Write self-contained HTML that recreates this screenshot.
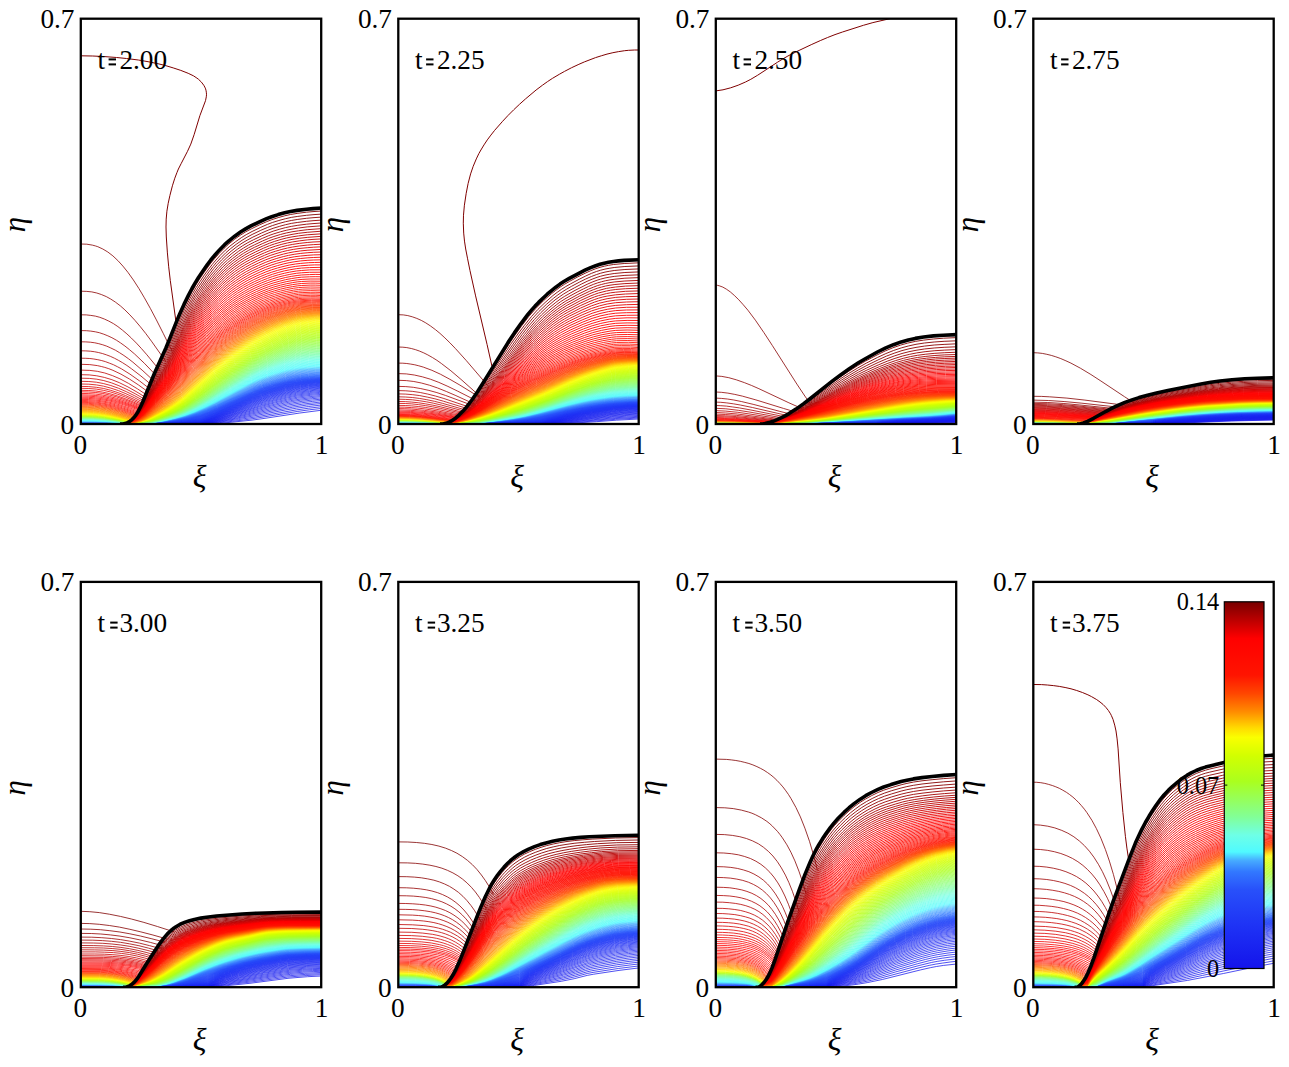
<!DOCTYPE html><html><head><meta charset="utf-8"><title>contours</title><style>
html,body{margin:0;padding:0;background:#fff}svg{display:block}text{font-family:"Liberation Serif",serif;fill:#000}.a{font-size:27.3px}.i{font-style:italic;font-size:32px}.e{font-style:italic;font-size:31px}path{fill:none}.f{fill:none;stroke:#000;stroke-width:2.3}.k{stroke:#000;stroke-width:3.6;stroke-linejoin:round}.l path{stroke-width:.8}
</style></head><body>
<svg width="1289" height="1067" viewBox="0 0 1289 1067">
<rect width="1289" height="1067" fill="#fff"/>
<clipPath id="c0"><rect x="80.8" y="18.7" width="240.4" height="405.3"/></clipPath>
<g clip-path="url(#c0)">
<g class="l">
<path d="M80.8 244l6 0.2 5.5 0.9 3 0.8 2.5 0.8 5 2.3 5 3 5.1 3.9 5 4.7 5 5.5 5 6.2 5.5 7.7 5.5 8.5 5.5 9.3 6 10.7 6 11.4 7 13.8 8.6 17.4" stroke="#860000" stroke-width="1"/>
<path d="M80.8 291.2l6 0.2 5 0.5 5 1.1 4.5 1.5 5 2.1 4.5 2.5 4.6 3 5 3.8 4.5 4 5 5 5 5.4 5.5 6.5 5.5 6.9 6 8.1 14 19.8" stroke="#8c0000" stroke-width="1"/>
<path d="M80.8 314.8l5.5 0.1 4.5 0.5 4.5 0.7 4.5 1.2 4.5 1.7 4.5 2.1 4.6 2.5 4.5 3 4.5 3.5 4.5 3.8 4.5 4.2 5 5 5 5.4 5.5 6.3 13.5 16.4" stroke="#930000" stroke-width="1"/>
<path d="M80.8 330.6l5.5 0.1 4.5 0.4 4.5 0.7 4 0.9 4.5 1.5 4 1.6 4.1 1.9 4.5 2.5 4 2.6 4.5 3.2 4.5 3.6 5 4.2 10 9.5 13 13.5" stroke="#9a0000" stroke-width="1"/>
<path d="M80.8 341.8l5 0.1 4.5 0.3 4.5 0.6 4 0.9 4 1.1 4 1.4 4 1.8 4.6 2.2 4 2.4 4.5 2.9 4.5 3.2 4.5 3.5 10 8.6 12 11.1" stroke="#a10000" stroke-width="1"/>
<path d="M80.8 350.8l5 0.1 4.5 0.3 4 0.5 4 0.8 4 1 4 1.3 4 1.5 4.1 1.9 4 2.1 4 2.3 4.5 2.9 4.5 3.2 9.5 7.3 12.5 10.5" stroke="#a70000" stroke-width="1"/>
<path d="M80.8 358.2l5 0.1 4 0.2 4 0.5 4 0.7 4 0.9 3.5 1 4 1.5 4.1 1.6 4 2 4 2.1 8.5 5.3 9.5 6.7 12 9.3" stroke="#ae0000" stroke-width="1"/>
<path d="M80.8 364.3l9 0.3 7.5 1 4 0.9 3.5 0.9 4 1.3 4.1 1.6 8 3.8 8.5 4.9 9 5.9 11.5 8.3" stroke="#b40000" stroke-width="1"/>
<path d="M80.8 370.1l9 0.3 7.5 0.9 7.5 1.7 7.6 2.6 7.5 3.2 8.5 4.5 9 5.5 11.5 7.6" stroke="#bc0000" stroke-width="1"/>
<path d="M80.8 374.7l8.5 0.2 7.5 0.9 7.5 1.6 7.6 2.3 7.5 3 8.5 4.2 9 5.1 11 6.8" stroke="#c30000" stroke-width="1"/>
<path d="M80.8 378.2l8.5 0.2 7.5 0.8 7 1.4 7.6 2.2 7.5 2.9 8 3.7 9 4.7 11 6.4" stroke="#c90000" stroke-width="1"/>
<path d="M80.8 381.3l8 0.2 7.5 0.7 7 1.3 7.5 2 7.6 2.7 8 3.5 8.5 4.2 11 6" stroke="#d00000" stroke-width="1"/>
<path d="M80.8 384l8 0.2 7.5 0.7 7 1.2 7.5 2 7.6 2.5 7.5 3.1 8.5 4 11 5.7" stroke="#d60000" stroke-width=".95"/>
<path d="M80.8 386.4l8 0.2 7.5 0.7 7 1.1 7 1.8 7.6 2.4 7.5 2.9 8.5 3.8 11 5.4" stroke="#dd0000" stroke-width=".95"/>
<path d="M80.8 388.3l8 0.2 7.5 0.6 7 1.2 7 1.6 7.6 2.4 7.5 2.8 8.5 3.7 10.5 4.9" stroke="#e40000" stroke-width=".9"/>
<path d="M80.8 390.3l8 0.2 7 0.5 7 1.1 7 1.6 7.6 2.2 7.5 2.7 8.5 3.4 10.5 4.7" stroke="#eb0000" stroke-width=".9"/>
<path d="M80.8 391.8l8 0.2 7 0.5 7 1 7 1.6 7.1 1.9 7.5 2.6 8.5 3.3 10.5 4.5" stroke="#f00000" stroke-width=".85"/>
<path d="M80.8 393.4l8 0.2 7 0.5 6.5 0.9 7 1.4 7.1 1.9 7.5 2.4 8.5 3.2 10.5 4.3" stroke="#f70000" stroke-width=".85"/>
<path d="M80.8 394.8l8 0.2 7 0.5 6.5 0.8 7 1.4 7.1 1.8 7.5 2.4 8 2.9 10.5 4.1" stroke="#fd0000"/>
<path d="M80.8 396l8 0.2 7 0.5 6.5 0.8 7 1.4 7.1 1.7 7.5 2.3 8 2.8 10.5 4" stroke="#ff0100"/>
<path d="M80.8 397.2l7.5 0.1 7 0.5 6.5 0.8 7 1.3 7.1 1.6 7.5 2.2 8 2.7 10.5 3.8" stroke="#ff0200"/>
<path d="M80.8 398.3l7.5 0.1 7 0.5 6.5 0.8 7 1.2 7.1 1.7 7.5 2.1 8 2.7 10 3.5" stroke="#ff0400"/>
<path d="M80.8 399.4l7.5 0.1 7 0.5 6.5 0.8 7 1.3 7.1 1.6 7 2.1 8 2.6 10 3.6" stroke="#ff0700"/>
<path d="M80.8 400.4l7.5 0.2 7 0.4 6.5 0.8 6.5 1.2 7.1 1.7 7 2 8 2.7 10 3.6" stroke="#ff0a00"/>
<path d="M80.8 401.4l7.5 0.2 7 0.4 6.5 0.9 6.5 1.2 7.1 1.6 7 2.1 7.5 2.5 10 3.6" stroke="#ff0d00"/>
<path d="M80.8 402.4l7.5 0.1 6.5 0.4 6.5 0.8 6.5 1.2 7.1 1.7 7 2 7.5 2.5 10 3.6" stroke="#ff1100"/>
<path d="M80.8 403.3l7.5 0.1 6.5 0.4 6.5 0.9 6.5 1.1 6.6 1.6 7 2 7.5 2.5 10 3.6" stroke="#ff1400"/>
<path d="M80.8 404.2l7.5 0.1 6.5 0.4 6 0.8 6.5 1.1 6.6 1.6 7 1.9 7.5 2.5 10 3.6" stroke="#ff2400"/>
<path d="M80.8 405l7.5 0.1 6.5 0.5 6 0.7 6.5 1.2 6.6 1.5 7 2 7.5 2.4 9.5 3.4" stroke="#ff3600"/>
<path d="M80.8 405.8l7 0.1 6.5 0.4 6 0.7 6.5 1.2 6.6 1.5 7 1.9 7.5 2.4 9.5 3.4" stroke="#ff4700"/>
<path d="M80.8 406.6l7 0.1 6.5 0.4 6 0.7 6.5 1.1 6.6 1.5 6.5 1.8 7.5 2.4 9.5 3.3" stroke="#ff5b00"/>
<path d="M80.8 407.3l7 0.1 6.5 0.4 6 0.7 6 1.1 6.6 1.4 6.5 1.8 7.5 2.3 9.5 3.3" stroke="#ff6b00"/>
<path d="M80.8 408l7 0.1 6 0.4 6 0.6 6.5 1.1 6.6 1.5 6.5 1.8 7.5 2.3 9 3" stroke="#ff7700"/>
<path d="M80.8 408.7l7 0.1 6 0.3 6 0.7 6 1 6.6 1.4 6.5 1.8 7.5 2.2 9 3" stroke="#ff8200"/>
<path d="M80.8 409.3l7 0.1 6 0.4 6 0.6 6 1 6.1 1.3 6.5 1.7 7.5 2.3 9 2.9" stroke="#ff8c00"/>
<path d="M80.8 409.9l7 0.1 6 0.4 6 0.7 6 0.9 6.1 1.3 6.5 1.7 7.5 2.2 9 2.9" stroke="#ff9700"/>
<path d="M80.8 410.5l6.5 0.1 6 0.3 6 0.7 6 0.9 6.1 1.3 6.5 1.6 7.5 2.1 9 2.9" stroke="#ffa200"/>
<path d="M80.8 411.1l6.5 0.1 6 0.3 6 0.6 6 1 6.1 1.2 6.5 1.6 16 4.8" stroke="#ffad00"/>
<path d="M80.8 411.6l6.5 0.1 6 0.3 6 0.7 6 0.9 6.1 1.2 6.5 1.6 15.5 4.5" stroke="#ffb800"/>
<path d="M80.8 412.1l6.5 0.1 6 0.4 5.5 0.5 6 0.9 6 1.2 6.6 1.5 16 4.6" stroke="#ffc500"/>
<path d="M80.8 412.6l6.5 0.1 6 0.3 5.5 0.6 6 0.9 6 1.1 6.6 1.5 15.5 4.4" stroke="#ffd200"/>
<path d="M80.8 413.1l6.5 0.1 6 0.3 5.5 0.5 6 0.9 6 1.1 6.1 1.4 15.5 4.2" stroke="#ffdf00"/>
<path d="M80.8 413.6l6.5 0.1 6 0.3 5.5 0.5 6 0.8 6 1.1 6.1 1.4 15.5 4.1" stroke="#fdeb00"/>
<path d="M80.8 414l6.5 0.1 5.5 0.3 5.5 0.5 6 0.8 6 1 6.1 1.3 15.5 4.1" stroke="#fbf800"/>
<path d="M80.8 414.5l6.5 0.1 5.5 0.2 5.5 0.5 6 0.8 6 1 6.1 1.3 15 3.8" stroke="#f4ff00"/>
<path d="M80.8 414.9l6.5 0.1 5.5 0.3 5.5 0.4 6 0.8 6 1 6.6 1.4 8.5 2 6 1.6" stroke="#e8ff00"/>
<path d="M80.8 415.4l6.5 0.1 5.5 0.2 5.5 0.5 6 0.7 6 1 6.6 1.3 8 1.9 6 1.6" stroke="#d8ff00"/>
<path d="M80.8 415.8l12 0.3 5.5 0.5 6 0.7 6 1 7.1 1.4 7 1.6 6 1.6" stroke="#caff06"/>
<path d="M80.8 416.3l12 0.3 5.5 0.4 6 0.7 6.5 1.1 7.1 1.3 6.5 1.5 6 1.6" stroke="#bdff10"/>
<path d="M80.8 416.7l12 0.3 5.5 0.5 6 0.6 6.5 1 7.6 1.4 5.5 1.3 6 1.5" stroke="#afff1a"/>
<path d="M80.8 417.2l12 0.3 5.5 0.4 6 0.6 7.1 1.1 8 1.5 10 2.4" stroke="#a3ff32"/>
<path d="M80.8 417.6l12 0.3 11.5 1 6.5 1 7.6 1.3 5 1 5.5 1.4" stroke="#99ff50"/>
<path d="M80.8 418.1l12.5 0.3 11.5 1 13.6 2.1 5 1 5.5 1.4" stroke="#90ff6c"/>
<path d="M80.8 418.5l12.5 0.3 12 1 12.6 1.9 5 1 5.5 1.4" stroke="#88ff85"/>
<path d="M80.8 419l13 0.3 12 1 11.6 1.6 5 1 5.5 1.4" stroke="#80ff9f"/>
<path d="M80.8 419.4l13 0.3 12.5 1 11.1 1.5 5 1 5 1.2" stroke="#78ffbc"/>
<path d="M80.8 419.9l13 0.2 12.5 1 10.1 1.2 4.5 0.9 5.5 1.3" stroke="#71ffda"/>
<path d="M80.8 420.3l13 0.3 12.5 0.8 9.6 1.1 9 1.9" stroke="#67feeb"/>
<path d="M80.8 420.8l13.5 0.2 13 0.8 8.1 0.9 8.5 1.8" stroke="#5cfcf5"/>
<path d="M80.8 421.2l13.5 0.2 13 0.8 7.6 0.8 7.5 1.4" stroke="#51fafe"/>
<path d="M80.8 421.7l14 0.2 14 0.7 6.1 0.7 6.5 1.2" stroke="#4bd5ff"/>
<path d="M80.8 422.1l14 0.2 13.5 0.6 5.6 0.5 6 1.1" stroke="#45a7ff"/>
<path d="M80.8 422.6l14 0.1 13 0.4 5.1 0.5 5.5 0.9" stroke="#337bff"/>
<path d="M80.8 423l13.5 0.1 12.5 0.3 5.1 0.4 5 0.7" stroke="#274efa"/>
<path d="M80.8 423.5l25.5 0.2 4 0.2 4.6 0.6" stroke="#1f35f5"/>
</g>
<g stroke-width=".9">
<path d="M124 423.8l2-0.5 2-0.8 2-1.2 2-1.5 2-2 1.5-1.9 1.5-2.1 2-3.4 2-3.9 2.5-5.4 12-28.2 11.1-24 10.2-24.9 3.6-8.5 4.3-9.5 4.4-8.8 2.9-5.5 3.6-6.3 3.6-5.8 4.4-6.6 7.2-9.9 3.7-4.4 4.3-4.9 5.1-5.3 5-4.6 5.8-4.7 5.8-4.1 5.1-3.2 5.8-3.1 8-3.9 7.2-3.2 5.1-2 6.5-2.1 6.5-1.8 5.8-1.3 6.6-1.1 9.4-1.2 6.5-0.6 8.7-0.6" stroke="#7f0000"/>
<path d="M124 423.8l2-0.5 2-0.8 2-1.1 2-1.4 2-2 1.5-1.7 1.5-2.1 2-3.2 2-3.8 2.5-5.2 12-27.2 10.4-21.6 3.6-8.3 10.9-26.2 4.3-9.5 5.1-10.3 2.9-5.4 3.6-6.2 3.7-5.7 4.3-6.5 4.4-6 3.6-4.7 3.6-4.3 4.3-4.8 5.1-5.1 4.4-3.9 5.8-4.5 5.8-4.1 5-3.1 5.8-3.1 8.7-4.2 6.6-2.9 5-1.9 6.5-2 6.6-1.8 5.8-1.3 6.5-1 8.7-1.1 6.5-0.6 8.7-0.6" stroke="#860000"/>
<path d="M124 423.8l2.5-0.6 2-0.8 2-1.2 2-1.5 1.5-1.4 2-2.3 1.5-2.1 2-3.2 2-3.8 2.5-5.1 11.5-25.1 10.4-20.9 3.6-8.1 11.6-27.5 5.1-10.9 5.1-10 2.9-5.2 3.6-6 8-12 3.6-4.9 3.6-4.6 3.6-4.3 4.4-4.7 5-5 4.4-3.8 5.8-4.5 5.8-4 5.1-3.1 5-2.7 8.7-4.2 6.6-2.8 5-1.9 6.5-2.1 6.6-1.8 5.8-1.2 6.5-1.1 8.7-1.1 6.5-0.6 8.7-0.6" stroke="#8c0000"/>
<path d="M124 423.8l2.5-0.6 2-0.8 2-1 2-1.5 1.5-1.3 2-2.3 1.5-2 2-3.1 2-3.5 2.5-5 11-23.2 8.7-16.8 2.9-5.9 3.6-8 8-18.9 3.6-8.2 5.1-10.8 5.1-9.9 2.9-5.1 3.6-5.9 8-11.9 3.6-4.8 3.6-4.6 3.6-4.2 4.4-4.7 4.3-4.2 5.1-4.4 5.8-4.5 5.1-3.5 5.1-3 5.8-3.1 8.7-4.1 6.5-2.8 5-1.9 6.6-2 5.8-1.6 5.8-1.3 6.5-1 8.7-1.1 6.5-0.6 8.7-0.6" stroke="#930000"/>
<path d="M124.5 423.8l2.5-0.7 2-0.8 2-1.1 2-1.5 1.5-1.4 2-2.3 1.5-2 2-3.1 4-7.3 11-22.4 8-14.9 3.6-7.1 4.4-9.5 7.2-17 4.4-9.7 5.8-12.1 4.3-8.3 2.9-5 3.6-5.8 4.4-6.6 3.6-5.1 3.6-4.9 3.7-4.4 3.6-4.2 4.3-4.6 4.4-4.2 5-4.3 5.8-4.4 5.1-3.4 5.1-3 5.8-3 8-3.8 6.5-2.8 5-1.9 6.6-2 5.8-1.6 5.8-1.2 6.5-1.1 8.7-1.1 6.5-0.6 8.7-0.6" stroke="#9a0000"/>
<path d="M124.5 423.8l2.5-0.7 2-0.8 2-1 2-1.4 1.5-1.4 2-2.1 3.5-5 4-7.1 11-21.6 8-14.4 3.6-6.9 4.4-9.3 7.9-18.4 4.4-9.6 5.8-11.9 4.3-8.1 6.6-10.7 4.3-6.5 3.6-5 3.7-4.8 3.6-4.4 3.6-4 4.3-4.6 4.4-4.1 5.1-4.2 5.8-4.4 5-3.3 5.1-3 5.8-3 8-3.7 6.5-2.8 5.1-1.8 6.5-2 5.8-1.5 5.8-1.2 6.5-1.1 8.7-1.1 14.5-1.1" stroke="#a10000"/>
<path d="M124.5 423.8l2.5-0.6 2.5-1 2-1.1 2-1.5 1.5-1.3 2-2.3 3.5-4.9 4-7 10.5-20.1 8-14 3.6-6.8 4.4-9 8.7-19.7 4.3-9.4 5.1-10.3 4.3-8.1 6.6-10.6 4.3-6.5 3.6-5.1 3.7-4.7 3.6-4.4 3.6-4.1 4.3-4.5 4.4-4.1 5.1-4.2 5.8-4.4 5-3.3 5.1-3 5.8-2.9 8-3.8 6.5-2.8 5.1-1.8 6.5-2 5.8-1.5 5.8-1.2 6.5-1 8.7-1.1 14.5-1.1" stroke="#a70000"/>
<path d="M124.5 423.8l2.5-0.6 2.5-1 2-1 2-1.4 1.5-1.4 2-2.1 3.5-4.8 4-6.9 10.5-19.5 8.7-15 3.6-6.7 4.4-9 8-17.9 4.3-9.3 5.8-11.6 4.4-7.8 3.6-6 3.6-5.5 4.4-6.3 3.6-4.9 3.6-4.6 3.6-4.2 7.3-7.7 4.3-4 4.4-3.6 5.8-4.3 5-3.3 5.1-3 5.8-3 8-3.7 6.5-2.8 5.1-1.8 6.5-2 5.8-1.5 5.8-1.2 6.5-1.1 8.7-1 14.5-1.1" stroke="#ae0000"/>
<path d="M124.5 423.8l2.5-0.6 2.5-0.9 2-1.1 2-1.3 1.5-1.3 2-2.1 3.5-4.7 3.5-5.8 10.5-19.1 9.2-15.6 3.6-6.6 4.4-8.8 8-17.5 5-10.7 5.1-10 4.4-7.7 7.2-11.5 4.4-6.2 3.6-4.9 3.6-4.5 3.6-4.2 7.3-7.6 4.3-4 5.1-4.2 5.8-4.2 5.1-3.3 5-2.9 6.6-3.3 7.9-3.6 5.8-2.4 5.1-1.8 6.5-2 5.8-1.5 5.1-1 6.5-1 8.7-1.1 14.5-1" stroke="#b50000"/>
<path d="M124.5 423.8l2.5-0.6 2.5-0.9 2-1 2-1.3 1.5-1.3 2-2 2-2.5 2-2.9 4-6.6 10-17.8 8.7-14.4 3.6-6.5 4.4-8.6 8.7-18.8 5.1-10.4 5-9.7 4.4-7.6 7.2-11.2 4.4-6.1 3.6-4.8 3.6-4.4 3.6-4.1 7.3-7.5 4.3-3.9 5.1-4 5.1-3.7 5.1-3.3 5-2.8 6.6-3.3 7.9-3.7 5.8-2.4 5.1-1.8 6.5-1.9 5.8-1.5 5.1-1.1 7.2-1.1 8-0.9 14.5-1.1" stroke="#bc0000"/>
<path d="M124.5 423.8l2.5-0.5 2.5-0.9 2-1 2-1.3 1.5-1.2 2-2 2-2.5 2-2.8 4-6.4 10-17.5 8.7-14.1 3.6-6.3 4.4-8.5 8.7-18.4 5.1-10.3 5-9.6 4.4-7.5 7.2-11 4.4-6.1 3.6-4.7 3.6-4.5 3.6-4.1 7.3-7.3 4.3-3.9 5.1-4.1 5.1-3.6 5.1-3.3 5-2.8 6.6-3.3 7.9-3.7 5.8-2.4 5.8-2 6.5-1.9 5.8-1.4 5.1-1 6.5-1 8-1 5.8-0.5 8.7-0.5" stroke="#c20000"/>
<path d="M124.5 423.8l2.5-0.5 2.5-0.9 2-0.9 2-1.3 1.5-1.2 2-2 2-2.3 2-2.8 4-6.3 10-17.1 8.7-13.9 3.6-6.2 4.4-8.3 8.7-18 5.1-10.1 5-9.5 4.4-7.4 7.2-10.9 4.4-6.1 3.6-4.7 3.6-4.3 3.6-4.1 4.4-4.5 3.6-3.5 4.4-3.8 5-3.9 5.1-3.6 5.1-3.2 5.8-3.2 6.5-3.2 7.3-3.3 5.7-2.3 5.1-1.7 6.5-2 5.8-1.4 5.1-1 6.5-1 8-0.9 5.8-0.5 8.7-0.4" stroke="#c90000"/>
<path d="M124.5 423.8l2.5-0.5 2.5-0.8 2-1 2-1.2 1.5-1.2 2-1.9 2-2.3 2-2.7 4-6.2 10-16.7 8.7-13.6 3.6-6.1 4.4-8.2 8.7-17.7 5.8-11.3 5.1-9.3 4.3-7.1 8-11.7 7.2-9.5 7.3-8.2 7.2-7.2 4.4-3.7 5-4 5.1-3.5 5.1-3.2 5.8-3.2 6.5-3.2 7.3-3.3 5.7-2.3 5.1-1.7 6.5-1.9 5.8-1.4 5.1-1 6.5-1 8-0.9 6.5-0.5 8-0.4" stroke="#d00000"/>
<path d="M124.5 423.8l2.5-0.5 2.5-0.8 2-0.9 2-1.2 1.5-1.1 2-1.9 2-2.3 2-2.6 4-6.1 10-16.4 8.7-13.4 3.6-5.9 4.4-8 8.7-17.4 5.8-11.1 5.1-9.1 4.3-7.1 8-11.6 7.2-9.3 7.3-8.2 4.3-4.4 3.6-3.4 4.4-3.6 5.1-3.9 5-3.4 5.1-3.1 5.8-3.2 6.5-3.2 6.6-2.9 5.7-2.3 5.8-1.9 6.6-1.9 5-1.2 5.8-1.1 6.6-1 7.2-0.7 6.5-0.5 8-0.4" stroke="#d70000"/>
<path d="M124.5 423.8l2.5-0.5 2.5-0.8 2-0.9 2-1.1 1.5-1.1 2-1.9 2-2.2 2-2.5 3.5-5.2 10-16.1 9.2-13.9 3.6-5.9 4.4-7.8 9.4-18.4 5.8-10.9 4.4-7.7 4.3-6.9 8-11.4 7.2-9.3 7.3-8.1 4.3-4.3 3.6-3.4 4.4-3.6 5.1-3.8 5-3.5 5.1-3.1 5.8-3.1 7.3-3.5 6.5-2.9 5.8-2.2 5.8-1.9 6.5-1.8 5.1-1.2 5.8-1.1 6.5-0.9 7.2-0.7 13.8-0.8" stroke="#dd0000"/>
<path d="M124.5 423.8l2.5-0.5 2.5-0.7 2.5-1.2 2-1.2 2-1.6 1.5-1.4 2-2.3 2-2.6 4-5.9 9.5-15.1 8.7-12.8 3.6-5.8 4.4-7.6 9.4-18.1 5.8-10.7 4.4-7.5 4.3-6.9 8-11.2 7.2-9.2 7.3-8 4.3-4.3 3.6-3.3 4.4-3.6 5.1-3.8 5.8-3.9 5-3 5.8-3.1 6.6-3.1 6.5-2.9 5.8-2.2 5.8-1.9 6.5-1.8 5.1-1.2 5.8-1.1 6.5-0.9 7.2-0.7 5.8-0.4 8-0.3" stroke="#e40000"/>
<path d="M125 423.8l2.5-0.6 2.5-0.8 2-0.9 2-1.2 2-1.5 1.5-1.5 2-2.2 2-2.5 4-5.8 9.5-14.8 8.7-12.6 3.6-5.7 4.4-7.5 9.4-17.7 5.8-10.5 4.4-7.4 4.3-6.8 8-11.1 7.2-9 7.3-8 4.3-4.2 3.6-3.3 4.4-3.6 5.1-3.7 5.8-3.9 5-3 5.8-3.1 6.6-3.1 6.5-2.8 5.8-2.3 5.8-1.8 6.5-1.8 5.1-1.2 5.8-1.1 6.5-0.8 7.2-0.7 5.8-0.4 8-0.2" stroke="#eb0000"/>
<path d="M125 423.8l2.5-0.6 2-0.6 2.5-1 2-1.2 2-1.5 1.5-1.4 2-2.2 2-2.5 4-5.7 9.5-14.5 8.7-12.4 3.6-5.5 4.4-7.4 9.4-17.4 6.5-11.5 4.4-7.2 4.3-6.6 8-10.8 7.3-8.8 7.2-7.8 4.3-4.1 3.7-3.2 4.3-3.5 5.1-3.7 5.8-3.7 5.1-3 5-2.7 7.3-3.4 5.8-2.5 5.8-2.2 5.8-1.9 6.5-1.7 5.8-1.4 5.8-1 5.8-0.7 7.2-0.7 5.8-0.3 8-0.3" stroke="#f20000"/>
<path d="M125 423.8l2.5-0.5 2-0.6 2.5-1.1 2-1.1 2-1.5 1.5-1.4 2-2.1 2-2.4 4-5.6 9.5-14.3 8.7-12.2 3.6-5.4 4.4-7.3 9.4-17 6.5-11.3 4.4-7.1 4.3-6.4 8-10.7 7.3-8.7 7.2-7.7 4.3-4.1 3.7-3.1 4.3-3.5 5.1-3.6 5.8-3.8 5.1-2.9 5.8-3 7.2-3.4 5.8-2.5 5.8-2.1 5.8-1.8 6.5-1.8 5.1-1.1 5.8-1 5.8-0.8 7.2-0.6 5.8-0.3 8-0.2" stroke="#f80000"/>
<path d="M125 423.8l2.5-0.5 2-0.6 2.5-1 2-1.1 3.5-2.8 2-2.1 2-2.4 4-5.5 9.5-14 8.7-12 3.6-5.4 4.4-7.1 9.4-16.6 6.5-11.2 4.4-6.9 4.3-6.3 8-10.5 7.3-8.6 7.2-7.6 4.3-4.1 3.7-3.1 4.3-3.4 5.1-3.6 5.8-3.7 5.1-3 5.8-3 7.2-3.3 5.8-2.5 5.8-2.1 5.8-1.8 6.5-1.7 5.1-1.2 6.5-1.1 5.1-0.6 8-0.7 5.8-0.2 7.2-0.2" stroke="#ff0000"/>
<path d="M125 423.8l2.5-0.5 2-0.6 2.5-1 2-1 3.5-2.8 2-2.1 2-2.3 4-5.4 9.5-13.8 8.7-11.8 3.6-5.2 4.4-7 9.4-16.3 6.5-10.9 4.4-6.8 4.3-6.3 8-10.3 8-9.3 7.2-7.3 4.4-4 3.6-3.1 4.3-3.3 5.1-3.5 5.8-3.6 5.1-2.9 5.8-3 7.2-3.3 5.8-2.4 5.1-1.8 5.8-1.8 6.5-1.7 5.1-1.2 6.5-1.1 5.1-0.6 8-0.6 5.8-0.3 7.2 0" stroke="#ff0100"/>
<path d="M125 423.8l2.5-0.5 2-0.5 2.5-1 2-1.1 3.5-2.7 2-2 2-2.3 4-5.3 9.5-13.5 8.7-11.7 3.6-5.1 4.4-6.9 8.7-14.7 7.2-11.9 4.4-6.7 4.3-6.1 8-10.2 8-9.1 7.2-7.3 4.4-4 3.6-3 5.1-3.8 5-3.4 5.8-3.6 5.1-2.8 5.8-2.9 7.3-3.3 5.8-2.3 5-1.8 5.8-1.8 6.5-1.7 5.1-1 6.5-1.1 5.1-0.6 8-0.5 12.3-0.3" stroke="#ff0200"/>
<path d="M125 423.8l4.5-1 2.5-1 2-1 3.5-2.7 2-1.9 2-2.3 4-5.2 10-14 8.2-10.8 3.6-5 4.4-6.7 15.9-26.1 4.4-6.6 4.3-6 8-10 8-9.1 7.2-7.1 4.4-3.9 3.6-3 5.1-3.8 5-3.4 5.8-3.5 5.1-2.9 5.8-2.9 7.3-3.2 5.8-2.3 5-1.8 5.8-1.8 6.5-1.6 5.1-1.1 6.5-1.1 5.1-0.5 8-0.6 12.3-0.1" stroke="#ff0300"/>
<path d="M125 423.8l4.5-1 2.5-0.9 2-1 3.5-2.6 2-2 2-2.2 4-5.1 10-13.8 8.2-10.6 3.6-5 4.4-6.6 15.9-25.5 4.4-6.4 4.3-5.9 8.7-10.7 8-8.8 3.6-3.7 4.4-4 7.2-6 5.1-3.7 5.1-3.3 5.8-3.5 5-2.8 5.8-2.9 6.6-2.9 5.8-2.3 5-1.7 5.8-1.8 6.5-1.6 5.1-1.1 6.5-1.1 5.1-0.5 8-0.5 12.3-0.1" stroke="#ff0400"/>
<path d="M125 423.8l4.5-1 2.5-0.9 2-1 3.5-2.5 2-1.9 2-2.2 3.5-4.4 10-13.5 8.7-11.1 3.6-4.9 4.4-6.5 15.9-25 4.4-6.3 4.3-5.8 8.7-10.5 8-8.7 3.6-3.6 4.4-4 7.2-6 4.4-3.1 5.8-3.8 5.8-3.5 5-2.7 5.8-2.9 7.3-3.2 5.8-2.2 5-1.8 6.6-1.8 5.8-1.5 5.8-1.1 5.8-0.9 4.3-0.5 8-0.4 5.8-0.2 6.5 0.1" stroke="#ff0500"/>
<path d="M125 423.8l4.5-0.9 2.5-0.9 2-1 3.5-2.5 4-4 3.5-4.3 10-13.4 8.7-10.9 3.6-4.8 4.4-6.4 15.9-24.4 4.4-6.2 4.3-5.7 8.7-10.3 8-8.6 8-7.5 7.2-5.9 4.4-3.1 5.8-3.8 5.8-3.4 5.8-3.2 5.8-2.8 6.5-2.8 5.8-2.3 5-1.7 6.6-1.8 5.8-1.5 5.8-1.1 5.8-0.9 4.3-0.5 8-0.4 5.8-0.1 6.5 0.1" stroke="#ff0600"/>
<path d="M125 423.8l4.5-0.9 2.5-0.9 2-0.9 3.5-2.5 4-3.9 3.5-4.3 10-13.1 8.7-10.7 3.6-4.8 4.4-6.2 16.7-25 4.3-6 4.4-5.5 8.7-10.1 7.9-8.4 8-7.3 7.2-5.7 5.1-3.5 5.1-3.3 5.8-3.4 5.8-3 5.8-2.8 6.5-2.8 5.8-2.2 5.1-1.7 6.5-1.8 5.8-1.4 5.8-1.1 5.8-0.8 4.3-0.4 8-0.4 11.6 0" stroke="#ff0700"/>
<path d="M125 423.8l4.5-0.9 2.5-0.8 2-1 3.5-2.4 4-3.9 3.5-4.1 10-13 8.7-10.5 3.6-4.7 4.4-6.1 16.7-24.5 4.3-5.9 4.4-5.4 8.7-9.9 7.9-8.3 8-7.2 7.2-5.7 4.4-3 5.8-3.6 5.8-3.4 5.8-3.1 5.8-2.7 6.5-2.8 5.8-2.2 5.1-1.7 6.5-1.8 5.8-1.4 6.5-1.2 5.1-0.8 3.6-0.3 8.7-0.4 11.6 0.1" stroke="#ff0800"/>
<path d="M125 423.8l4.5-0.9 2.5-0.8 2-0.9 3.5-2.4 4-3.8 3.5-4.1 10-12.7 8.7-10.4 3.6-4.6 3.7-5 17.4-25 3.6-4.8 4.3-5.4 8.7-9.8 8.7-9 8-7.1 7.2-5.6 4.4-3 5.8-3.7 5.8-3.3 5.8-3.1 5.8-2.7 6.5-2.8 5.8-2.2 5.1-1.7 6.5-1.8 5.8-1.4 6.5-1.2 5.1-0.7 3.6-0.4 8.7-0.4 5.1 0 6.5 0.2" stroke="#ff0900"/>
<path d="M125.5 423.8l4.5-1 4-1.5 3.5-2.4 4-3.7 3.5-4 10-12.6 11.6-13.8 4.4-5.8 17.4-24.5 4.3-5.6 4.4-5.2 8.7-9.7 7.9-8 8-7.1 4.3-3.4 3.7-2.7 5-3.3 5.8-3.6 5.8-3.3 5.1-2.6 6.5-3 5.8-2.5 5.1-1.9 5.8-1.8 5.8-1.6 5.8-1.4 6.5-1.2 5.1-0.8 3.6-0.3 8.7-0.4 5.1 0 6.5 0.2" stroke="#ff0a00"/>
</g>
<g stroke-width=".85">
<path d="M125.5 423.8l4.5-1 4-1.5 3.5-2.3 4-3.6 3.5-4 10-12.3 11.6-13.7 4.4-5.7 17.4-23.9 3.6-4.7 5.1-6 9.4-10.2 8-7.9 7.9-6.9 7.3-5.4 4.3-2.9 5.8-3.6 6.5-3.7 5.1-2.6 6.5-3.1 5.8-2.4 5.1-1.9 5.8-1.9 5.8-1.5 5.8-1.4 7.2-1.4 5.1-0.7 4.4-0.3 7.9-0.3 10.9 0.2" stroke="#ff0b00"/>
<path d="M125.5 423.8l4.5-0.9 4-1.5 3.5-2.3 4-3.6 3.5-3.8 10.5-12.8 11.1-12.8 4.4-5.7 17.4-23.4 3.6-4.6 5.1-5.9 9.4-10 8-7.8 7.9-6.9 7.3-5.4 5-3.3 5.8-3.5 6.6-3.7 5-2.6 5.8-2.6 5.8-2.5 5.1-1.9 5.8-1.8 5.8-1.6 5.8-1.4 7.2-1.3 5.1-0.7 4.4-0.4 7.9-0.2 10.9 0.2" stroke="#ff0c00"/>
<path d="M125.5 423.8l4.5-0.9 4-1.4 3.5-2.3 4-3.5 3.5-3.8 10.5-12.5 11.1-12.7 4.4-5.5 18.1-23.9 3.6-4.4 4.4-5 9.4-9.9 8-7.7 7.9-6.8 8-5.8 5.1-3.3 5.8-3.5 5.8-3.2 5-2.6 6.6-3 5.8-2.4 5-1.9 5.8-1.8 5.8-1.6 5.8-1.3 6.5-1.2 5.1-0.7 4.4-0.3 7.9-0.3 10.9 0.3" stroke="#ff0d00"/>
<path d="M125.5 423.8l4.5-0.9 4-1.4 3.5-2.2 4-3.4 3.5-3.8 10.5-12.3 11.1-12.5 22.5-28.8 3.6-4.4 4.4-4.8 9.4-9.8 8-7.7 7.9-6.7 8-5.8 5.1-3.2 5.8-3.5 5.8-3.2 5-2.6 5.8-2.7 5.8-2.4 5.8-2.2 5.8-1.8 5.8-1.6 5.8-1.3 6.5-1.2 5.1-0.8 3.6-0.2 8.7-0.3 5.1 0 5.8 0.2" stroke="#ff0e00"/>
<path d="M125.5 423.8l4.5-0.9 4-1.3 3.5-2.2 4-3.3 4-4.3 10-11.6 11.1-12.2 22.5-28.3 3.6-4.3 5.1-5.6 9.4-9.6 8-7.5 7.9-6.6 8-5.7 5.1-3.2 6.5-3.8 5.1-2.8 5.1-2.6 5.8-2.6 5.8-2.4 5-1.9 5.8-1.8 5.8-1.6 5.8-1.3 7.3-1.4 4.3-0.6 3.6-0.3 8.7-0.3 5.1 0.1 5.8 0.2" stroke="#ff0f00"/>
<path d="M125.5 423.8l4.5-0.8 4-1.4 2-1.1 2-1.3 4-3.5 3.5-3.6 10-11.4 11.1-12.1 22.5-27.7 3.6-4.3 5.1-5.5 10.1-10.2 7.3-6.7 7.9-6.5 8-5.7 5.1-3.2 6.5-3.8 5.8-3.2 4.4-2.2 5.8-2.7 5.8-2.4 5-1.8 5.8-1.9 5.8-1.6 5.8-1.3 7.3-1.4 4.3-0.6 3.6-0.3 8.7-0.3 5.1 0 5.8 0.3" stroke="#ff1000"/>
<path d="M125.5 423.8l4.5-0.8 4-1.3 2-1.1 2-1.3 4-3.4 3.5-3.6 10-11.2 11.1-11.8 23.2-28.2 8-8.7 10.1-10.1 7.3-6.7 8.7-7 7.9-5.6 12.4-7.4 9.4-4.9 5.8-2.6 5.8-2.4 5-1.8 5.8-1.9 10.9-2.7 7.3-1.4 4.3-0.6 3.6-0.3 8.7-0.3 5.1 0 5.8 0.3" stroke="#ff1100"/>
<path d="M125.5 423.8l4.5-0.8 4-1.2 2-1.1 2-1.3 4-3.3 3.5-3.5 10-11 11.1-11.7 23.2-27.6 8.7-9.4 10.2-9.9 7.2-6.6 8-6.4 7.9-5.6 12.4-7.3 9.4-5 5.8-2.7 5.8-2.3 5-1.9 5.8-1.8 10.9-2.8 7.3-1.4 4.3-0.6 3.6-0.3 8.7-0.3 5.1 0 5.8 0.2" stroke="#ff1200"/>
<path d="M125.5 423.8l4.5-0.7 4-1.3 2-1 2-1.3 4-3.2 4-3.9 9.5-10.3 11.1-11.5 23.2-27.2 4.4-4.8 5-5.2 10.2-9.8 6.5-5.9 8.7-6.9 8-5.5 13-7.7 5.1-2.8 4.3-2.1 5.8-2.6 5.1-2 5.1-1.9 5.8-1.8 5.8-1.6 5-1.1 7.3-1.4 4.3-0.6 12.4-0.6 10.1 0.3" stroke="#ff1300"/>
<path d="M126 423.8l4.5-0.8 4-1.3 2-1.1 2-1.3 4-3.2 3.5-3.5 9.5-10 11.1-11.4 23.9-27.5 9.5-9.8 10.1-9.8 6.5-5.8 8.7-6.8 8-5.4 13-7.7 8.7-4.5 5.8-2.6 5.1-2.1 5.1-1.8 5.8-1.8 5.8-1.6 5-1.2 7.3-1.4 4.3-0.6 12.4-0.6 10.1 0.2" stroke="#ff1400"/>
<path d="M126 423.8l4.5-0.8 4-1.2 2-1.1 2-1.2 4-3.2 3.5-3.4 9.5-9.9 11.1-11.1 23.9-27.1 5.1-5.4 5.8-5.8 10.2-9.6 6.5-5.6 7.9-6.2 8-5.3 13.1-7.7 8.7-4.4 5.8-2.7 5-2 5.1-1.8 5.8-1.8 10.1-2.7 7.3-1.4 4.3-0.6 12.4-0.7 10.1 0.3" stroke="#ff1900"/>
</g>
<g stroke-width=".8">
<path d="M126 423.8l4.5-0.8 4-1.2 4-2.2 4-3.1 4-3.8 9-9.2 11.1-10.9 5.1-5.5 19.6-22 5-5.3 6.6-6.4 9.4-8.8 6.5-5.6 8-6.1 7.9-5.3 13.1-7.6 9.4-4.8 5.1-2.3 5.1-2 5-1.8 5.8-1.8 9.4-2.5 7.3-1.4 4.3-0.7 12.4-0.6 5 0 5.1 0.2" stroke="#ff1e00"/>
<path d="M126 423.8l4.5-0.7 4-1.2 4-2.1 2-1.4 2.5-2.1 3.5-3.2 9-9.1 11.1-10.7 14.5-15.8 10.2-11.3 5.8-6 7.2-7 8.7-8.1 7.2-6.1 7.3-5.4 8-5.3 12.3-7.2 9.4-4.8 5.1-2.3 5.1-2.1 5-1.8 5.8-1.8 9.4-2.5 7.3-1.5 4.3-0.7 12.4-0.7 5 0 5.1 0.2" stroke="#ff2300"/>
<path d="M126 423.8l4.5-0.7 4-1.1 4-2.1 2-1.4 2.5-2 3.5-3.1 9-8.9 11.1-10.5 14.5-15.5 10.9-12 7.2-7.3 8.7-8.3 7.3-6.6 7.2-5.8 6.5-4.8 7.3-4.7 12.3-7.2 9.4-4.8 5.1-2.3 5.1-2 5-1.8 5.8-1.9 9.5-2.4 6.5-1.4 4.3-0.7 12.4-0.7 5 0 5.1 0.1" stroke="#ff2800"/>
<path d="M126.5 423.8l5-0.8 3.5-1.1 4-2.2 4.5-3.3 3.5-3.2 8.5-8.1 11.8-11.1 13.8-14.5 11.6-12.7 7.3-7.2 9.4-8.9 6.5-5.9 8-6.3 6.5-4.7 7.2-4.6 12.4-7.2 9.4-4.7 5.1-2.2 5-2 5.1-1.8 5.8-1.8 8.7-2.2 6.5-1.3 4.4-0.7 12.3-0.7 9.4 0.1" stroke="#ff2d00"/>
<path d="M126.5 423.8l5-0.8 3.5-1 2-1 2.5-1.4 4.5-3.4 23.3-21.5 13.8-14.3 11.6-12.6 8-7.8 10.1-9.6 6.5-5.7 7.3-5.7 6.5-4.6 8-5 11.6-6.8 10.1-5 5.1-2.1 5.1-2 10.1-3.3 8-2 6.5-1.4 4.4-0.7 12.3-0.7 9.4 0.1" stroke="#ff3200"/>
<path d="M126.5 423.8l5-0.7 3.5-1 2-0.9 2.5-1.4 4.5-3.3 23.3-21.1 13.8-14.1 8.7-9.4 4.4-4.5 8.7-8.4 10.1-9.5 7.2-6 7.3-5.5 6.5-4.4 8.7-5.4 9.4-5.4 5.8-2.9 5.1-2.3 5.1-2.1 5-1.9 10.2-3.1 10.9-2.6 6.5-1.1 11.6-0.7 9.4 0.1" stroke="#ff3700"/>
<path d="M126.5 423.8l5.5-0.8 2-0.5 1.5-0.5 2-0.9 2.5-1.5 4.5-3.2 19.2-17 4.4-4 13-13.1 9.4-10.1 3.7-3.7 8.7-8.5 10.8-10 7.3-6.1 7.2-5.4 6.5-4.4 10.2-6.2 8.7-4.9 5.8-2.8 5.1-2.3 9.4-3.7 10.8-3.3 10.2-2.4 5.8-0.9 11.6-0.8 9.4 0.1" stroke="#ff3c00"/>
<path d="M127 423.8l5.5-0.8 1.5-0.4 2-0.7 4.5-2.4 4.5-3.3 18.7-16.1 4.4-4 13-12.9 9.4-10 4.4-4.4 8.7-8.4 10.9-10 7.2-6 7.2-5.4 6.6-4.3 10.1-6.3 8.7-4.8 10.2-4.9 9.4-3.6 10.8-3.4 10.2-2.4 5.8-1 11.6-0.8 9.4 0" stroke="#ff4100"/>
<path d="M127 423.8l6-0.9 3-0.9 4.5-2.3 5-3.6 18.2-15.4 5.1-4.5 12.3-12.1 9.4-10 5.1-5 12.3-11.8 7.3-6.6 7.2-5.9 6.5-4.8 7.3-4.8 10.9-6.7 8.7-4.8 9.4-4.4 9.4-3.7 10.9-3.4 9.4-2.2 5.8-1 11.6-0.8 9.4 0" stroke="#ff4600"/>
<path d="M127 423.8l6.5-0.9 3-1 4.5-2.3 5-3.5 17.7-14.7 5.8-5.2 11.6-11.2 9.4-9.9 5.8-5.8 13.1-12.3 6.5-5.9 7.2-5.9 6.6-4.8 7.2-4.7 10.9-6.7 4.3-2.5 5.1-2.7 9.4-4.3 9.4-3.6 10.2-3.1 9.4-2.3 5.1-0.8 11.6-0.9 9.4 0" stroke="#ff4d00"/>
</g>
<g stroke-width=".75">
<path d="M127.5 423.8l6.5-0.9 3-1.1 4.5-2.3 5.5-3.9 16.7-13.6 6.5-5.7 10.9-10.4 10.2-10.6 5.8-5.7 12.3-11.6 6.5-5.9 7.2-5.9 6.6-4.8 7.2-4.8 11.6-7.2 9.4-5.1 8.7-4 9.4-3.7 10.2-3.1 9.4-2.3 5.1-0.9 11.6-0.9 4.3-0.1 5.1 0.1" stroke="#ff5400"/>
<path d="M127.5 423.8l6.5-0.8 3-1.1 2.5-1.1 2.5-1.4 5.5-3.8 16.9-13.6 6.6-5.7 10.1-9.5 10.2-10.5 6.5-6.4 12.3-11.6 6.5-5.9 7.3-5.8 6.5-4.8 7.2-4.8 11.6-7.2 9.5-5.1 8.7-4 9.4-3.6 10.1-3.1 8.7-2.1 5.1-0.9 11.6-1 4.3-0.1 5.1 0.1" stroke="#ff5b00"/>
<path d="M128 423.8l6-0.7 4-1.4 2.5-1.2 2.5-1.5 5.5-3.9 15.9-12.4 7.3-6.3 10.1-9.4 9.5-9.8 7.2-7.1 12.3-11.6 6.5-5.7 7.3-5.9 6.5-4.7 8-5.2 10.9-6.8 9.4-5 8.7-4 8.7-3.4 10.1-3.1 8.7-2.2 5.1-0.9 11.6-1 4.3-0.1 5.1 0" stroke="#ff6200"/>
<path d="M128 423.8l6-0.7 4.5-1.5 2.5-1.2 2.5-1.4 6-4.3 15.7-12 7.9-6.8 8.7-8.1 9.5-9.7 8.7-8.4 12.3-11.6 6.5-5.6 6.5-5.2 6.5-4.7 10.9-7.1 8-4.9 8.7-4.7 8.7-4 8.7-3.4 10.1-3.2 8.7-2.2 5.1-0.9 11.6-1 4.3-0.2 5.1 0.1" stroke="#ff6900"/>
<path d="M128.5 423.8l4.5-0.5 2-0.3 3.5-1.3 3.5-1.6 3-1.8 3-2.1 14.5-10.8 7.7-6.3 10.2-9 10.9-11.1 6.5-6.3 13.8-13 6.5-5.7 7.2-5.8 6.5-4.8 12.4-8 7.2-4.4 8.7-4.7 8.7-4 8.7-3.3 10.1-3.3 8.7-2.1 5.1-0.9 11.6-1 8.7-0.1" stroke="#ff7000"/>
<path d="M129 423.8l5-0.5 1.5-0.4 3.5-1.2 3.5-1.7 6-3.8 15.2-11.2 7.3-5.8 9.4-8.3 10.9-11 7.2-7 13.8-13 6.5-5.7 6.5-5.2 6.5-4.7 12.4-8.1 7.2-4.5 8.7-4.7 8.7-4 8.7-3.4 10.1-3.2 8.7-2.2 5.1-0.9 11.6-1.1 8.7-0.1" stroke="#ff7700"/>
<path d="M129.5 423.8l4.5-0.4 1.5-0.4 3.5-1.2 3.5-1.6 3-1.7 3-2 15.9-11.4 7.3-5.8 8.7-7.6 3.6-3.5 7.3-7.4 7.2-7 13.8-13 6.5-5.7 6.5-5.2 6.5-4.8 13.1-8.6 7.2-4.4 8.7-4.7 8.7-4 8.7-3.4 9.4-3 8.7-2.3 5.1-0.9 11.6-1 8.7-0.2" stroke="#ff7e00"/>
<path d="M130 423.8l4-0.4 2-0.4 4-1.4 3-1.4 6-3.7 16.2-11.4 7.2-5.8 8.7-7.5 10.9-10.9 8-7.7 13-12.2 6.5-5.7 6.5-5.2 6.6-4.7 12.3-8.1 7.2-4.5 8.7-4.7 8.7-4 8.7-3.4 9.4-3.1 8.7-2.3 5.1-0.9 11.6-1.1 8.7-0.2" stroke="#ff8500"/>
<path d="M130.5 423.8l3.5-0.3 2.5-0.6 4-1.4 3-1.4 6-3.6 16.4-11.4 7.2-5.7 8-6.8 10.9-10.9 8.7-8.3 12.3-11.6 7.2-6.2 6.6-5.2 5.8-4.2 13-8.6 7.3-4.5 8.7-4.7 8.6-4 8.7-3.4 9.5-3 7.9-2.1 5.1-1 11.6-1.1 8.7-0.2" stroke="#ff8c00"/>
<path d="M131 423.8l3-0.2 3-0.7 3.5-1.2 3.5-1.6 6-3.6 16.6-11.4 6.5-5 8-6.8 10.9-10.8 9.4-9 11.6-10.8 7.2-6.3 6.6-5.2 5.8-4.2 13-8.7 7.3-4.5 8.7-4.7 8.6-4 8.7-3.4 9.5-3.1 7.9-2.1 5.1-1 11.6-1.2 8.7-0.2" stroke="#ff9500"/>
<path d="M132 423.8l2-0.2 4-0.9 3.5-1.2 3-1.5 6.5-3.8 11.5-7.6 4.8-3.4 6.6-5.1 7.2-6.1 10.9-10.7 18.1-17.1 5.1-4.7 5.8-4.9 6.5-5.2 5.8-4.1 13-8.7 7.3-4.5 8.7-4.7 7.9-3.7 8.7-3.4 9.5-3.1 7.9-2.2 5.1-0.9 11.6-1.2 8.7-0.3" stroke="#ff9e00"/>
<path d="M132.5 423.8l2-0.2 4-1 3-1 3.5-1.6 3.5-2 4-2.5 10.5-6.8 5.1-3.5 6.5-5 6.5-5.5 10.9-10.6 18.8-17.8 5.1-4.6 5.1-4.3 6.5-5.2 6.5-4.7 13.1-8.7 7.2-4.4 8.7-4.7 8-3.6 9.4-3.7 8.7-2.8 7.2-2 5.1-1 11.6-1.2 4.4-0.2 4.3-0.1" stroke="#ffa700"/>
<path d="M133.5 423.8l3-0.5 3.5-1 3-1.1 3-1.5 4.5-2.6 11-6.9 8-5.5 6.5-5.1 5.8-4.8 10.2-10 18.8-17.8 5.1-4.6 5.8-4.9 6.5-5.1 5.8-4.1 13.1-8.7 7.2-4.5 8.7-4.7 8-3.7 9.4-3.7 8.7-2.8 7.2-2 5.1-1 11.6-1.3 4.4-0.2 4.3-0.1" stroke="#ffb000"/>
<path d="M134 423.8l3-0.6 3.5-0.9 3-1.2 3-1.4 4.5-2.6 11-6.8 8.2-5.6 5.8-4.5 5.8-4.8 10.2-9.9 19.6-18.4 4.3-3.9 5.8-4.9 6.5-5.1 6.5-4.7 13.1-8.7 7.2-4.4 8-4.3 8.7-4.1 8.7-3.4 8.7-2.8 7.2-2.1 5.1-1 11.6-1.3 4.4-0.2 4.3 0" stroke="#ffb800"/>
<path d="M134.5 423.8l3-0.6 3.5-1 3-1.2 3-1.4 4.5-2.5 11-6.7 8.5-5.8 5.8-4.4 5-4.2 10.2-9.8 19.6-18.3 5-4.6 5.8-4.8 6.5-5.1 6.6-4.7 13-8.7 7.3-4.3 8.7-4.7 9.4-4.2 10.1-3.8 8.7-2.7 6.5-1.6 5.1-0.8 9.4-1 8-0.2" stroke="#ffc100"/>
<path d="M134.5 423.8l3-0.5 3.5-1 3-1.1 3.5-1.7 5-2.7 10-6 8.5-5.7 5.8-4.3 5-4.1 10.2-9.8 20.3-19 4.3-3.8 6.5-5.5 6.6-5 6.5-4.6 12.3-8.3 8-4.8 8-4.2 9.4-4.3 10.1-3.8 9.4-2.9 5.8-1.5 6.6-0.9 8.7-0.9 7.2-0.2" stroke="#ffca00"/>
<path d="M135 423.8l3.5-0.7 3-0.8 3-1.2 3.5-1.6 5-2.8 9.5-5.5 4.8-3.1 4.4-3 6.5-4.9 4.4-3.6 9.4-9 20.3-18.9 4.3-3.9 6.5-5.5 6.6-5 6.5-4.6 13-8.7 7.3-4.4 8-4.2 9.4-4.3 10.1-3.9 9.4-2.9 5.8-1.5 6.6-0.9 8.7-0.9 7.2-0.2" stroke="#ffd300"/>
<path d="M135 423.8l3.5-0.6 3-0.8 3-1.1 3.5-1.6 5-2.7 10-5.8 4.3-2.7 5.1-3.5 5.8-4.3 4.4-3.6 9.4-8.9 21-19.5 10.1-8.6 6.6-5.1 7.2-5.1 12.3-8.2 8-4.8 8-4.2 9.4-4.3 10.1-3.8 9.5-2.9 5.8-1.4 7.2-1 8-0.8 6.5-0.2" stroke="#ffdc00"/>
<path d="M135.5 423.8l3.5-0.7 3-0.8 3.5-1.3 3.5-1.7 14.7-8.2 4.4-2.7 5-3.4 5.8-4.3 3.7-3 30.4-28.3 5.1-4.4 5.8-4.8 7.9-6 12.4-8.5 7.2-4.7 6.5-3.8 8-4.2 9.4-4.2 9.4-3.5 9.5-2.9 5.8-1.5 7.2-1 8-0.8 6.5-0.2" stroke="#fee300"/>
<path d="M135.5 423.8l3.5-0.6 3-0.8 3.5-1.3 3.5-1.6 14.7-8.1 4.4-2.6 5-3.4 5.8-4.3 3.7-2.9 30.4-28.1 5.1-4.4 5.8-4.8 7.9-6 12.4-8.4 7.2-4.8 6.5-3.8 8-4.2 9.4-4.2 9.4-3.6 9.5-2.9 5.8-1.4 7.2-1.1 8-0.8 6.5-0.2" stroke="#fdea00"/>
<path d="M135.5 423.8l4-0.7 3-0.8 3.5-1.3 3.5-1.6 14.2-7.7 5.1-3.1 5.1-3.4 5-3.6 3.7-3 31.1-28.5 10.9-9.1 8-5.9 13-8.9 6.5-4.2 6.6-3.8 7.9-4.2 9.4-4.1 9.5-3.5 9.4-2.9 5.8-1.4 7.2-1 7.3-0.7 6.5-0.3" stroke="#fcf100"/>
<path d="M136 423.8l3.5-0.7 3-0.8 3.5-1.2 3.5-1.6 14.2-7.5 5.1-3.1 5.1-3.3 5.8-4.2 3.6-2.9 30.4-27.7 10.9-9.1 8-5.9 13-8.9 6.5-4.2 6.6-3.8 7.9-4.1 9.4-4.2 9.5-3.5 9.4-2.9 5.8-1.4 7.2-1 7.3-0.8 6.5-0.2" stroke="#fbf800"/>
<path d="M136 423.8l4-0.8 3-0.8 3.5-1.2 3.5-1.6 14.4-7.6 5.1-3 5.1-3.4 5.8-4.1 2.9-2.4 30.4-27.4 10.9-9.1 8-5.9 13.7-9.4 5.8-3.7 7.3-4.2 8-4.1 8.6-3.8 9.5-3.5 9.4-3 5.8-1.3 7.2-1.1 7.3-0.7 6.5-0.2" stroke="#faff00"/>
<path d="M136 423.8l4-0.7 3-0.8 3.5-1.3 4-1.7 13.9-7.2 5.1-3 5.1-3.3 5.8-4.1 2.9-2.4 31.2-27.8 10.8-8.9 8-5.9 13.8-9.3 5.8-3.7 7.2-4.2 8-4 8.7-3.8 9.4-3.5 9.4-2.9 5.1-1.2 8-1.1 7.2-0.7 5.8-0.2" stroke="#f6ff00"/>
<path d="M136 423.8l4-0.7 3-0.8 3.5-1.2 4-1.7 13.9-7.1 5.8-3.4 5.1-3.3 5.1-3.6 2.9-2.3 31.2-27.6 10.8-8.8 8-5.9 14.5-9.8 5.1-3.2 7.2-4.2 8-4 8.7-3.8 9.4-3.5 9.4-2.9 5.1-1.2 8-1.1 7.2-0.7 5.8-0.2" stroke="#f2ff00"/>
<path d="M136 423.8l4-0.7 3-0.7 4-1.4 4-1.7 13.4-6.7 5.8-3.4 5.1-3.2 5.1-3.6 3.6-2.9 30.5-26.7 11.5-9.4 8-5.8 14.5-9.8 5.8-3.6 6.5-3.7 8-3.9 8.7-3.8 8.7-3.2 9.4-2.9 5.1-1.2 8-1.1 7.2-0.7 5.8-0.2" stroke="#eeff00"/>
<path d="M136 423.8l4-0.7 3-0.7 4-1.3 4-1.7 13.4-6.6 5.8-3.3 5.1-3.2 5.1-3.5 3.6-2.8 30.5-26.6 11.5-9.3 8-5.8 14.5-9.8 5.8-3.6 6.5-3.7 8-3.9 8.7-3.8 8.7-3.2 9.4-2.9 5.1-1.2 8-1.1 7.2-0.8 5.8-0.2" stroke="#eaff00"/>
<path d="M136 423.8l4-0.6 3.5-0.9 4-1.3 4.5-1.9 13.2-6.5 5.8-3.3 5-3.2 4.4-2.9 3.6-2.8 31.2-27 11.6-9.2 7.2-5.2 14.5-9.8 5.8-3.6 7.3-4 7.9-4 8-3.4 8.7-3.2 9.4-2.9 5.1-1.2 8-1.1 7.2-0.8 5.8-0.2" stroke="#e6ff00"/>
<path d="M136 423.8l4-0.6 3.5-0.8 4-1.3 4.5-1.8 13.2-6.4 5.8-3.3 5-3.1 4.4-3 3.6-2.7 31.2-26.7 11.6-9.2 7.2-5.2 15.2-10.3 5.8-3.5 6.6-3.7 7.9-3.9 8-3.4 8.7-3.2 9.4-2.9 5.1-1.2 8-1.1 7.2-0.8 5.8-0.2" stroke="#e2ff00"/>
<path d="M136 423.8l4-0.6 3.5-0.8 4-1.2 4.5-1.8 13.2-6.3 5.8-3.2 5.8-3.6 4.3-2.9 3.6-2.8 30.5-25.9 11.6-9.2 7.2-5.2 15.2-10.2 5.8-3.5 6.6-3.7 7.9-3.9 8-3.4 8.7-3.2 9.4-2.9 5.1-1.2 8-1.2 7.2-0.7 5.8-0.2" stroke="#deff00"/>
<path d="M136.5 423.8l4-0.6 3.5-0.9 3.5-1.1 4.5-1.7 13.2-6.2 5.8-3.1 5.8-3.5 4.3-2.9 3.6-2.8 17.4-14.5 13.8-11.8 11.6-9.1 7.2-5.1 14.5-9.7 6.6-4 6.5-3.6 7.9-3.8 8-3.4 8-2.9 9.4-2.9 5.1-1.2 8-1.2 7.2-0.7 5.8-0.2" stroke="#daff00"/>
<path d="M136.5 423.8l4-0.6 3.5-0.8 3.5-1.1 4.5-1.7 9-4 4.9-2.4 5.8-3.2 5.8-3.5 3.6-2.4 3.6-2.7 16.7-13.8 14.5-12.3 11.6-9 7.2-5.1 14.5-9.7 6.6-4 6.5-3.6 7.9-3.8 8.7-3.7 8-2.9 8.7-2.6 5.1-1.2 8-1.2 7.2-0.7 5.8-0.3" stroke="#d6ff00"/>
<path d="M136.5 423.8l4-0.6 3.5-0.8 3.5-1 4.5-1.6 9-4 4.9-2.4 5.8-3.1 5.8-3.5 3.6-2.3 3.6-2.7 16.7-13.7 14.5-12.1 12.3-9.6 6.5-4.6 15.3-10.1 6.5-3.9 6.5-3.6 8-3.8 8.7-3.6 7.2-2.6 9.4-2.8 4.4-1 8.7-1.3 6.5-0.6 5.8-0.3" stroke="#d2ff00"/>
<path d="M136.5 423.8l4-0.6 3.5-0.7 3.5-1 4.5-1.6 9-3.9 4.9-2.3 5.8-3.1 5.8-3.4 4.3-2.9 3.7-2.7 15.9-12.9 14.5-12.1 12.3-9.6 6.5-4.5 15.3-10.2 6.5-3.9 6.5-3.5 8-3.8 8.7-3.6 7.2-2.6 9.4-2.8 4.4-1 8.7-1.3 6.5-0.6 5.8-0.3" stroke="#cfff02"/>
<path d="M136.5 423.8l4-0.5 3.5-0.8 3.5-0.9 4.5-1.6 9-3.8 4.9-2.3 6.5-3.4 5.8-3.5 3.6-2.3 3.7-2.7 15.2-12.2 15.2-12.6 12.3-9.5 6.5-4.6 15.3-10.1 6.5-3.9 6.5-3.5 8-3.8 8.7-3.6 7.9-2.8 8.7-2.6 4.4-1 8.7-1.3 6.5-0.6 5.8-0.3" stroke="#ccff04"/>
<path d="M136.5 423.8l4-0.5 3.5-0.7 4-1.1 4-1.4 9-3.7 4.9-2.3 6.5-3.4 5.8-3.4 3.6-2.3 4.4-3.2 14.5-11.5 15.9-13.1 12.3-9.4 6.6-4.5 15.2-10.1 6.5-3.9 6.5-3.4 8-3.8 8.7-3.5 7.2-2.6 8.7-2.5 4.4-1 8.7-1.3 6.5-0.6 5.8-0.3" stroke="#c9ff06"/>
<path d="M137 423.8l4-0.6 3.5-0.7 4.5-1.2 4-1.4 8.5-3.5 5.1-2.4 6.5-3.4 5.8-3.4 3.7-2.3 3.6-2.7 14.5-11.4 15.9-13 12.3-9.4 6.6-4.5 15.2-10 6.5-3.9 6.5-3.5 8-3.7 8.7-3.5 7.2-2.6 8.7-2.5 4.4-1 8.7-1.3 6.5-0.6 5.8-0.3" stroke="#c7ff09"/>
<path d="M137 423.8l4-0.5 3.5-0.7 4.5-1.2 4-1.4 8-3.2 5.6-2.6 6.5-3.3 5.8-3.4 3.7-2.3 4.3-3.2 13.8-10.7 15.9-12.9 12.3-9.3 6.6-4.5 15.2-10.1 6.5-3.8 6.5-3.5 8-3.7 9.4-3.8 6.5-2.3 8.7-2.5 5.1-1.2 8.7-1.2 6.5-0.6 5.1-0.2" stroke="#c4ff0b"/>
<path d="M137 423.8l4-0.5 3.5-0.7 4.5-1.2 4-1.3 8-3.2 5.6-2.5 6.5-3.3 5.8-3.3 3.7-2.3 4.3-3.1 13.8-10.6 16.6-13.4 11.6-8.7 21.8-14.5 6.5-3.9 6.5-3.5 8-3.6 9.4-3.8 6.5-2.3 8.7-2.6 5.1-1.1 8.7-1.2 6.5-0.6 5.1-0.2" stroke="#c1ff0d"/>
<path d="M137 423.8l4-0.5 4-0.7 4.5-1.2 4-1.3 8-3.2 5.8-2.6 6.6-3.3 5.8-3.3 5-3.3 9.5-7.1 10.8-8.5 11.6-9.3 13.1-9.7 21-14 7.2-4.2 6.6-3.5 7.9-3.6 8.7-3.4 6.5-2.3 8.7-2.6 5.1-1 8.7-1.2 6.5-0.7 5.1-0.2" stroke="#beff0f"/>
<path d="M137 423.8l4-0.5 4-0.7 5-1.3 3.5-1.1 8-3.1 5.8-2.6 6.6-3.2 5.8-3.3 5-3.3 10.2-7.5 10.1-7.9 11.6-9.2 13.1-9.7 21-14 7.2-4.2 6.6-3.4 7.9-3.6 9.4-3.7 6.6-2.3 7.9-2.3 5.1-1 8.7-1.2 6.5-0.7 5.1-0.2" stroke="#bbff11"/>
<path d="M137.5 423.8l4.5-0.6 4-0.8 5.5-1.4 3-1 7.5-2.9 6.1-2.7 6.5-3.3 5.8-3.2 5.1-3.4 10.1-7.4 21.7-17 12.4-9.1 21-13.9 7.2-4.3 6.6-3.3 7.9-3.6 9.4-3.7 6.6-2.3 7.9-2.3 5.1-1 8.7-1.2 6.5-0.7 5.1-0.1" stroke="#b8ff13"/>
<path d="M137.5 423.8l4.5-0.6 4-0.7 6-1.5 2.5-0.9 7.5-2.9 6.1-2.6 6.5-3.2 5.8-3.2 5.1-3.3 10.1-7.4 23.2-17.9 11.6-8.5 21-13.8 6.5-3.8 6.6-3.4 7.9-3.6 9.4-3.7 6.6-2.2 7.9-2.3 5.1-1 8.7-1.2 6.5-0.6 5.1-0.2" stroke="#b5ff15"/>
<path d="M137.5 423.8l4.5-0.5 4-0.7 6-1.5 2.5-0.9 7.5-2.8 6.1-2.6 6.5-3.1 5.8-3.2 5.1-3.3 10.1-7.3 24.6-18.8 10.9-7.9 20.3-13.3 7.3-4.2 6.5-3.3 7.9-3.5 9.5-3.6 5.8-2 7.9-2.3 5.1-1 8.7-1.2 6.5-0.6 5.1-0.2" stroke="#b3ff18"/>
<path d="M137.5 423.8l4.5-0.5 4-0.7 6-1.4 2.5-0.9 7-2.5 5.8-2.4 6.6-3.1 6.5-3.5 5.1-3.2 10.1-7.3 9.4-7 15.2-11.7 10.9-7.8 20.3-13.3 7.3-4.1 6.5-3.4 7.9-3.5 9.5-3.6 5.8-1.9 7.9-2.3 5.1-1 8.7-1.2 6.5-0.6 5.1-0.2" stroke="#b0ff1a"/>
<path d="M138 423.8l4-0.5 4.5-0.7 5.5-1.3 3-1 7-2.5 6.1-2.6 6.5-3 5.8-3.1 5.1-3.2 10.1-7.1 9.4-7 16-12.2 10.1-7.2 20.3-13.3 7.3-4.1 6.5-3.3 7.9-3.5 9.5-3.6 5.8-1.9 7.9-2.3 5.1-1 8.7-1.2 6.5-0.6 5.1-0.2" stroke="#adff1c"/>
<path d="M138 423.8l4.5-0.5 4.5-0.8 5-1.1 3-1 7-2.5 6.1-2.5 6.5-3 5.8-3 5.1-3.2 10.8-7.6 25.4-18.9 10.1-7.2 19.6-12.7 7.3-4.2 6.5-3.3 7.9-3.4 9.5-3.6 5.8-2 7.9-2.2 5.1-1 8.7-1.2 6.5-0.6 5.1-0.2" stroke="#aaff1e"/>
<path d="M138 423.8l4.5-0.5 4.5-0.7 5-1.1 3-1 7-2.4 6.1-2.5 6.5-3 5.8-3 5.1-3.1 10.8-7.4 8.7-6.4 17.4-13 10.2-7.1 19.5-12.7 7.3-4 6.5-3.3 8-3.4 9.4-3.5 5.1-1.7 7.9-2.2 5.1-1 8.7-1.2 6.5-0.6 5.1-0.1" stroke="#a8ff24"/>
<path d="M138 423.8l4.5-0.4 4.5-0.8 5-1 3-0.9 7-2.5 6.1-2.4 6.5-2.9 5.8-3 5.1-3 10.8-7.4 8.7-6.3 18.1-13.5 9.5-6.5 19.5-12.6 7.3-4.1 6.5-3.2 8-3.4 9.4-3.5 5.1-1.7 7.9-2.2 5.1-1 8.7-1.1 6.5-0.6 5.1-0.2" stroke="#a6ff2b"/>
<path d="M138.5 423.8l4.5-0.5 5-0.8 4-0.8 4-1.2 6.5-2.3 6.3-2.5 6.5-2.9 5.8-3 5.1-3.1 10.9-7.3 8.7-6.3 17.3-12.8 10.2-7 18.8-12.1 7.3-4.1 6.5-3.2 8-3.4 9.4-3.5 5.1-1.6 7.9-2.2 5.1-1 8.7-1.1 6.5-0.6 5.1-0.2" stroke="#a4ff31"/>
<path d="M138.5 423.8l5-0.5 5-0.8 3.5-0.7 4-1.2 6.5-2.2 6.3-2.5 6.5-2.9 5.8-2.9 5.1-3.1 10.9-7.2 8.7-6.2 18.1-13.3 10.1-6.9 18.1-11.6 7.3-4 6.5-3.2 8-3.4 9.4-3.5 5.1-1.6 7.9-2.2 5.1-1 8.7-1.1 6.5-0.6 5.1-0.2" stroke="#a2ff37"/>
<path d="M138.5 423.8l5-0.5 5-0.7 3.5-0.7 4-1.2 6.5-2.2 6.3-2.4 6.5-2.9 5.8-2.9 5.8-3.4 10.2-6.7 8.7-6.1 18.8-13.7 9.4-6.4 18.1-11.6 7.3-4 6.5-3.2 8-3.3 9.4-3.5 5.1-1.6 7.9-2.2 5.1-1 8.7-1.1 6.5-0.6 5.1-0.1" stroke="#a0ff3d"/>
<path d="M139 423.8l5-0.5 5.5-0.8 2.5-0.5 4.5-1.3 6.5-2.2 5.8-2.2 6.5-2.9 5.8-2.8 5.1-2.9 10.1-6.6 9.5-6.6 21.7-15.6 19.6-12.8 5-3.1 5.1-2.9 5.1-2.6 4.3-2 7.3-3 9.4-3.4 5.1-1.7 7.9-2.1 5.1-1 8.7-1.1 6.5-0.5 5.1-0.2" stroke="#9dff44"/>
<path d="M139 423.8l5.5-0.5 5.5-0.9 2-0.3 4.5-1.3 6.5-2.1 5.8-2.2 6.5-2.8 5.8-2.8 5.1-2.9 10.1-6.6 9.5-6.4 21.7-15.6 19.6-12.7 5-3.1 5.1-2.8 5.1-2.6 4.3-2.1 7.3-2.9 10.1-3.7 5.1-1.6 7.2-1.9 5.1-1 8.7-1 6.5-0.6 5.1-0.2" stroke="#9bff4a"/>
<path d="M139 423.8l5.5-0.5 6.5-0.9 6-1.7 6-1.9 6.5-2.4 6.5-2.8 5.8-2.8 5.8-3.4 9.5-6.1 8.7-5.9 21.7-15.4 20.3-13.1 4.3-2.7 5.1-2.8 5.1-2.6 4.3-2 7.3-3 10.1-3.6 5.1-1.6 7.2-1.9 5.1-1 8.7-1 6.5-0.6 5.1-0.1" stroke="#99ff50"/>
<path d="M139.5 423.8l6-0.6 6.5-0.9 5.5-1.6 6.2-2 5.8-2.2 6.5-2.7 5.8-2.8 5.8-3.3 9.5-6 9.4-6.4 21.7-15.2 19.6-12.6 4.3-2.7 5.1-2.8 5.1-2.6 4.3-2 7.3-2.9 10.1-3.7 5.1-1.5 7.2-1.9 5.1-0.9 8.7-1.1 6.5-0.6 5.1-0.1" stroke="#97ff56"/>
<path d="M139.5 423.8l6-0.5 6.5-0.9 5.5-1.6 6.2-1.9 5.8-2.2 6.5-2.7 5.8-2.7 5.8-3.3 9.5-5.9 9.4-6.3 21.7-15.2 20.3-13 4.4-2.6 5-2.8 8.7-4.2 7.3-2.9 10.1-3.6 5.1-1.5 7.2-1.9 5.1-0.9 8.7-1.1 6.5-0.5 5.1-0.2" stroke="#95ff5d"/>
<path d="M140 423.8l5.5-0.5 6.5-0.9 6-1.6 5.7-1.8 5.8-2.1 6.5-2.7 5.8-2.7 5.8-3.2 10.2-6.3 8.7-5.8 21.7-15.1 20.3-12.9 4.4-2.6 5-2.8 8.7-4.1 7.3-2.9 10.1-3.6 5.1-1.6 7.2-1.8 5.1-0.9 8.7-1.1 6.5-0.5 5.1-0.1" stroke="#93ff63"/>
<path d="M140 423.8l5.5-0.5 6.5-0.8 6-1.6 5.7-1.7 5.8-2.1 6.5-2.7 5.8-2.6 6.6-3.7 9.4-5.7 9.4-6.3 21-14.4 20.3-12.9 4.4-2.6 5-2.8 8.7-4.1 7.3-2.9 10.1-3.6 5.1-1.5 7.2-1.8 5.1-0.9 8.7-1 6.5-0.6 5.1-0.1" stroke="#91ff69"/>
<path d="M140.5 423.8l5.5-0.5 6-0.7 7-1.9 6.2-1.9 5.8-2.1 6.5-2.7 5.1-2.4 6.5-3.6 9.4-5.7 8.7-5.7 21-14.4 21-13.3 8.7-4.9 8.7-4.1 7.3-2.8 10.1-3.6 5.1-1.5 7.2-1.8 5.1-0.9 8.7-1 6.5-0.5 5.1-0.2" stroke="#8fff6f"/>
<path d="M140.5 423.8l5.5-0.4 6-0.7 7-1.8 6.2-1.9 5.8-2.1 6.5-2.7 5.1-2.3 6.5-3.6 9.4-5.6 8.7-5.7 21.7-14.7 20.3-12.8 3.7-2.1 5.8-3.1 8.7-4 7.2-2.8 10.1-3.5 4.4-1.3 7.2-1.8 5.1-0.9 8.7-1 6.5-0.5 5.1-0.1" stroke="#8dff76"/>
<path d="M141 423.8l11-1 7-1.8 6.2-1.9 5.8-2.1 6.5-2.6 5.1-2.3 7.9-4.3 8.7-5.2 8.7-5.6 21-14.2 20.3-12.7 3.7-2.1 5.8-3.1 4.3-2.1 4.4-1.9 7.2-2.8 10.1-3.5 4.4-1.2 7.2-1.8 5.1-0.9 8.7-1 6.5-0.5 5.1-0.1" stroke="#8bff7c"/>
<path d="M141.5 423.8l10.5-1 8-2 5.9-1.8 5.8-2.1 6.5-2.6 5.1-2.3 9.4-5.1 6.5-4 8.7-5.5 21-14.1 21.1-13.1 9.4-5.1 8-3.6 7.2-2.7 10.1-3.5 4.4-1.3 7.2-1.7 5.1-0.9 8.7-0.9 6.5-0.5 5.1-0.2" stroke="#89ff82"/>
<path d="M141.5 423.8l10.5-0.9 8-2 5.9-1.8 5.8-2 6.5-2.6 5.1-2.2 9.4-5.1 8-4.8 8-5.1 20.2-13.4 21.1-13.1 9.4-5.1 8-3.6 6.5-2.4 10.1-3.5 5.1-1.5 6.5-1.5 5.1-0.9 8.7-1 6.5-0.6 5.8-0.1" stroke="#87ff88"/>
<path d="M142 423.8l10-0.8 8.5-2.1 5.4-1.6 5.8-2 6.5-2.6 5.1-2.2 9.4-5 8-4.7 8-5.1 21-13.8 20.3-12.5 9.4-5.1 8-3.5 7.2-2.7 10.1-3.4 4.4-1.3 6.5-1.5 5.1-0.9 8.7-1 6.5-0.5 5.8-0.2" stroke="#84ff8f"/>
<path d="M142.5 423.8l9.5-0.8 9-2.1 5.6-1.7 5.8-2 7.3-2.9 4.3-1.9 9.4-5 8.7-5.2 7.3-4.5 20.3-13.2 20.3-12.5 9.4-5 8-3.6 7.2-2.7 10.1-3.4 4.4-1.2 6.5-1.5 5.1-0.9 8.7-1 6.5-0.5 5.8-0.2" stroke="#82ff95"/>
<path d="M142.5 423.8l9.5-0.7 9-2.1 5.6-1.7 5.8-2 7.3-2.8 4.3-1.9 9.4-4.9 9.5-5.5 7.2-4.5 19.6-12.7 20.3-12.4 9.4-5 8-3.6 7.2-2.6 10.1-3.4 4.4-1.2 6.5-1.5 5.1-0.9 8.7-1 6.5-0.5 5.8-0.1" stroke="#80ff9c"/>
<path d="M143 423.8l9-0.6 9-2.1 5.6-1.7 5.8-1.9 7.3-2.8 4.3-1.9 10.2-5.2 10.1-5.9 25.4-16.2 21-12.8 8.7-4.5 8-3.5 7.2-2.7 10.1-3.3 4.4-1.2 6.5-1.5 5.1-0.9 8.7-0.9 6.5-0.5 5.8-0.2" stroke="#7effa4"/>
<path d="M143.5 423.8l8.5-0.6 9.5-2.2 5.8-1.7 5.8-1.9 7.3-2.8 4.3-1.9 10.2-5.2 10.1-5.9 24.7-15.6 21-12.7 8.7-4.5 8-3.5 6.5-2.4 10.8-3.5 4.4-1.2 6.5-1.5 5.1-0.9 8.7-0.9 6.5-0.5 5.8-0.1" stroke="#7cffac"/>
<path d="M144 423.8l8-0.5 10-2.3 6.1-1.8 5.8-1.9 6.5-2.5 4.3-1.8 9.5-4.8 10.8-6.2 24.7-15.5 21-12.6 8.7-4.5 8-3.5 6.5-2.3 10.8-3.6 4.4-1.2 6.5-1.4 5.1-0.9 8.7-0.9 6.5-0.5 5.8-0.1" stroke="#7affb4"/>
<path d="M144.5 423.8l7.5-0.4 10.5-2.4 5.6-1.6 6.5-2.2 6.5-2.4 4.4-1.9 9.4-4.8 10.9-6.2 23.9-14.8 21-12.6 8.7-4.5 8-3.4 6.5-2.4 10.8-3.5 4.4-1.2 6.5-1.4 5.1-0.9 8.7-0.9 6.5-0.4 5.8-0.2" stroke="#78ffbc"/>
<path d="M145 423.8l7-0.4 5.5-1.1 5.5-1.3 5.8-1.7 6.5-2.2 5.8-2.1 5.1-2.2 8.7-4.4 10.9-6.1 11.5-7 13.1-8.2 20.3-12 8.7-4.5 8-3.4 6.5-2.3 10.8-3.5 4.4-1.2 6.5-1.4 5.1-0.8 8.7-0.9 6.5-0.5 5.8-0.1" stroke="#76ffc4"/>
<path d="M145.5 423.8l6.5-0.3 5.5-1.1 5.5-1.3 5.8-1.7 6.5-2.1 5.8-2.1 5.1-2.2 9.4-4.6 10.9-6.1 10.8-6.6 13.1-8.1 20.3-12 8.7-4.4 8-3.4 6.5-2.3 10.8-3.4 4.4-1.2 6.5-1.4 5.1-0.8 8.7-0.9 6.5-0.5 5.8-0.1" stroke="#74ffcc"/>
<path d="M146.5 423.8l5.5-0.3 6.5-1.3 5.9-1.4 5.8-1.7 6.6-2.2 5-1.8 5.1-2.2 8.7-4.2 10.9-6 10.8-6.5 13.1-8 20.3-12 8.7-4.4 8-3.3 6.5-2.3 10.8-3.5 4.4-1.1 5.8-1.3 5.8-0.9 8-0.8 7.2-0.5 5.8-0.2" stroke="#72ffd4"/>
<path d="M147 423.8l5-0.2 7-1.4 6.2-1.5 6.5-1.9 6.5-2.2 4.4-1.6 5-2.2 8.7-4.2 10.9-6 10.1-6 13.1-7.9 20.3-11.9 8.7-4.4 8-3.3 6.5-2.3 10.8-3.4 4.4-1.1 5.8-1.3 5.8-0.9 8-0.8 7.2-0.5 5.8-0.1" stroke="#70ffdc"/>
<path d="M148 423.8l4-0.2 1.5-0.2 6.5-1.3 5.9-1.5 6.5-1.9 7.3-2.5 4.3-1.6 4.4-1.9 7.9-3.8 11.6-6.3 9.4-5.5 13.8-8.3 20.3-11.8 8.7-4.3 7.3-3 6.5-2.2 10.8-3.4 4.4-1.1 5.8-1.2 5.8-1 8-0.8 7.2-0.5 5.8-0.1" stroke="#6effe4"/>
<path d="M149 423.8l3-0.1 4-0.8 6-1.2 6.1-1.6 12.3-3.9 4.3-1.7 5.1-2.2 7.3-3.5 11.6-6.2 8.6-5.1 13.8-8.2 20.3-11.7 8.7-4.3 7.3-2.9 6.5-2.3 10.8-3.3 4.4-1.1 5.8-1.2 5.8-1 8-0.7 7.2-0.5 5.8-0.2" stroke="#6bffe8"/>
<path d="M150 423.8l2-0.1 6-1.1 5-1.1 5.8-1.5 12.3-3.9 9.4-3.9 7.3-3.5 11.6-6.2 8.7-5 13-7.7 20.3-11.6 8.7-4.3 7.3-2.9 6.5-2.2 10.8-3.3 4.4-1.2 5.8-1.1 5.8-0.9 8-0.8 7.2-0.5 5.8-0.1" stroke="#68feeb"/>
<path d="M151 423.8l3-0.4 6.5-1.2 10.5-2.7 10.8-3.5 4.4-1.7 5.8-2.5 7.2-3.5 10.9-5.8 20.3-11.8 20.3-11.6 8.7-4.2 7.2-3 6.5-2.2 11.6-3.6 4.4-1.1 5.8-1.1 5.8-0.9 8-0.8 7.2-0.5 5.8-0.1" stroke="#65fdee"/>
<path d="M152 423.8l10-1.9 10.4-2.7 10.2-3.3 10.1-4.2 8-3.8 10.1-5.4 20.3-11.7 20.3-11.5 8-3.8 7.2-3 6.5-2.2 10.9-3.3 4.4-1.1 5.8-1.2 5.8-0.9 7.9-0.8 7.3-0.5 6.5-0.2" stroke="#62fdf0"/>
<path d="M152 423.8l10-1.8 10.4-2.7 10.2-3.2 10.1-4.1 8-3.8 10.9-5.7 19.5-11.2 20.3-11.4 8-3.8 7.2-2.9 6.5-2.2 11.6-3.5 4.4-1.1 5.1-1 5.8-0.9 7.9-0.8 7.3-0.5 6.5-0.1" stroke="#5efcf3"/>
<path d="M152.5 423.8l10-1.8 10.6-2.8 10.2-3.2 10.1-4.1 8.7-4.1 10.2-5.3 39.1-22 8.7-4.1 7.3-2.8 5.7-1.9 11.6-3.5 4.4-1.1 5.8-1.1 5.8-0.9 8-0.7 7.2-0.5 5.8-0.1" stroke="#5bfcf6"/>
<path d="M152.5 423.8l10-1.8 10.6-2.7 10.2-3.1 10.1-4 8.7-4.1 10.2-5.2 39.1-21.8 8.7-4.1 7.3-2.8 5.7-1.9 11.6-3.4 4.4-1.1 5.8-1.1 5.8-0.9 8-0.7 7.2-0.5 5.8-0.1" stroke="#58fbf8"/>
<path d="M152.5 423.8l10-1.7 10.6-2.6 10.2-3.1 10.1-4 9.5-4.3 10.1-5.2 38.4-21.2 8.7-4.1 7.3-2.8 5.7-1.8 11.6-3.4 4.4-1.1 5.1-1 5.8-0.9 7.9-0.7 7.3-0.5 6.5-0.2" stroke="#55fbfb"/>
<path d="M153 423.8l9.5-1.6 10.6-2.6 10.2-3 10.1-3.9 9.5-4.3 10.1-5.1 38.4-21 8.7-4 7.3-2.8 5.7-1.9 11.6-3.3 4.4-1.1 5.1-1 5.8-0.8 7.9-0.8 7.3-0.5 6.5-0.1" stroke="#51fafe"/>
<path d="M153 423.8l10-1.7 10.9-2.6 10.1-3 10.2-3.9 10.8-4.9 8.7-4.4 37.7-20.4 8.7-4 7.3-2.8 5.7-1.8 11.6-3.3 4.4-1.1 5.1-1 5.8-0.8 7.9-0.8 7.3-0.5 6.5-0.1" stroke="#4ff0ff"/>
<path d="M153.5 423.8l9.5-1.6 10.9-2.6 10.1-2.9 10.2-3.8 10.8-4.9 9.5-4.7 37.6-20.2 8-3.6 7.3-2.7 17.3-5.2 4.4-1 5.1-1 5.8-0.8 7.9-0.7 7.3-0.5 6.5-0.2" stroke="#4ddfff"/>
<path d="M153.5 423.8l9.5-1.6 10.9-2.5 10.1-2.9 10.2-3.7 10.8-4.8 9.5-4.6 37.6-20 8-3.5 7.3-2.8 17.3-5.1 4.4-1 5.1-0.9 5.8-0.9 7.9-0.7 7.3-0.5 6.5-0.2" stroke="#4bcfff"/>
<path d="M153.5 423.8l9.5-1.5 10.9-2.5 10.1-2.8 10.2-3.6 10.8-4.7 10.2-4.9 36.9-19.5 8.7-3.8 7.3-2.6 17.4-5.1 3.6-0.8 5.8-1.1 5.8-0.8 8-0.7 7.2-0.4 5.8-0.2" stroke="#48beff"/>
<path d="M153.5 423.8l10.2-1.6 10.9-2.4 10.1-2.9 10.2-3.6 10.9-4.6 10.1-4.9 36.2-18.9 8.7-3.8 7.3-2.6 16.6-4.8 4.4-1 5.1-0.9 5.8-0.9 7.9-0.7 7.3-0.5 6.5-0.1" stroke="#46adff"/>
<path d="M154 423.8l10.4-1.7 10.9-2.4 9.4-2.6 10.2-3.5 10.9-4.6 10.1-4.8 36.2-18.7 8.7-3.7 7.3-2.6 17.4-5 8.7-1.7 5.8-0.8 7.9-0.8 7.3-0.5 6.5-0.1" stroke="#43a3ff"/>
<path d="M154 423.8l10.4-1.6 10.9-2.4 9.4-2.5 10.2-3.5 10.9-4.5 10.1-4.7 36.2-18.4 8.7-3.8 7.3-2.6 17.4-4.9 8.7-1.7 5.8-0.8 7.9-0.8 7.3-0.4 6.5-0.2" stroke="#409bff"/>
<path d="M154 423.8l10.4-1.6 10.9-2.3 10.2-2.7 10.1-3.4 10.9-4.5 10.1-4.6 35.5-17.9 8.7-3.7 7.3-2.6 17.4-4.9 8.7-1.7 5.8-0.8 7.9-0.7 7.3-0.5 6.5-0.2" stroke="#3d93ff"/>
<path d="M154 423.8l10.4-1.5 10.9-2.3 10.2-2.6 10.1-3.4 10.9-4.4 10.1-4.5 36.3-18.1 8.7-3.6 7.2-2.5 16.7-4.6 3.6-0.8 5.8-1 5.8-0.8 8-0.7 7.2-0.5 5.8-0.1" stroke="#398aff"/>
<path d="M154 423.8l10.4-1.5 10.9-2.2 10.2-2.5 10.1-3.3 10.9-4.3 10.1-4.5 36.3-17.9 8.7-3.6 7.2-2.4 16.7-4.6 3.6-0.8 5.8-1 5.8-0.8 8-0.7 7.2-0.5 5.8-0.2" stroke="#3682ff"/>
<path d="M154.5 423.8l10.7-1.5 11.6-2.4 9.4-2.4 10.1-3.2 10.2-4 10.1-4.4 36.3-17.7 8.7-3.6 7.2-2.4 16.7-4.6 3.6-0.8 5.8-1 5.8-0.8 8-0.7 7.2-0.5 5.8-0.1" stroke="#337aff"/>
<path d="M154.5 423.8l10.7-1.5 12.3-2.4 9.4-2.4 10.2-3.2 10.1-4 10.1-4.4 35.6-17.2 8.7-3.5 7.9-2.7 16-4.3 3.6-0.8 5.8-1 5.8-0.8 8-0.7 7.2-0.5 5.8-0.2" stroke="#3175ff"/>
<path d="M154.5 423.8l10.7-1.4 12.3-2.4 9.4-2.3 10.2-3.2 9.4-3.6 10.1-4.3 36.3-17.4 8.7-3.5 7.9-2.6 16-4.4 3.6-0.8 5.8-1 5.8-0.7 8-0.8 7.2-0.4 5.8-0.2" stroke="#3071fe"/>
<path d="M154.5 423.8l11.4-1.5 12.3-2.3 9.4-2.3 10.2-3.1 9.4-3.6 10.1-4.4 35.6-16.9 9.4-3.8 7.9-2.5 16-4.3 8.7-1.6 5.8-0.8 8-0.7 7.2-0.5 5.8-0.2" stroke="#2f6dfe"/>
<path d="M154.5 423.8l11.4-1.4 13.8-2.6 10.1-2.5 9.4-3 8.7-3.3 9.4-4 35.6-16.8 9.4-3.8 7.9-2.5 16-4.3 8.7-1.6 5.8-0.8 8-0.7 7.2-0.5 5.8-0.2" stroke="#2e69fd"/>
<path d="M155 423.8l11.6-1.5 13.8-2.5 10.1-2.5 9.5-2.9 8.7-3.4 8.6-3.7 35.6-16.7 9.4-3.7 7.9-2.6 16-4.2 8.7-1.7 5.8-0.7 8-0.8 7.2-0.5 5.8-0.2" stroke="#2d65fd"/>
<path d="M155 423.8l11.6-1.4 13.8-2.5 10.1-2.4 9.5-2.8 8.7-3.4 8.6-3.6 35.6-16.6 9.4-3.8 8.7-2.7 15.2-4.1 9.4-1.7 5.1-0.7 8.7-0.8 6.5-0.4 5.8-0.2" stroke="#2c61fc"/>
<path d="M155 423.8l11.6-1.4 13.8-2.4 10.1-2.3 9.5-2.7 8.7-3.3 8.6-3.7 35.6-16.5 9.4-3.7 8.7-2.8 15.2-4 9.4-1.8 5.1-0.7 8.7-0.8 6.5-0.4 5.8-0.2" stroke="#2b5dfc"/>
<path d="M155 423.8l11.6-1.3 13.8-2.3 10.1-2.3 9.5-2.6 8.7-3.3 8.6-3.7 35.6-16.4 10.1-4 8.7-2.7 14.5-3.8 9.4-1.8 5.1-0.7 8.7-0.8 6.5-0.4 5.8-0.2" stroke="#2a59fb"/>
<path d="M155.5 423.8l11.1-1.3 13.8-2.2 10.1-2.2 9.5-2.5 8.7-3.3 8.6-3.7 36.3-16.6 10.1-3.9 8.7-2.7 13.8-3.6 9.4-1.8 5.1-0.7 8.7-0.8 6.5-0.4 5.8-0.3" stroke="#2955fb"/>
<path d="M155.5 423.8l11.1-1.2 13.8-2.1 10.1-2.2 9.5-2.4 9.4-3.6 7.9-3.3 36.3-16.6 10.1-4 8.7-2.6 13.8-3.6 9.4-1.8 5.1-0.7 8.7-0.8 12.3-0.7" stroke="#2851fa"/>
<path d="M155.5 423.8l11.1-1.1 13.8-2.1 10.1-2 9.5-2.4 8.7-3.3 7.9-3.3 37-16.9 10.1-3.9 9.4-2.8 13.8-3.6 9.4-1.8 5.1-0.6 8.7-0.8 11.6-0.7" stroke="#284ffa"/>
<path d="M155.5 423.8l11.1-1.1 13.8-2 10.1-1.9 9.5-2.4 8.7-3.2 7.9-3.3 33.4-15.2 4.3-1.9 10.2-3.9 9.4-2.8 13-3.4 9.4-1.7 5.1-0.7 8.7-0.8 11.6-0.6" stroke="#274dfa"/>
<path d="M156 423.8l11.3-1.1 13.1-1.8 10.1-1.9 9.5-2.3 8.7-3.2 7.9-3.3 33.4-15.2 4.3-1.8 10.2-3.9 10.1-3 12.3-3.2 9.4-1.8 5.1-0.6 8.7-0.8 11.6-0.7" stroke="#274cf9"/>
<path d="M156 423.8l11.3-1.1 13.1-1.7 10.1-1.8 9.5-2.2 7.9-2.9 8-3.3 34.1-15.4 7.9-3.3 5.1-1.9 5.1-1.7 14.5-4 7.2-1.7 9.4-1.5 12.4-1.2 10.1-0.6" stroke="#264af9"/>
<path d="M156 423.8l11.3-1 13.1-1.7 10.1-1.7 9.5-2.1 7.2-2.7 8-3.2 34.8-15.7 7.9-3.3 5.1-1.9 5.1-1.6 14.5-4 7.2-1.7 9.4-1.6 12.4-1.2 10.1-0.6" stroke="#2649f9"/>
<path d="M156.5 423.8l11.6-1 13-1.7 10.2-1.6 8.7-1.9 7.9-2.9 8-3.3 36.2-16.3 8.7-3.4 6.6-2.2 17.3-4.8 4.4-1 5.1-1 5.8-0.8 7.9-0.9 7.3-0.6 6.5-0.3" stroke="#2547f9"/>
<path d="M156.5 423.8l11.6-1 13-1.5 10.2-1.6 8.7-1.8 6.5-2.4 8.7-3.5 36.9-16.5 8.7-3.5 7.3-2.4 17.4-4.8 8.7-1.7 5.8-0.9 7.9-0.8 7.3-0.7 6.5-0.3" stroke="#2546f8"/>
<path d="M157 423.8l11.1-0.9 13-1.5 10.2-1.5 8.7-1.7 6.5-2.4 8.7-3.5 36.9-16.5 8.7-3.4 7.3-2.4 17.4-4.8 8.7-1.8 5.8-0.9 7.9-0.8 7.3-0.6 6.5-0.4" stroke="#2444f8"/>
<path d="M157 423.8l11.1-0.8 13-1.5 10.2-1.4 8.7-1.6 6.5-2.4 8.7-3.5 36.9-16.4 8.7-3.4 7.3-2.5 17.4-4.8 8.7-1.7 5.8-0.9 7.9-0.9 7.3-0.6 6.5-0.3" stroke="#2443f8"/>
<path d="M157.5 423.8l10.6-0.8 13-1.3 10.2-1.4 8.7-1.6 5.8-2.1 8.7-3.4 37.6-16.6 8.7-3.5 7.3-2.4 17.4-4.8 8.7-1.8 5.8-0.9 7.9-0.8 7.3-0.7 6.5-0.3" stroke="#2341f8"/>
<path d="M157.5 423.8l10.6-0.7 13-1.3 10.2-1.3 8.7-1.5 5.8-2.1 8.7-3.4 37.6-16.6 8.7-3.4 7.3-2.4 16.6-4.6 4.4-1 5.1-1 5.8-0.9 7.9-0.9 7.3-0.6 6.5-0.4" stroke="#2340f7"/>
<path d="M158 423.8l10.8-0.7 12.3-1.2 10.2-1.2 8.7-1.4 5-1.8 8.7-3.5 38.4-16.7 8.7-3.4 7.3-2.4 16.6-4.6 9.5-2 5.8-0.9 7.9-0.9 7.3-0.7 6.5-0.3" stroke="#223ef7"/>
<path d="M158.5 423.8l11-0.7 12.3-1.1 10.2-1.2 8-1.2 5-1.9 8.7-3.4 38.4-16.6 8.7-3.4 7.3-2.4 16.6-4.6 9.5-2 5.8-0.9 7.9-0.9 7.3-0.7 6.5-0.4" stroke="#223df7"/>
<path d="M158.5 423.8l11-0.7 12.3-1 10.2-1.2 8-1.1 5-1.8 8.7-3.4 38.4-16.5 9.5-3.6 7.2-2.4 16.7-4.6 9.4-1.9 5.8-0.9 8-0.9 7.2-0.7 5.8-0.3" stroke="#213bf7"/>
<path d="M159 423.8l10.5-0.6 12.3-1 10.2-1.1 8-1 4.3-1.5 9.4-3.7 38.4-16.4 9.5-3.6 7.2-2.4 16.7-4.5 9.4-2 5.8-0.9 8-0.9 7.2-0.6 5.8-0.4" stroke="#213af6"/>
<path d="M159.5 423.8l10-0.6 12.3-0.9 10.2-1 8-1 4.3-1.5 8.7-3.3 39.1-16.6 9.5-3.5 7.2-2.4 16.7-4.6 9.4-1.9 5.8-0.9 8-0.9 13-1.1" stroke="#2038f6"/>
<path d="M160 423.8l10.2-0.6 11.6-0.8 10.2-0.9 8-0.9 4.3-1.5 8.7-3.3 39.1-16.4 9.5-3.6 7.2-2.4 16.7-4.5 9.4-1.9 5.8-0.9 8-1 13-1" stroke="#2037f6"/>
<path d="M160.5 423.8l22.1-1.3 17.4-1.7 4.3-1.5 8.7-3.3 39.1-16.2 9.5-3.5 7.2-2.4 16.7-4.5 9.4-1.9 5.8-0.9 8-1 13-1" stroke="#1f35f6"/>
<path d="M161 423.8l21.6-1.2 17.4-1.6 3.6-1.2 9.4-3.5 39.1-16 10.2-3.7 7.2-2.3 16-4.3 9.4-2 5.8-0.9 8-1 13-1" stroke="#1f34f5"/>
<path d="M161.5 423.8l21.1-1.1 17.4-1.4 3.6-1.2 9.4-3.5 39.1-15.8 10.2-3.7 7.2-2.3 16-4.3 9.4-1.9 5.8-0.9 8-1 13-1.1" stroke="#1e32f5"/>
<path d="M162 423.8l20.6-1 17.4-1.3 3.6-1.2 9.4-3.4 39.1-15.6 10.2-3.6 7.2-2.3 16-4.3 10.1-2 5.1-0.8 8-1 13-1.1" stroke="#1e31f5"/>
<path d="M163 423.8l20.3-0.9 16.7-1.2 3.6-1.1 9.4-3.4 39.1-15.3 10.2-3.6 7.9-2.5 16-4.2 9.4-1.9 5.1-0.8 8-1 13-1.1" stroke="#1d2ff4"/>
<path d="M163.7 423.8l19.6-0.8 16.7-1.1 3.6-1.1 9.4-3.3 39.1-15.1 10.2-3.5 7.9-2.5 16-4.1 9.4-1.9 5.1-0.8 8-1 13-1.2" stroke="#1d2ef4"/>
<path d="M164.4 423.8l19.6-0.8 16-0.9 3.6-1.1 9.4-3.2 39.1-14.8 10.2-3.5 7.9-2.4 16-4.1 9.4-1.9 5.1-0.8 8-1 13-1.2" stroke="#1c2df3"/>
<path d="M165.2 423.8l18.8-0.7 16-0.8 3.6-1.1 9.4-3.2 39.1-14.3 10.9-3.7 8-2.4 15.2-3.9 10.1-2 13.1-1.7 12.3-1.2" stroke="#1c2bf3"/>
<path d="M166.6 423.8l18.1-0.6 15.3-0.7 12.3-3.9 40.6-14.5 10.1-3.4 8-2.3 15.2-3.9 10.1-2 13.1-1.7 12.3-1.2" stroke="#1b2af2"/>
<path d="M168.1 423.8l17.4-0.5 14.5-0.7 13-4 39.9-13.8 10.8-3.5 8-2.3 15.2-3.8 9.4-1.8 13.1-1.8 12.3-1.2" stroke="#1b29f2"/>
<path d="M169.5 423.8l30.5-1 12.3-3.6 44.9-15.1 8-2.5 7.2-1.9 14.5-3.6 9.4-1.8 13.1-1.8 12.3-1.2" stroke="#1b28f2"/>
<path d="M171 423.8l29-0.8 13-3.8 13-4.3 33.4-10.7 6.5-1.9 7.2-1.9 13.8-3.3 10.2-2 13-1.7 11.6-1.2" stroke="#1a26f1"/>
<path d="M173.1 423.8l26.9-0.7 13-3.6 47.1-14.6 13.8-3.8 13.7-3.2 9.5-1.8 13-1.7 11.6-1.2" stroke="#1a25f1"/>
<path d="M176 423.8l20.3-0.5 3.7-0.1 0.7-0.1 12.3-3.2 48.6-14.5 13-3.4 13-3 10.2-1.9 12.3-1.7 11.6-1.1" stroke="#1924f0"/>
<path d="M178.9 423.8l21.1-0.4 0.7-0.2 12.3-3 47.8-13.7 14.5-3.7 12.3-2.7 10.2-1.9 12.3-1.6 11.6-1.2" stroke="#1922f0"/>
<path d="M183.3 423.8l16.7-0.3 0.7-0.1 13-3.1 51.5-13.9 17.4-4.1 7.9-1.6 9.5-1.6 11.6-1.5 10.1-1.1" stroke="#1821ef"/>
<path d="M187.6 423.8l12.4-0.2 2.1-0.4 12.4-2.7 52.1-13.4 17.4-3.9 8.7-1.7 8-1.3 11.6-1.5 9.4-0.9" stroke="#1820ef"/>
<path d="M194.2 423.8l5.8-0.1 11.6-2.2 26.8-6.3 29-7.1 21-4.5 13.7-2.3 10.2-1.3 9.4-0.9" stroke="#171eee"/>
<path d="M200 423.8l15.2-2.8 24.6-5.3 29.7-6.8 18.1-3.8 13.8-2.3 10.9-1.4 9.4-1" stroke="#171dee"/>
<path d="M200.7 423.8l12.3-2 20.3-3.9 37.7-8 18.1-3.6 13.8-2.2 18.8-2.2" stroke="#171cee"/>
<path d="M200.7 423.8l13-1.8 21.8-3.7 18.8-3.7 19.6-3.9 18.8-3.5 13.8-2.1 15.2-1.7" stroke="#161bed"/>
<path d="M202.1 423.8l13.1-1.6 23.2-3.6 16.6-2.9 30.5-5.7 10.8-1.8 12.4-1.7 13-1.5" stroke="#1619ed"/>
<path d="M202.9 423.8l13-1.3 22.5-2.9 17.4-2.7 40.5-7 12.4-1.7 13-1.5" stroke="#1518ec"/>
<path d="M204.3 423.8l15.2-1.2 13.1-1.3 10.8-1.3 14.5-2.1 39.9-6.5 11.6-1.6 12.3-1.4" stroke="#1517ec"/>
<path d="M208.7 423.8l9.4-0.5 13-1 21-2.2 10.9-1.5 36.2-5.5 22.5-2.9" stroke="#1415eb"/>
</g>
<path d="M80.8 55.8l11.9 0.2 12 0.6 11.9 0.9 9.9 1 11.8 1.5 9.8 1.7 9.8 2 7.7 1.9 7.6 2.3 7.6 2.5 7.4 2.9 5.4 2.6 3.3 2.2 1.6 1.2 2.9 2.8 2.4 3.2 1 1.8 0.8 1.8 0.5 1.9 0.3 2 0.1 2-0.2 2-0.8 3.9-5.6 14.9-5.8 19.1-3.3 9.4-3.3 7.2-6.4 12.4-2.7 5.3-1.5 3.7-2.1 5.5-2.4 7.6-2.5 9.7-1.7 7.8-1.3 7.9-0.7 7.9-0.2 7.9 0.3 10 1.1 15.9 1.3 13.9 1.6 13.8 5.7 41.4" stroke="#7f0000" stroke-width="1"/>
<path class="k" d="M120 424l3 0 2-0.4 2.5-1 2.5-1.4 2-1.6 2-2.1 2-2.6 2-3.2 2-3.8 2.5-5.4 12-29.2 11.4-25.3 3.6-8.8 7.3-18.3 2.9-6.9 4.3-9.6 4.4-9 3.6-6.9 2.9-5.1 3.6-5.9 4.4-6.5 4.3-6.2 3.6-4.8 4.4-5.3 4.3-4.8 5.1-5.2 4.3-3.9 5.8-4.6 5.8-4.2 5.1-3.1 5.8-3.2 8-3.9 7.2-3.2 5.1-1.9 6.5-2.1 6.5-1.8 5.8-1.3 6.6-1.1 9.4-1.2 6.5-0.6 8.7-0.6"/>
</g>
<rect class="f" x="80.8" y="18.7" width="240.4" height="405.3"/>
<text class="a" x="74.5" y="27.9" text-anchor="end">0.7</text>
<text class="a" x="74.2" y="433.6" text-anchor="end">0</text>
<text class="a" x="80.4" y="454.0" text-anchor="middle">0</text>
<text class="a" x="321.5" y="454.0" text-anchor="middle">1</text>
<text class="i" x="199.6" y="486.6" text-anchor="middle">ξ</text>
<text class="e" transform="translate(25.3 224.5) rotate(-90)" text-anchor="middle">η</text>
<text class="a" x="97.4" y="69.0">t</text>
<rect x="108.6" y="58.4" width="7.4" height="2"/><rect x="108.6" y="63.4" width="7.4" height="2"/>
<text class="a" x="119.4" y="69.0">2.00</text>
<clipPath id="c1"><rect x="398.3" y="18.7" width="240.4" height="405.3"/></clipPath>
<g clip-path="url(#c1)">
<g class="l">
<path d="M398.3 314.7l5 0.2 4.5 0.7 4.5 1.2 4.5 1.6 4.5 2 4.5 2.5 4.6 3 5 3.7 4.5 3.7 5 4.6 5 4.9 5.5 5.7 11 12.2 21.5 25.1" stroke="#860000" stroke-width="1"/>
<path d="M398.3 347l4.5 0.2 4 0.4 4.5 0.9 4 1.1 4 1.4 4.5 1.9 4 2 4.6 2.6 4.5 2.8 4.5 3.2 9.5 7.3 10 8.5 19 16.9" stroke="#8c0000" stroke-width="1"/>
<path d="M398.3 363.1l4.5 0.1 4 0.3 4 0.6 4 0.7 4 1 4.5 1.3 8.6 3.2 8.5 3.9 9.5 5.1 10 5.8 19 11.7" stroke="#940000" stroke-width="1"/>
<path d="M398.3 373.6l8 0.3 8 1.1 8 1.8 8.1 2.4 8.5 3.2 9 4 9.5 4.6 18.5 9.4" stroke="#9a0000" stroke-width="1"/>
<path d="M398.3 380.3l8 0.3 7.5 0.9 7.5 1.5 8.1 2.2 8 2.7 9 3.6 9.5 4.1 17.5 8" stroke="#a00000" stroke-width="1"/>
<path d="M398.3 386.4l7.5 0.2 7.5 0.7 7.5 1.3 8.1 1.8 8 2.2 8.5 2.8 26.5 9.8" stroke="#a70000" stroke-width="1"/>
<path d="M398.3 390.6l7.5 0.2 7 0.6 7.5 1.1 7.5 1.6 7.6 1.9 8.5 2.5 26 8.8" stroke="#ae0000" stroke-width="1"/>
<path d="M398.3 393.9l7.5 0.2 7 0.6 7 0.9 7.5 1.5 7.6 1.7 8.5 2.4 25 7.7" stroke="#b50000" stroke-width="1"/>
<path d="M398.3 396.8l7 0.2 7 0.5 7 0.9 7.5 1.3 7.6 1.6 8 2 25 7.2" stroke="#bc0000" stroke-width="1"/>
<path d="M398.3 399.2l7 0.2 7 0.4 7 0.9 7 1.1 7.1 1.4 8 1.9 24.5 6.5" stroke="#c20000" stroke-width=".95"/>
<path d="M398.3 401.5l7 0.1 6.5 0.5 7 0.7 7 1.1 7.1 1.3 8 1.7 24 5.9" stroke="#c90000" stroke-width=".9"/>
<path d="M398.3 403.4l7 0.1 6.5 0.4 6.5 0.7 7 1 7.1 1.2 8 1.6 23.5 5.3" stroke="#cf0000" stroke-width=".9"/>
<path d="M398.3 405.4l7 0.1 6.5 0.4 6.5 0.6 7 0.9 14.6 2.5 23 4.8" stroke="#d70000" stroke-width=".9"/>
<path d="M398.3 407.1l6.5 0.1 6.5 0.4 6.5 0.5 7 0.8 14.1 2.3 23 4.4" stroke="#dd0000" stroke-width=".85"/>
<path d="M398.3 408.6l6.5 0.1 6.5 0.3 13 1.3 14.1 2 22.5 4" stroke="#e40000" stroke-width=".85"/>
<path d="M398.3 409.9l12.5 0.4 13 1.1 14.1 1.9 22 3.7" stroke="#eb0000"/>
<path d="M398.3 411.1l12.5 0.3 13 1.1 13.6 1.7 22 3.4" stroke="#f10000"/>
<path d="M398.3 412.1l12.5 0.3 12.5 0.9 13.6 1.6 22 3.2" stroke="#f70000"/>
<path d="M398.3 412.9l12 0.3 12.5 0.9 13.6 1.5 21.5 2.9" stroke="#ff0000"/>
<path d="M398.3 413.7l12 0.3 12.5 0.9 13.1 1.5 21 2.8" stroke="#ff0200"/>
<path d="M398.3 414.4l12 0.3 12 0.8 13.1 1.5 20.5 2.8" stroke="#ff0600"/>
<path d="M398.3 415l11.5 0.2 12 0.9 13.1 1.4 20.5 2.8" stroke="#ff0a00"/>
<path d="M398.3 415.5l11.5 0.2 12 0.9 12.6 1.4 20.5 2.7" stroke="#ff0e00"/>
<path d="M398.3 415.9l11.5 0.3 11.5 0.8 12.6 1.4 20 2.6" stroke="#ff1200"/>
<path d="M398.3 416.4l11.5 0.2 11.5 0.8 12.6 1.4 19.5 2.5" stroke="#ff1c00"/>
<path d="M398.3 416.8l11 0.3 11.5 0.7 12.6 1.3 19.5 2.5" stroke="#ff3500"/>
<path d="M398.3 417.3l11 0.2 11.5 0.8 12.1 1.2 19.5 2.4" stroke="#ff5200"/>
<path d="M398.3 417.7l11 0.3 11 0.7 12.1 1.2 19.5 2.3" stroke="#ff6f00"/>
<path d="M398.3 418.2l11 0.2 11 0.7 12.1 1.1 19 2.3" stroke="#ff8800"/>
<path d="M398.3 418.6l10.5 0.2 11 0.7 12.1 1.1 18.5 2.1" stroke="#ffa500"/>
<path d="M398.3 419.1l10.5 0.2 11 0.6 12.1 1.1 18 1.9" stroke="#ffc500"/>
<path d="M398.3 419.5l10.5 0.2 11 0.6 12.6 1.1 17 1.7" stroke="#fdea00"/>
<path d="M398.3 420l11 0.2 11 0.6 14.1 1.1 14.5 1.5" stroke="#eeff00"/>
<path d="M398.3 420.4l11 0.2 11.5 0.6 16.1 1.2 11.5 1.2" stroke="#cdff04"/>
<path d="M398.3 420.9l11.5 0.2 11.5 0.5 13.6 1 13 1.3" stroke="#b0ff19"/>
<path d="M398.3 421.3l12 0.2 12.5 0.6 11.6 0.7 13 1.3" stroke="#99ff52"/>
<path d="M398.3 421.8l13 0.2 14 0.5 9.1 0.6 12 1.2" stroke="#84ff8f"/>
<path d="M398.3 422.2l14 0.2 15.5 0.6 7.6 0.5 10 1" stroke="#71ffda"/>
<path d="M398.3 422.7l13.5 0.1 14.5 0.4 8.1 0.5 8 0.8" stroke="#55fbfb"/>
<path d="M398.3 423.1l27 0.4 6.6 0.3 7.5 0.7" stroke="#419eff"/>
<path d="M398.3 423.6l26.5 0.2 11.6 0.7" stroke="#2546f8"/>
</g>
<g stroke-width=".9">
<path d="M444 423.8l3-0.8 3-1.2 3-1.7 2.5-1.7 3-2.4 3-2.9 3-3.1 3.5-4.1 5.5-7.1 5.5-8 29.7-46.3 6.4-9.6 6.4-8.9 7.1-9.3 7.2-8.2 7.8-7.9 7.9-6.9 4.3-3.4 4.2-3.1 4.3-2.8 5-2.9 8.6-4.7 7.1-3.5 5.7-2.6 5-2 4.3-1.4 4.3-1.1 4.2-0.9 5-0.8 10.7-1 15-0.7" stroke="#7f0000"/>
<path d="M444 423.8l3-0.8 3-1.1 3-1.6 2.5-1.6 3-2.4 3-2.7 3.5-3.6 3.5-3.9 5-6.3 6-8.3 31.3-47.3 7.1-10.2 6.5-8.6 7.1-8.9 6.4-7.1 7.2-6.9 7.8-6.9 4.3-3.3 4.3-3 4.2-2.7 5-2.8 8.6-4.6 6.4-3.2 5.7-2.6 5-1.9 4.3-1.3 4.3-1.1 4.2-0.8 5-0.8 10.7-1 14.3-0.6" stroke="#860000"/>
<path d="M444 423.8l3-0.7 3-1.1 3-1.5 3-1.9 3-2.3 3-2.7 3.5-3.5 3.5-3.8 5.5-6.8 6-8.1 11.1-15.9 21.4-31.3 7.1-10 5.7-7.5 6.4-7.9 6.4-7 7.9-7.5 7.1-6.1 4.3-3.3 4.3-3 4.2-2.6 5-2.9 7.9-4.2 6.4-3.2 5.7-2.5 5-1.9 4.3-1.4 4.3-1.1 4.2-0.8 5-0.8 10.7-1 14.3-0.6" stroke="#8c0000"/>
<path d="M444 423.8l3-0.7 3-1 3-1.4 3-1.9 3-2.2 3.5-3 3.5-3.4 3.5-3.7 6-7.2 6.5-8.5 13.1-18.3 20.7-29.4 6.4-8.7 5.7-7.4 6.5-7.5 6.4-6.8 7.1-6.7 7.1-6 4.3-3.1 4.3-2.9 5-3 5.7-3.1 7.1-3.8 5.7-2.8 5-2.1 5-1.9 3.6-1.1 4.3-1.1 4.2-0.8 5-0.8 10.7-1 14.3-0.6" stroke="#930000"/>
<path d="M444.5 423.8l3-0.8 3-1 3-1.4 3-1.8 3-2.2 3.5-3 3.5-3.3 4-4.2 6.5-7.6 7.4-9.5 13.6-18.3 21.4-29.6 5-6.6 5-6.3 5.7-6.6 6.4-6.7 7.1-6.6 7.2-5.9 4.2-3.1 4.3-2.8 10.7-6.1 12.1-6.1 5-2.2 5-1.9 3.6-1.1 4.3-1.1 4.2-0.8 5-0.8 10.7-1 14.3-0.6" stroke="#9a0000"/>
<path d="M444.5 423.8l3.5-0.9 3-1 3.5-1.7 2.5-1.5 3-2.2 3.5-2.9 3.5-3.2 4-4.1 7-8 9.3-11.6 13.5-17.8 20.7-28 9.3-11.7 5.7-6.4 6.4-6.5 7.1-6.4 6.5-5.2 4.2-3.1 4.3-2.7 5-2.9 7.1-3.9 6.5-3.3 5-2.4 5-2.1 4.2-1.5 3.6-1 4.3-1.1 4.3-0.8 4.9-0.7 10-1 14.3-0.6" stroke="#a10000"/>
<path d="M444.5 423.8l3.5-0.8 3-1.1 3.5-1.5 2.5-1.5 3.5-2.5 3.5-2.8 3.5-3.2 4-4 4-4.3 4.5-5.2 11.6-14.3 10.7-13.7 20.6-27.4 8.6-10.6 5.7-6.3 6.4-6.3 7.2-6.4 6.4-5.1 4.3-3 4.2-2.7 12.2-6.7 10.7-5.3 5-2 4.2-1.6 3.6-1 4.3-1.1 4.3-0.8 4.9-0.7 10-0.9 14.3-0.6" stroke="#a70000"/>
<path d="M444.5 423.8l3.5-0.8 3-1 3.5-1.5 2.5-1.4 3.5-2.4 3.5-2.8 3.5-3.1 4-3.9 4-4.2 5-5.6 13.2-15.9 10-12.5 20-26 8.5-10.3 6.4-6.9 6.5-6.2 6.4-5.6 6.4-4.9 4.3-2.9 4.2-2.7 12.9-7 10-4.8 4.3-1.8 4.2-1.5 3.6-1 4.3-1.1 4.3-0.8 4.9-0.7 10-0.9 14.3-0.6" stroke="#ae0000"/>
<path d="M444.5 423.8l3.5-0.8 3-0.9 3.5-1.5 2.5-1.4 3.5-2.3 3.5-2.7 3.5-3 4-3.8 4-4.1 5-5.5 13.9-16.4 9.3-11.4 20-25.4 8.5-10.1 6.4-6.8 6.5-6.1 6.4-5.5 6.4-4.9 4.3-2.9 5-3.1 12.8-6.9 10-4.7 4.3-1.7 4.2-1.4 7.9-2.1 4.3-0.7 5-0.7 9.9-0.9 13.6-0.5" stroke="#b50000"/>
<path d="M444.5 423.8l3.5-0.7 3-1 3.5-1.4 2.5-1.4 3.5-2.2 3.5-2.6 4-3.4 4-3.8 4-4 5-5.4 14.1-16.3 9.3-11.1 20-24.9 8.5-9.9 6.4-6.5 6.5-6 6.4-5.4 6.4-4.7 4.3-2.9 5-2.9 12.8-6.8 9.3-4.3 4.3-1.7 4.2-1.5 7.9-2 4.3-0.8 5-0.7 9.9-0.8 13.6-0.5" stroke="#bc0000"/>
<path d="M444.5 423.8l3.5-0.7 3-0.9 3.5-1.4 2.5-1.3 3.5-2.2 3.5-2.6 4-3.3 4-3.6 4-4 5-5.3 14.1-15.8 9.3-10.9 20-24.3 8.5-9.7 5.7-5.8 7.2-6.5 6.4-5.3 6.4-4.8 4.3-2.8 4.3-2.5 12.8-6.8 10-4.6 4.3-1.7 4.2-1.4 7.9-2 4.3-0.8 5-0.6 9.9-0.9 13.6-0.4" stroke="#c20000"/>
<path d="M444.5 423.8l3.5-0.7 3-0.8 3.5-1.4 2.5-1.3 3.5-2.1 3.5-2.5 4-3.3 4-3.5 4.5-4.4 5-5.1 14.3-15.8 9.3-10.7 19.3-22.9 8.5-9.5 6.4-6.3 7.2-6.4 6.4-5.2 6.4-4.6 4.3-2.7 4.3-2.5 12.8-6.6 9.3-4.2 4.3-1.7 4.2-1.4 4.3-1.2 4.3-0.9 8.6-1.3 9.9-0.8 13.6-0.5" stroke="#c90000"/>
<path d="M444.5 423.8l3.5-0.7 3-0.8 3.5-1.3 2.5-1.3 3.5-2.1 3.5-2.4 4-3.1 4-3.5 4.5-4.3 5-5 14.3-15.4 9.3-10.4 19.3-22.4 8.5-9.3 6.4-6.2 7.2-6.3 6.4-5.1 6.4-4.5 4.3-2.7 4.3-2.4 12.8-6.6 9.3-4.1 4.3-1.7 4.2-1.4 4.3-1.1 4.3-1 8.6-1.3 9.9-0.7 13.6-0.4" stroke="#d00000"/>
<path d="M444.5 423.8l3.5-0.6 3-0.8 3.5-1.3 2.5-1.2 3.5-2.1 3.5-2.4 4-3 4-3.4 4.5-4.2 5-4.9 14.3-15.1 8.6-9.3 20.7-23.5 8.5-9 6.5-6 7.1-6.1 6.4-4.9 6.4-4.4 4.3-2.6 5-2.8 12.8-6.3 9.3-4 7.9-2.7 7.8-1.8 8.6-1.3 10.7-0.8 12.8-0.3" stroke="#d70000"/>
<path d="M445 423.8l3.5-0.7 3-0.8 3.5-1.3 2.5-1.3 3.5-2 3.5-2.4 3.5-2.7 4-3.3 4.5-4 5-4.9 13.6-13.9 9.3-9.9 20.7-22.9 8.5-8.8 6.5-5.8 7.1-6 6.4-4.8 6.4-4.3 4.3-2.6 5-2.7 12.8-6.3 9.3-3.9 7.9-2.6 7.8-1.9 8.6-1.3 10.7-0.7 12.8-0.3" stroke="#dd0000"/>
<path d="M445 423.8l3.5-0.7 3-0.8 3.5-1.2 2.5-1.3 3.5-2 3.5-2.3 3.5-2.6 4-3.2 4.5-4 5-4.7 13.6-13.6 9.3-9.7 20.7-22.3 8.5-8.6 6.5-5.7 7.1-5.8 6.4-4.8 6.4-4.2 4.3-2.5 5-2.7 12.8-6.2 9.3-3.9 7.9-2.5 8.5-2 7.9-1.1 10.7-0.7 12.8-0.3" stroke="#e40000"/>
<path d="M445 423.8l3.5-0.7 3-0.7 3.5-1.3 2.5-1.2 3.5-1.9 3.5-2.3 3.5-2.5 4-3.2 9-8 13.4-13.1 9.3-9.3 21.4-22.5 8.5-8.4 6.5-5.6 7.8-6.2 6.4-4.6 6.4-4.1 4.3-2.5 5-2.6 12.9-6 9.2-3.8 7.9-2.4 7.8-1.7 7.9-1.2 10.7-0.7 12.8-0.1" stroke="#eb0000"/>
<path d="M445 423.8l3.5-0.6 3-0.8 3.5-1.2 2-0.9 3.5-1.9 3.5-2.1 3.5-2.5 4-3.1 9-7.7 12.5-11.9 10-9.8 22.1-22.6 8.5-8.2 6.5-5.5 7.8-6 6.4-4.5 6.4-4 9.3-5 12.9-5.9 9.2-3.7 7.9-2.4 8.5-1.9 7.2-1 10.7-0.6 12.8-0.1" stroke="#f20000"/>
<path d="M445 423.8l3.5-0.6 3-0.8 3.5-1.1 2-0.9 3.5-1.8 3.5-2.2 3.5-2.3 4-3.1 9-7.6 11.8-10.9 10.7-10.2 21.4-21.4 9.2-8.6 6.5-5.3 7.8-5.9 6.4-4.4 6.4-4 9.3-4.9 12.9-5.8 9.2-3.6 7.9-2.4 8.5-1.8 7.2-1 10.7-0.5 12.8-0.1" stroke="#f80000"/>
<path d="M445 423.8l3.5-0.6 3-0.7 3.5-1.1 2-0.9 3.5-1.8 3.5-2.1 3.5-2.3 4-3 9-7.4 11.1-10 10.7-10 21.4-20.8 9.2-8.5 7.2-5.7 7.8-5.8 7.1-4.7 6.5-3.8 8.5-4.4 12.9-5.8 9.2-3.5 7.9-2.3 8.5-1.8 7.2-1 10.7-0.5 12.8-0.1" stroke="#ff0000"/>
<path d="M445 423.8l3.5-0.6 3-0.7 3.5-1 2-0.9 3-1.5 3.5-2 3.5-2.3 4-2.8 8.5-6.8 9.9-8.7 12.1-11.1 22.2-20.9 9.2-8.2 7.2-5.6 7.8-5.6 7.1-4.6 6.5-3.7 9.2-4.7 12.9-5.6 8.5-3.1 8.6-2.5 8.5-1.7 6.5-0.8 11.4-0.6 12.1 0.1" stroke="#ff0100"/>
<path d="M445 423.8l3.5-0.5 3-0.7 3.5-1.1 2-0.8 3-1.5 3.5-1.9 3.5-2.2 4-2.8 7.5-5.9 9.5-8.1 13.5-12 21.4-19.7 10-8.6 6.4-4.9 8.6-6 7.1-4.5 7.2-4 9.2-4.6 12.2-5.1 8.5-3.1 8.6-2.4 8.5-1.7 6.5-0.8 11.4-0.5 12.1 0.1" stroke="#ff0200"/>
<path d="M445 423.8l6-1.1 3.5-0.9 2-0.8 3-1.4 3.5-1.9 3.5-2.1 4-2.7 7-5.3 9.1-7.5 14.2-12.4 21.4-19.2 10.7-8.9 6.4-4.8 8.6-5.8 7.1-4.4 7.2-3.9 9.2-4.4 12.2-5.1 8.5-3 8.6-2.4 8.5-1.6 6.5-0.9 11.4-0.4 12.1 0.1" stroke="#ff0300"/>
<path d="M445 423.8l6-1 3.5-1 2-0.7 3-1.4 3.5-1.8 3.5-2.1 4-2.7 7-5.1 8.4-6.8 14.9-12.7 20-17.5 11.4-9.3 6.4-4.7 8.6-5.6 7.8-4.8 7.2-3.8 9.2-4.4 12.9-5.2 8.5-2.9 8.6-2.2 8.6-1.7 5.7-0.7 11.4-0.4 12.1 0.2" stroke="#ff0400"/>
<path d="M445.5 423.8l6-1.1 3.5-1 1.5-0.6 3-1.3 3.5-1.8 7-4.3 6.5-4.7 7.9-6.2 15.7-13 19.3-16.4 7.1-5.8 5.7-4.4 7.1-5 8.6-5.4 7.9-4.6 7.1-3.7 9.3-4.3 12.1-4.7 8.5-2.9 8.6-2.2 8.6-1.6 5.7-0.7 11.4-0.4 12.1 0.3" stroke="#ff0500"/>
<path d="M445.5 423.8l6-1.1 3.5-0.9 1.5-0.6 3-1.3 3.5-1.8 7-4.2 6-4.2 7.7-5.9 15.7-12.7 18.5-15.4 7.9-6.2 5.7-4.3 7.1-4.9 8.6-5.3 7.8-4.5 7.9-4 9.3-4.2 12.1-4.7 8.5-2.8 8.6-2.1 8.6-1.6 5.7-0.7 11.4-0.4 12.1 0.3" stroke="#ff0600"/>
<path d="M445.5 423.8l5.5-0.9 5-1.4 3-1.3 3.5-1.7 7-4 6-4.1 7.5-5.6 13.6-10.7 19.9-16.2 7.9-6.1 6.4-4.7 7.1-4.8 9.3-5.6 8.6-4.8 7.8-3.8 10-4.3 11.4-4.3 8.6-2.7 8.5-2.1 8.6-1.5 5.7-0.6 11.4-0.3 11.4 0.3" stroke="#ff0700"/>
<path d="M445.5 423.8l5.5-0.9 5-1.3 6.5-2.9 7-4 6-4 7.5-5.5 32.1-25.2 8.6-6.4 7.1-5.1 7.1-4.7 9.3-5.4 8.6-4.6 7.8-3.9 10-4.2 11.4-4.2 8.6-2.6 8.5-2.1 8.6-1.5 5.7-0.6 11.4-0.2 11.4 0.3" stroke="#ff0800"/>
<path d="M445.5 423.8l5.5-0.9 5-1.3 6.5-2.8 6.5-3.6 6-3.9 7-5 32.4-24.8 8.5-6.3 7.2-5 7.8-4.9 9.3-5.3 8.6-4.5 8.5-4.1 10-4 11.4-4.1 8.6-2.6 8.5-1.9 8.6-1.5 5-0.5 11.4-0.2 11.4 0.4" stroke="#ff0900"/>
<path d="M445.5 423.8l5.5-0.8 5-1.3 6.5-2.8 6.5-3.5 6-3.9 7-4.8 31-23.3 8.5-6.1 7.9-5.3 7.1-4.5 9.3-5.1 10-5.2 8.5-4 10-4 11.4-4 8.6-2.5 8.5-2 8.6-1.4 5-0.5 11.4-0.2 11.4 0.4" stroke="#ff0a00"/>
</g>
<g stroke-width=".85">
<path d="M445.5 423.8l5-0.7 5-1.2 6.5-2.6 6.5-3.5 6-3.7 7-4.7 31.5-23.2 8.5-5.9 7.9-5.1 7.8-4.7 9.3-5 9.3-4.7 9.2-4.2 10.7-4.2 10.7-3.6 8.6-2.4 8.5-1.9 7.9-1.3 5-0.5 11.4-0.2 11.4 0.5" stroke="#ff0b00"/>
<path d="M445.5 423.8l5-0.7 5-1.1 6-2.4 6.5-3.3 6-3.6 7-4.6 31.2-22.5 7.9-5.4 8.5-5.4 7.9-4.6 9.3-4.9 10-4.9 9.9-4.5 10-3.8 10.7-3.6 9.3-2.5 8.6-1.8 7.1-1.2 5-0.5 12.1-0.2 10.7 0.5" stroke="#ff0c00"/>
<path d="M446 423.8l5-0.8 4.5-1 6-2.3 6.5-3.3 6-3.5 7-4.5 30.5-21.6 7.9-5.2 8.5-5.3 7.9-4.5 7.8-4.1 12.2-5.8 9.9-4.4 11.4-4.3 11.5-3.6 9.2-2.4 10-2 5.7-0.8 5.7-0.3 10 0 10 0.4" stroke="#ff0d00"/>
<path d="M446 423.8l5-0.7 4.5-1 6-2.3 6.5-3.2 6-3.5 7-4.4 30.5-21.1 7.2-4.6 8.5-5.3 7.9-4.4 7.8-3.9 12.9-6.1 10.6-4.6 11.5-4.2 11.4-3.6 9.2-2.3 10.7-2 5.7-0.8 6.5-0.2 9.2 0.1 8.6 0.4" stroke="#ff0e00"/>
<path d="M446 423.8l5-0.7 4.5-1 6-2.2 6.5-3.1 5.5-3.1 7-4.4 31-21 7.2-4.5 7.8-4.7 7.9-4.3 7.8-3.9 13.6-6.3 11.4-4.8 11.4-4.1 10.7-3.3 10-2.5 10.7-2 4.9-0.6 7.2-0.2 8.5 0 8.6 0.5" stroke="#ff0f00"/>
<path d="M446 423.8l5-0.7 4.5-0.9 6-2.2 6.5-3.1 5.5-3 7-4.3 30.3-20.1 7.1-4.5 7.9-4.5 7.8-4.3 7.2-3.5 15-6.8 11.4-4.8 11.4-4.1 10.7-3.2 10-2.5 10.7-2 4.9-0.6 7.2-0.3 8.5 0.1 8.6 0.4" stroke="#ff1000"/>
<path d="M446 423.8l5-0.6 4.5-0.9 6-2.2 6-2.7 6-3.3 7-4.2 30.3-19.8 7.1-4.3 7.9-4.4 7.8-4.2 7.2-3.4 15.7-7.1 11.4-4.7 11.4-4 10.7-3.2 9.3-2.2 11.4-2.2 5-0.6 7.8-0.2 7.9 0.1 7.8 0.4" stroke="#ff1100"/>
<path d="M446 423.8l4.5-0.5 4.5-0.8 6-2.1 6.5-2.9 6-3.2 7-4.1 30.3-19.4 6.4-3.8 7.9-4.4 7.8-4.1 7.2-3.4 16.4-7.3 12.1-4.9 10.7-3.7 10.7-3.3 9.3-2.2 11.4-2.2 5-0.6 7.8-0.2 7.9 0.1 7.8 0.4" stroke="#ff1200"/>
<path d="M446.5 423.8l5-0.7 4-0.7 6-2.1 6.5-2.9 6-3.1 7-4.1 29.8-18.7 6.4-3.8 7.9-4.3 7.8-4 7.2-3.3 16.4-7.3 12.8-5.2 10.7-3.7 10.7-3.1 9.3-2.3 11.4-2.1 4.3-0.5 8.5-0.3 7.2 0.1 7.8 0.4" stroke="#ff1300"/>
<path d="M446.5 423.8l5-0.6 4-0.8 6-2 6.5-2.8 6-3.1 7-4 29.8-18.4 6.4-3.7 7.9-4.2 7.8-4 7.2-3.2 17.1-7.5 12.8-5.2 10.7-3.7 10-2.9 9.3-2.3 11.4-2.2 4.3-0.5 8.5-0.3 7.2 0.1 7.8 0.3" stroke="#ff1400"/>
<path d="M446.5 423.8l5-0.6 4-0.7 6-2 6.5-2.8 6-3 7-3.9 29.8-18.1 6.4-3.6 7.9-4.1 7.8-4 7.2-3.2 17.1-7.5 13.5-5.4 10.7-3.7 10-2.9 8.6-2.1 11.4-2.3 4.3-0.5 8.5-0.3 7.9 0 7.1 0.4" stroke="#ff1900"/>
</g>
<g stroke-width=".8">
<path d="M446.5 423.8l5.5-0.6 4-0.8 6-2 6.5-2.7 5.5-2.8 7.5-4 29.3-17.6 6.4-3.5 8.6-4.5 10.7-5.1 17.8-7.8 10.7-4.5 7.2-2.7 9.9-3.4 10-3 8.6-2 11.4-2.3 4.3-0.4 8.5-0.3 7.2 0 7.1 0.3" stroke="#ff1e00"/>
<path d="M447 423.8l5.5-0.7 3.5-0.6 6-2 6.5-2.7 5.5-2.6 7.5-4 29.3-17.3 6.4-3.5 8.6-4.3 10.7-5.2 18.5-8 10.7-4.5 7.2-2.7 10-3.4 9.2-2.7 8.6-2.1 11.4-2.3 4.3-0.5 8.5-0.3 7.2 0 7.1 0.2" stroke="#ff2300"/>
<path d="M447 423.8l6-0.7 3.5-0.7 6-1.9 6.5-2.7 5.5-2.7 7.5-3.9 28.8-16.7 6.4-3.4 9.3-4.7 10-4.7 19.3-8.4 10.6-4.4 7.9-3 9.3-3.1 9.2-2.7 8.6-2.1 10.7-2.2 4.3-0.5 8.5-0.3 7.2-0.1 7.1 0.3" stroke="#ff2800"/>
<path d="M447 423.8l5.5-0.6 3.5-0.6 6.5-2 6.5-2.6 5.5-2.6 7.5-3.9 29.5-16.8 15.7-7.9 9.3-4.4 20.7-8.9 10-4.2 8.5-3.2 9.3-3 8.6-2.5 7.8-1.9 11.4-2.4 3.6-0.4 10-0.4 6.4 0 6.4 0.2" stroke="#ff2d00"/>
<path d="M447 423.8l6.5-0.7 3-0.6 6.5-2 6.5-2.6 5.5-2.6 7.5-3.8 29-16.2 15.7-7.9 9.3-4.3 21.4-9.2 10-4.1 8.5-3.2 9.3-3.1 8.6-2.5 7.8-1.9 10.7-2.2 3.6-0.4 10-0.5 6.4 0 6.4 0.2" stroke="#ff3200"/>
<path d="M447.5 423.8l7-0.8 2.5-0.5 6.5-2 6.5-2.6 5.5-2.6 7.5-3.7 28.5-15.7 16.4-8.1 8.6-4 26.4-11.3 6.4-2.6 8.6-3.2 9.2-3 7.9-2.2 7.1-1.8 10.7-2.3 3.6-0.4 10-0.5 6.4 0 6.4 0.2" stroke="#ff3700"/>
<path d="M447.5 423.8l7.5-0.8 2-0.4 6.5-2 7-2.8 6-2.7 7.2-3.6 27.8-15.1 16.4-8 8.6-3.9 27.8-11.9 6.4-2.6 7.9-2.9 8.5-2.8 7.9-2.3 7.1-1.7 10.7-2.3 3.6-0.5 10-0.5 6.4-0.1 6.4 0.2" stroke="#ff3c00"/>
<path d="M448 423.8l7-0.7 2.5-0.6 6.5-2 7-2.7 12.7-6 27.8-14.8 17.1-8.3 7.9-3.5 28.5-12.3 6.4-2.5 7.9-2.9 8.5-2.8 7.9-2.3 6.4-1.6 10.7-2.3 3.6-0.5 10-0.5 6.4-0.1 6.4 0.1" stroke="#ff4100"/>
<path d="M448 423.8l7-0.6 3-0.8 6.5-1.9 7-2.7 12.9-6 27.8-14.6 17.2-8.2 36.3-15.8 7.2-2.8 7.8-2.8 8.6-2.8 7.1-2 6.4-1.6 10.7-2.4 4.3-0.4 9.3-0.5 5.7-0.1 6.4 0.1" stroke="#ff4600"/>
<path d="M448.5 423.8l6.5-0.6 3.5-0.8 6.5-2 7-2.7 12.4-5.6 27.8-14.4 17.2-8.1 37-16 7.2-2.9 7.8-2.8 7.9-2.6 7.8-2.2 12.1-2.9 4.3-0.9 4.3-0.5 9.3-0.5 5.7-0.1 6.4 0.1" stroke="#ff4d00"/>
</g>
<g stroke-width=".75">
<path d="M448.5 423.8l6.5-0.5 3.5-0.8 6.5-1.9 7.5-2.9 12.6-5.7 27.1-13.8 17.9-8.3 37.1-16.1 7.8-3 7.1-2.6 7.9-2.6 7.1-2 12.1-3 4.3-0.9 4.3-0.4 9.3-0.6 6.4-0.1 5.7 0.1" stroke="#ff5400"/>
<path d="M449 423.8l6-0.5 4.5-1 6.5-2 7.5-2.8 12.4-5.5 26.3-13.3 18.6-8.5 37.1-16.1 7.8-3.1 7.9-2.8 7.1-2.3 7.1-2 11.4-2.8 4.3-0.9 4.3-0.5 9.3-0.6 6.4-0.2 5.7 0.1" stroke="#ff5b00"/>
<path d="M449.5 423.8l5.5-0.4 5-1.1 6.5-2 8-3 12.1-5.3 25.6-12.8 18.6-8.5 37.1-16 8.5-3.4 7.9-2.8 7.1-2.3 6.4-1.9 11.4-2.8 4.3-0.9 4.3-0.5 9.3-0.6 6.4-0.2 5.7 0.1" stroke="#ff6200"/>
<path d="M450 423.8l5-0.4 6-1.3 6.5-2 8-3.1 11.8-5.1 25.7-12.5 18.5-8.4 15.7-6.7 21.4-9.4 8.5-3.4 7.9-2.8 7.1-2.3 7.2-2 10.7-2.7 4.2-0.9 5.7-0.5 7.9-0.5 5.7-0.2 5.7 0.1" stroke="#ff6900"/>
<path d="M450.5 423.8l4.5-0.3 7-1.6 7-2.2 8-3.1 11-4.7 25-12.1 18.5-8.3 15.7-6.7 21.4-9.4 8.5-3.4 8.6-3 6.4-2.1 7.2-2.1 10.7-2.7 4.2-0.9 5.7-0.6 7.9-0.5 5.7-0.1 5.7 0" stroke="#ff7000"/>
<path d="M451 423.8l4-0.3 8-1.8 7-2.2 9-3.5 10.4-4.4 23.6-11.3 19.2-8.6 15-6.3 22.1-9.8 8.6-3.4 8.5-3 12.9-3.9 10.7-2.8 4.2-0.9 5.7-0.6 7.9-0.5 5.7-0.2 5.7 0" stroke="#ff7700"/>
<path d="M451.5 423.8l3.5-0.2 4.5-0.9 4.5-1.2 7.5-2.4 9.5-3.6 11.3-4.9 24.2-11.4 16.4-7.3 14.3-6 19.2-8.6 10.7-4.3 10-3.6 12.9-3.9 10.7-2.8 3.5-0.7 5.7-0.6 7.9-0.6 5.7-0.2 5.7 0" stroke="#ff7e00"/>
<path d="M452 423.8l4-0.3 4.5-1 4-1 7.5-2.4 10-3.8 11.7-5.1 22.1-10.3 17.1-7.5 14.3-6 20-8.9 10.7-4.3 9.9-3.6 12.2-3.7 10.7-2.8 3.5-0.8 5.7-0.6 7.9-0.6 5.7-0.2 5.7 0" stroke="#ff8500"/>
<path d="M453 423.8l2-0.1 3-0.6 7.5-1.8 7.5-2.4 10-3.8 12.1-5.2 20-9.2 17.8-7.8 14.3-6 20.7-9.3 10.7-4.3 10-3.5 12.1-3.7 10-2.7 3.5-0.7 5.7-0.7 7.9-0.6 5.7-0.2 5.7 0" stroke="#ff8c00"/>
<path d="M454 423.8l1-0.1 4.5-0.8 7-1.8 7.5-2.4 9.7-3.6 12.9-5.5 19.2-8.8 32.1-13.7 20.7-9.3 10-4 10-3.6 12.1-3.7 10-2.7 3.5-0.8 5.7-0.6 7.9-0.6 5.7-0.3 5.7 0" stroke="#ff9500"/>
<path d="M455 423.8l6.5-1.3 6.5-1.7 7.5-2.5 9.6-3.5 15-6.4 15-6.9 32.1-13.6 22.1-10 10-4 10-3.6 11.4-3.5 10-2.6 3.5-0.8 5.7-0.7 7.9-0.6 5.7-0.3 5.7 0" stroke="#ff9e00"/>
<path d="M455 423.8l6.5-1.2 6.5-1.7 8-2.6 9.9-3.6 14.9-6.3 14.3-6.4 31.4-13.4 22.8-10.2 10-4.1 10.7-3.8 11.4-3.5 9.3-2.5 3.5-0.8 5.7-0.7 7.9-0.6 5.7-0.3 5.7 0" stroke="#ffa700"/>
<path d="M455.5 423.8l6.5-1.2 6.5-1.7 8.5-2.7 9.6-3.5 14.2-6 14.3-6.3 31.4-13.3 23.5-10.6 10-4 10.7-3.8 11.4-3.5 9.3-2.5 3.5-0.7 6.5-0.8 7.1-0.5 5.7-0.3 5 0" stroke="#ffb000"/>
<path d="M455.5 423.8l7-1.3 6.5-1.6 9.5-3.1 8.8-3.2 12.8-5.3 13.6-5.9 32.8-13.9 24.2-10.9 10-4 10-3.5 11.4-3.5 9.3-2.5 3.5-0.8 6.5-0.7 7.1-0.6 5.7-0.3 5 0" stroke="#ffb800"/>
<path d="M456 423.8l7-1.3 6.5-1.7 11.5-3.7 7-2.5 12.8-5.2 12.2-5.4 32.8-13.7 25.6-11.5 10-4 10-3.6 10.7-3.2 9.3-2.6 3.5-0.7 6.5-0.8 7.1-0.6 5.7-0.2 5-0.1" stroke="#ffc100"/>
<path d="M456 423.8l7-1.3 6.5-1.6 11.5-3.6 7.7-2.8 12.1-4.8 12.2-5.3 32.8-13.7 26.4-11.8 9.9-4 10-3.5 10.7-3.2 8.6-2.4 3.5-0.8 6.5-0.7 7.1-0.6 5.7-0.3 5 0" stroke="#ffca00"/>
<path d="M456 423.8l7-1.2 7-1.7 11.5-3.6 7.9-2.8 11.4-4.6 11.4-4.9 32.9-13.6 27.8-12.4 9.2-3.6 10-3.6 10.7-3.2 8.6-2.4 3.5-0.8 6.5-0.7 7.1-0.7 5.7-0.3 5 0" stroke="#ffd300"/>
<path d="M456.5 423.8l7-1.2 7-1.8 11-3.3 8.6-3.1 11.4-4.5 10.7-4.5 32.9-13.5 22.1-10 6.4-2.7 9.3-3.7 9.9-3.5 7.2-2.2 9.2-2.6 5.7-1.4 13.6-1.4 5.7-0.3 5-0.1" stroke="#ffdc00"/>
<path d="M456.5 423.8l7-1.2 7.5-1.8 11-3.3 8.8-3.1 10.7-4.2 43.6-17.9 22.1-10 6.4-2.7 9.3-3.7 9.9-3.5 7.2-2.2 9.2-2.6 5.7-1.4 13.6-1.4 5.7-0.3 5-0.1" stroke="#fee300"/>
<path d="M456.5 423.8l7.5-1.2 7.5-1.9 11-3.2 9.1-3.2 9.9-3.8 43.6-17.8 22.1-10 7.1-3 10-3.9 9.3-3.2 7.1-2.2 9.3-2.6 4.9-1.2 13.6-1.4 5.7-0.4 5 0" stroke="#fdea00"/>
<path d="M457 423.8l7-1.2 8-1.9 10.5-3.1 9.8-3.4 10-3.8 42-17 23.6-10.5 7.1-3 10-3.9 9.3-3.2 15.7-4.6 4.9-1.2 13.6-1.4 5.7-0.4 5 0" stroke="#fcf100"/>
<path d="M457 423.8l7.5-1.3 8-1.9 10.5-3 10-3.4 9.3-3.5 42-16.9 23.6-10.5 7.8-3.3 10-3.8 9.3-3.1 15-4.4 4.9-1.2 13.6-1.5 5.7-0.3 5-0.1" stroke="#fbf800"/>
<path d="M457 423.8l7.5-1.2 8.5-2 10.7-3.1 10-3.4 8.6-3.2 42-16.8 23.6-10.4 7.8-3.2 10.7-4.1 9.3-3.1 14.3-4.2 4.9-1.2 13.6-1.5 5.7-0.3 5-0.1" stroke="#faff00"/>
<path d="M457 423.8l8-1.3 8.5-2 10.2-2.8 10.7-3.7 8.6-3.2 41.3-16.3 23.6-10.3 8.5-3.6 10-3.7 9.3-3.2 14.3-4.1 4.9-1.2 13.6-1.5 5.7-0.4 5-0.1" stroke="#f6ff00"/>
<path d="M457 423.8l8-1.3 9-2 10.4-2.9 10.7-3.6 7.2-2.6 20.6-8 21.4-8.5 23.6-10.3 8.5-3.5 10.7-4 9.3-3.1 13.6-4 4.9-1.2 13.6-1.5 5.7-0.4 5-0.1" stroke="#f2ff00"/>
<path d="M457 423.8l8.5-1.3 9.5-2.2 9.4-2.6 11.4-3.8 27.1-10.2 21.4-8.4 24.3-10.6 8.5-3.5 10.7-4 9.3-3 13.6-3.9 5-1.1 12.8-1.5 5.7-0.3 5-0.1" stroke="#eeff00"/>
<path d="M457 423.8l8.5-1.3 10-2.2 9.6-2.7 11.5-3.8 27.1-10.1 20.6-8 24.3-10.6 8.5-3.5 10.7-3.9 9.3-3 13.6-4 5-1.1 12.8-1.4 5.7-0.4 5-0.1" stroke="#eaff00"/>
<path d="M457 423.8l9-1.3 11-2.5 8.9-2.4 12.1-4.1 25.7-9.5 20.6-8 24.3-10.5 9.3-3.7 10.7-3.9 9.2-3 12.9-3.7 5-1.1 12.8-1.5 5.7-0.3 5-0.2" stroke="#e6ff00"/>
<path d="M457.5 423.8l5-0.7 5-0.9 12.5-2.8 8.7-2.6 11.4-3.8 24.3-8.9 19.9-7.7 7.2-3 17.1-7.5 9.3-3.7 10.7-3.9 9.2-3 12.9-3.6 5-1.2 13.5-1.5 10-0.4" stroke="#e2ff00"/>
<path d="M457.5 423.8l5-0.7 5-0.8 12.5-2.8 8.7-2.5 11.4-3.8 24.3-8.8 19.9-7.7 7.2-2.9 17.1-7.4 9.3-3.8 10.7-3.8 9.9-3.2 12.2-3.5 5-1.1 13.5-1.5 10-0.5" stroke="#deff00"/>
<path d="M457.5 423.8l5-0.6 5-0.9 12.5-2.7 8.7-2.5 11.4-3.7 24.3-8.7 19.2-7.3 7.2-2.9 17.8-7.7 10-4 10-3.6 9.9-3.2 12.2-3.4 5-1.1 13.5-1.6 10-0.4" stroke="#daff00"/>
<path d="M457.5 423.8l5-0.6 5-0.8 12.5-2.7 8.7-2.4 12.1-3.9 23.6-8.4 19.2-7.3 7.2-2.9 17.8-7.6 10-4 10.7-3.8 10-3.1 12.1-3.5 4.3-0.9 13.5-1.5 10-0.5" stroke="#d6ff00"/>
<path d="M457.5 423.8l5-0.6 5-0.8 12.5-2.6 8.7-2.4 12.1-3.8 23.6-8.3 19.2-7.2 7.2-2.9 17.8-7.6 10-4 10.7-3.8 10-3.1 12.1-3.4 4.3-0.9 13.5-1.5 10-0.5" stroke="#d2ff00"/>
<path d="M457.5 423.8l5-0.6 5-0.7 12.5-2.6 8.7-2.3 12.1-3.8 23.6-8.2 19.2-7.2 7.2-2.8 17.8-7.6 10.7-4.2 10.7-3.8 10-3.1 11.4-3.1 4.3-0.9 13.5-1.6 10-0.5" stroke="#cfff02"/>
<path d="M458 423.8l9.5-1.3 12.5-2.4 8.7-2.4 12.1-3.7 22.9-7.9 19.2-7.1 7.9-3.1 17.8-7.6 10.7-4.1 10.7-3.8 10-3 11.4-3.2 4.3-0.9 13.5-1.5 10-0.5" stroke="#ccff04"/>
<path d="M458 423.8l9.5-1.2 12.5-2.4 9.4-2.5 12.1-3.7 22.9-7.8 18.5-6.9 7.9-3 17.8-7.6 10.7-4.1 10.7-3.7 10-3.1 11.4-3.1 4.3-0.9 13.5-1.5 10-0.5" stroke="#c9ff06"/>
<path d="M458 423.8l9.5-1.2 12.5-2.3 9.4-2.5 12.1-3.6 22.9-7.7 18.5-6.8 7.9-3.1 17.8-7.5 11.4-4.4 10-3.4 10-3 11.4-3.1 4.3-0.9 13.5-1.6 10-0.5" stroke="#c7ff09"/>
<path d="M458 423.8l9.5-1.1 12.5-2.3 9.4-2.4 12.1-3.6 22.9-7.6 18.5-6.8 7.9-3.1 17.8-7.4 11.4-4.4 10-3.4 10.7-3.2 10.7-2.9 4.3-0.9 13.5-1.5 10-0.5" stroke="#c4ff0b"/>
<path d="M458 423.8l9.5-1.1 12.5-2.2 9.4-2.4 12.1-3.5 22.2-7.3 18.5-6.7 8.6-3.3 18.5-7.7 10.7-4.1 10-3.4 10.7-3.1 10.7-2.9 4.3-0.9 13.5-1.5 10-0.5" stroke="#c1ff0d"/>
<path d="M458.5 423.8l9.5-1.1 12-2.1 9.4-2.3 12.9-3.8 22.1-7.2 17.8-6.4 8.6-3.3 17.8-7.3 11.4-4.4 10-3.3 10.7-3.2 10.7-2.9 4.3-0.8 13.5-1.6 10-0.5" stroke="#beff0f"/>
<path d="M458.5 423.8l9.5-1.1 12-2 9.4-2.3 12.9-3.7 21.4-6.9 17.8-6.3 8.5-3.3 19.3-7.9 10.7-4 10-3.3 10.7-3.2 10.7-2.8 4.3-0.9 13.5-1.5 10-0.5" stroke="#bbff11"/>
<path d="M458.5 423.8l9.5-1 12-2 9.4-2.2 12.9-3.7 21.4-6.8 17.8-6.3 8.5-3.2 18.6-7.6 11.4-4.3 10-3.3 10.7-3.1 10.7-2.8 4.3-0.9 13.5-1.5 10-0.5" stroke="#b8ff13"/>
<path d="M458.5 423.8l9.5-1 12-1.9 10.1-2.4 12.9-3.6 21.4-6.8 17.1-6 8.5-3.2 19.3-7.8 11.4-4.2 10-3.3 10.7-3.1 10-2.6 4.3-0.8 13.5-1.5 10-0.5" stroke="#b5ff15"/>
<path d="M459 423.8l9-1 12-1.8 10.1-2.4 12.9-3.5 20.7-6.5 17.1-6 9.2-3.4 19.3-7.7 11.4-4.2 10-3.3 10.7-3 10-2.6 4.3-0.9 13.5-1.4 10-0.6" stroke="#b3ff18"/>
<path d="M459 423.8l9-0.9 12-1.8 10.1-2.3 13.6-3.7 20-6.2 15.6-5.5 10-3.6 20-8 11.4-4.1 10-3.3 10.7-3 10-2.5 4.3-0.9 13.5-1.5 10-0.5" stroke="#b0ff1a"/>
<path d="M459 423.8l9-0.9 12-1.6 10.1-2.4 13.6-3.6 20-6.2 14.9-5.1 10.7-3.9 20-7.9 11.4-4.1 10-3.3 10.7-3 10-2.5 4.3-0.8 13.5-1.5 10-0.5" stroke="#adff1c"/>
<path d="M459 423.8l9-0.8 12-1.6 10.1-2.3 13.6-3.7 18.5-5.5 12.2-4.1 13.5-4.9 20.7-8.1 12.1-4.4 10-3.2 10.7-2.9 10-2.5 4.3-0.8 13.5-1.5 10-0.5" stroke="#aaff1e"/>
<path d="M459.5 423.8l9-0.8 11.5-1.5 10.8-2.5 13.6-3.6 17.8-5.3 11.4-3.8 14.3-5.1 20.7-8 12.1-4.4 10-3.1 10.7-3 10-2.5 4.3-0.8 13.5-1.4 10-0.5" stroke="#a8ff24"/>
<path d="M459.5 423.8l9-0.8 11.5-1.4 10.8-2.4 13.6-3.6 17.8-5.3 11.4-3.7 14.3-5.1 20.7-8 12.1-4.3 10-3.1 10.7-3 10-2.4 4.3-0.8 13.5-1.4 10-0.5" stroke="#a6ff2b"/>
<path d="M459.5 423.8l9-0.8 11.5-1.3 11.6-2.6 13.5-3.5 17.1-5 11.4-3.8 14.3-5 20-7.7 12.8-4.5 10-3.1 10.7-2.9 10-2.4 4.3-0.8 13.5-1.5 10-0.4" stroke="#a4ff31"/>
<path d="M460 423.8l8.5-0.7 11.5-1.4 11.6-2.5 13.5-3.4 17.1-5 10.7-3.4 14.3-5 20.7-7.9 12.8-4.5 10-3.1 10.7-2.9 9.3-2.2 5-0.9 13.5-1.5 10-0.5" stroke="#a2ff37"/>
<path d="M460 423.8l8.5-0.7 11.5-1.3 11.6-2.4 14.2-3.6 16.4-4.7 10.7-3.5 14.3-4.9 20.7-7.9 12.8-4.4 10-3.1 10.7-2.9 9.3-2.2 5-0.9 13.5-1.4 10-0.5" stroke="#a0ff3d"/>
<path d="M460.5 423.8l8.5-0.7 11-1.2 12.3-2.6 14.2-3.6 15.7-4.4 10.7-3.4 14.3-4.9 20.7-7.8 12.8-4.5 10-3 10.7-2.8 9.3-2.2 5-0.9 13.5-1.4 10-0.5" stroke="#9dff44"/>
<path d="M460.5 423.8l8.5-0.6 11-1.2 12.3-2.5 14.2-3.6 15.7-4.4 10.7-3.4 14.3-4.8 20.7-7.8 12.8-4.4 10-3 10.7-2.8 9.3-2.1 5-0.9 13.5-1.4 10-0.5" stroke="#9bff4a"/>
<path d="M461 423.8l8-0.6 11-1.1 13-2.7 15-3.7 14.9-4.2 10-3.1 15-5.1 20-7.5 12.1-4.1 10-3 10.7-2.8 10-2.3 5-0.9 13.5-1.3 10-0.5" stroke="#99ff50"/>
<path d="M461 423.8l8-0.6 11-1 13-2.6 15-3.7 14.9-4.1 10-3.2 15-5 20-7.4 12.1-4.1 10-3 10.7-2.8 10-2.2 5-0.9 13.5-1.3 10-0.5" stroke="#97ff56"/>
<path d="M461.5 423.8l8-0.6 10.5-0.9 7.3-1.4 8.5-1.8 16.4-4.2 12.2-3.3 10-3.2 13.5-4.6 20-7.3 11.4-3.8 10.7-3.2 10.7-2.7 10-2.3 5-0.8 13.5-1.4 10-0.4" stroke="#95ff5d"/>
<path d="M461.5 423.8l8-0.5 10.5-0.9 7.3-1.4 8.5-1.8 16.4-4.1 12.2-3.3 10-3.1 14.2-4.8 20-7.3 10.7-3.6 10.7-3.1 10.7-2.7 10-2.2 5-0.9 13.5-1.3 10-0.4" stroke="#93ff63"/>
<path d="M462 423.8l18-1.3 8-1.5 8.6-1.8 16.4-4.1 11.4-3.1 10-3.1 14.2-4.8 20-7.2 10.7-3.5 10.7-3.1 10.7-2.7 10-2.2 5-0.8 13.5-1.3 10-0.4" stroke="#91ff69"/>
<path d="M462 423.8l18-1.3 8-1.4 8.6-1.8 16.4-4 11.4-3 9.2-2.9 15-5 20-7.2 10.7-3.4 10.7-3.2 10.7-2.6 10-2.1 5-0.8 13.5-1.3 10-0.5" stroke="#8fff6f"/>
<path d="M462.5 423.8l17.5-1.2 8-1.4 8.6-1.8 17.1-4.1 10.7-2.8 10-3.1 14.2-4.7 19.3-6.9 11.4-3.7 10.7-3.1 10.7-2.5 10-2.1 5-0.9 13.5-1.2 10-0.5" stroke="#8dff76"/>
<path d="M463 423.8l17.5-1.2 8.2-1.5 9.3-1.9 16.4-3.9 10.7-2.8 9.3-2.9 14.2-4.6 19.3-6.9 10.7-3.4 10.7-3.1 10.7-2.6 10-2.1 5.7-0.9 13.5-1.2 10-0.5" stroke="#8bff7c"/>
<path d="M463 423.8l17.5-1.1 8.2-1.5 9.3-1.8 16.4-3.9 10-2.6 9.2-2.8 15-4.9 19.3-6.7 10.7-3.4 10.7-3.1 10.7-2.5 10-2.1 5.7-0.9 13.5-1.3 10-0.4" stroke="#89ff82"/>
<path d="M463.5 423.8l17-1 8.2-1.5 9.3-1.8 17.1-4 10-2.6 9.3-2.8 14.2-4.6 19.3-6.7 10.7-3.4 10.7-3 10.7-2.5 10-2.1 5.7-0.9 13.5-1.2 10-0.4" stroke="#87ff88"/>
<path d="M464 423.8l12-0.6 5-0.4 8.4-1.5 9.3-1.8 16.4-3.8 10-2.6 8.5-2.5 15-4.9 19.3-6.6 10.7-3.3 10.7-3 10-2.4 10.7-2.1 5.7-0.9 13.5-1.2 10-0.4" stroke="#84ff8f"/>
<path d="M464.5 423.8l16.5-1 8.4-1.4 10-1.9 16.4-3.8 9.3-2.4 8.5-2.5 15-4.8 19.3-6.6 10-3.1 10.7-3 10.7-2.4 10.7-2.2 5.7-0.8 13.5-1.2 10-0.4" stroke="#82ff95"/>
<path d="M465 423.8l15-0.7 1.5-0.3 8.6-1.4 10-2 15.7-3.5 9.3-2.4 8.5-2.5 15-4.7 18.6-6.3 10.7-3.3 10.7-3 10.7-2.4 10.7-2.1 5.7-0.9 13.5-1.1 10-0.4" stroke="#80ff9c"/>
<path d="M465.5 423.8l14.5-0.7 2-0.3 8.1-1.3 10-1.9 16.4-3.7 8.6-2.2 8.5-2.5 15-4.7 18.6-6.2 10.7-3.3 10.7-2.9 9.9-2.3 10.7-2 6.5-1 13.5-1.2 10-0.4" stroke="#7effa4"/>
<path d="M466 423.8l14-0.6 2-0.3 8.1-1.3 10-1.9 16.4-3.6 8.6-2.2 8.5-2.5 15-4.6 18.6-6.2 10.7-3.2 10.7-2.9 9.9-2.3 10.7-2 6.5-0.9 13.5-1.2 10-0.4" stroke="#7cffac"/>
<path d="M467 423.8l13-0.5 3-0.5 17.8-3.1 16.4-3.6 8.6-2.2 7.8-2.2 15-4.7 18.6-6.1 9.9-3 10.7-2.9 10-2.2 10.7-2 6.4-1 13.6-1.2 10.7-0.4" stroke="#7affb4"/>
<path d="M467.5 423.8l12.5-0.5 3-0.4 17.8-3.1 16.4-3.6 8.6-2.1 7.8-2.2 15-4.6 18.6-6.1 9.9-2.9 10.7-2.9 10-2.2 10.7-2 6.4-1 13.6-1.1 10.7-0.4" stroke="#78ffbc"/>
<path d="M468 423.8l12-0.4 3.7-0.6 17.8-3 16.4-3.6 7.9-1.9 7.8-2.2 15-4.6 17.8-5.8 10-2.9 10.7-2.9 10-2.2 10.7-2 7.1-1 13.6-1.1 10.7-0.4" stroke="#76ffc4"/>
<path d="M469 423.8l11-0.4 5.1-0.7 17.2-3 16.4-3.4 7.8-2 7.9-2.2 14.9-4.5 17.1-5.6 10-2.9 10.7-2.8 10-2.2 10.7-1.9 7.1-1 13.6-1.2 10.7-0.4" stroke="#74ffcc"/>
<path d="M470 423.8l10-0.3 6.6-1 16.4-2.8 16.4-3.4 7.1-1.8 7.9-2.2 14.9-4.5 17.1-5.4 9.3-2.7 11.4-3 9.3-2 11.4-2.1 7.1-1 13.6-1.1 10.7-0.4" stroke="#72ffd4"/>
<path d="M471 423.8l9-0.3 7.3-1 16.4-2.8 15.7-3.3 7.1-1.7 7.9-2.2 14.9-4.4 17.1-5.4 8.6-2.5 11.4-3 9.3-2 11.4-2 7.8-1.1 13.6-1.1 10.7-0.4" stroke="#70ffdc"/>
<path d="M472.5 423.8l7.5-0.2 9.4-1.4 15.7-2.6 15.7-3.3 6.4-1.6 7.9-2.2 14.2-4.2 16.4-5.1 7.9-2.3 11.4-3 9.3-2 10.7-2 9.2-1.3 14.3-1.2 10.7-0.4" stroke="#6effe4"/>
<path d="M473.5 423.8l6.5-0.2 11.6-1.6 14.9-2.6 15-3.1 6.4-1.6 7.9-2.2 35.6-10.6 12.2-3.3 10-2.2 10.7-1.9 9.9-1.5 14.3-1.1 10.7-0.4" stroke="#6bffe8"/>
<path d="M475.5 423.8l4.5-0.1 14.4-2.1 13.6-2.3 14.2-3 6.4-1.6 7.9-2.2 33.5-9.9 12.9-3.4 9.9-2.3 11.5-2 9.9-1.4 14.3-1.1 10.7-0.4" stroke="#68feeb"/>
<path d="M477 423.8l3-0.1 1.5-0.2 16.5-2.4 12.1-2.1 12.8-2.7 6.5-1.6 7.8-2.2 32.1-9.4 13.6-3.6 9.9-2.2 11.5-2 9.9-1.4 14.3-1.1 10.7-0.4" stroke="#65fdee"/>
<path d="M479.5 423.8l9.9-1.3 12.9-2 11.4-2.1 10.7-2.3 7.8-2 15-4.2 22.1-6.5 12.8-3.3 10-2.3 12.2-2.1 9.9-1.4 14.3-1 10.7-0.4" stroke="#62fdf0"/>
<path d="M480 423.8l10.8-1.4 12.2-1.9 11.4-2.1 10-2.1 7.8-2 15-4.1 22.1-6.5 12.8-3.3 10-2.2 12.2-2.1 9.9-1.3 14.3-1.1 10.7-0.3" stroke="#5efcf3"/>
<path d="M480.5 423.8l11.1-1.5 11.4-1.7 11.4-2.1 10-2 13.5-3.5 31.4-9 13.6-3.4 9.2-2 12.2-2.1 9.9-1.3 14.3-1 10.7-0.4" stroke="#5bfcf6"/>
<path d="M480.5 423.8l11.1-1.4 12.1-1.8 10.7-1.9 10-2.1 13.5-3.4 31.4-8.9 13.6-3.4 9.2-1.9 12.2-2.1 9.9-1.3 14.3-1 10.7-0.3" stroke="#58fbf8"/>
<path d="M481 423.8l11.3-1.4 11.4-1.7 10.7-1.9 10-2 12.8-3.2 32.1-9 13.6-3.3 9.2-1.9 12.2-2.1 9.9-1.2 14.3-1 10.7-0.4" stroke="#55fbfb"/>
<path d="M481 423.8l11.3-1.4 11.4-1.6 10.7-1.9 10-1.9 12.8-3.2 32.1-8.9 13.6-3.3 9.2-1.9 12.2-1.9 9.2-1.2 14.3-1.1 11.4-0.3" stroke="#51fafe"/>
<path d="M481.5 423.8l10.8-1.3 11.4-1.7 10.7-1.7 10-2 12.8-3.1 32.1-8.8 13.6-3.2 9.2-1.9 12.2-1.9 9.2-1.2 14.3-1 11.4-0.4" stroke="#4ff0ff"/>
<path d="M481.5 423.8l11.5-1.4 11.4-1.6 10-1.6 10-1.9 12.8-3.1 32.1-8.6 13.6-3.3 9.2-1.8 12.2-1.9 9.2-1.2 14.3-1 11.4-0.4" stroke="#4ddfff"/>
<path d="M482 423.8l11-1.3 11.4-1.6 10-1.6 10-1.9 12.8-3 32.1-8.5 13.6-3.2 9.2-1.8 12.2-1.9 9.2-1.2 14.3-1 11.4-0.3" stroke="#4bcfff"/>
<path d="M482 423.8l11-1.3 11.4-1.5 10-1.6 10-1.8 12.8-3 32.1-8.4 13.6-3.1 9.2-1.9 12.2-1.8 9.2-1.1 14.3-1 11.4-0.4" stroke="#48beff"/>
<path d="M482 423.8l11-1.2 12.1-1.6 10-1.6 10-1.8 12.8-3 31.4-8.1 13.6-3.1 9.2-1.8 12.2-1.8 9.2-1.1 14.3-1 11.4-0.4" stroke="#46adff"/>
<path d="M482.5 423.8l11.2-1.3 11.4-1.4 10-1.6 10-1.8 12.8-2.9 31.4-8 13.6-3 9.2-1.8 12.2-1.8 9.2-1.1 14.3-1 11.4-0.4" stroke="#43a3ff"/>
<path d="M482.5 423.8l11.2-1.2 11.4-1.5 10-1.5 10-1.7 13.5-3.1 30.7-7.7 13.6-3 9.2-1.7 12.2-1.8 9.2-1.1 14.3-1 11.4-0.3" stroke="#409bff"/>
<path d="M482.5 423.8l11.2-1.2 11.4-1.4 10-1.4 10-1.8 13.5-3 30.7-7.6 13.6-2.9 9.2-1.8 12.2-1.7 9.2-1.1 14.3-0.9 11.4-0.4" stroke="#3d93ff"/>
<path d="M482.5 423.8l11.2-1.1 11.4-1.4 10-1.4 10-1.7 13.5-3 30.7-7.5 13.6-2.9 9.2-1.7 12.2-1.8 9.2-1 14.3-0.9 11.4-0.4" stroke="#398aff"/>
<path d="M483 423.8l10.7-1.1 11.4-1.3 10-1.4 10-1.7 15-3.2 29.2-7.1 13.6-2.9 9.2-1.6 12.2-1.8 9.2-1 14.3-1 11.4-0.3" stroke="#3682ff"/>
<path d="M483 423.8l11.4-1.1 11.4-1.3 10.7-1.5 9.3-1.6 14.3-3 29.2-7 13.6-2.8 9.2-1.7 12.2-1.7 9.2-1 14.3-1 11.4-0.4" stroke="#337aff"/>
<path d="M483 423.8l11.4-1.1 11.4-1.3 10.7-1.4 9.3-1.5 14.3-3 29.2-6.9 14.3-3 9.2-1.6 12.2-1.7 8.5-0.9 14.3-0.9 11.4-0.4" stroke="#3175ff"/>
<path d="M483 423.8l11.4-1 11.4-1.3 10.7-1.4 9.3-1.5 14.3-2.9 29.2-6.8 14.3-3 9.2-1.6 12.2-1.7 8.5-0.9 14.3-0.9 11.4-0.4" stroke="#3071fe"/>
<path d="M483 423.8l11.4-1 12.1-1.3 10.7-1.4 9.3-1.4 13.6-2.7 29.2-6.9 14.3-2.9 9.2-1.6 12.2-1.7 8.5-0.9 14.3-0.9 11.4-0.4" stroke="#2f6dfe"/>
<path d="M483 423.8l11.4-1 12.1-1.2 10.7-1.4 9.3-1.4 13.6-2.6 29.2-6.8 14.3-2.9 9.2-1.6 12.2-1.7 8.5-0.9 14.3-0.9 11.4-0.4" stroke="#2e69fd"/>
<path d="M483.7 423.8l11.4-1 12.2-1.2 10.6-1.3 9.3-1.4 12.9-2.5 24.9-5.8 10-2.1 11.4-2.3 8.6-1.3 10.7-1.5 8.5-0.9 14.3-0.9 10.7-0.4" stroke="#2d65fd"/>
<path d="M483.7 423.8l11.4-0.9 12.2-1.2 11.4-1.4 9.2-1.4 12.2-2.3 25.6-5.9 11.4-2.4 10.7-2.1 9.3-1.4 10-1.3 7.8-0.8 13.6-0.8 10.7-0.4" stroke="#2c61fc"/>
<path d="M483.7 423.8l11.4-0.9 12.2-1.2 11.4-1.3 9.2-1.3 12.2-2.2 25.6-6 12.2-2.5 10.7-2 9.9-1.5 8.6-1.1 7.8-0.8 13.6-0.9 10.7-0.4" stroke="#2b5dfc"/>
<path d="M483.7 423.8l12.1-0.9 12.2-1.1 11.4-1.4 9.2-1.3 11.5-2 25.6-6 12.9-2.6 10-1.9 10.7-1.6 8.5-1.1 7.9-0.7 13.5-0.9 10-0.3" stroke="#2a59fb"/>
<path d="M483.7 423.8l12.1-0.9 12.9-1.1 12.1-1.4 9.3-1.3 10-1.8 24.9-5.8 13.6-2.8 10.7-2 10.7-1.5 8.5-1.1 7.2-0.7 13.5-0.9 10-0.3" stroke="#2955fb"/>
<path d="M484.4 423.8l12.9-0.9 12.8-1.2 12.1-1.4 8.6-1.2 9.3-1.6 24.9-5.8 13.6-2.8 10.7-1.9 11.4-1.7 7.8-1 7.2-0.7 13.5-0.9 10-0.3" stroke="#2851fa"/>
<path d="M484.4 423.8l13.6-1 12.8-1.1 12.9-1.4 8.5-1.2 7.9-1.3 24.9-5.8 14.3-3 10.7-1.9 12.1-1.8 7.1-0.9 7.2-0.6 12.8-0.9 10-0.3" stroke="#284ffa"/>
<path d="M484.4 423.8l13.6-0.9 13.5-1.2 12.9-1.3 9.2-1.4 6.5-1 24.9-5.8 14.3-3 10.7-1.9 12.8-1.9 7.2-0.8 7.1-0.7 12.1-0.8 10-0.3" stroke="#274dfa"/>
<path d="M484.4 423.8l15-1 13.6-1.1 12.1-1.3 10-1.4 5-0.8 24.9-5.8 14.3-2.9 10.7-2 13.5-2 7.9-0.9 7.1-0.6 11.4-0.7 9.3-0.3" stroke="#274cf9"/>
<path d="M485.1 423.8l24.3-1.7 11.4-1.1 8.6-1 10.7-1.5 27.8-6.5 14.2-2.9 9.3-1.6 13.6-1.9 8.5-1 14.3-1 11.4-0.5" stroke="#264af9"/>
<path d="M485.1 423.8l25-1.7 12.1-1.1 8.6-1 9.3-1.3 27.8-6.5 15-3 9.2-1.6 12.9-1.8 8.5-1 14.3-1 11.4-0.5" stroke="#2649f9"/>
<path d="M485.9 423.8l13.5-0.8 12.1-0.9 12.2-1.1 9.2-1.1 7.2-1 27.1-6.3 14.9-3.1 9.3-1.6 13.6-1.9 8.5-1 14.3-1 11.4-0.5" stroke="#2547f9"/>
<path d="M485.9 423.8l14.2-0.8 12.9-0.9 12.1-1.1 10-1.2 5-0.7 28.5-6.6 13.5-2.8 9.3-1.6 13.6-1.9 8.5-1 14.3-1.1 11.4-0.4" stroke="#2546f8"/>
<path d="M485.9 423.8l15.6-0.8 14.3-1 11.4-1.1 12.1-1.4 7.9-1.8 20-4.7 14.9-3 9.3-1.7 13.6-2 8.5-0.9 14.3-1.1 11.4-0.5" stroke="#2444f8"/>
<path d="M486.6 423.8l15.7-0.8 14.2-1 10.7-0.9 12.1-1.4 7.2-1.6 20.7-4.9 14.9-3 9.3-1.7 13.6-2 8.5-0.9 14.3-1.1 11.4-0.5" stroke="#2443f8"/>
<path d="M486.6 423.8l15.7-0.8 14.2-0.9 11.4-1 12.2-1.3 27.1-6.4 14.9-3 9.3-1.6 13.6-2 8.5-1 14.3-1.1 11.4-0.5" stroke="#2341f8"/>
<path d="M487.3 423.8l15.7-0.8 14.2-0.8 10.7-0.9 12.2-1.3 27.1-6.4 14.9-3 9.3-1.6 13.6-2 8.5-1 14.3-1.1 11.4-0.5" stroke="#2340f7"/>
<path d="M487.3 423.8l15.7-0.7 14.2-0.8 10.7-0.9 12.2-1.2 26.3-6.2 15-3 10-1.8 13.6-2 8.5-1 14.3-1.1 11.4-0.5" stroke="#223ef7"/>
<path d="M488 423.8l15.7-0.7 13.5-0.7 10.7-0.8 12.2-1.2 26.3-6.2 15-3 10-1.8 13.6-2 8.5-1 14.3-1.1 11.4-0.5" stroke="#223df7"/>
<path d="M488.7 423.8l29.2-1.4 10.7-0.7 11.5-1.1 26.3-6.2 15-3 10-1.8 13.6-2 8.5-1 14.3-1.1 11.4-0.5" stroke="#213bf7"/>
<path d="M488.7 423.8l29.2-1.3 10.7-0.7 11.5-1 26.3-6.2 15-3 10-1.7 13.6-2.1 8.5-1 14.3-1.1 11.4-0.5" stroke="#213af6"/>
<path d="M489.4 423.8l28.5-1.2 10.7-0.6 11.5-1 26.3-6.2 15-2.9 10-1.8 13.6-2 8.5-1 14.3-1.1 11.4-0.6" stroke="#2038f6"/>
<path d="M490.1 423.8l28.6-1.1 21.4-1.5 26.3-6.2 15-2.9 10-1.7 13.6-2.1 8.5-1 13.6-1.1 12.1-0.6" stroke="#2037f6"/>
<path d="M490.8 423.8l27.9-1 21.4-1.4 26.3-6.1 15-2.9 10-1.8 13.6-2 8.5-1 13.6-1.1 12.1-0.6" stroke="#1f35f6"/>
<path d="M491.6 423.8l27.8-1 20.7-1.2 26.3-6.1 15-2.9 10-1.7 13.6-2 8.5-1.1 13.6-1 12.1-0.6" stroke="#1f34f5"/>
<path d="M492.3 423.8l27.1-0.9 20.7-1.1 26.3-6.1 15-2.8 10-1.7 13.6-2 8.5-1.1 13.6-1.1 12.1-0.6" stroke="#1e32f5"/>
<path d="M493.7 423.8l26.4-0.8 20-1 26.3-6 15-2.8 10-1.7 13.6-2 8.5-1.1 13.6-1.1 12.1-0.6" stroke="#1e31f5"/>
<path d="M494.4 423.8l26.4-0.8 19.3-0.9 26.3-5.9 15-2.7 10-1.7 13.6-2 8.5-1.1 13.6-1 12.1-0.7" stroke="#1d2ff4"/>
<path d="M495.8 423.8l25.7-0.7 18.6-0.8 25.6-5.7 15-2.7 10.7-1.8 13.6-2 8.5-1 13.6-1.1 12.1-0.6" stroke="#1d2ef4"/>
<path d="M497.3 423.8l24.9-0.6 17.9-0.7 25.6-5.6 15-2.7 10.7-1.7 13.6-2 8.5-1.1 13.6-1 12.1-0.7" stroke="#1c2df3"/>
<path d="M498.7 423.8l24.2-0.6 17.2-0.6 26.3-5.6 15.7-2.7 10-1.6 13.6-2 8.5-1 13.6-1 11.4-0.6" stroke="#1c2bf3"/>
<path d="M500.1 423.8l23.6-0.5 16.4-0.5 27.8-5.7 17.8-3.1 15-2.2 7.8-1 7.2-0.8 12.8-1 10.7-0.5" stroke="#1b2af2"/>
<path d="M502.3 423.8l21.4-0.4 16.4-0.5 27.8-5.6 17.8-2.9 15.7-2.3 7.8-1 7.2-0.7 12.1-0.9 10.7-0.6" stroke="#1b29f2"/>
<path d="M505.1 423.8l35-0.8 27.8-5.3 17.8-2.9 16.4-2.3 14.3-1.7 12.1-0.9 10.7-0.5" stroke="#1b28f2"/>
<path d="M508 423.8l32.1-0.6 27.8-5.2 18.5-2.9 17.1-2.4 7.9-0.9 6.4-0.6 11.4-0.9 10-0.5" stroke="#1a26f1"/>
<path d="M510.8 423.8l29.3-0.5 27.8-5 18.5-2.8 17.9-2.4 7.1-0.8 7.1-0.7 10.7-0.8 10-0.5" stroke="#1a25f1"/>
<path d="M515.1 423.8l25-0.4 27.8-4.8 18.5-2.6 18.6-2.5 14.2-1.4 20-1.2" stroke="#1924f0"/>
<path d="M519.4 423.8l20.7-0.3 27.8-4.5 18.5-2.6 19.3-2.4 14.2-1.4 19.3-1.2" stroke="#1922f0"/>
<path d="M525.1 423.8l15-0.2 27.1-4.2 39.2-5 14.3-1.3 18.5-1.1" stroke="#1821ef"/>
<path d="M531.5 423.8l8.6-0.1 27.8-4 42.1-5.1 14.2-1.1 15-0.9" stroke="#1820ef"/>
<path d="M539.3 423.8l6.5-0.7 22.1-3 41.3-4.8 14.3-1.1 15.7-0.9" stroke="#171eee"/>
<path d="M540.1 423.8l27.1-3.2 42.8-4.7 14.2-1.1 15-0.8" stroke="#171dee"/>
<path d="M540.8 423.8l25.6-2.8 45-4.5 13.5-1 14.3-0.8" stroke="#171cee"/>
<path d="M541.5 423.8l71.3-6.7 13.6-0.9 12.8-0.7" stroke="#161bed"/>
<path d="M542.9 423.8l50.7-4.1 20.6-1.9 25-1.5" stroke="#1619ed"/>
<path d="M544.3 423.8l39.3-2.7 32.1-2.6 23.5-1.3" stroke="#1518ec"/>
<path d="M547.2 423.8l32.8-1.8 15-1 20.7-1.7 23.5-1.3" stroke="#1517ec"/>
<path d="M552.2 423.8l32.8-1.4 11.4-0.7 20-1.5 22.8-1.2" stroke="#1415eb"/>
</g>
<path d="M638.7 50l-4 0-6 0.3-4 0.4-6 0.9-5.8 1.1-5.9 1.4-5.7 1.7-5.7 1.8-11.2 4.3-5.5 2.4-7.3 3.4-7.1 3.7-5.2 2.9-6.9 4.1-5 3.3-4.9 3.5-6.4 4.8-10.7 9-5.9 5.3-5.8 5.5-5.7 5.7-5.4 5.8-8 9.1-3.7 4.7-3.6 4.8-3.3 5-3.1 5.1-2 3.5-2.6 5.4-3.1 7.4-2.6 7.6-2.5 9.6-1.9 9.8-1.8 11.9-0.9 10-0.2 8 0.4 9.9 0.8 8 1.2 7.9 1.9 9.8 2.4 11.8 5.6 25.3 11.5 48.7 4.8 21.4" stroke="#7f0000" stroke-width="1"/>
<path class="k" d="M440 424l3 0 3-0.7 3.5-1.4 3-1.6 3-2.1 3.5-3.1 3.5-3.5 3.5-4 5.5-7.1 6-8.7 6.2-9.8 24.3-39.4 6.4-9.7 6.4-9.1 7.1-9.4 3.6-4.2 3.6-4.1 3.5-3.7 4.3-4.2 4.3-4 4.3-3.6 4.3-3.4 4.2-3.1 4.3-2.8 5-2.9 8.6-4.6 7.1-3.6 5.7-2.6 5-1.9 4.3-1.4 4.3-1.1 4.2-0.9 5-0.8 5-0.6 5.7-0.5 15-0.6"/>
</g>
<rect class="f" x="398.3" y="18.7" width="240.4" height="405.3"/>
<text class="a" x="392.0" y="27.9" text-anchor="end">0.7</text>
<text class="a" x="391.7" y="433.6" text-anchor="end">0</text>
<text class="a" x="397.9" y="454.0" text-anchor="middle">0</text>
<text class="a" x="639.0" y="454.0" text-anchor="middle">1</text>
<text class="i" x="517.1" y="486.6" text-anchor="middle">ξ</text>
<text class="e" transform="translate(342.8 224.5) rotate(-90)" text-anchor="middle">η</text>
<text class="a" x="414.9" y="69.0">t</text>
<rect x="426.1" y="58.4" width="7.4" height="2"/><rect x="426.1" y="63.4" width="7.4" height="2"/>
<text class="a" x="436.9" y="69.0">2.25</text>
<clipPath id="c2"><rect x="715.8" y="18.7" width="240.4" height="405.3"/></clipPath>
<g clip-path="url(#c2)">
<g class="l">
<path d="M715.8 285.1l1.5 0.2 2 0.5 3.5 1.3 3.5 2 4 2.8 4 3.5 4.5 4.4 4.5 5 4.6 5.4 7.5 10 8.5 12.4 8.5 13 24.5 38.5 8 12 7.1 10.1" stroke="#860000" stroke-width="1"/>
<path d="M715.8 375.9l6 0.5 7 1.3 7.5 2.1 8 2.8 7.1 2.8 7.5 3.3 30 14.1 13.5 6" stroke="#8c0000" stroke-width="1"/>
<path d="M715.8 392l5.5 0.3 6.5 0.8 7 1.3 7.5 1.7 13.6 3.8 27.5 8.5 12.5 3.7" stroke="#930000" stroke-width="1"/>
<path d="M715.8 398.1l5.5 0.3 6 0.6 6.5 1 7.5 1.5 12.6 3 26 6.9 12 3" stroke="#9a0000" stroke-width="1"/>
<path d="M715.8 402.1l5 0.2 6 0.6 6.5 0.9 7 1.2 12.1 2.5 25.5 5.9 11.5 2.5" stroke="#a10000" stroke-width="1"/>
<path d="M715.8 405.5l5 0.2 5.5 0.4 6 0.8 7 1 11.6 2.1 35.5 7.1" stroke="#a70000" stroke-width="1"/>
<path d="M715.8 408.3l10 0.5 12.5 1.5 11.6 1.8 34.5 6.1" stroke="#ae0000" stroke-width="1"/>
<path d="M715.8 410.6l10 0.5 12 1.2 11.1 1.6 33.5 5.2" stroke="#b50000" stroke-width=".9"/>
<path d="M715.8 412.5l10 0.5 11.5 1 43.1 5.8" stroke="#bc0000" stroke-width=".9"/>
<path d="M715.8 414.1l9.5 0.4 11.5 0.9 42.1 5" stroke="#c10000" stroke-width=".85"/>
<path d="M715.8 415.5l9.5 0.3 11 0.8 41.1 4.2" stroke="#c80000"/>
<path d="M715.8 416.6l9 0.2 11 0.7 40.6 3.8" stroke="#d00000"/>
<path d="M715.8 417.5l9 0.3 10.5 0.6 39.6 3.2" stroke="#de0000"/>
<path d="M715.8 418.3l9 0.2 10.5 0.6 39.1 2.8" stroke="#f50000"/>
<path d="M715.8 419l8.5 0.2 10.5 0.4 38.6 2.6" stroke="#ff0300"/>
<path d="M715.8 419.6l9 0.1 10.5 0.5 37.1 2.2" stroke="#ff0700"/>
<path d="M715.8 420.1l9.5 0.1 11 0.5 35.6 2" stroke="#ff0c00"/>
<path d="M715.8 420.5l19 0.5 36.1 1.9" stroke="#ff1100"/>
<path d="M715.8 421l18.5 0.4 35.6 1.7" stroke="#ff2400"/>
<path d="M715.8 421.4l18 0.4 35.1 1.6" stroke="#ff6a00"/>
<path d="M715.8 421.9l18.5 0.4 33.6 1.3" stroke="#ff9800"/>
<path d="M715.8 422.3l21.5 0.4 29.6 1.2" stroke="#ffd600"/>
<path d="M715.8 422.8l30.6 0.5 20 0.9" stroke="#c4ff0a"/>
<path d="M715.8 423.2l27 0.3 23.1 0.9" stroke="#7affb4"/>
<path d="M715.8 423.7l27 0.1 17.6 0.7" stroke="#42a1ff"/>
</g>
<g stroke-width=".9">
<path d="M764 423.8l6.5-1.6 7-2.5 6.5-3 7-3.9 6.5-4.1 6.9-4.9 28.8-21.7 7.7-5.5 7.7-5.2 9.1-5.8 7.8-4.5 10.5-5.6 9.1-4.5 7.7-3.2 7.8-2.7 7-2 7.7-1.7 8.4-1.3 9.8-1.1 9.9-0.8 13.3-0.6" stroke="#7f0000"/>
<path d="M764 423.8l6-1.4 7-2.3 7-3.1 7-3.7 6.5-4 6.9-4.6 28.8-20.8 7.7-5.4 7.7-5 9.1-5.5 8.5-4.8 11.2-5.7 8.4-3.9 7.7-3.1 7.8-2.6 7-1.9 7.7-1.7 8.4-1.3 9.8-1 9.9-0.7 12.6-0.5" stroke="#860000"/>
<path d="M764.5 423.8l6.5-1.6 6.5-2.1 6.5-2.8 7-3.6 6.5-3.8 6.9-4.4 29.5-20.4 7.7-5.1 7.7-4.7 9.1-5.4 8.5-4.5 11.2-5.5 8.4-3.8 7.7-2.9 7.8-2.6 7-1.8 7-1.4 8.4-1.3 9.8-1.1 9.9-0.6 12.6-0.6" stroke="#8c0000"/>
<path d="M764.5 423.8l6.5-1.5 6.5-2 6.5-2.7 7-3.4 6.5-3.7 6.9-4.2 29.5-19.5 7.7-4.9 7.7-4.6 9.1-5.1 7.8-4 11.9-5.7 8.4-3.6 7.7-2.9 7.8-2.5 7-1.8 7-1.4 8.4-1.3 9.8-1 9.9-0.7 12.6-0.5" stroke="#930000"/>
<path d="M764.5 423.8l6.5-1.4 6.5-2 6.5-2.5 7-3.3 6.5-3.5 6.9-4.1 29.5-18.7 7.7-4.6 7.7-4.4 9.1-5 8.5-4.2 11.9-5.4 8.4-3.5 7.7-2.8 7.8-2.4 7-1.7 7-1.4 8.4-1.2 9.8-1 9.9-0.6 11.9-0.5" stroke="#9a0000"/>
<path d="M764.5 423.8l6-1.2 6.5-1.8 7-2.7 7-3.1 6.5-3.4 6.9-3.9 30.2-18.4 7.7-4.4 7.7-4.2 9.1-4.8 8.5-4 11.9-5.3 8.4-3.3 7.7-2.7 7.8-2.3 7-1.7 7-1.3 8.4-1.1 9.1-0.9 9.9-0.6 11.9-0.5" stroke="#a10000"/>
<path d="M764.5 423.8l6-1.2 6.5-1.7 7-2.5 7-3.1 6-3 7.4-4 30.9-18.1 7.7-4.3 7.7-4.1 9.1-4.5 8.5-3.9 11.9-5.1 8.4-3.2 7.7-2.6 7.1-2.1 7-1.6 7-1.3 8.4-1.1 9.1-0.9 9.9-0.6 11.9-0.4" stroke="#a70000"/>
<path d="M764.5 423.8l6-1.1 6.5-1.7 7-2.5 7-2.9 6-2.9 7.4-3.9 30.9-17.6 15.4-8.1 9.1-4.4 8.5-3.8 11.9-5 8.4-3.1 7.7-2.6 7.8-2.1 7-1.6 7-1.2 8.4-1.1 9.1-0.8 9.2-0.6 11.9-0.4" stroke="#ae0000"/>
<path d="M764.5 423.8l6-1.1 6.5-1.6 7-2.4 7-2.9 6-2.8 7.4-3.8 30.9-17.1 15.4-7.9 9.1-4.3 8.5-3.7 11.9-4.9 8.4-3.1 7.7-2.4 7.8-2.2 7-1.5 7-1.2 8.4-1 9.1-0.9 9.2-0.5 11.9-0.4" stroke="#b50000"/>
<path d="M764.5 423.8l6-1 6.5-1.6 7-2.4 7-2.8 6-2.8 7.4-3.7 30.9-16.6 15.4-7.7 9.1-4.2 8.5-3.6 11.9-4.7 8.4-3 7.7-2.5 7.8-2 7-1.5 7-1.2 8.4-1 9.1-0.8 9.2-0.5 11.9-0.4" stroke="#bc0000"/>
<path d="M765 423.8l6-1.1 6-1.5 7-2.2 7-2.8 6-2.7 7.4-3.6 30.9-16.2 15.4-7.5 9.1-4.1 8.5-3.5 11.9-4.6 8.4-3 7.7-2.3 7.8-2.1 7-1.4 7-1.2 8.4-1 9.1-0.7 9.2-0.5 11.9-0.4" stroke="#c20000"/>
<path d="M765 423.8l6-1.1 6-1.4 7-2.2 7-2.7 6-2.6 7.4-3.5 30.9-15.8 15.4-7.3 9.1-4 8.5-3.4 11.9-4.5 8.4-2.9 7.7-2.3 7.8-2 7-1.4 7-1.2 8.4-0.9 9.1-0.8 9.2-0.5 11.9-0.3" stroke="#c90000"/>
<path d="M765 423.8l6-1 6-1.4 7-2.2 7-2.6 6-2.6 7.4-3.4 31.6-15.7 14.7-6.8 9.8-4.2 8.5-3.3 11.9-4.4 8.4-2.7 7.7-2.3 7.1-1.7 7-1.4 7-1.1 7.7-0.9 9.8-0.8 9.2-0.4 11.9-0.4" stroke="#d00000"/>
<path d="M765 423.8l5.5-0.9 6-1.3 7-2.1 7-2.5 6.5-2.7 7.4-3.4 31.6-15.3 15.4-6.9 9.1-3.8 8.5-3.2 11.9-4.3 8.4-2.7 8.4-2.3 7.1-1.7 7-1.3 7-1.1 7.7-0.8 9.8-0.7 9.2-0.5 11.2-0.2" stroke="#d70000"/>
<path d="M765 423.8l5.5-0.9 6-1.2 7-2.1 7-2.4 6.5-2.7 7.4-3.2 31.6-15 15.4-6.7 9.1-3.7 8.5-3.2 11.9-4.1 8.4-2.6 8.4-2.3 7.1-1.7 7-1.3 7-1 7.7-0.8 9.8-0.7 9.2-0.4 11.2-0.3" stroke="#dd0000"/>
<path d="M765 423.8l5.5-0.8 6-1.3 7-2 7-2.4 6.5-2.6 7.4-3.1 31.6-14.6 15.4-6.6 9.1-3.6 8.5-3 11.9-4.1 8.4-2.5 8.4-2.3 7.1-1.6 7-1.2 7-1 7.7-0.8 9.8-0.7 9.2-0.4 11.2-0.2" stroke="#e40000"/>
<path d="M765 423.8l6-0.9 5.5-1.1 7-2 7-2.3 13.2-5.3 33-14.9 14.7-6.1 9.1-3.5 8.5-3 11.9-3.9 8.4-2.5 7.7-2 7.1-1.6 7-1.2 7.7-1.1 7.7-0.8 9.8-0.6 9.2-0.4 11.2-0.2" stroke="#eb0000"/>
<path d="M765 423.8l6-0.9 5.5-1.1 7-1.9 7-2.3 13.2-5.2 33-14.4 14.7-6 9.1-3.4 8.5-2.9 11.9-3.9 8.4-2.4 7.7-1.9 7.1-1.6 7-1.2 7.7-1 7.7-0.8 9.8-0.6 9.2-0.3 11.2-0.2" stroke="#f20000"/>
<path d="M765 423.8l6-0.8 5.5-1.1 7-1.9 7-2.2 13.2-5.1 32.3-13.8 14.7-5.9 9.1-3.3 8.5-2.9 11.9-3.7 8.4-2.4 8.4-2.1 7.1-1.5 7-1.2 7.7-1 7.7-0.7 9.8-0.6 9.2-0.3 11.2-0.2" stroke="#f80000"/>
<path d="M765.5 423.8l5.5-0.8 5.5-1 7-1.9 7-2.2 13.2-5 33-13.7 14-5.4 9.1-3.3 8.5-2.8 11.9-3.7 8.4-2.3 8.4-2 7.1-1.5 7-1.1 7.7-1 7.7-0.7 9.8-0.6 9.2-0.3 11.2-0.1" stroke="#ff0000"/>
<path d="M765.5 423.8l5.5-0.8 5.5-1 6.5-1.6 7-2.2 13.7-5 33-13.4 14-5.3 9.1-3.2 8.5-2.7 11.9-3.6 8.4-2.3 8.4-2 7.1-1.4 7-1.1 7.7-0.9 7.7-0.7 9.8-0.6 9.2-0.2 11.2-0.2" stroke="#ff0100"/>
<path d="M765.5 423.8l5-0.7 5.5-0.9 7-1.8 7-2.1 13.7-4.9 33-13.1 14-5.2 9.1-3.1 8.5-2.6 11.9-3.5 8.4-2.2 8.4-1.9 7.1-1.4 7-1.1 7.7-0.9 7.7-0.7 9.8-0.5 9.2-0.3 11.2-0.1" stroke="#ff0200"/>
<path d="M765.5 423.8l5-0.7 5.5-0.9 7-1.7 7-2 13.7-4.8 33-12.9 14-5 9.1-3.1 8.5-2.5 11.9-3.4 8.4-2.2 8.4-1.9 7.1-1.3 7-1 7.7-0.9 7.7-0.7 9.8-0.5 9.2-0.2 11.2-0.1" stroke="#ff0300"/>
<path d="M765.5 423.8l5-0.6 5.5-0.9 7-1.7 7-2 13.7-4.7 33-12.5 14-5 9.1-3 8.5-2.5 11.2-3.1 8.4-2.1 8.4-1.9 7.8-1.4 7-1 7.7-0.9 7.7-0.6 9.8-0.5 20.4-0.3" stroke="#ff0400"/>
<path d="M765.5 423.8l10-1.4 7-1.6 7-1.9 13.5-4.6 33.7-12.4 14-4.9 9.1-2.9 8.5-2.4 11.2-3.1 8.4-2 8.4-1.8 7.8-1.4 7-1 7.7-0.9 7.7-0.5 9.8-0.5 20.4-0.3" stroke="#ff0500"/>
<path d="M765.5 423.8l10-1.3 7-1.6 7-1.9 13.5-4.5 33.7-12.2 14-4.7 9.1-2.8 8.5-2.4 11.2-3 8.4-2 8.4-1.7 7.8-1.4 7-1 7.7-0.8 7.7-0.5 9.8-0.5 20.4-0.2" stroke="#ff0600"/>
<path d="M765.5 423.8l10-1.3 7-1.5 7-1.9 13.5-4.4 34.4-12.1 13.3-4.4 9.1-2.8 8.5-2.3 11.2-2.9 8.4-2 8.4-1.7 7.8-1.3 7-1 7.7-0.7 7.7-0.6 9.8-0.4 20.4-0.2" stroke="#ff0700"/>
<path d="M766 423.8l9.5-1.3 7-1.5 7-1.8 13.5-4.3 33.7-11.6 13.3-4.4 9.1-2.7 8.5-2.3 11.2-2.8 8.4-1.9 8.4-1.7 7.8-1.3 7.7-1.1 7.7-0.7 7.7-0.6 9.8-0.3 20.4-0.2" stroke="#ff0800"/>
<path d="M766 423.8l9.5-1.2 7-1.5 7-1.8 13.5-4.2 34.4-11.6 12.6-4 17.6-4.9 11.2-2.8 8.4-1.9 8.4-1.6 7.8-1.3 7.7-1 7.7-0.8 7.7-0.5 9.8-0.3 20.4-0.2" stroke="#ff0900"/>
<path d="M766 423.8l9.5-1.2 7-1.4 7-1.8 13.5-4.1 34.4-11.4 12.6-3.9 17.6-4.8 11.2-2.7 8.4-1.8 8.4-1.7 7.8-1.2 7.7-1 7.7-0.7 7.7-0.5 10.5-0.4 19.7-0.1" stroke="#ff0a00"/>
</g>
<g stroke-width=".85">
<path d="M766 423.8l9.5-1.2 7-1.4 7-1.7 13.5-4 34.4-11.2 12.6-3.8 17.6-4.7 11.2-2.7 8.4-1.7 8.4-1.6 7.8-1.2 7.7-1 7.7-0.7 7.7-0.5 10.5-0.3 19.7-0.1" stroke="#ff0b00"/>
<path d="M766 423.8l9.5-1.1 7-1.4 7-1.7 13.5-3.9 34.4-11 12.6-3.7 16.9-4.5 11.2-2.6 8.4-1.7 9.1-1.7 7.8-1.2 7.7-0.9 7.7-0.7 7.7-0.5 10.5-0.3 19.7-0.1" stroke="#ff0c00"/>
<path d="M766 423.8l9.5-1.1 6.5-1.2 7-1.7 13.5-3.8 34.9-10.9 12.6-3.6 16.9-4.4 11.2-2.5 8.4-1.8 9.1-1.6 7.8-1.2 7.7-0.9 7.7-0.7 7.7-0.4 10.5-0.4 19.7-0.1" stroke="#ff0d00"/>
<path d="M766 423.8l9.5-1 6.5-1.3 7-1.6 13.5-3.7 35.6-10.9 12.6-3.5 16.9-4.3 18.9-4 9.1-1.6 7.8-1.2 7.7-0.9 7.7-0.7 7.7-0.4 10.5-0.4 19.7 0" stroke="#ff0e00"/>
<path d="M766.5 423.8l9-1 7-1.3 7-1.6 13.5-3.7 35.1-10.5 12.6-3.5 16.9-4.2 18.9-3.9 9.1-1.6 7.8-1.1 7.7-0.9 7.7-0.7 7.7-0.4 10.5-0.4 19.7 0" stroke="#ff0f00"/>
<path d="M766.5 423.8l9-1 7-1.3 7-1.5 13.5-3.6 35.8-10.5 12.6-3.4 16.9-4.1 18.9-3.8 16.2-2.6 7.7-0.9 8.4-0.7 7-0.4 11.3-0.3 18.9-0.1" stroke="#ff1000"/>
<path d="M766.5 423.8l9-0.9 7-1.3 7-1.5 13.5-3.6 35.8-10.2 12.6-3.4 16.9-4 18.9-3.8 16.2-2.5 7.7-0.8 8.4-0.8 7-0.4 11.3-0.3 18.9-0.1" stroke="#ff1100"/>
<path d="M766.5 423.8l9-0.9 7-1.2 7-1.5 13.5-3.5 36.5-10.2 12.6-3.3 17.6-4.1 18.2-3.5 16.2-2.5 15.4-1.5 7-0.4 11.3-0.3 18.9-0.1" stroke="#ff1200"/>
<path d="M766.5 423.8l9-0.9 7-1.2 7-1.4 14.2-3.6 36.5-10 12.6-3.2 17.6-4 18.2-3.5 15.5-2.3 16.1-1.6 18.3-0.7 18.2-0.1" stroke="#ff1300"/>
<path d="M767 423.8l8.5-0.8 7-1.2 7.5-1.6 14.4-3.5 35.8-9.6 12.6-3.2 17.6-3.9 18.2-3.5 15.5-2.3 16.1-1.5 18.3-0.8 18.2-0.1" stroke="#ff1400"/>
<path d="M767 423.8l8.5-0.8 7-1.1 7.5-1.6 15.1-3.6 35.8-9.4 13.3-3.3 18.3-3.9 17.5-3.3 14.8-2.2 16.1-1.5 17.6-0.7 18.2-0.2" stroke="#ff1900"/>
</g>
<g stroke-width=".8">
<path d="M767 423.8l8.5-0.8 7.5-1.2 7-1.4 16.5-3.9 35.1-9 13.3-3.2 19-4 16.8-3.1 14.8-2.1 15.4-1.5 17.6-0.8 18.2-0.2" stroke="#ff1e00"/>
<path d="M767 423.8l8.5-0.7 7.5-1.2 7-1.4 17.2-3.9 35.1-8.9 14-3.3 19-3.9 16.8-3 13.4-1.9 16.1-1.6 17.6-0.7 17.5-0.3" stroke="#ff2300"/>
<path d="M767.5 423.8l8-0.7 7.5-1.1 7.5-1.5 18.1-4.1 34.4-8.5 14-3.2 19.7-4 16.1-2.9 13.4-1.8 16.1-1.6 17.6-0.7 16.8-0.3" stroke="#ff2800"/>
<path d="M767.5 423.8l8.5-0.7 7.5-1.1 7.5-1.5 19-4.2 33.7-8.2 14.7-3.3 19.7-3.9 16.1-2.8 12.7-1.8 15.4-1.4 17.6-0.8 16.8-0.3" stroke="#ff2d00"/>
<path d="M768 423.8l8.5-0.7 7.5-1.2 7.5-1.3 20.6-4.6 31.6-7.5 15.4-3.4 19.7-3.9 16.1-2.8 12.7-1.7 15.4-1.4 17.6-0.9 16.1-0.2" stroke="#ff3200"/>
<path d="M768 423.8l8.5-0.7 7.5-1.1 7.5-1.3 22-4.8 30.9-7.2 15.4-3.3 19.7-3.9 16.1-2.7 12.7-1.7 14.7-1.4 17.6-0.9 16.1-0.3" stroke="#ff3700"/>
<path d="M768.5 423.8l9-0.8 7.5-1.1 7.5-1.3 23.1-4.9 29.5-6.7 16.2-3.5 18.9-3.7 16.8-2.8 12.7-1.7 14-1.3 16.9-0.8 16.1-0.3" stroke="#ff3c00"/>
<path d="M768.5 423.8l7-0.5 2-0.2 7.5-1.1 8-1.4 24.7-5.1 27.4-6.2 16.9-3.6 18.9-3.6 16.8-2.8 13.4-1.7 13.3-1.2 16.9-0.9 15.4-0.3" stroke="#ff4100"/>
<path d="M769 423.8l6.5-0.4 2.5-0.3 7.5-1.1 8-1.4 26.3-5.3 25.3-5.6 17.6-3.7 18.9-3.6 16.8-2.8 12.7-1.6 13.3-1.3 16.9-0.8 15.4-0.4" stroke="#ff4600"/>
<path d="M769.5 423.8l6-0.4 3.5-0.4 7.5-1.1 8-1.3 26.7-5.3 24.6-5.4 18.3-3.8 18.2-3.4 16.9-2.8 12.6-1.6 12.6-1.2 16.9-0.9 15.4-0.4" stroke="#ff4d00"/>
</g>
<g stroke-width=".75">
<path d="M769.5 423.8l6-0.3 4-0.5 7.5-1.1 8.5-1.4 27.2-5.2 23.1-5 19.7-4.1 17.5-3.2 17.6-2.9 12.6-1.6 11.9-1.1 16.9-0.9 14.7-0.4" stroke="#ff5400"/>
<path d="M770 423.8l5.5-0.3 5-0.6 7.5-1 8.5-1.5 27.6-5.2 21.7-4.6 20.4-4.1 17.5-3.3 17.6-2.8 12.6-1.6 11.2-1 16.9-1 14.7-0.4" stroke="#ff5b00"/>
<path d="M770.5 423.8l5-0.3 6-0.6 7.5-1.1 9-1.5 26.8-4.9 25.9-5.5 18.3-3.6 16.1-2.9 16.9-2.7 12.6-1.6 11.2-1.1 16.2-0.9 14.7-0.4" stroke="#ff6200"/>
<path d="M771 423.8l4.5-0.2 7.5-0.9 8-1.1 9.5-1.6 25.7-4.6 28-5.8 17.6-3.4 14-2.6 16.2-2.6 12.6-1.6 11.2-1 16.2-1 14.7-0.5" stroke="#ff6900"/>
<path d="M772 423.8l3.5-0.2 11.5-1.3 23.7-3.9 16.9-3 27.3-5.6 17.6-3.4 13.3-2.4 16.9-2.7 12.6-1.6 10.5-1 16.2-1 14.7-0.5" stroke="#ff7000"/>
<path d="M772.5 423.8l4-0.2 11.5-1.4 25.5-4.1 14.8-2.6 28.7-5.8 17.6-3.3 16.8-3 12-1.9 12.6-1.6 9.8-0.9 16.2-1.1 14.7-0.5" stroke="#ff7700"/>
<path d="M773.5 423.8l5.5-0.5 10.5-1.2 27.5-4.4 12-2.1 28.7-5.7 17.6-3.3 17.5-3.1 11.3-1.8 12.6-1.5 9.8-1 16.2-1 14-0.5" stroke="#ff7e00"/>
<path d="M774.5 423.8l7.5-0.7 9-1.1 28.1-4.4 10.6-1.9 47-9 17.5-3.1 9.9-1.5 12.6-1.6 9.8-1 16.2-1.1 14-0.5" stroke="#ff8500"/>
<path d="M775.5 423.8l9-0.9 8-1.1 28.7-4.4 9.2-1.6 47-8.9 17.5-3.1 9.9-1.5 11.9-1.5 9.8-1 16.2-1.1 14-0.5" stroke="#ff8c00"/>
<path d="M776 423.8l9-0.9 8-1 29.7-4.5 8.4-1.4 47.7-9.1 17.5-3 9.2-1.4 11.9-1.5 9.1-0.9 16.2-1.1 14-0.6" stroke="#ff9500"/>
<path d="M776 423.8l9-0.9 8.5-1 29.9-4.4 8.4-1.4 47.7-9 16.8-2.9 9.2-1.4 11.9-1.5 9.1-1 16.2-1.1 14-0.6" stroke="#ff9e00"/>
<path d="M776.5 423.8l9-0.9 8.5-1 30.1-4.3 56.8-10.4 16.1-2.8 9.2-1.4 11.9-1.5 9.1-0.9 16.2-1.2 13.3-0.6" stroke="#ffa700"/>
<path d="M777 423.8l9-0.9 8.5-1 31-4.3 55.4-10.1 16.8-2.9 8.5-1.3 11.9-1.6 9.1-0.9 16.2-1.1 13.3-0.6" stroke="#ffb000"/>
<path d="M777 423.8l9-0.8 8.5-1 19-2.5 12-1.7 56.8-10.3 16.1-2.8 9.2-1.3 11.9-1.6 9.1-0.8 14.8-1.1 13.3-0.6" stroke="#ffb800"/>
<path d="M777.5 423.8l9-0.8 9-1 18.7-2.4 12-1.7 57.5-10.4 16.2-2.7 9.8-1.5 11.2-1.3 9.8-1 14.1-1 11.9-0.5" stroke="#ffc100"/>
<path d="M778 423.8l17.5-1.8 18.7-2.3 12-1.7 58.9-10.4 15.5-2.7 9.8-1.4 11.2-1.4 9.8-0.9 13.4-0.9 11.9-0.6" stroke="#ffca00"/>
<path d="M778 423.8l9-0.8 9-0.9 18.9-2.4 12-1.6 67.3-11.8 9.2-1.5 8.4-1.2 10.5-1.3 10.5-0.9 12.7-0.9 11.2-0.5" stroke="#ffd300"/>
<path d="M778.5 423.8l18-1.7 18.4-2.2 12-1.7 68.7-11.9 16.9-2.5 10.5-1.3 10.5-0.9 12-0.9 11.2-0.5" stroke="#ffdc00"/>
<path d="M778.5 423.8l9-0.7 9.5-1 17.9-2.1 12-1.6 69.4-12 16.9-2.5 9.8-1.1 11.2-1 12-0.9 10.5-0.5" stroke="#fee300"/>
<path d="M779 423.8l18.5-1.7 17.4-2 12-1.6 10.5-1.7 59.6-10.2 16.9-2.5 9.8-1.2 11.2-0.9 11.3-0.9 10.5-0.5" stroke="#fdea00"/>
<path d="M779 423.8l9.5-0.8 10-1 17.1-1.9 12-1.6 70.1-11.8 16.9-2.4 9.8-1.2 11.2-1 11.3-0.8 9.8-0.4" stroke="#fcf100"/>
<path d="M779 423.8l9.5-0.7 10-1 17.1-1.9 12-1.6 21-3.4 49.1-8.3 16.9-2.4 9.8-1.1 11.2-1 11.3-0.8 9.8-0.5" stroke="#fbf800"/>
<path d="M779.5 423.8l9.5-0.8 10.5-1 16.1-1.7 12-1.5 21.7-3.5 49.1-8.2 16.9-2.4 9.1-1.1 11.9-1 10.6-0.8 9.8-0.5" stroke="#faff00"/>
<path d="M779.5 423.8l9.5-0.7 11-1.1 15.6-1.7 12-1.4 21.7-3.5 49.1-8.1 16.9-2.4 9.1-1 11.9-1.1 10.6-0.7 9.8-0.5" stroke="#f6ff00"/>
<path d="M779.5 423.8l10-0.8 11.5-1 15.3-1.7 11.3-1.3 21.7-3.4 49.9-8.2 16.8-2.3 9.1-1 11.2-1 10.6-0.8 9.8-0.5" stroke="#f2ff00"/>
<path d="M779.5 423.8l10-0.7 12-1.1 14.8-1.6 11.3-1.3 22.4-3.5 49.2-7.9 16.8-2.4 9.1-1 11.9-1 19.7-1.3" stroke="#eeff00"/>
<path d="M780 423.8l11-0.8 14.8-1.4 21.8-2.4 22.4-3.4 49.9-8 16.1-2.2 9.1-1 11.9-1.1 19.7-1.2" stroke="#eaff00"/>
<path d="M780 423.8l11-0.8 14.8-1.3 21.8-2.4 22.4-3.4 49.9-7.9 16.8-2.2 8.4-1 12.7-1.1 18.9-1.2" stroke="#e6ff00"/>
<path d="M780 423.8l11-0.8 14.8-1.3 22.5-2.4 22.4-3.4 49.2-7.7 16.8-2.2 8.4-0.9 12.7-1.1 18.9-1.3" stroke="#e2ff00"/>
<path d="M780 423.8l11-0.7 14.8-1.3 22.5-2.4 22.4-3.3 49.2-7.6 16.8-2.3 8.4-0.9 12.7-1.1 18.9-1.3" stroke="#deff00"/>
<path d="M780.5 423.8l11-0.8 14.3-1.1 22.5-2.4 22.4-3.3 49.9-7.6 16.8-2.2 21.1-2 18.2-1.2" stroke="#daff00"/>
<path d="M780.5 423.8l11-0.7 14.3-1.2 19-1.9 23.1-3.2 50.5-7.7 12-1.6 11.2-1.3 9.8-1 14.1-1.1 11.2-0.7" stroke="#d6ff00"/>
<path d="M780.5 423.8l11-0.7 14.3-1.1 19-1.9 23.1-3.2 50.5-7.6 12-1.6 11.2-1.3 9.8-0.9 14.1-1.2 11.2-0.7" stroke="#d2ff00"/>
<path d="M781 423.8l10.5-0.7 14.3-1.1 19.7-1.9 23.1-3.2 49.8-7.4 11.3-1.5 10.5-1.2 9.8-0.9 14.8-1.3 11.9-0.8" stroke="#cfff02"/>
<path d="M781 423.8l10.5-0.6 14.3-1.1 19.7-2 23.1-3 49.8-7.3 11.3-1.5 20.3-2.2 14.8-1.2 11.9-0.9" stroke="#ccff04"/>
<path d="M781 423.8l24.8-1.6 19.7-2 23.1-3 49.8-7.2 11.3-1.5 20.3-2.2 14.8-1.2 11.9-0.8" stroke="#c9ff06"/>
<path d="M781.5 423.8l24.3-1.6 20.4-2 23.1-3 49.1-7 11.3-1.5 19.6-2.1 15.5-1.3 11.9-0.8" stroke="#c7ff09"/>
<path d="M781.5 423.8l24.3-1.5 20.4-2 23.1-3 49.1-6.9 10.6-1.4 17.5-1.9 17.6-1.5 12.6-0.9" stroke="#c4ff0b"/>
<path d="M782 423.8l23.8-1.5 20.4-1.9 23.1-2.9 49.1-6.9 10.6-1.4 17.5-1.8 17.6-1.6 12.6-0.9" stroke="#c1ff0d"/>
<path d="M782 423.8l23.8-1.4 20.4-1.9 23.1-2.9 59.7-8.1 17.5-1.9 17.6-1.5 12.6-1" stroke="#beff0f"/>
<path d="M782 423.8l23.8-1.4 20.4-1.9 23.8-2.9 58.3-7.8 18.2-2 30.2-2.5" stroke="#bbff11"/>
<path d="M782.5 423.8l23.3-1.3 21.1-2 23.1-2.8 58.3-7.7 17.5-1.9 30.9-2.5" stroke="#b8ff13"/>
<path d="M782.5 423.8l23.3-1.3 21.1-1.9 23.1-2.8 57.6-7.5 18.2-2 30.9-2.5" stroke="#b5ff15"/>
<path d="M783 423.8l22.8-1.2 21.1-1.9 23.1-2.7 57.6-7.5 18.2-1.9 30.9-2.6" stroke="#b3ff18"/>
<path d="M783 423.8l22.8-1.2 21.1-1.8 23.1-2.7 57.6-7.4 17.5-1.8 31.6-2.7" stroke="#b0ff1a"/>
<path d="M783.5 423.8l22.3-1.1 21.1-1.9 23.1-2.6 56.9-7.2 18.2-1.9 31.6-2.7" stroke="#adff1c"/>
<path d="M784 423.8l21.8-1.1 21.8-1.9 23.1-2.6 56.2-7 17.5-1.8 32.3-2.8" stroke="#aaff1e"/>
<path d="M784 423.8l21.8-1 21.8-1.9 23.1-2.6 56.2-6.9 16.8-1.7 33-2.9" stroke="#a8ff24"/>
<path d="M784.5 423.8l21.3-1 21.8-1.8 23.1-2.6 55.5-6.8 16.8-1.7 33.7-2.9" stroke="#a6ff2b"/>
<path d="M785 423.8l20.8-0.9 22.5-1.9 22.4-2.5 55.5-6.7 16.1-1.6 34.4-3" stroke="#a4ff31"/>
<path d="M785 423.8l20.8-0.9 22.5-1.8 22.4-2.5 55.5-6.6 15.4-1.5 35.1-3.1" stroke="#a2ff37"/>
<path d="M785.5 423.8l20.3-0.8 22.5-1.9 22.4-2.4 55.5-6.5 50.5-4.6" stroke="#a0ff3d"/>
<path d="M786 423.8l19.8-0.8 22.5-1.8 22.4-2.4 55.5-6.4 50.5-4.6" stroke="#9dff44"/>
<path d="M786.5 423.8l19.3-0.7 23.2-1.9 21.7-2.3 54.8-6.3 51.2-4.6" stroke="#9bff4a"/>
<path d="M787 423.8l18.8-0.7 23.2-1.9 21.7-2.2 54.8-6.2 51.2-4.6" stroke="#99ff50"/>
<path d="M787.5 423.8l18.3-0.6 23.9-2 21-2.1 54.8-6.1 51.2-4.6" stroke="#97ff56"/>
<path d="M788 423.8l17.8-0.6 23.9-1.9 21-2.1 54.8-6 51.2-4.6" stroke="#95ff5d"/>
<path d="M788.5 423.8l17.3-0.6 24.6-1.9 20.3-2 54.1-5.9 51.9-4.6" stroke="#93ff63"/>
<path d="M789 423.8l16.8-0.5 24.6-1.9 20.3-2 54.1-5.8 51.9-4.6" stroke="#91ff69"/>
<path d="M789.5 423.8l16.3-0.5 25.3-1.9 19.6-1.9 53.4-5.6 52.6-4.7" stroke="#8fff6f"/>
<path d="M790 423.8l15.8-0.4 25.3-2 19.6-1.8 53.4-5.6 28.7-2.4 23.9-2.3" stroke="#8dff76"/>
<path d="M791 423.8l14.8-0.4 26-2 18.9-1.7 53.4-5.5 28.7-2.4 23.9-2.3" stroke="#8bff7c"/>
<path d="M791.5 423.8l14.3-0.4 26.7-2 18.2-1.6 52.7-5.4 29.4-2.4 23.9-2.3" stroke="#89ff82"/>
<path d="M792.5 423.8l13.3-0.3 27.4-2.1 17.5-1.6 52.7-5.2 29.4-2.4 23.9-2.3" stroke="#87ff88"/>
<path d="M793.5 423.8l12.3-0.3 28.1-2.1 16.8-1.5 52-5.1 30.1-2.4 23.9-2.3" stroke="#84ff8f"/>
<path d="M794 423.8l11.8-0.3 28.8-2.1 16.1-1.4 52-5 29.4-2.4 24.6-2.3" stroke="#82ff95"/>
<path d="M795.5 423.8l10.3-0.2 30.2-2.2 66-6.2 30.1-2.4 24.6-2.3" stroke="#80ff9c"/>
<path d="M796.5 423.8l9.3-0.2 31.6-2.3 63.9-5.9 30.8-2.4 24.6-2.4" stroke="#7effa4"/>
<path d="M797.5 423.8l8.3-0.2 32.3-2.3 64.6-5.9 31.5-2.4 22.5-2.2" stroke="#7cffac"/>
<path d="M799 423.8l6.8-0.1 34.4-2.5 62.5-5.6 31.5-2.4 22.5-2.2" stroke="#7affb4"/>
<path d="M800.5 423.8l5.3-0.1 35.8-2.5 61.1-5.5 30.8-2.3 23.2-2.2" stroke="#78ffbc"/>
<path d="M802.5 423.8l3.3-0.1 11.2-0.7 26.7-2 59-5.1 30.8-2.3 23.2-2.2" stroke="#76ffc4"/>
<path d="M804.4 423.8l20.4-1.3 21-1.6 56.2-4.8 30.8-2.3 23.9-2.3" stroke="#74ffcc"/>
<path d="M805.8 423.8l41.4-2.9 54.8-4.7 30.1-2.1 24.6-2.4" stroke="#72ffd4"/>
<path d="M805.8 423.8l41.4-2.8 54.8-4.6 30.1-2.1 24.6-2.4" stroke="#70ffdc"/>
<path d="M806.5 423.8l35.8-2.4 59.7-4.9 27.3-1.8 27.4-2.6" stroke="#6effe4"/>
<path d="M806.5 423.8l35.8-2.3 59.7-4.8 26.6-1.8 12.7-1.1 15.4-1.6" stroke="#6bffe8"/>
<path d="M807.2 423.8l35.8-2.3 59-4.7 26.6-1.8 13.4-1.1 14.7-1.5" stroke="#68feeb"/>
<path d="M807.2 423.8l35.8-2.3 59-4.6 26.6-1.7 13.4-1.1 14.7-1.5" stroke="#65fdee"/>
<path d="M807.9 423.8l35.1-2.2 59-4.5 25.9-1.7 13.4-1.1 15.4-1.5" stroke="#62fdf0"/>
<path d="M807.9 423.8l35.1-2.2 59-4.4 25.9-1.6 13.4-1.1 15.4-1.6" stroke="#5efcf3"/>
<path d="M808.6 423.8l35.1-2.2 58.3-4.3 25.9-1.6 13.4-1.1 15.4-1.5" stroke="#5bfcf6"/>
<path d="M808.6 423.8l35.1-2.1 58.3-4.2 25.9-1.6 13.4-1.1 15.4-1.5" stroke="#58fbf8"/>
<path d="M808.6 423.8l35.1-2.1 58.3-4.1 25.2-1.5 14.1-1.1 15.4-1.6" stroke="#55fbfb"/>
<path d="M809.3 423.8l35.1-2 58.3-4.1 24.5-1.4 14.1-1.2 15.4-1.5" stroke="#51fafe"/>
<path d="M809.3 423.8l35.1-2 58.3-4 24.5-1.4 14.1-1.1 15.4-1.5" stroke="#4ff0ff"/>
<path d="M810 423.8l34.4-1.9 58.3-4 24.5-1.4 14.1-1.1 15.4-1.5" stroke="#4ddfff"/>
<path d="M810 423.8l35.1-1.9 57.6-3.8 24.5-1.4 14.1-1.1 15.4-1.5" stroke="#4bcfff"/>
<path d="M810 423.8l35.1-1.9 57.6-3.7 24.5-1.4 14.1-1 15.4-1.5" stroke="#48beff"/>
<path d="M810.7 423.8l34.4-1.8 57.6-3.7 23.8-1.3 14.8-1.1 15.4-1.5" stroke="#46adff"/>
<path d="M810.7 423.8l35.1-1.8 57.6-3.6 23.1-1.2 14.8-1.1 15.4-1.5" stroke="#43a3ff"/>
<path d="M810.7 423.8l35.1-1.8 57.6-3.5 23.1-1.2 14.8-1.1 15.4-1.5" stroke="#409bff"/>
<path d="M811.4 423.8l35.1-1.8 56.9-3.4 23.1-1.2 14.8-1 15.4-1.5" stroke="#3d93ff"/>
<path d="M811.4 423.8l35.1-1.7 57.6-3.4 22.4-1.1 14.8-1.1 15.4-1.4" stroke="#398aff"/>
<path d="M811.4 423.8l35.1-1.7 57.6-3.3 22.4-1.1 14.8-1.1 15.4-1.4" stroke="#3682ff"/>
<path d="M811.4 423.8l35.8-1.6 56.9-3.3 22.4-1.1 14.8-1 15.4-1.5" stroke="#337aff"/>
<path d="M812.1 423.8l35.8-1.6 56.2-3.2 22.4-1.1 14.8-1 15.4-1.4" stroke="#3175ff"/>
<path d="M812.1 423.8l36.5-1.6 56.2-3.2 21-1 15.5-1 15.4-1.4" stroke="#3071fe"/>
<path d="M812.1 423.8l37.2-1.6 55.5-3.1 21-1 15.5-1 15.4-1.4" stroke="#2f6dfe"/>
<path d="M812.8 423.8l37.2-1.6 26-1.3 28.8-1.7 21-1 15.5-1 15.4-1.4" stroke="#2e69fd"/>
<path d="M812.8 423.8l38.6-1.6 24.6-1.2 28.8-1.7 21-1 15.5-1 15.4-1.4" stroke="#2d65fd"/>
<path d="M812.8 423.8l32.3-1.2 30.9-1.5 26-1.6 29.4-1.4 12.7-0.9 12.6-1.2" stroke="#2c61fc"/>
<path d="M813.5 423.8l31.6-1.2 30.9-1.4 25.3-1.6 30.8-1.5 24.6-2" stroke="#2b5dfc"/>
<path d="M813.5 423.8l31.6-1.1 30.9-1.4 24.6-1.6 31.5-1.5 24.6-2" stroke="#2a59fb"/>
<path d="M814.2 423.8l30.9-1.1 30.9-1.3 23.9-1.6 32.9-1.6 23.9-1.9" stroke="#2955fb"/>
<path d="M814.2 423.8l30.9-1 30.9-1.3 23.9-1.6 32.9-1.6 23.9-1.9" stroke="#2851fa"/>
<path d="M814.9 423.8l30.9-1 30.2-1.2 7-0.6 16.2-1 34.3-1.7 23.2-1.8" stroke="#284ffa"/>
<path d="M814.9 423.8l30.9-1 30.2-1.1 7-0.7 15.4-0.9 35.8-1.8 22.5-1.8" stroke="#274dfa"/>
<path d="M815.6 423.8l30.2-0.9 30.2-1.2 7-0.6 14.7-0.9 37.2-1.9 21.8-1.7" stroke="#274cf9"/>
<path d="M816.3 423.8l29.5-0.9 30.2-1.1 7-0.6 14-0.9 38.6-2 21.1-1.6" stroke="#264af9"/>
<path d="M816.3 423.8l29.5-0.8 30.2-1.1 5.6-0.6 9.8-0.6 14.1-0.9 26.6-1.2 24.6-1.8" stroke="#2649f9"/>
<path d="M817 423.8l28.8-0.8 30.2-1 5.6-0.6 10.5-0.7 40.7-2.1 23.9-1.8" stroke="#2547f9"/>
<path d="M817.7 423.8l58.3-1.7 5.6-0.6 11.2-0.8 40-2.1 23.9-1.7" stroke="#2546f8"/>
<path d="M818.4 423.8l57.6-1.6 5.6-0.7 11.2-0.8 40-2 23.9-1.7" stroke="#2444f8"/>
<path d="M819.1 423.8l56.9-1.5 6.3-0.8 11.2-0.8 39.3-2 23.9-1.7" stroke="#2443f8"/>
<path d="M819.1 423.8l56.9-1.4 6.3-0.8 11.2-0.8 39.3-2 23.9-1.7" stroke="#2341f8"/>
<path d="M820.5 423.8l55.5-1.3 6.3-0.8 11.2-0.9 12.7-0.7 27.3-1.3 23.2-1.6" stroke="#2340f7"/>
<path d="M821.2 423.8l54.8-1.3 6.3-0.8 11.9-0.9 39.3-1.9 23.2-1.7" stroke="#223ef7"/>
<path d="M821.9 423.8l54.1-1.2 6.3-0.8 11.9-0.9 39.3-2 23.2-1.6" stroke="#223df7"/>
<path d="M822.7 423.8l53.3-1.1 6.3-0.9 11.9-0.9 12-0.7 27.3-1.2 23.2-1.6" stroke="#213bf7"/>
<path d="M824.1 423.8l51.9-1 6.3-0.9 12.6-1 38.6-1.9 23.2-1.5" stroke="#213af6"/>
<path d="M824.8 423.8l51.2-0.9 6.3-0.9 12.6-1 39.3-2 22.5-1.4" stroke="#2038f6"/>
<path d="M826.2 423.8l49.8-0.9 6.3-0.9 12.6-1 12-0.7 27.3-1.2 22.5-1.5" stroke="#2037f6"/>
<path d="M827.6 423.8l48.4-0.8 6.3-0.9 13.3-1.1 38.6-1.8 22.5-1.5" stroke="#1f35f6"/>
<path d="M829.7 423.8l46.3-0.7 6.3-1 13.3-1 38.6-1.9 22.5-1.4" stroke="#1f34f5"/>
<path d="M831.1 423.8l44.9-0.6 6.3-1 13.3-1 39.3-1.9 21.8-1.4" stroke="#1e32f5"/>
<path d="M833.2 423.8l42.8-0.6 6.3-0.9 13.3-1.1 39.3-1.8 21.8-1.4" stroke="#1e31f5"/>
<path d="M835.3 423.8l40.7-0.5 2.8-0.5 4.2-0.5 13.3-1.1 38.6-1.8 21.8-1.2" stroke="#1d2ff4"/>
<path d="M838.1 423.8l37.9-0.4 2.8-0.6 4.2-0.5 13.3-1 38.6-1.8 21.8-1.2" stroke="#1d2ef4"/>
<path d="M840.9 423.8l35.1-0.4 2.8-0.5 4.2-0.5 13.3-1 39.3-1.8 21.1-1.2" stroke="#1c2df3"/>
<path d="M844.4 423.8l31.6-0.3 2.8-0.5 4.2-0.5 14-1.1 38.6-1.7 21.1-1.2" stroke="#1c2bf3"/>
<path d="M847.9 423.8l28.1-0.3 2.8-0.5 4.2-0.5 14-1 38.6-1.7 21.1-1.1" stroke="#1b2af2"/>
<path d="M852.1 423.8l23.9-0.2 2.8-0.5 4.2-0.5 14-1 39.3-1.7 20.4-1.1" stroke="#1b29f2"/>
<path d="M857 423.8l19-0.2 2.8-0.5 4.2-0.4 14.7-1.1 59-2.6" stroke="#1b28f2"/>
<path d="M863.4 423.8l12.6-0.1 2.8-0.5 4.2-0.5 14.7-1 59-2.5" stroke="#1a26f1"/>
<path d="M870.4 423.8l5.6-0.1 3.5-0.5 4.2-0.5 16.9-1 56.1-2.3" stroke="#1a25f1"/>
<path d="M876 423.8l7-0.9 15.4-1 58.3-2.4" stroke="#1924f0"/>
<path d="M876 423.8l7-0.8 16.2-1 57.5-2.3" stroke="#1922f0"/>
<path d="M876 423.8l7-0.8 16.2-0.9 57.5-2.1" stroke="#1821ef"/>
<path d="M876.7 423.8l7.7-0.8 16.2-0.8 56.1-2" stroke="#1820ef"/>
<path d="M876.7 423.8l7.7-0.7 16.9-0.8 55.4-1.9" stroke="#171eee"/>
<path d="M877.4 423.8l7.7-0.6 17.6-0.9 54-1.6" stroke="#171dee"/>
<path d="M877.4 423.8l7.7-0.5 18.3-0.8 53.3-1.6" stroke="#171cee"/>
<path d="M878.1 423.8l26.7-1.2 51.9-1.4" stroke="#161bed"/>
<path d="M878.8 423.8l27.4-1.1 50.5-1.2" stroke="#1619ed"/>
<path d="M880.2 423.8l30.2-1 46.3-1" stroke="#1518ec"/>
<path d="M883 423.8l33.7-1 40-0.7" stroke="#1517ec"/>
<path d="M887.9 423.8l33.7-0.8 35.1-0.5" stroke="#1415eb"/>
</g>
<path d="M715.1 91l7.9-1.2 7.7-2 7.5-2.6 7.3-3.2 5.3-2.7 6.9-4.1 20-13.1 5-3.1 5.2-3 8.9-4.5 14.4-6.8 9.1-4.1 7.3-3.1 7.4-2.9 7.5-2.6 20.9-6.7 9.5-2.7 19.4-4.5 7.7-2.1" stroke="#7f0000" stroke-width="1"/>
<path class="k" d="M760 424l3 0 2-0.4 4-1 4-1.3 4-1.6 4-1.8 4-2 4-2.3 7-4.5 7.7-5.5 7-5.4 22.5-17.8 7.7-5.7 8.4-5.9 9.1-6 7.8-4.6 11.2-6.2 8.4-4.1 7.7-3.2 7.8-2.8 7-2 7-1.5 8.4-1.4 9.8-1.1 9.9-0.7 13.3-0.6"/>
</g>
<rect class="f" x="715.8" y="18.7" width="240.4" height="405.3"/>
<text class="a" x="709.5" y="27.9" text-anchor="end">0.7</text>
<text class="a" x="709.2" y="433.6" text-anchor="end">0</text>
<text class="a" x="715.4" y="454.0" text-anchor="middle">0</text>
<text class="a" x="956.5" y="454.0" text-anchor="middle">1</text>
<text class="i" x="834.6" y="486.6" text-anchor="middle">ξ</text>
<text class="e" transform="translate(660.3 224.5) rotate(-90)" text-anchor="middle">η</text>
<text class="a" x="732.4" y="69.0">t</text>
<rect x="743.6" y="58.4" width="7.4" height="2"/><rect x="743.6" y="63.4" width="7.4" height="2"/>
<text class="a" x="754.4" y="69.0">2.50</text>
<clipPath id="c3"><rect x="1033.3" y="18.7" width="240.4" height="405.3"/></clipPath>
<g clip-path="url(#c3)">
<g class="l">
<path d="M1033.3 352.7l4.5 0.2 4.5 0.5 4.5 0.9 4.5 1.1 4.5 1.4 5 1.8 5.1 2.2 5 2.3 9.5 5.1 10.5 6.3 10 6.5 23.6 15.7 10 6.5" stroke="#7f0000" stroke-width="1"/>
<path d="M1033.3 396.3l8 0.1 8 0.4 17.6 1.3 18 2 38.5 5" stroke="#860000" stroke-width="1"/>
<path d="M1033.3 400.1l15 0.4 16.6 1.1 17 1.6 36.5 4" stroke="#8c0000" stroke-width="1"/>
<path d="M1033.3 402.2l14.5 0.3 16.1 1 16 1.5 35 3.6" stroke="#950000" stroke-width=".9"/>
<path d="M1033.3 403.4l14.5 0.3 15.6 1 16 1.4 34 3.4" stroke="#9b0000"/>
<path d="M1033.3 404.4l14 0.3 15.5 0.9 15.6 1.3 33.5 3.3" stroke="#a10000"/>
<path d="M1033.3 405.3l14 0.3 15 0.9 15.6 1.2 32.5 3.1" stroke="#a70000"/>
<path d="M1033.3 406.1l13.5 0.3 15 0.8 15.1 1.2 32.5 3" stroke="#ad0000"/>
<path d="M1033.3 406.8l13.5 0.3 14.5 0.8 15.1 1.2 32 2.8" stroke="#b30000"/>
<path d="M1033.3 407.6l13 0.2 14.5 0.8 15.1 1.1 31.5 2.7" stroke="#ba0000"/>
<path d="M1033.3 408.2l13 0.3 14.5 0.7 14.6 1.1 31 2.6" stroke="#c10000"/>
<path d="M1033.3 408.9l13 0.3 14 0.6 14.6 1.1 31 2.5" stroke="#c80000"/>
<path d="M1033.3 409.5l12.5 0.3 14 0.6 14.6 1 30.5 2.4" stroke="#d00000"/>
<path d="M1033.3 410.2l12.5 0.2 14 0.6 44.1 3.2" stroke="#d70000"/>
<path d="M1033.3 410.7l12.5 0.2 13.5 0.6 44.1 3.2" stroke="#de0000"/>
<path d="M1033.3 411.3l12.5 0.2 13.5 0.6 43.1 2.9" stroke="#e40000"/>
<path d="M1033.3 411.8l12 0.2 13.5 0.6 43.1 2.8" stroke="#ea0000"/>
<path d="M1033.3 412.3l12 0.2 13.5 0.6 42.6 2.7" stroke="#f00000"/>
<path d="M1033.3 412.8l12 0.2 13 0.5 42.1 2.6" stroke="#f70000"/>
<path d="M1033.3 413.3l12 0.2 13 0.5 41.6 2.5" stroke="#fd0000"/>
<path d="M1033.3 413.7l11.5 0.2 13 0.5 41.6 2.4" stroke="#ff0100"/>
<path d="M1033.3 414.2l11.5 0.1 13 0.5 41.1 2.3" stroke="#ff0200"/>
<path d="M1033.3 414.6l11.5 0.2 12.5 0.4 40.6 2.2" stroke="#ff0300"/>
<path d="M1033.3 415.1l11.5 0.1 12.5 0.4 40.1 2.1" stroke="#ff0400"/>
<path d="M1033.3 415.5l11 0.2 12.5 0.4 40.1 1.9" stroke="#ff0600"/>
<path d="M1033.3 416l11 0.1 12.5 0.4 39.6 1.9" stroke="#ff0700"/>
<path d="M1033.3 416.4l11 0.2 12.5 0.3 39.1 1.8" stroke="#ff0900"/>
<path d="M1033.3 416.9l23 0.4 38.6 1.7" stroke="#ff0b00"/>
<path d="M1033.3 417.3l23 0.5 38.1 1.6" stroke="#ff0d00"/>
<path d="M1033.3 417.8l10.5 0.1 12 0.4 37.1 1.6" stroke="#ff0f00"/>
<path d="M1033.3 418.2l10.5 0.2 11.5 0.3 36.6 1.8" stroke="#ff1100"/>
<path d="M1033.3 418.7l10 0.1 11.5 0.4 36.1 1.8" stroke="#ff1400"/>
<path d="M1033.3 419.1l10 0.2 11 0.3 35.6 1.8" stroke="#ff3500"/>
<path d="M1033.3 419.6l10 0.1 10.5 0.4 35.1 1.8" stroke="#ff6200"/>
<path d="M1033.3 420l9.5 0.2 11 0.3 34.1 1.8" stroke="#ff8200"/>
<path d="M1033.3 420.5l20 0.4 33.6 1.7" stroke="#ffa100"/>
<path d="M1033.3 420.9l19.5 0.5 33.1 1.5" stroke="#ffc700"/>
<path d="M1033.3 421.4l19.5 0.4 32.1 1.4" stroke="#fbf600"/>
<path d="M1033.3 421.8l19.5 0.4 31.6 1.3" stroke="#cfff02"/>
<path d="M1033.3 422.3l20.5 0.3 29.6 1.1" stroke="#a0ff3b"/>
<path d="M1033.3 422.7l25 0.4 24.6 0.9" stroke="#7effa7"/>
<path d="M1033.3 423.2l29 0.3 20.1 0.8" stroke="#55fbfb"/>
<path d="M1033.3 423.6l26.5 0.2 20.1 0.7" stroke="#2b5cfc"/>
</g>
<g stroke-width=".9">
<path d="M1080.5 423.9l4.5-1.5 4.5-1.9 5-2.5 16.5-8.8 6-2.9 5.8-2.4 7.1-2.6 7.7-2.5 8.5-2.3 9.8-2.5 12-2.5 32.4-6.3 9.8-1.7 9.9-1.4 12-1.2 12.6-0.9 12.7-0.6 16.9-0.3" stroke="#7f0000"/>
<path d="M1080.5 423.9l4.5-1.4 4.5-1.9 5-2.4 16.5-8.5 6-2.8 5.8-2.4 7.8-2.7 7.7-2.4 8.5-2.3 9.8-2.4 12-2.4 31-5.8 9.8-1.7 9.9-1.4 11.9-1.2 12.7-0.9 13.4-0.6 16.9-0.3" stroke="#860000"/>
<path d="M1081 423.8l4.5-1.4 4.5-1.9 21-10.4 6-2.6 5.8-2.3 7.8-2.7 7.7-2.3 9.2-2.5 9.8-2.3 12-2.4 30.3-5.5 9.8-1.6 9.9-1.3 11.9-1.2 12.7-0.9 13.4-0.5 16.9-0.3" stroke="#8c0000"/>
<path d="M1081 423.8l4.5-1.3 4.5-1.8 21-10.1 6-2.6 6.5-2.4 7.8-2.6 8.4-2.5 8.5-2.1 9.8-2.3 12-2.3 29.6-5.3 9.8-1.5 9.9-1.3 12.7-1.2 11.9-0.8 13.4-0.5 16.9-0.2" stroke="#930000"/>
<path d="M1081 423.8l4.5-1.3 4.5-1.7 21-9.7 6-2.5 6.5-2.5 7.8-2.5 8.4-2.4 9.2-2.3 9.8-2.1 12.7-2.4 28.2-4.9 9.8-1.5 9.9-1.2 12.7-1.2 11.9-0.8 14.1-0.5 16.2-0.2" stroke="#9a0000"/>
<path d="M1081 423.8l4.5-1.2 4-1.5 22-9.8 6.5-2.7 6.2-2.2 7.8-2.4 8.4-2.3 9.2-2.3 9.8-2 12.7-2.4 26.8-4.5 9.8-1.5 9.9-1.2 13.4-1.2 11.9-0.8 14.1-0.4 16.2-0.2" stroke="#a10000"/>
<path d="M1081 423.8l4.5-1.2 4.5-1.6 21.5-9.4 6.5-2.5 6.2-2.2 7.8-2.4 8.4-2.3 9.2-2.2 9.8-2 12.7-2.3 26.8-4.5 9.8-1.4 9.9-1.2 13.4-1.1 11.9-0.8 14.1-0.4 16.2-0.2" stroke="#a70000"/>
<path d="M1081 423.8l4.5-1.1 4.5-1.6 21.5-9.2 6.5-2.5 6.2-2.1 8.5-2.6 8.4-2.2 9.2-2.1 9.8-2.1 13.4-2.3 25.4-4.2 9.8-1.4 9.9-1.1 13.4-1.2 11.9-0.7 14.1-0.4 16.2-0.2" stroke="#ae0000"/>
<path d="M1081 423.8l4.5-1.1 4-1.4 22.5-9.4 6.5-2.4 6.4-2.1 8.5-2.5 8.4-2.2 9.2-2.1 9.8-2 13.4-2.3 24.7-4 9.8-1.3 9.9-1.1 13.4-1.2 11.9-0.7 14.1-0.4 16.2-0.1" stroke="#b50000"/>
<path d="M1081 423.8l4.5-1 4-1.4 22.5-9.2 6.5-2.4 6.4-2.1 8.5-2.5 8.4-2.2 9.2-2 9.8-1.9 13.4-2.4 24-3.8 9.8-1.3 9.9-1.1 14.1-1.2 11.2-0.7 14.8-0.4 16.2-0.1" stroke="#bc0000"/>
<path d="M1081 423.8l4.5-1 4-1.3 22.5-9.1 6.5-2.4 7.1-2.2 8.5-2.4 8.4-2.2 9.2-2 9.8-1.9 13.4-2.3 23.3-3.6 9.8-1.3 9.9-1.1 14.1-1.1 11.2-0.7 14.8-0.4 16.2-0.1" stroke="#c20000"/>
<path d="M1081 423.8l4.5-1 4-1.3 22.5-8.9 6.5-2.3 7.1-2.3 8.5-2.3 8.4-2.1 9.9-2.2 9.8-1.8 14.1-2.4 21.9-3.3 9.8-1.3 9.9-1.1 14.1-1.1 11.2-0.6 14.8-0.4 16.2-0.2" stroke="#c90000"/>
<path d="M1081 423.8l4.5-0.9 4-1.3 22.5-8.8 6.5-2.3 7.1-2.2 8.5-2.3 8.4-2.1 9.9-2.1 9.8-1.9 14.1-2.3 21.9-3.3 9.8-1.3 9.9-1 14.1-1.1 11.2-0.6 14.8-0.4 16.2-0.1" stroke="#d00000"/>
<path d="M1081 423.8l4.5-0.9 4-1.3 23-8.8 7-2.3 6.8-2.1 8.5-2.3 8.4-2 9.9-2.1 9.9-1.8 14-2.3 21.2-3.2 9.8-1.2 9.9-1 14.8-1.1 10.5-0.6 14.8-0.4 16.2-0.1" stroke="#d70000"/>
<path d="M1081 423.8l4.5-0.9 4-1.2 23-8.7 7-2.3 6.8-2.1 8.5-2.2 8.4-2 9.9-2.1 9.9-1.8 14-2.2 20.5-3 9.8-1.3 9.9-1 14.8-1.1 11.2-0.6 14.8-0.4 16.2 0" stroke="#dd0000"/>
<path d="M1081.5 423.8l4-0.9 4.5-1.3 22.5-8.4 7-2.3 6.8-2 8.5-2.3 8.4-2 9.9-2 10.6-1.9 14-2.2 19.8-2.8 9.8-1.3 9.9-0.9 15.5-1.2 10.5-0.5 14.8-0.4 16.2 0" stroke="#e40000"/>
<path d="M1081.5 423.8l4-0.8 4-1.2 23.5-8.6 7-2.2 7-2.1 8.5-2.2 8.4-1.9 9.9-2 10.6-1.9 14-2.2 19.1-2.7 9.8-1.2 9.9-0.9 15.5-1.1 10.5-0.6 15.5-0.3 15.5 0" stroke="#eb0000"/>
<path d="M1081.5 423.8l4-0.8 4.5-1.4 23-8.2 7-2.2 7-2 8.5-2.2 8.4-2 9.9-1.9 10.6-1.8 14-2.2 19.1-2.7 9.8-1.2 9.9-0.9 15.5-1.1 10.5-0.5 15.5-0.4 15.5 0" stroke="#f20000"/>
<path d="M1081.5 423.8l4-0.8 4-1.2 23.5-8.2 7-2.2 7.7-2.2 8.5-2.2 8.4-1.8 9.9-2 10.6-1.8 14-2.1 18.4-2.5 9.8-1.2 9.9-0.9 15.5-1.1 10.5-0.5 15.5-0.3 15.5 0" stroke="#f80000"/>
<path d="M1081.5 423.8l4-0.8 4-1.1 24-8.3 7.2-2.3 7.7-2.1 8.5-2.1 8.4-1.8 9.9-1.9 10.6-1.8 14.8-2.2 17.6-2.4 9.1-1 9.9-0.9 16.2-1.1 9.8-0.5 15.5-0.3 15.5 0" stroke="#ff0000"/>
<path d="M1081.5 423.8l4-0.7 4-1.2 24-8.2 7.2-2.2 7.7-2.1 8.5-2.1 8.4-1.8 10.6-2 10.6-1.7 14.1-2.1 17.6-2.4 9.1-1 9.9-0.8 16.2-1.1 9.8-0.5 15.5-0.3 15.5 0" stroke="#ff0100"/>
<path d="M1081.5 423.8l4-0.7 4-1.1 24-8.1 7.2-2.2 8.5-2.3 8.4-2 8.5-1.8 9.8-1.8 11.3-1.9 14.1-2 16.9-2.2 9.1-1.1 9.9-0.8 16.2-1 9.8-0.5 15.5-0.3 15.5 0.1" stroke="#ff0200"/>
<path d="M1081.5 423.8l4-0.7 4-1.1 24-8 7.2-2.1 8.5-2.3 8.4-2 8.5-1.8 9.8-1.8 11.3-1.8 30.3-4.2 9.1-1 9.9-0.8 16.9-1.1 9.8-0.4 15.5-0.3 15.5 0.1" stroke="#ff0300"/>
<path d="M1081.5 423.8l4-0.7 4-1.1 24.5-8 7.4-2.1 8.5-2.2 8.4-2 8.5-1.8 9.8-1.8 11.3-1.8 29.6-4 9.1-0.9 9.9-0.9 16.9-1 9.8-0.5 15.5-0.2 15.5 0" stroke="#ff0400"/>
<path d="M1081.5 423.8l4-0.7 4-1 24.5-8 7.4-2.1 9.2-2.3 8.4-2 8.5-1.7 9.8-1.7 11.3-1.8 29.6-4 8.4-0.8 9.9-0.8 16.9-1.1 9.8-0.4 15.5-0.3 15.5 0.1" stroke="#ff0500"/>
<path d="M1081.5 423.8l4-0.6 4-1.1 24.5-7.8 7.4-2.1 9.2-2.3 9.1-2.1 8.5-1.7 9.8-1.7 11.3-1.8 28.9-3.8 9.1-0.9 9.9-0.8 16.9-1 9.1-0.4 15.5-0.2 15.5 0.1" stroke="#ff0600"/>
<path d="M1081.5 423.8l4-0.6 4-1.1 25-7.8 7.6-2.1 9.2-2.3 9.1-2.1 8.5-1.6 9.8-1.7 11.3-1.7 28.2-3.7 9.1-0.9 9.9-0.8 16.9-1 9.1-0.4 15.5-0.2 15.5 0.1" stroke="#ff0700"/>
<path d="M1081.5 423.8l4-0.6 4-1 25-7.8 7.6-2.1 9.2-2.3 9.1-2 8.5-1.6 9.8-1.7 11.3-1.7 28.2-3.6 8.4-0.9 9.9-0.7 17.6-1.1 9.1-0.3 15.5-0.3 15.5 0.1" stroke="#ff0800"/>
<path d="M1081.5 423.8l4-0.6 4-1 25-7.7 7.6-2 9.9-2.4 9.1-2.1 8.5-1.6 21.1-3.3 27.5-3.5 8.4-0.8 9.9-0.7 26.7-1.4 16.2-0.2 14.8 0" stroke="#ff0900"/>
<path d="M1082 423.8l3.5-0.6 4-1 25.5-7.7 7.8-2.1 9.9-2.3 8.4-1.9 9.2-1.7 21.1-3.3 26.8-3.3 8.4-0.9 9.9-0.7 26.7-1.4 16.2-0.2 14.8 0.1" stroke="#ff0a00"/>
</g>
<g stroke-width=".85">
<path d="M1082 423.8l3.5-0.6 4-0.9 25.5-7.7 7.8-2 9.9-2.4 8.4-1.8 9.2-1.7 21.8-3.4 26.8-3.3 8.4-0.8 9.9-0.7 26-1.3 16.2-0.2 14.8 0.1" stroke="#ff0b00"/>
<path d="M1082 423.8l3.5-0.5 4-1 25.5-7.5 7.8-2.1 10.6-2.5 8.4-1.7 9.2-1.7 21.8-3.3 26.1-3.2 8.4-0.8 9.9-0.7 26-1.3 16.2-0.2 14.8 0.1" stroke="#ff0c00"/>
<path d="M1082 423.8l3.5-0.5 4-1 26-7.5 8-2.1 10.6-2.5 8.4-1.7 9.2-1.7 21.8-3.2 25.4-3.1 8.4-0.8 9.9-0.6 26-1.3 16.2-0.2 14.8 0.1" stroke="#ff0d00"/>
<path d="M1082 423.8l3.5-0.5 4-1 26-7.4 8-2.1 10.6-2.4 8.4-1.7 9.2-1.7 21.8-3.2 25.4-3.1 8.4-0.7 9.9-0.7 26-1.3 16.2-0.2 14.8 0.1" stroke="#ff0e00"/>
<path d="M1082 423.8l3.5-0.5 4-0.9 26-7.4 8-2 11.3-2.6 8.4-1.7 9.2-1.6 21.8-3.2 25.4-3 17.6-1.4 26-1.2 16.2-0.2 14.8 0.1" stroke="#ff0f00"/>
<path d="M1082 423.8l3.5-0.5 4-0.9 26.5-7.4 8.2-2 11.3-2.6 7.7-1.5 9.9-1.7 21.8-3.2 24.7-2.9 17.6-1.3 26-1.3 16.2-0.2 14.8 0.1" stroke="#ff1000"/>
<path d="M1082 423.8l3.5-0.4 4-1 27-7.4 19.7-4.5 7.7-1.6 9.9-1.7 21.8-3.1 24-2.8 17.6-1.3 26-1.3 16.2-0.1 14.8 0.1" stroke="#ff1100"/>
<path d="M1082 423.8l3.5-0.4 4-0.9 27-7.4 19.7-4.5 7.7-1.5 9.9-1.7 22.5-3.2 24-2.7 17.6-1.3 25.3-1.2 16.2-0.2 14.8 0.1" stroke="#ff1200"/>
<path d="M1082.5 423.8l3-0.4 4.5-1 26.5-7.1 19.7-4.5 7.7-1.5 9.9-1.7 22.5-3.2 23.3-2.7 17.6-1.2 26-1.3 16.2-0.2 14.8 0.1" stroke="#ff1300"/>
<path d="M1082.5 423.8l3-0.4 4.5-1 26.5-7 20.4-4.6 7.7-1.4 9.9-1.7 22.5-3.2 23.3-2.6 17.6-1.3 25.3-1.2 16.2-0.2 14.8 0.1" stroke="#ff1400"/>
<path d="M1082.5 423.8l3-0.4 4.5-0.9 27-7.1 20.6-4.5 17.6-3.1 22.5-3.2 22.6-2.5 17.6-1.2 25.3-1.3 16.2-0.2 14.8 0.1" stroke="#ff1900"/>
</g>
<g stroke-width=".8">
<path d="M1082.5 423.8l3-0.3 4.5-1 27-6.9 21.3-4.7 17.6-3 22.5-3.2 15.5-1.8 9.9-0.9 9.8-0.7 20.5-1.1 8.4-0.3 9.2-0.2 22.5 0" stroke="#ff1e00"/>
<path d="M1082.5 423.8l3-0.3 5-1.1 26.5-6.7 21.3-4.6 17.6-3 22.5-3.2 14.8-1.7 10.6-1 30.3-1.8 8.4-0.3 9.2-0.2 22.5 0" stroke="#ff2300"/>
<path d="M1083 423.8l2.5-0.3 5-1 27-6.8 21.5-4.6 17.6-3 22.5-3.1 14.8-1.7 10.6-1 30.3-1.7 7.7-0.4 9.9-0.1 21.8-0.1" stroke="#ff2800"/>
<path d="M1083 423.8l2.5-0.3 5-1 27-6.6 22.2-4.7 17.6-3 22.5-3.1 14.8-1.7 9.9-0.9 31-1.8 7.7-0.3 9.9-0.2 21.1 0" stroke="#ff2d00"/>
<path d="M1083 423.8l2.5-0.3 5.5-1.1 27-6.5 21.7-4.6 17.6-2.9 22.5-3.1 14.8-1.7 9.9-0.9 31-1.8 7.7-0.3 9.9-0.2 21.1 0" stroke="#ff3200"/>
<path d="M1083 423.8l2.5-0.2 5.5-1.1 27-6.5 22.4-4.6 17.6-2.9 22.6-3.1 14-1.6 9.9-0.9 31.7-1.8 18.3-0.5 19.7-0.1" stroke="#ff3700"/>
<path d="M1083.5 423.8l2-0.2 6-1.2 26.5-6.2 22.4-4.7 17.6-2.9 22.6-3 14-1.6 9.9-0.9 31.7-1.9 18.3-0.5 19.7 0" stroke="#ff3c00"/>
<path d="M1083.5 423.8l2-0.2 6-1.1 27-6.3 22.6-4.6 17.6-2.9 22.6-3 14-1.6 9.2-0.9 32.4-1.8 18.3-0.5 19-0.1" stroke="#ff4100"/>
<path d="M1084 423.8l1.5-0.2 6.5-1.2 26.5-6.1 22.6-4.6 17.6-2.8 22.6-3.1 14-1.5 9.2-0.9 32.4-1.9 18.3-0.5 19 0" stroke="#ff4600"/>
<path d="M1084 423.8l1.5-0.1 6.5-1.3 26.5-5.9 23.3-4.7 18.3-3 21.9-2.9 13.3-1.5 9.2-0.8 32.4-1.9 18.3-0.5 19-0.1" stroke="#ff4d00"/>
</g>
<g stroke-width=".75">
<path d="M1084.5 423.8l1-0.1 7-1.3 26-5.8 23.3-4.7 18.3-2.9 21.9-2.9 13.3-1.5 9.2-0.9 33.1-1.9 18.3-0.5 18.3-0.1" stroke="#ff5400"/>
<path d="M1084.5 423.8l1-0.1 7.5-1.4 26-5.7 23.5-4.6 18.3-3 21.9-2.8 12.6-1.5 9.2-0.8 33.1-1.9 18.3-0.5 18.3-0.1" stroke="#ff5b00"/>
<path d="M1085 423.8l8.5-1.5 25.5-5.5 23.5-4.7 18.3-2.9 21.9-2.9 12.6-1.4 9.2-0.8 33.1-2 18.3-0.5 18.3-0.1" stroke="#ff6200"/>
<path d="M1085.5 423.8l8.5-1.6 25-5.3 23.5-4.6 18.3-2.9 21.9-2.9 12.6-1.4 9.2-0.9 33.1-1.9 18.3-0.6 18.3-0.1" stroke="#ff6900"/>
<path d="M1085.5 423.8l9-1.6 24.5-5.2 23.5-4.6 18.3-2.9 22.6-3 11.9-1.3 9.2-0.8 33.8-2 18.3-0.5 17.6-0.2" stroke="#ff7000"/>
<path d="M1085.5 423.8l9.5-1.7 24-4.9 24.2-4.8 18.3-2.8 21.9-2.9 11.9-1.3 9.2-0.9 33.8-2 18.3-0.5 17.6-0.1" stroke="#ff7700"/>
<path d="M1085.5 423.8l9.5-1.6 24-4.9 24.2-4.7 18.3-2.9 21.9-2.9 11.9-1.3 9.2-0.8 33.8-2 18.3-0.6 17.6-0.1" stroke="#ff7e00"/>
<path d="M1086 423.8l9.5-1.7 38.6-7.7 9.8-1.8 18.3-2.8 21.9-2.9 20.4-2.1 33.8-2 18.3-0.6 17.6-0.1" stroke="#ff8500"/>
<path d="M1086 423.8l10-1.7 47.9-9.3 18.3-2.9 21.9-2.9 20.4-2 34.5-2.1 18.3-0.6 16.9-0.1" stroke="#ff8c00"/>
<path d="M1086 423.8l10.5-1.7 48.1-9.3 19.1-2.9 21.1-2.8 19.7-2 34.5-2.1 18.3-0.5 16.9-0.2" stroke="#ff9500"/>
<path d="M1086.5 423.8l10.5-1.8 48.3-9.2 20.5-3.1 20.4-2.6 19-1.9 33.8-2 19-0.6 16.2-0.2" stroke="#ff9e00"/>
<path d="M1086.5 423.8l11-1.8 48.6-9.2 21.8-3.3 19.7-2.4 17.6-1.8 34.5-2.1 18.3-0.5 16.2-0.2" stroke="#ffa700"/>
<path d="M1086.5 423.8l12-2 48.3-9 22.5-3.3 19-2.4 16.9-1.6 34.5-2.1 18.3-0.6 16.2-0.1" stroke="#ffb000"/>
<path d="M1086.5 423.8l12.5-2 40-7.5 8.5-1.4 23.2-3.5 18.3-2.2 16.9-1.6 34.5-2.1 18.3-0.6 15.5-0.1" stroke="#ffb800"/>
<path d="M1087 423.8l13-2.1 39.7-7.4 8.5-1.4 23.2-3.4 17.6-2.2 16.9-1.6 34.5-2.1 18.3-0.6 15.5-0.1" stroke="#ffc100"/>
<path d="M1087 423.8l14.5-2.3 38.2-7.1 9.2-1.5 23.2-3.4 17.6-2.1 16.2-1.6 34.5-2.1 18.3-0.5 15.5-0.2" stroke="#ffca00"/>
<path d="M1087 423.8l7-1 10-1.7 36.4-6.7 9.2-1.5 23.2-3.4 17.6-2.1 15.5-1.4 34.5-2.1 18.3-0.6 15.5-0.2" stroke="#ffd300"/>
<path d="M1087 423.8l7.5-1.1 10.5-1.7 35.4-6.4 9.2-1.6 23.2-3.3 17.6-2.1 15.5-1.5 34.5-2.1 19-0.6 14.8-0.2" stroke="#ffdc00"/>
<path d="M1087 423.8l7.5-1 11-1.8 34.9-6.3 9.9-1.6 23.2-3.4 17.6-2.1 14.8-1.4 34.5-2.1 19-0.6 14.8-0.2" stroke="#fee300"/>
<path d="M1087.5 423.8l7.5-1.1 11.5-1.8 34.6-6.2 9.9-1.6 23.2-3.3 16.9-2.1 14.8-1.3 34.5-2.2 19-0.6 14.8-0.1" stroke="#fdea00"/>
<path d="M1087.5 423.8l8-1.1 11.5-1.8 34.1-6.1 9.9-1.6 23.2-3.3 16.9-2 14.8-1.4 34.5-2.1 19-0.6 14.8-0.2" stroke="#fcf100"/>
<path d="M1087.5 423.8l8-1.1 12.5-1.9 33.1-5.9 10.6-1.7 23.2-3.3 16.9-2 14.8-1.3 34.5-2.1 18.3-0.6 14.8-0.2" stroke="#fbf800"/>
<path d="M1087.5 423.8l8-1 12.5-2 33.1-5.8 11.3-1.8 22.5-3.1 16.9-2 14.8-1.4 34.5-2.1 18.3-0.6 14.8-0.2" stroke="#faff00"/>
<path d="M1087.5 423.8l8.5-1.1 12.5-1.9 33.3-5.8 11.3-1.8 22.5-3.1 16.9-2 14.1-1.2 34.5-2.1 18.3-0.6 14.8-0.2" stroke="#f6ff00"/>
<path d="M1087.5 423.8l8.5-1.1 12.5-1.8 33.3-5.8 12-1.9 22.5-3.1 16.2-1.8 14.1-1.3 34.5-2.1 19-0.6 14.1-0.2" stroke="#f2ff00"/>
<path d="M1087.5 423.8l8.5-1 13-1.9 32.8-5.7 12.7-1.9 21.8-3.1 16.2-1.8 14.1-1.3 34.5-2.1 19-0.6 14.1-0.2" stroke="#eeff00"/>
<path d="M1088 423.8l8.5-1.1 13-1.8 32.3-5.6 12.7-1.9 22.5-3.1 16.2-1.9 13.4-1.1 34.5-2.1 19-0.7 14.1-0.1" stroke="#eaff00"/>
<path d="M1088 423.8l8.5-1 13-1.9 32.3-5.5 13.4-2 21.8-3 16.2-1.8 13.4-1.2 34.5-2.1 19-0.6 14.1-0.2" stroke="#e6ff00"/>
<path d="M1088 423.8l9-1.1 13-1.8 32.5-5.5 13.4-2 21.1-2.9 16.2-1.8 13.4-1.2 34.5-2.1 19-0.6 14.1-0.2" stroke="#e2ff00"/>
<path d="M1088 423.8l9-1 13-1.8 32.5-5.5 14.1-2.1 21.1-2.8 16.2-1.9 13.4-1.1 33.8-2.1 19-0.6 14.1-0.2" stroke="#deff00"/>
<path d="M1088 423.8l9-1 13-1.8 32.5-5.4 14.8-2.2 20.4-2.7 16.2-1.8 13.4-1.2 33.8-2 19-0.7 14.1-0.1" stroke="#daff00"/>
<path d="M1088 423.8l9.5-1 13-1.8 32-5.3 15.5-2.3 20.4-2.7 15.5-1.7 13.4-1.1 33.8-2.1 19-0.6 14.1-0.2" stroke="#d6ff00"/>
<path d="M1088 423.8l9.5-1 13-1.7 32.7-5.4 16.2-2.3 19.7-2.7 15.5-1.7 12.7-1 33.8-2.1 19-0.6 14.1-0.2" stroke="#d2ff00"/>
<path d="M1088.5 423.8l10-1.1 12.5-1.6 32.2-5.3 16.2-2.3 19.7-2.6 15.5-1.7 12.7-1.1 33.8-2.1 19-0.6 14.1-0.2" stroke="#cfff02"/>
<path d="M1088.5 423.8l10-1.1 12.5-1.5 32.2-5.3 16.9-2.4 19-2.5 15.5-1.7 12.7-1.1 33.8-2 19-0.7 14.1-0.2" stroke="#ccff04"/>
<path d="M1088.5 423.8l20-2.2 44.6-7 24.6-3.3 16.9-1.9 12.7-1.1 33.8-2 19-0.6 14.1-0.2" stroke="#c9ff06"/>
<path d="M1088.5 423.8l20-2.1 45.3-7.1 23.9-3.2 17.6-1.9 12.7-1.1 33.1-2 19-0.6 14.1-0.2" stroke="#c7ff09"/>
<path d="M1088.5 423.8l8.5-0.8 12-1.3 44.8-7 23.9-3.2 17.6-1.9 12.7-1.1 33.1-2 19-0.6 14.1-0.2" stroke="#c4ff0b"/>
<path d="M1089 423.8l9-0.9 11.5-1.2 44.3-6.9 24.6-3.3 16.9-1.8 12.7-1 33.1-2 19-0.7 14.1-0.2" stroke="#c1ff0d"/>
<path d="M1089 423.8l20.5-2.1 44.3-6.8 24.6-3.3 17.6-1.9 12-0.9 33.1-2 19-0.6 14.1-0.3" stroke="#beff0f"/>
<path d="M1089 423.8l10-0.9 11-1.2 43.8-6.7 24.6-3.2 17.6-1.9 12.7-1.1 32.4-1.9 19-0.6 14.1-0.2" stroke="#bbff11"/>
<path d="M1089 423.8l10-0.9 11-1.1 43.8-6.7 24.6-3.2 17.6-1.9 12.7-1 32.4-2 19-0.6 14.1-0.2" stroke="#b8ff13"/>
<path d="M1089.5 423.8l11-1 10-1 43.3-6.6 24.6-3.2 17.6-1.9 12.7-1 32.4-2 19-0.6 14.1-0.2" stroke="#b5ff15"/>
<path d="M1089.5 423.8l11.5-1 9.5-0.9 43.3-6.6 25.3-3.3 17.6-1.9 12-0.9 32.4-1.9 19-0.7 14.1-0.2" stroke="#b3ff18"/>
<path d="M1089.5 423.8l11.5-0.9 9.5-1 43.3-6.5 25.3-3.3 17.6-1.9 12.7-0.9 31.7-1.9 19-0.6 14.1-0.3" stroke="#b0ff1a"/>
<path d="M1089.5 423.8l14.5-1.1 7-0.8 42.8-6.4 25.3-3.3 17.6-1.8 12.7-1 31.7-1.9 19-0.6 14.1-0.2" stroke="#adff1c"/>
<path d="M1090 423.8l14.5-1.1 6.5-0.7 42.8-6.4 25.3-3.3 17.6-1.8 12.7-1 31.7-1.9 19-0.6 14.1-0.2" stroke="#aaff1e"/>
<path d="M1090 423.8l15-1.1 6-0.6 42.8-6.4 25.3-3.3 18.4-1.9 12.6-0.9 31-1.9 19-0.6 14.1-0.2" stroke="#a8ff24"/>
<path d="M1090 423.8l15-1.1 6-0.6 42.8-6.3 25.3-3.3 18.4-1.9 12.6-0.9 31-1.9 19-0.6 14.1-0.2" stroke="#a6ff2b"/>
<path d="M1090.5 423.8l16.5-1.2 4.5-0.5 42.3-6.2 26-3.3 17.7-1.9 12.6-0.9 31-1.8 19-0.6 14.1-0.3" stroke="#a4ff31"/>
<path d="M1090.5 423.8l17-1.2 4-0.4 42.3-6.2 26-3.3 17.7-1.8 12.6-1 31-1.8 19-0.6 14.1-0.3" stroke="#a2ff37"/>
<path d="M1091 423.8l16.5-1.1 4-0.5 42.3-6.1 26-3.3 18.4-1.9 12.6-0.9 30.3-1.8 19-0.6 14.1-0.2" stroke="#a0ff3d"/>
<path d="M1091 423.8l16.5-1.1 4.5-0.5 41.8-6 26-3.3 18.4-1.9 13.3-1 29.6-1.7 19-0.6 14.1-0.2" stroke="#9dff44"/>
<path d="M1091.5 423.8l16-1 4.5-0.5 41.1-6 26.7-3.3 18.4-1.9 13.3-1 29.6-1.7 19-0.6 14.1-0.2" stroke="#9bff4a"/>
<path d="M1091.5 423.8l16-1 4.5-0.4 41.1-6 26.7-3.3 18.4-1.9 13.3-1 28.9-1.6 19-0.6 14.8-0.3" stroke="#99ff50"/>
<path d="M1092 423.8l15.5-0.9 5-0.5 39.9-5.8 27.4-3.4 18.4-1.9 13.3-1 28.9-1.6 19-0.6 14.8-0.3" stroke="#97ff56"/>
<path d="M1092 423.8l15.5-0.8 5-0.6 40.6-5.8 27.5-3.4 18.3-1.8 13.3-1 28.2-1.6 19-0.6 14.8-0.3" stroke="#95ff5d"/>
<path d="M1092.5 423.8l15-0.8 5-0.5 40.6-5.8 27.5-3.4 18.3-1.8 13.3-1 28.2-1.6 19-0.6 14.8-0.2" stroke="#93ff63"/>
<path d="M1092.5 423.8l15-0.7 5-0.6 39.9-5.6 28.2-3.5 18.3-1.8 14-1 27.5-1.6 19-0.6 14.8-0.2" stroke="#91ff69"/>
<path d="M1093 423.8l14.5-0.7 5.5-0.6 39.4-5.5 28.2-3.5 18.3-1.8 14-1 27.5-1.6 19-0.6 14.8-0.2" stroke="#8fff6f"/>
<path d="M1093.5 423.8l14-0.7 5.5-0.5 39.4-5.5 28.2-3.5 18.3-1.8 14.7-1 26.8-1.5 19-0.6 14.8-0.3" stroke="#8dff76"/>
<path d="M1094 423.8l13.5-0.6 5.5-0.5 39.4-5.5 28.2-3.5 19-1.8 14.8-1.1 26-1.4 19-0.6 14.8-0.3" stroke="#8bff7c"/>
<path d="M1094 423.8l13.5-0.6 5.5-0.5 39.4-5.4 28.2-3.5 19-1.8 14.8-1.1 26-1.4 19-0.6 14.8-0.2" stroke="#89ff82"/>
<path d="M1094.5 423.8l13-0.5 6-0.6 38.9-5.4 28.2-3.4 19-1.8 14.8-1.1 26-1.4 19-0.6 14.8-0.2" stroke="#87ff88"/>
<path d="M1095 423.8l12.5-0.5 6-0.5 38.9-5.4 28.2-3.4 19-1.8 15.5-1.1 25.3-1.4 19-0.6 14.8-0.2" stroke="#84ff8f"/>
<path d="M1095.5 423.8l12-0.4 6-0.6 38.9-5.3 28.2-3.4 19-1.8 15.5-1.1 24.6-1.3 19-0.6 15.5-0.3" stroke="#82ff95"/>
<path d="M1096.5 423.8l11-0.4 6.5-0.6 38.4-5.2 28.2-3.4 19-1.8 15.5-1.1 24.6-1.3 19-0.6 15.5-0.3" stroke="#80ff9c"/>
<path d="M1097 423.8l10.5-0.3 6.5-0.6 38.4-5.2 28.9-3.4 19-1.8 15.5-1.1 23.9-1.3 19-0.6 15.5-0.3" stroke="#7effa4"/>
<path d="M1097.5 423.8l10-0.3 6.5-0.6 38.4-5.1 28.9-3.4 19-1.8 16.2-1.2 23.2-1.2 19-0.6 15.5-0.2" stroke="#7cffac"/>
<path d="M1098.5 423.8l9-0.3 6.5-0.5 38.4-5.1 28.9-3.4 19-1.8 16.2-1.1 23.2-1.3 19-0.6 15.5-0.2" stroke="#7affb4"/>
<path d="M1099.5 423.8l8-0.2 6.5-0.6 38.4-5.1 28.9-3.3 19-1.8 16.2-1.1 23.2-1.3 19-0.5 15.5-0.3" stroke="#78ffbc"/>
<path d="M1100.5 423.8l7-0.2 7-0.6 37.9-5 28.9-3.3 19-1.8 16.9-1.2 22.5-1.1 19-0.6 15.5-0.3" stroke="#76ffc4"/>
<path d="M1101.5 423.8l6-0.2 7-0.6 37.9-4.9 28.9-3.3 19-1.8 16.9-1.2 21.8-1.1 19-0.6 16.2-0.3" stroke="#74ffcc"/>
<path d="M1103 423.8l4.5-0.1 7-0.6 37.9-4.9 28.9-3.3 19-1.8 16.9-1.1 21.8-1.2 19-0.6 16.2-0.2" stroke="#72ffd4"/>
<path d="M1104.5 423.8l3.5-0.1 6.5-0.6 37.9-4.8 28.9-3.3 18.3-1.7 17.6-1.2 21.8-1.2 19-0.5 16.2-0.3" stroke="#70ffdc"/>
<path d="M1106 423.8l9-0.7 37.4-4.7 28.9-3.3 18.3-1.7 17.6-1.2 21.1-1.1 19.7-0.6 16.2-0.3" stroke="#6effe4"/>
<path d="M1107.5 423.8l8-0.7 29.8-3.8 32.4-3.7 21.9-2.1 17.6-1.2 21.1-1.1 19.7-0.6 16.2-0.3" stroke="#6bffe8"/>
<path d="M1108 423.8l7.5-0.7 29.1-3.6 33.1-3.8 21.9-2.1 17.6-1.2 21.1-1.1 19.7-0.6 16.2-0.3" stroke="#68feeb"/>
<path d="M1108.5 423.8l7-0.6 29.1-3.7 33.1-3.7 21.9-2.1 17.6-1.2 21.1-1.1 19.7-0.6 16.2-0.2" stroke="#65fdee"/>
<path d="M1109 423.8l6.5-0.6 29.1-3.6 33.1-3.7 22.6-2.1 17.6-1.2 20.4-1 19.7-0.6 16.2-0.3" stroke="#62fdf0"/>
<path d="M1109 423.8l7-0.6 27.9-3.4 33.8-3.8 22.6-2.1 17.6-1.2 20.4-1 19.7-0.6 16.2-0.3" stroke="#5efcf3"/>
<path d="M1109.5 423.8l6.5-0.6 27.9-3.4 34.5-3.8 21.9-2 17.6-1.2 19.7-1 19.7-0.6 16.9-0.3" stroke="#5bfcf6"/>
<path d="M1110 423.8l6-0.6 27.9-3.3 34.5-3.8 21.9-2 17.6-1.2 19.7-1 19.7-0.6 16.9-0.2" stroke="#58fbf8"/>
<path d="M1110 423.8l6-0.5 27.2-3.2 35.2-3.9 22.6-2 17.6-1.2 19-0.9 19.7-0.6 16.9-0.3" stroke="#55fbfb"/>
<path d="M1110.5 423.8l5.5-0.5 26.5-3.1 35.9-3.9 22.6-2 17.6-1.2 19-0.9 19.7-0.6 16.9-0.3" stroke="#51fafe"/>
<path d="M1111 423.8l5-0.5 26.5-3 36.6-4 21.9-1.9 17.6-1.2 19-0.9 19.7-0.6 16.9-0.3" stroke="#4ff0ff"/>
<path d="M1111 423.8l5.5-0.5 62.6-6.9 22.6-1.9 17.6-1.2 18.3-0.9 19.7-0.6 16.9-0.2" stroke="#4ddfff"/>
<path d="M1111.5 423.8l5-0.5 62.6-6.8 22.6-1.9 17.6-1.2 18.3-0.8 19.7-0.6 16.9-0.3" stroke="#4bcfff"/>
<path d="M1111.5 423.8l5-0.4 63.3-6.8 21.9-1.9 17.6-1.2 18.3-0.8 19.7-0.6 16.9-0.3" stroke="#48beff"/>
<path d="M1112 423.8l67.8-7.1 22.6-1.9 17.6-1.2 17.6-0.8 19.7-0.6 16.9-0.3" stroke="#46adff"/>
<path d="M1112 423.8l4.5-0.4 64.1-6.7 21.8-1.8 17.6-1.2 17.6-0.8 19.7-0.5 16.9-0.3" stroke="#43a3ff"/>
<path d="M1112 423.8l5-0.4 63.6-6.6 22.5-1.9 16.9-1 17.6-0.8 19.7-0.6 16.9-0.3" stroke="#409bff"/>
<path d="M1112.5 423.8l68.1-6.9 22.5-1.8 16.9-1.1 17.6-0.8 19.7-0.6 16.9-0.3" stroke="#3d93ff"/>
<path d="M1112.5 423.8l68.8-6.8 21.8-1.8 16.9-1.1 16.9-0.8 19.7-0.5 17.6-0.3" stroke="#398aff"/>
<path d="M1112.5 423.8l68.8-6.7 22.5-1.9 16.9-1 16.9-0.8 19.7-0.5 16.9-0.3" stroke="#3682ff"/>
<path d="M1112.5 423.8l5-0.4 64.5-6.3 21.8-1.7 16.9-1.1 16.2-0.7 19.7-0.6 17.6-0.3" stroke="#337aff"/>
<path d="M1113 423.8l38.7-3.6 30.3-3 22.5-1.8 16.2-1 16.9-0.7 19.7-0.6 16.9-0.3" stroke="#3175ff"/>
<path d="M1113 423.8l38.7-3.5 31-3.1 22.5-1.7 16.2-1 16.2-0.7 19.7-0.6 16.9-0.3" stroke="#3071fe"/>
<path d="M1113 423.8l38.7-3.4 31-3.1 23.2-1.8 15.5-0.9 16.2-0.8 19.7-0.5 16.9-0.3" stroke="#2f6dfe"/>
<path d="M1113.5 423.8l38.2-3.3 31-3.1 23.9-1.9 15.5-0.9 16.2-0.7 35.9-0.8" stroke="#2e69fd"/>
<path d="M1113.5 423.8l38.2-3.2 31.7-3.2 23.9-1.8 14.8-0.9 16.2-0.7 35.9-0.8" stroke="#2d65fd"/>
<path d="M1113.5 423.8l38.2-3.1 7-0.9 24.7-2.3 24.6-1.9 14.1-0.8 16.2-0.7 35.9-0.9" stroke="#2c61fc"/>
<path d="M1114 423.8l37.7-3 7.7-1 24.7-2.3 24.6-1.9 14.1-0.8 16.2-0.7 35.2-0.8" stroke="#2b5dfc"/>
<path d="M1114 423.8l37.7-2.9 7-0.9 21.9-2.1 28.8-2.2 13.4-0.8 16.2-0.7 35.2-0.8" stroke="#2a59fb"/>
<path d="M1114 423.8l37.7-2.8 7-1 21.9-2.1 29.5-2.2 13.4-0.8 15.5-0.6 35.2-0.8" stroke="#2955fb"/>
<path d="M1114.5 423.8l37.2-2.7 6.3-0.9 21.1-2.1 16.2-1.3 14.8-1.1 13.4-0.7 15.5-0.7 35.2-0.8" stroke="#2851fa"/>
<path d="M1114.5 423.8l37.2-2.6 6.3-1 20.4-1.9 16.9-1.5 15.5-1 12.7-0.8 16.2-0.6 34.5-0.8" stroke="#284ffa"/>
<path d="M1115 423.8l36.7-2.5 6.3-1 19.7-1.9 17.6-1.5 16.2-1.1 12.7-0.7 15.5-0.7 34.5-0.8" stroke="#274dfa"/>
<path d="M1115 423.8l36.7-2.4 2.8-0.6 3.5-0.4 18.3-1.8 18.3-1.6 16.9-1.2 12.7-0.7 15.5-0.6 34.5-0.8" stroke="#274cf9"/>
<path d="M1115.5 423.8l36.2-2.3 2.8-0.6 3.5-0.5 17.6-1.7 19-1.6 17.6-1.2 12-0.7 15.5-0.7 34.5-0.7" stroke="#264af9"/>
<path d="M1115.5 423.8l36.2-2.2 2.1-0.5 3.5-0.5 16.2-1.7 20.4-1.7 18.3-1.3 12-0.7 15.5-0.6 34.5-0.8" stroke="#2649f9"/>
<path d="M1116 423.8l35.7-2.1 2.1-0.5 3.5-0.6 14.1-1.4 21.8-1.9 19.7-1.4 27.5-1.3 33.8-0.7" stroke="#2547f9"/>
<path d="M1116 423.8l35.7-2 2.1-0.6 2.8-0.4 12.7-1.4 23.2-2 20.4-1.4 27.5-1.3 33.8-0.8" stroke="#2546f8"/>
<path d="M1116.5 423.8l35.2-1.9 2.1-0.6 2.8-0.5 11.3-1.2 24.6-2.1 21.1-1.5 26.8-1.2 33.8-0.8" stroke="#2444f8"/>
<path d="M1116.5 423.8l35.2-1.8 2.1-0.6 2.8-0.5 9.9-1.1 25.3-2.2 21.8-1.5 26.8-1.3 33.8-0.7" stroke="#2443f8"/>
<path d="M1117 423.8l34.7-1.7 2.1-0.7 2.1-0.3 9.9-1.2 26-2.2 21.8-1.6 26.8-1.2 33.8-0.8" stroke="#2341f8"/>
<path d="M1117.5 423.8l34.2-1.6 2.1-0.7 2.1-0.4 9.9-1.1 26-2.3 22.6-1.5 26.7-1.3 33.1-0.7" stroke="#2340f7"/>
<path d="M1117.5 423.8l34.2-1.5 2.1-0.7 2.1-0.4 9.2-1.1 26.7-2.3 22.6-1.6 26.7-1.2 33.1-0.7" stroke="#223ef7"/>
<path d="M1118 423.8l33.7-1.4 2.1-0.7 2.1-0.5 9.2-1 26.7-2.3 22.6-1.6 26.7-1.2 33.1-0.8" stroke="#223df7"/>
<path d="M1118.5 423.8l33.2-1.4 2.1-0.7 2.1-0.4 9.2-1.1 27.4-2.3 22.6-1.6 26-1.1 33.1-0.8" stroke="#213bf7"/>
<path d="M1119 423.8l32.7-1.3 2.1-0.7 2.1-0.4 8.5-1 28.1-2.4 22.6-1.6 26-1.2 33.1-0.7" stroke="#213af6"/>
<path d="M1119.5 423.8l32.2-1.2 2.1-0.7 2.1-0.5 8.5-1 28.1-2.4 22.6-1.5 26-1.2 33.1-0.7" stroke="#2038f6"/>
<path d="M1120 423.8l31.7-1.1 2.1-0.7 2.1-0.5 8.5-1 28.8-2.4 22.6-1.5 25.3-1.2 33.1-0.7" stroke="#2037f6"/>
<path d="M1120.7 423.8l31-1 2.1-0.8 2.1-0.4 8.5-1.1 28.8-2.3 22.6-1.6 25.3-1.1 33.1-0.7" stroke="#1f35f6"/>
<path d="M1121.4 423.8l30.3-0.9 2.1-0.8 2.1-0.5 8.5-1 28.8-2.4 22.6-1.5 25.3-1.1 33.1-0.7" stroke="#1f34f5"/>
<path d="M1122.1 423.8l29.6-0.8 2.1-0.8 2.1-0.5 8.5-1 29.5-2.4 21.9-1.4 26-1.2 32.4-0.7" stroke="#1e32f5"/>
<path d="M1122.8 423.8l28.9-0.7 2.1-0.8 2.1-0.5 8.5-1 30.2-2.5 21.9-1.4 25.3-1.1 32.4-0.7" stroke="#1e31f5"/>
<path d="M1123.5 423.8l28.2-0.7 2.1-0.8 2.1-0.4 7.8-1 30.2-2.4 22.6-1.5 25.3-1.1 32.4-0.7" stroke="#1d2ff4"/>
<path d="M1124.9 423.8l26.8-0.6 2.1-0.8 2.1-0.5 7.8-0.9 30.9-2.4 21.9-1.4 25.3-1.1 32.4-0.8" stroke="#1d2ef4"/>
<path d="M1126.3 423.8l25.4-0.5 2.1-0.8 2.1-0.5 7.8-0.9 30.9-2.4 21.9-1.4 25.3-1.1 32.4-0.7" stroke="#1c2df3"/>
<path d="M1127.7 423.8l24-0.4 2.1-0.8 2.1-0.5 7.8-0.9 31.6-2.4 21.2-1.3 25.3-1.1 32.4-0.8" stroke="#1c2bf3"/>
<path d="M1129.9 423.8l21.8-0.4 2.1-0.8 2.1-0.4 7.8-0.9 31.6-2.4 21.2-1.3 25.3-1.1 32.4-0.7" stroke="#1b2af2"/>
<path d="M1132 423.8l19.7-0.3 2.1-0.8 2.1-0.4 7.8-1 32.3-2.3 20.5-1.2 25.3-1.1 32.4-0.7" stroke="#1b29f2"/>
<path d="M1134.8 423.8l16.9-0.2 2.1-0.8 2.1-0.5 7.8-0.8 32.3-2.3 19.8-1.2 26-1.1 32.4-0.8" stroke="#1b28f2"/>
<path d="M1137.6 423.8l14.1-0.2 2.1-0.7 2.1-0.5 7.8-0.8 32.3-2.3 19.1-1.1 26-1.1 33.1-0.8" stroke="#1a26f1"/>
<path d="M1141.8 423.8l9.9-0.1 2.1-0.8 2.1-0.4 7.8-0.8 50.7-3.3 26.7-1.1 33.1-0.8" stroke="#1a25f1"/>
<path d="M1146.8 423.8l4.9-0.1 2.1-0.7 2.1-0.4 8.5-0.9 47.8-3 28.2-1.2 33.8-0.8" stroke="#1924f0"/>
<path d="M1151.7 423.8l2.1-0.7 2.1-0.4 7.1-0.7 45.7-2.9 30.3-1.3 35.2-0.8" stroke="#1922f0"/>
<path d="M1151.7 423.8l2.1-0.6 2.1-0.4 7.1-0.7 47.8-2.9 28.9-1.2 34.5-0.8" stroke="#1821ef"/>
<path d="M1151.7 423.8l2.1-0.5 2.1-0.4 7.1-0.7 49.9-2.8 27.5-1.2 33.8-0.7" stroke="#1820ef"/>
<path d="M1151.7 423.9l2.1-0.6 2.1-0.3 7.1-0.6 51.4-2.9 26.7-1 33.1-0.8" stroke="#171eee"/>
<path d="M1152.4 423.8l3.5-0.7 7.8-0.6 53.5-2.8 25.3-1 31.7-0.7" stroke="#171dee"/>
<path d="M1152.4 423.8l3.5-0.6 7.8-0.6 54.9-2.7 23.9-0.9 31.7-0.7" stroke="#171cee"/>
<path d="M1152.4 423.8l3.5-0.5 7.8-0.5 56.3-2.7 23.2-0.8 31-0.7" stroke="#161bed"/>
<path d="M1153.1 423.8l4.2-0.5 7.1-0.4 57.7-2.6 22.5-0.7 29.6-0.6" stroke="#1619ed"/>
<path d="M1153.1 423.8l11.3-0.7 59.1-2.5 21.8-0.7 28.9-0.6" stroke="#1518ec"/>
<path d="M1154.5 423.8l9.9-0.5 21.8-0.8 40.8-1.7 21.9-0.6 25.3-0.5" stroke="#1517ec"/>
<path d="M1156.6 423.8l30.3-1 44.3-1.8 43-1" stroke="#1415eb"/>
</g>
<path class="k" d="M1077 424l3 0 3.5-1.1 4-1.6 6-3 12.5-7 6-3.1 6.5-3.1 6.4-2.7 7.1-2.5 7-2.3 8.5-2.3 9.1-2.3 11.3-2.5 33.1-6.5 9.8-1.7 9.2-1.3 12-1.3 12.6-1 12.7-0.5 16.9-0.4"/>
</g>
<rect class="f" x="1033.3" y="18.7" width="240.4" height="405.3"/>
<text class="a" x="1027.0" y="27.9" text-anchor="end">0.7</text>
<text class="a" x="1026.7" y="433.6" text-anchor="end">0</text>
<text class="a" x="1032.9" y="454.0" text-anchor="middle">0</text>
<text class="a" x="1274.0" y="454.0" text-anchor="middle">1</text>
<text class="i" x="1152.1" y="486.6" text-anchor="middle">ξ</text>
<text class="e" transform="translate(977.8 224.5) rotate(-90)" text-anchor="middle">η</text>
<text class="a" x="1049.9" y="69.0">t</text>
<rect x="1061.1" y="58.4" width="7.4" height="2"/><rect x="1061.1" y="63.4" width="7.4" height="2"/>
<text class="a" x="1071.9" y="69.0">2.75</text>
<clipPath id="c4"><rect x="80.8" y="581.9" width="240.4" height="405.3"/></clipPath>
<g clip-path="url(#c4)">
<g class="l">
<path d="M80.8 911.3l9 0.4 9.5 0.9 10 1.6 11.1 2.2 11 2.6 12.5 3.4 13.5 4.1 17.1 5.5" stroke="#7f0000" stroke-width="1"/>
<path d="M80.8 923.4l9 0.2 9.5 0.7 10 1.2 10.1 1.6 10.5 2.2 11 2.6 12 3.1 14.5 4.1" stroke="#860000" stroke-width="1"/>
<path d="M80.8 929l10 0.2 9.5 0.5 9.5 1 10.1 1.3 10 1.8 10.5 2.2 11.5 2.8 13 3.4" stroke="#8c0000" stroke-width="1"/>
<path d="M80.8 933.4l10.5 0.1 9.5 0.5 9.5 0.9 9.6 1.2 10 1.7 10 2.1 10.5 2.5 12 3.3" stroke="#930000" stroke-width="1"/>
<path d="M80.8 937.1l11 0.1 10 0.5 9.6 0.8 9 1.1 9.5 1.6 9.5 1.9 10 2.5 11 3" stroke="#9a0000" stroke-width="1"/>
<path d="M80.8 940.1l12 0.1 9.5 0.4 9.1 0.7 9 1 9 1.5 9.5 1.9 9.5 2.4 10 2.8" stroke="#a00000" stroke-width="1"/>
<path d="M80.8 942.9l12.5 0.1 9.5 0.3 9.1 0.7 9 1 9 1.4 9 1.9 9 2.2 9.5 2.7" stroke="#a70000" stroke-width="1"/>
<path d="M80.8 945.5l13 0.1 9.5 0.3 9.1 0.6 8.5 0.9 8.5 1.3 8.5 1.7 9 2.2 9 2.6" stroke="#ae0000" stroke-width=".95"/>
<path d="M80.8 947.7l13.5 0.1 9.5 0.2 9.1 0.6 8 0.8 8.5 1.3 8 1.6 8.5 2.1 8.5 2.5" stroke="#b50000" stroke-width=".9"/>
<path d="M80.8 949.8l13.5 0.1 9.5 0.2 9.1 0.5 8 0.8 8.5 1.2 8 1.6 8 2 8 2.4" stroke="#bb0000" stroke-width=".9"/>
<path d="M80.8 951.9l14.5 0 9.5 0.3 8.6 0.4 8 0.8 8 1.1 7.5 1.5 7.5 1.9 8 2.4" stroke="#c20000" stroke-width=".9"/>
<path d="M80.8 954l14 0 9.5 0.2 8.6 0.5 8 0.7 8 1.1 7.5 1.4 7.5 1.8 7.5 2.2" stroke="#c90000" stroke-width=".9"/>
<path d="M80.8 955.7l23 0.2 8.6 0.5 7.5 0.6 8 1 7.5 1.4 7.5 1.7 7.5 2.1" stroke="#d00000" stroke-width=".85"/>
<path d="M80.8 957.2l22.5 0.2 8.6 0.4 7.5 0.6 7.5 0.9 7.5 1.3 7.5 1.6 7.5 2" stroke="#d60000" stroke-width=".85"/>
<path d="M80.8 958.5l22.5 0.2 8.6 0.4 7.5 0.6 7.5 0.9 7.5 1.3 7 1.5 7.5 1.9" stroke="#dc0000"/>
<path d="M80.8 959.7l22.5 0.2 8.1 0.4 7.5 0.5 7.5 0.9 7.5 1.2 7 1.5 7.5 1.8" stroke="#e20000"/>
<path d="M80.8 960.8l22.5 0.2 8.1 0.4 7.5 0.6 7.5 0.8 7 1.1 7 1.4 7.5 1.8" stroke="#e90000"/>
<path d="M80.8 962l22 0.1 8 0.4 7.6 0.5 7.5 0.9 7 1 7 1.3 7 1.7" stroke="#f00000"/>
<path d="M80.8 963l22 0.2 8 0.3 7.1 0.5 7.5 0.8 7 1 7 1.3 7 1.6" stroke="#f80000"/>
<path d="M80.8 964l21.5 0.2 8 0.3 7.1 0.5 7.5 0.7 7 1 7 1.3 7 1.5" stroke="#ff0000"/>
<path d="M80.8 965l21.5 0.2 8 0.3 7.1 0.5 7 0.8 7 1 7 1.3 7 1.6" stroke="#ff0200"/>
<path d="M80.8 965.9l21 0.2 8 0.4 7.1 0.5 7 0.8 7 1.2 6.5 1.3 7 1.7" stroke="#ff0400"/>
<path d="M80.8 966.8l21 0.2 7.5 0.4 7.1 0.6 7 0.8 7 1.2 6.5 1.4 7 1.9" stroke="#ff0600"/>
<path d="M80.8 967.7l20.5 0.2 7.5 0.4 7.1 0.6 7 0.9 6.5 1.1 6.5 1.5 7 1.9" stroke="#ff0800"/>
<path d="M80.8 968.5l20.5 0.2 7.5 0.4 6.6 0.6 7 0.9 6.5 1.3 6.5 1.5 7 2" stroke="#ff0b00"/>
<path d="M80.8 969.3l20.5 0.2 7.5 0.4 6.6 0.7 7 1 6.5 1.2 6.5 1.6 6.5 2" stroke="#ff0d00"/>
<path d="M80.8 970l20 0.3 7.5 0.4 6.6 0.6 7 1 6.5 1.3 6.5 1.7 6.5 2" stroke="#ff1000"/>
<path d="M80.8 970.8l20 0.2 7.5 0.4 6.6 0.7 6.5 1 6.5 1.3 6.5 1.7 6.5 2" stroke="#ff1200"/>
<path d="M80.8 971.5l19.5 0.2 7.5 0.4 6.6 0.7 6.5 0.9 6.5 1.4 6.5 1.7 6.5 2.1" stroke="#ff1800"/>
<path d="M80.8 972.1l19.5 0.2 7.5 0.5 6.6 0.7 6.5 1 6.5 1.4 6 1.6 6.5 2.1" stroke="#ff2800"/>
<path d="M80.8 972.7l19.5 0.3 7 0.4 6.6 0.7 6.5 1 6.5 1.4 6 1.6 6.5 2.1" stroke="#ff3a00"/>
<path d="M80.8 973.4l19 0.2 7 0.4 6.6 0.6 6.5 1 6.5 1.4 6 1.7 6.5 2.1" stroke="#ff4e00"/>
<path d="M80.8 973.9l19 0.3 7 0.4 6.6 0.7 6.5 1 6 1.3 6 1.6 6.5 2.1" stroke="#ff6200"/>
<path d="M80.8 974.5l19 0.2 7 0.4 6.1 0.7 6.5 1 6 1.2 6 1.7 6.5 2.1" stroke="#ff7200"/>
<path d="M80.8 975l19 0.3 7 0.4 6.1 0.6 6.5 1 6 1.3 6 1.7 6 1.9" stroke="#ff8000"/>
<path d="M80.8 975.5l18.5 0.3 7 0.4 6.1 0.6 6.5 1 6 1.2 6 1.7 6 1.9" stroke="#ff8e00"/>
<path d="M80.8 976l18.5 0.2 7 0.5 6.1 0.6 6 0.9 6 1.2 6 1.6 6 2" stroke="#ff9e00"/>
<path d="M80.8 976.5l18.5 0.2 7 0.4 6.1 0.7 6 0.9 6 1.2 6 1.6 6 2" stroke="#ffad00"/>
<path d="M80.8 976.9l18.5 0.3 6.5 0.3 6.1 0.6 6 0.9 6 1.3 6 1.5 6 2" stroke="#ffbd00"/>
<path d="M80.8 977.4l18.5 0.2 6.5 0.4 6.1 0.6 6 0.9 6 1.2 5.5 1.4 6 1.9" stroke="#ffcf00"/>
<path d="M80.8 977.8l18 0.2 6.5 0.4 6.1 0.6 6 0.9 6 1.1 5.5 1.4 6 1.9" stroke="#fee100"/>
<path d="M80.8 978.3l18 0.2 6.5 0.4 6.1 0.5 6 0.9 6 1.2 5.5 1.4 6 1.8" stroke="#fcf300"/>
<path d="M80.8 978.7l17.5 0.2 6.5 0.4 6 0.5 6.1 0.9 6 1.1 5.5 1.3 6 1.8" stroke="#f5ff00"/>
<path d="M80.8 979.2l17.5 0.2 6.5 0.3 6 0.6 6.1 0.8 5.5 1 5.5 1.3 6 1.8" stroke="#e6ff00"/>
<path d="M80.8 979.6l17.5 0.2 6.5 0.4 5.5 0.4 6.1 0.8 5.5 1 5.5 1.3 6 1.7" stroke="#d4ff00"/>
<path d="M80.8 980.1l17.5 0.2 6 0.3 6 0.5 6.1 0.8 5.5 0.9 5.5 1.3 6 1.6" stroke="#c6ff09"/>
<path d="M80.8 980.5l17.5 0.2 6 0.3 6 0.5 6.1 0.8 5.5 0.9 5.5 1.2 5.5 1.5" stroke="#b7ff14"/>
<path d="M80.8 981l17 0.2 6.5 0.2 5.5 0.5 6.1 0.7 5.5 0.9 5.5 1.2 5.5 1.4" stroke="#a9ff22"/>
<path d="M80.8 981.4l17 0.2 12 0.7 5.6 0.6 5.5 0.9 5.5 1.1 5.5 1.3" stroke="#9eff43"/>
<path d="M80.8 981.9l17 0.1 11.5 0.7 5.6 0.6 5.5 0.8 5.5 1 5.5 1.3" stroke="#93ff63"/>
<path d="M80.8 982.3l17 0.2 11.5 0.6 6.1 0.6 5.5 0.8 6 1.1 4.5 1.1" stroke="#89ff80"/>
<path d="M80.8 982.8l17 0.1 11.5 0.6 6.1 0.6 5.5 0.8 5 0.8 5 1.2" stroke="#80ff9e"/>
<path d="M80.8 983.2l17 0.2 11.5 0.5 6.1 0.6 6 0.8 4.5 0.7 4.5 1" stroke="#77ffc0"/>
<path d="M80.8 983.7l17 0.1 12 0.6 11.6 1.2 4 0.6 4.5 1" stroke="#6fffe2"/>
<path d="M80.8 984.1l17.5 0.2 12 0.5 11.1 1.1 4 0.6 4.5 1" stroke="#62fdf0"/>
<path d="M80.8 984.6l17.5 0.1 12.5 0.5 10.1 0.9 4 0.6 4.5 1" stroke="#54fbfb"/>
<path d="M80.8 985l17.5 0.1 12.5 0.5 9.1 0.7 8 1.4" stroke="#4bd3ff"/>
<path d="M80.8 985.5l18 0.1 12.6 0.4 7.5 0.5 7.5 1.1" stroke="#409bff"/>
<path d="M80.8 985.9l18.5 0.1 13.1 0.3 6.5 0.5 6 0.8" stroke="#2e69fd"/>
<path d="M80.8 986.4l19 0 14.1 0.3 4.5 0.3 5 0.7" stroke="#2445f8"/>
<path d="M80.8 986.8l32.6 0.2 4 0.2 4 0.5" stroke="#1b2af2"/>
</g>
<g stroke-width=".9">
<path d="M126.5 987.1l2.5-1 2.5-1.4 2.5-2.1 2.5-2.8 3-4.2 7-11.1 12-18 4-5.5 4.2-4.9 4.3-4.1 4.2-3.3 5-3 5-2.2 4.3-1.4 4.9-1.3 6.4-1.4 6.4-1.1 10-1.2 24.9-2.1 16.3-1 22.1-0.7 14.9-0.2 26.3-0.2" stroke="#7f0000"/>
<path d="M126.5 987.1l2.5-0.9 2.5-1.4 2.5-2 2.5-2.8 3-4 7-10.7 12.5-18.3 4-5.2 3.7-4.2 4.3-4.1 4.2-3.3 5-2.9 5.7-2.5 4.3-1.4 5.7-1.5 6.4-1.4 5.6-1 10.7-1.4 24.2-2.2 16.3-1 19.9-0.7 15.7-0.3 27-0.1" stroke="#860000"/>
<path d="M126.5 987.1l3-1.1 2.5-1.5 2-1.6 2.5-2.6 3-4 7-10.3 12.5-17.8 4-5.1 3.7-4.1 4.3-4 4.2-3.3 5-2.9 5.7-2.6 4.3-1.4 5.7-1.6 6.4-1.4 5.6-1.1 11.4-1.5 22.8-2.2 17.7-1.3 17.1-0.6 15.7-0.3 29.1-0.2" stroke="#8c0000"/>
<path d="M127 987l2.5-1 2.5-1.4 2-1.5 2.5-2.6 3-3.8 7-10 12.5-17.3 4-5 4.4-4.8 4.3-3.8 4.3-3.1 4.9-2.9 5.7-2.4 5-1.6 5.7-1.6 5.7-1.3 6.4-1.2 12.1-1.7 21.3-2.1 17.8-1.4 15.6-0.6 15.6-0.3 29.9-0.1" stroke="#930000"/>
<path d="M127 987l3-1.2 2.5-1.4 2-1.6 2.5-2.6 2.5-3.2 6.5-9 13-17.5 4-4.9 4.4-4.7 4.3-3.8 5-3.5 4.9-2.8 5.7-2.3 5-1.7 6.4-1.7 5.7-1.4 5.7-1 12.8-1.9 20.6-2.1 17.8-1.4 14.2-0.6 16.3-0.4 29.9-0.1" stroke="#9a0000"/>
<path d="M127 987l3-1.1 2.5-1.4 2-1.6 2.5-2.5 2.5-3 7-9.5 13-17 4.5-5.3 4.1-4.2 4.3-3.6 5-3.4 5-2.7 5.6-2.3 5-1.6 6.4-1.8 5.7-1.4 6.4-1.2 12.8-1.9 20.6-2.2 17.1-1.4 14.2-0.6 15.6-0.3 29.9-0.1" stroke="#a10000"/>
<path d="M127 987l3-1.1 2.5-1.3 2-1.5 2.5-2.5 3-3.6 6-8 13.5-17.3 4.5-5.1 4.1-4.1 4.3-3.7 5-3.4 5-2.6 6.4-2.6 4.9-1.7 6.4-1.8 5.7-1.3 6.4-1.3 13.5-2 19.9-2.2 17.1-1.4 13.5-0.6 15.6-0.3 29.9-0.1" stroke="#a70000"/>
<path d="M127 987l3-1 2.5-1.4 2-1.4 2.5-2.4 3-3.6 6-7.8 14-17.6 4.5-5 4.3-4.2 4.3-3.4 5-3.3 5-2.6 6.4-2.6 5.6-1.8 6.4-1.8 5.7-1.3 6.4-1.2 13.5-2.1 19.9-2.1 16.4-1.5 13.5-0.6 15.7-0.3 29.1 0" stroke="#ae0000"/>
<path d="M127 987l3-1 2.5-1.3 2-1.4 2.5-2.4 3-3.5 6-7.7 14-17.2 4.5-5 4.3-4.1 4.3-3.5 5-3.3 5-2.6 6.4-2.6 5.6-1.8 6.4-1.8 5.7-1.4 6.4-1.3 13.5-2 19.9-2.3 16.4-1.5 12.8-0.5 15.6-0.4 29.9 0" stroke="#b50000"/>
<path d="M127 987l3-1 2.5-1.2 2-1.4 2.5-2.4 3-3.4 20-24.6 4.5-4.9 4.3-4.1 5-3.9 5-3.2 5-2.5 6.4-2.5 6.4-2.1 6.4-1.8 6.4-1.5 7.1-1.3 7.1-1.2 8.5-1.1 22.1-2.4 12-1 15-0.5 16.3-0.2 24.2 0" stroke="#bc0000"/>
<path d="M127 987l3-0.9 2.5-1.3 2-1.4 2.5-2.3 3-3.3 20-24.2 5-5.4 4.6-4.1 4.9-3.9 5-3 5-2.5 6.4-2.5 6.4-2 5.7-1.6 7.1-1.7 7.1-1.4 7.1-1.1 8.5-1.1 22.8-2.5 11.4-0.9 14.9-0.6 16.3-0.1 23.5 0" stroke="#c20000"/>
<path d="M127 987l3-0.9 2.5-1.2 2-1.4 2.5-2.3 3-3.3 20-23.8 5-5.3 4.6-4.1 4.9-3.8 5-3.1 5.7-2.8 6.4-2.4 6.4-2.1 5.7-1.5 7.1-1.7 7.1-1.4 7.1-1.1 8.5-1.2 23.5-2.6 10.7-0.8 14.9-0.5 17.1-0.2 22 0" stroke="#c90000"/>
<path d="M127 987l3-0.9 2.5-1.2 2-1.3 2.5-2.3 3-3.2 20.5-24.1 5-5.1 4.8-4.2 4.9-3.7 5-3 5.7-2.7 6.4-2.4 6.4-2 5.7-1.6 7.1-1.7 7.1-1.4 14.9-2.2 24.2-2.7 10-0.8 14.9-0.5 17.1-0.2 22 0.1" stroke="#d00000"/>
<path d="M127 987l3-0.9 2.5-1.1 2-1.3 2.5-2.2 3-3.3 20.5-23.7 5-5.1 4.8-4.2 4.9-3.6 5-3 5.7-2.7 7.1-2.7 6.4-2 5.7-1.6 7.1-1.7 7.1-1.4 15-2.2 24.1-2.7 10-0.8 14.9-0.5 17.1-0.1 21.3 0" stroke="#d70000"/>
<path d="M127 987l3-0.9 2.5-1.1 2-1.3 2.5-2.2 3-3.1 20.5-23.4 5-5.1 4.8-4.1 4.9-3.7 5.7-3.3 5.7-2.7 7.1-2.6 6.4-2.1 5.7-1.5 7.1-1.7 7.1-1.4 14.3-2.1 24.8-2.8 9.3-0.8 14.9-0.5 17.1-0.1 21.3 0" stroke="#dd0000"/>
<path d="M127 987l3-0.8 2.5-1.2 2-1.2 2.5-2.2 3-3.1 20.5-23.1 5.5-5.4 5-4.3 5-3.5 4.9-2.9 6.4-3 7.1-2.6 6.4-2 5.7-1.5 7.1-1.7 7.1-1.4 14.3-2.1 24.8-2.9 8.6-0.7 15.6-0.5 37.7-0.1" stroke="#e40000"/>
<path d="M127 987l3-0.8 2.5-1.1 2-1.2 2.5-2.2 3-3.1 21-23.3 5-4.9 5-4.2 5-3.5 5.6-3.3 6.4-2.9 7.1-2.5 6.4-2.1 5.7-1.5 7.1-1.7 7.2-1.4 13.5-2 25.6-3 8.5-0.6 14.9-0.5 37.7-0.1" stroke="#eb0000"/>
<path d="M127 987l3-0.8 2.5-1.1 2-1.2 2.5-2.1 3-3 21-23.1 5.7-5.5 5-4.1 5-3.4 5.7-3.2 6.4-2.8 7.1-2.5 6.4-2.1 6.4-1.7 7.1-1.6 6.4-1.2 13.5-2 24.9-3 8.5-0.6 14.9-0.5 37.7-0.1" stroke="#f20000"/>
<path d="M127 987l3-0.8 2.5-1 2-1.2 2.5-2.1 3-3 21-22.8 5.7-5.4 5-4.1 5-3.5 5.7-3.1 6.4-2.8 7.8-2.9 5.7-1.8 6.4-1.7 7.1-1.6 6.4-1.3 13.5-2 25.6-3.1 7.8-0.6 15.6-0.5 37 0" stroke="#f80000"/>
<path d="M127 987l3-0.8 2.5-1 2-1.2 2.5-2 3-3 21-22.5 5.7-5.4 5-4.1 5-3.4 5.7-3.2 6.4-2.8 8.5-3.1 5.7-1.8 7.1-1.9 6.4-1.5 6.4-1.2 12.8-1.9 26.3-3.2 7.1-0.5 15.6-0.5 37 0" stroke="#ff0000"/>
<path d="M127 987l3-0.8 2.5-1 1.5-0.8 3-2.4 3-2.9 21.5-22.8 5.2-4.8 5.7-4.6 5-3.3 5.7-3.1 6.4-2.8 8.5-3 5.7-1.8 7.1-1.9 6.4-1.5 6.4-1.2 12.8-1.9 25.6-3.1 7.1-0.6 15.6-0.5 37 0" stroke="#ff0100"/>
<path d="M127 987l3-0.7 2.5-1 1.5-0.8 3-2.4 3.5-3.4 21-22 5.2-4.8 5.7-4.6 5-3.3 5.7-3.1 7.1-3.1 8.5-3 5.7-1.7 7.1-1.9 6.4-1.5 5.7-1.1 12.1-1.8 26.3-3.3 7.1-0.5 15.6-0.5 37 0" stroke="#ff0200"/>
<path d="M127 987l3-0.7 3-1.3 1.5-0.8 2.5-2 3.5-3.4 21-21.8 5.2-4.8 5.7-4.5 5-3.3 5.7-3.1 7.1-3.1 8.5-3 5.7-1.8 7.1-1.9 6.4-1.5 5.7-1.1 12.8-2 26.3-3.2 7.1-0.5 15.6-0.5 36.3 0" stroke="#ff0300"/>
<path d="M127 987l3-0.7 3-1.2 1.5-0.9 2.5-1.9 3.5-3.4 21.5-22 5.4-4.9 5.7-4.4 5-3.3 5.7-2.9 7.1-3.1 8.5-3 5.7-1.8 7.1-1.9 6.4-1.5 5.7-1.1 12.1-1.8 26.3-3.3 7.1-0.5 15.6-0.5 36.3 0" stroke="#ff0400"/>
<path d="M127 987l3-0.7 3-1.2 1.5-0.8 2.5-2 3.5-3.3 21.5-21.8 5.4-4.8 5.7-4.5 5.7-3.6 5.7-2.9 7.1-3 8.5-3 5.7-1.8 7.1-1.8 11.4-2.5 12.1-1.8 26.3-3.4 6.4-0.5 15.6-0.5 37 0.1" stroke="#ff0500"/>
<path d="M127.5 987l3-0.8 2.5-1.1 1.5-0.8 2.5-1.9 3.5-3.3 21.5-21.6 5.4-4.8 5.7-4.4 5.7-3.6 5.7-2.9 7.1-3 8.5-3.1 5.7-1.7 7.1-2 11.4-2.4 12.1-1.9 27-3.4 7.1-0.5 14.9-0.5 36.3 0.1" stroke="#ff0600"/>
<path d="M127.5 987l3-0.8 2.5-1 1.5-0.9 2.5-1.8 3.5-3.3 21.5-21.4 5.4-4.7 5.7-4.4 5.7-3.7 5.7-2.9 7.1-3 9.2-3.3 6.4-1.9 6.4-1.7 11.4-2.5 11.4-1.7 27-3.5 7.1-0.5 14.9-0.5 36.3 0.1" stroke="#ff0700"/>
<path d="M127.5 987l3-0.8 2.5-1 1.5-0.8 2.5-1.9 3.5-3.2 22-21.6 5.6-4.9 5.7-4.3 5.7-3.5 5.7-2.9 7.1-2.9 8.5-3.1 6.4-1.9 6.4-1.8 5.7-1.3 5.7-1.1 11.4-1.8 27-3.5 7.1-0.5 14.9-0.5 36.3 0.1" stroke="#ff0800"/>
<path d="M127.5 987l3-0.8 2.5-1 1.5-0.8 2.5-1.8 3.5-3.2 22-21.4 5.6-4.8 5.7-4.3 5.7-3.5 5.7-2.9 7.8-3.3 8.5-3 12.1-3.5 5.7-1.3 5.7-1.2 11.4-1.8 27-3.5 7.1-0.5 14.9-0.5 36.3 0.1" stroke="#ff0900"/>
<path d="M127.5 987l3-0.8 2.5-0.9 1.5-0.8 2.5-1.9 3.5-3.1 22-21.2 5.6-4.8 5.7-4.3 5.7-3.5 6.4-3.2 7.8-3.2 8.6-3 12-3.5 5.7-1.3 5.7-1.2 10.7-1.6 27.7-3.7 7.8-0.5 13.5-0.4 36.3 0.1" stroke="#ff0a00"/>
</g>
<g stroke-width=".85">
<path d="M127.5 987l3-0.8 2.5-0.9 1.5-0.8 2.5-1.8 3.5-3.1 22.5-21.4 5.8-4.9 5.7-4.2 5.7-3.4 5.7-2.8 7.8-3.3 8.6-3 12-3.5 5.7-1.4 5.7-1.1 10.7-1.7 27.7-3.7 7.8-0.5 13.5-0.4 36.3 0.1" stroke="#ff0b00"/>
<path d="M127.5 987l3-0.7 2.5-1 1.5-0.7 2.5-1.8 3.5-3.1 22.5-21.2 5.8-4.9 5.7-4.1 5.7-3.5 6.4-3.1 7.8-3.2 8.6-3 12.1-3.5 10.6-2.4 10.7-1.7 27.7-3.7 7.8-0.5 13.5-0.4 36.3 0.1" stroke="#ff0c00"/>
<path d="M127.5 987l3-0.7 3-1.1 1.5-0.9 2-1.5 4-3.4 22-20.6 5.8-4.8 5.7-4.2 5.7-3.4 6.4-3.1 7.8-3.3 8.6-3 12.1-3.5 10.6-2.4 10.7-1.7 27.7-3.8 7.8-0.5 13.5-0.4 36.3 0.1" stroke="#ff0d00"/>
<path d="M127.5 987l3-0.7 3-1.1 1.5-0.9 2-1.4 4-3.4 22.5-20.8 6.1-4.9 5.6-4 5.7-3.4 6.4-3.1 8.6-3.5 7.8-2.7 12.1-3.5 9.9-2.3 10.7-1.7 27.7-3.8 7.8-0.5 13.5-0.4 36.3 0.1" stroke="#ff0e00"/>
<path d="M127.5 987l3-0.7 3-1.1 1.5-0.8 2-1.4 3-2.5 10.5-9.5 13-11.9 6.1-4.9 5.6-4.1 5.7-3.3 6.4-3.1 8.6-3.6 7.8-2.7 12.1-3.6 9.9-2.2 10.7-1.7 27.7-3.9 7.8-0.5 13.5-0.4 36.3 0.1" stroke="#ff0f00"/>
<path d="M127.5 987l3-0.7 3-1 1.5-0.9 2.5-1.7 13.5-11.9 12.5-11.4 6.1-4.9 5.6-4 5.7-3.4 6.4-3.1 8.6-3.5 8.5-3 12.1-3.6 9.9-2.2 10-1.6 28.4-3.9 8.6-0.6 12.8-0.4 35.5 0.1" stroke="#ff1000"/>
<path d="M127.5 987l3.5-0.8 3-1.1 3.5-2.3 13-11.3 9-8.2 4.5-3.9 6.3-5 5.7-3.9 5.6-3.3 7.2-3.4 9.2-3.8 7.8-2.6 10.7-3.2 9.9-2.2 10-1.7 28.4-3.9 8.6-0.6 12.8-0.4 35.5 0.1" stroke="#ff1100"/>
<path d="M127.5 987l3.5-0.8 3-1 3.5-2.4 13-11 9.5-8.6 4.5-3.8 6.5-5.1 5.7-3.9 5.7-3.2 7.1-3.3 9.2-3.8 7.8-2.6 10.7-3.1 9.9-2.3 9.3-1.5 28.4-4 8.6-0.6 12.8-0.4 35.5 0.1" stroke="#ff1200"/>
<path d="M127.5 987l3.5-0.7 3-1.1 3.5-2.3 13-10.9 9.5-8.4 4.5-3.9 6.5-5 5.7-3.8 5.7-3.3 7.8-3.6 9.2-3.8 8.5-2.8 10.7-3.1 9.3-2 7.8-1.3 22.7-3.4 7.1-0.9 8.6-0.5 12.1-0.4 35.5 0.1" stroke="#ff1300"/>
<path d="M127.5 987l3.5-0.7 3-1 3.5-2.3 13-10.7 9.5-8.4 5-4.1 6.7-5.2 5.7-3.7 5.7-3.2 8.5-3.9 9.2-3.7 8.6-2.8 9.9-2.9 9.3-2 29.8-4.6 7.1-0.9 8.6-0.5 12.1-0.4 35.5 0.1" stroke="#ff1400"/>
<path d="M127.5 987l3.5-0.7 3-1 3.5-2.2 13-10.5 9.5-8.3 6-4.9 6.4-4.8 5.7-3.7 6.4-3.5 8.5-3.8 8.5-3.4 8.6-2.8 9.9-2.9 8.6-1.8 29.8-4.7 7.1-0.9 8.6-0.5 12.1-0.4 35.5 0.1" stroke="#ff1900"/>
</g>
<g stroke-width=".8">
<path d="M127.5 987l3.5-0.7 3-0.9 3.5-2.2 13-10.3 10-8.6 6.2-5 6.4-4.7 5.7-3.7 7.1-3.7 8.5-3.8 7.9-3.1 9.2-3 9.2-2.6 8.6-1.9 29.8-4.6 7.1-1 9.3-0.5 11.4-0.3 34.8 0.1" stroke="#ff1e00"/>
<path d="M128 987l3-0.6 3-1 4-2.4 13-10.2 9.5-8.1 6.2-5 6.4-4.7 5.7-3.6 7.1-3.8 8.5-3.8 7.9-3.1 9.9-3.3 9.3-2.6 8.5-1.8 29.1-4.6 7.1-1 9.3-0.5 11.4-0.3 34.8 0" stroke="#ff2300"/>
<path d="M128 987l3-0.6 3-0.9 4-2.4 13-10 9.5-8 6.9-5.4 6.4-4.7 5.7-3.6 7.8-4 8.6-3.8 7.1-2.8 9.9-3.3 8.6-2.4 8.5-1.8 29.1-4.7 7.1-1 9.3-0.5 11.4-0.3 34.8 0" stroke="#ff2800"/>
<path d="M128 987l3-0.6 3-0.8 4-2.4 13-9.8 9.5-7.8 7.6-6 5.7-4.1 5.7-3.6 7.8-4.1 8.6-3.8 7.8-3.1 9.9-3.3 8.6-2.4 7.8-1.7 29.1-4.7 7.1-1 9.3-0.5 11.4-0.4 34.8 0.1" stroke="#ff2d00"/>
<path d="M128 987l3-0.5 3-0.8 4.5-2.7 12.5-9.3 10-8.1 7.8-6 5.7-4.1 5.7-3.5 7.8-4.1 9.3-4.1 7.1-2.8 10.7-3.5 7.8-2.2 7.8-1.6 29.1-4.8 6.4-0.9 9.3-0.5 11.4-0.4 34.8 0" stroke="#ff3200"/>
<path d="M128 987l3-0.5 3-0.8 4.5-2.6 12.5-9 11.5-9.2 7.8-5.9 5.7-3.9 4.9-3 7.9-4.1 9.2-4.1 7.8-3 10-3.3 7.8-2.2 7.8-1.6 28.4-4.7 7.2-1 9.2-0.5 10.7-0.3 34.8 0" stroke="#ff3700"/>
<path d="M128 987l3-0.5 3-0.7 4.5-2.5 12.5-8.9 12.5-9.8 7.5-5.6 5.7-3.9 4.9-3 8.6-4.3 8.5-3.8 8.5-3.3 9.3-3 7.1-2 7.8-1.7 28.4-4.7 7.2-1 9.2-0.5 10.7-0.4 34.8 0" stroke="#ff3c00"/>
<path d="M128.5 987l3-0.5 2.5-0.6 5-2.8 12.5-8.7 13.5-10.5 6.7-4.9 5-3.4 4.9-3 8.6-4.4 9.2-4.1 9.3-3.5 8.5-2.9 7.1-1.9 7.8-1.7 27.7-4.7 7.2-0.9 9.2-0.6 10.7-0.3 34.8 0" stroke="#ff4100"/>
<path d="M128.5 987l5.5-1 2.5-1.3 3-1.8 12-8.2 14.5-11 6.4-4.7 5-3.4 5-2.9 8.5-4.4 8.5-3.8 9.3-3.6 8.5-2.9 7.1-1.9 7.8-1.7 27.7-4.8 7.2-0.9 9.2-0.6 10.7-0.3 34.8-0.1" stroke="#ff4600"/>
<path d="M128.5 987l5.5-1 3-1.5 3-1.8 12-8 21.1-15.7 5-3.3 4.3-2.5 8.5-4.4 9.2-4.2 9.3-3.6 8.5-2.9 7.1-2 7.1-1.5 27.7-4.8 7.2-1 9.2-0.5 10.7-0.4 34.8-0.1" stroke="#ff4d00"/>
</g>
<g stroke-width=".75">
<path d="M128.5 987l5.5-0.9 3-1.5 3.5-2 11.5-7.5 21.8-16.1 5-3.3 5-2.8 8.5-4.4 8.5-3.9 9.3-3.5 8.5-2.9 6.4-1.8 7.8-1.6 27.8-4.9 6.4-0.9 9.2-0.6 10.7-0.3 34.8-0.1" stroke="#ff5400"/>
<path d="M129 987l5-0.8 3.5-1.7 4-2.3 11-7.1 22-16.1 5-3.2 5-2.9 8.5-4.3 7.8-3.6 10-3.9 8.5-2.9 6.4-1.7 7.1-1.5 27.8-4.9 6.4-0.9 9.2-0.6 10.7-0.4 34.8-0.1" stroke="#ff5b00"/>
<path d="M129 987l5-0.7 4-1.9 4.5-2.6 10.5-6.7 18-13.1 5-3.5 4.9-3.1 5-2.8 7.8-4 7.8-3.5 10-3.9 8.5-2.9 5.7-1.5 7.1-1.6 27.8-5 6.4-0.9 9.2-0.6 10.7-0.3 34.8-0.2" stroke="#ff6200"/>
<path d="M129.5 987l4-0.6 1-0.3 4.5-2.2 7-4 8-5.1 22-15.8 4.9-3.1 5.7-3.2 7.8-4 7.9-3.6 9.9-3.9 7.8-2.6 5.7-1.6 7.1-1.5 27.8-5.1 6.4-0.9 9.2-0.6 10.7-0.4 34.8-0.1" stroke="#ff6900"/>
<path d="M129.5 987l4-0.5 1-0.3 5-2.4 7.5-4.2 7.5-4.8 22.2-15.8 4.9-3.1 7.2-3.9 7.8-3.9 6.4-2.9 9.9-3.9 7.8-2.6 5.7-1.6 7.1-1.5 15-2.7 12.1-2.3 7.1-1 9.2-0.6 10-0.3 34.8-0.2" stroke="#ff7000"/>
<path d="M130 987l4-0.5 1.5-0.6 5-2.4 8-4.5 7-4.5 21.9-15.5 5-3 7.1-3.9 7.8-4 6.4-2.8 9.2-3.7 7.8-2.7 5.7-1.5 7.1-1.6 15-2.7 12.1-2.3 7.1-1 9.2-0.6 10-0.4 34.8-0.2" stroke="#ff7700"/>
<path d="M130 987l4-0.4 1.5-0.6 5.5-2.6 8-4.4 4-2.5 4.5-3 20.6-14.5 5-3 7.8-4.3 7.1-3.5 6.4-2.9 9.2-3.7 7.9-2.6 5.6-1.6 7.2-1.5 14.2-2.6 12.1-2.4 7.1-1 9.2-0.6 10-0.3 34.8-0.2" stroke="#ff7e00"/>
<path d="M130.5 987l3.5-0.4 2.5-1 6-2.8 7.5-4.1 4.5-2.8 7-4.7 12.3-8.8 5-3.3 5-3 7.8-4.3 7.1-3.6 6.4-2.8 9.2-3.7 7.9-2.7 5.7-1.5 6.4-1.4 14.2-2.6 12.1-2.4 7.1-1 9.2-0.6 10-0.4 34.8-0.2" stroke="#ff8500"/>
<path d="M131 987l3-0.3 3-1.2 6.5-3 7-3.8 4-2.4 7.5-5 11.8-8.4 5-3.4 6.4-3.8 7.8-4.3 7.1-3.5 7.1-3.1 7.9-3.1 7.1-2.4 5.7-1.5 6.4-1.4 14.2-2.6 12.1-2.5 7.1-1 9.2-0.7 10-0.3 34.8-0.3" stroke="#ff8c00"/>
<path d="M131.5 987l2.5-0.2 3.5-1.4 6.5-3 7-3.7 4-2.4 7-4.6 12.5-8.8 5-3.4 6.4-3.8 7.8-4.2 7.1-3.6 7.1-3 7.9-3.1 6.4-2.2 5.7-1.6 6.4-1.4 14.2-2.6 12.1-2.5 7.1-1.1 9.2-0.6 10-0.4 34.8-0.2" stroke="#ff9500"/>
<path d="M132 987l2-0.2 4.5-1.7 7-3.2 6-3.1 11-7 12-8.5 5-3.3 7.1-4.3 7.8-4.2 7.1-3.5 7.9-3.4 7.1-2.8 6.4-2.2 5-1.3 6.4-1.4 14.2-2.7 12.1-2.5 7.1-1.1 9.2-0.6 10-0.4 34.8-0.3" stroke="#ff9e00"/>
<path d="M133 987l1-0.1 6.5-2.5 6.5-3 5.5-2.9 10-6.3 12.7-8.9 5-3.4 7.1-4.1 7.1-3.9 7.1-3.6 7.9-3.4 7.1-2.8 6.4-2.2 5-1.4 6.4-1.4 14.2-2.7 12.1-2.5 7.1-1.1 9.2-0.7 10-0.4 34.8-0.3" stroke="#ffa700"/>
<path d="M133.5 987l0.5-0.1 3-1 5.5-2.2 6-2.8 4.5-2.4 10-6.2 12.2-8.6 5-3.3 7.1-4.2 7.8-4.3 7.2-3.5 7.8-3.5 7.1-2.8 5.7-1.9 5-1.4 6.4-1.5 14.2-2.7 12.1-2.6 7.1-1.1 9.2-0.6 10-0.4 18.4-0.3 16.4 0" stroke="#ffb000"/>
<path d="M134 987l4.5-1.6 5.5-2.2 5.5-2.6 4-2.1 9.5-5.8 13-9.1 4.9-3.2 7.9-4.6 7.1-3.9 6.4-3.2 8.5-3.7 7.1-2.9 5.7-1.9 5-1.3 6.4-1.5 13.5-2.6 12.1-2.6 7.1-1.1 9.2-0.6 10-0.4 18.4-0.3 16.4-0.1" stroke="#ffb800"/>
<path d="M134 987l5-1.7 5.5-2.2 5-2.2 4.5-2.4 9.5-5.8 12.5-8.7 4.9-3.2 8.6-5.1 7.1-3.8 6.4-3.2 8.5-3.7 6.4-2.6 5.7-1.9 5-1.4 6.4-1.4 13.5-2.7 12.1-2.6 7.1-1.1 9.2-0.7 10-0.4 18.4-0.3 16.4 0" stroke="#ffc100"/>
<path d="M134 987.1l5-1.7 5.5-2.1 5-2.2 4.5-2.3 9.5-5.7 17.4-11.9 8.6-5.1 7.8-4.2 5.7-2.8 8.5-3.8 6.4-2.6 5.7-1.9 5-1.4 6.4-1.5 13.5-2.6 12.1-2.7 7.1-1.1 9.2-0.7 10-0.4 18.4-0.3 16.4-0.1" stroke="#ffca00"/>
<path d="M134.5 987l5-1.7 6-2.3 5-2.2 4-2 9.5-5.7 12.7-8.7 4.9-3.3 9.3-5.4 7.1-3.8 5.7-2.8 9.2-4.1 5.7-2.2 5.7-2 5-1.3 5.7-1.3 13.5-2.7 12.1-2.7 7.1-1.1 9.2-0.7 10-0.4 18.4-0.3 16.4-0.1" stroke="#ffd300"/>
<path d="M134.5 987l5.5-1.8 6-2.2 4.5-2 4.5-2.2 9-5.3 12.7-8.8 4.9-3.2 9.3-5.4 7.8-4.3 5-2.4 9.2-4.1 5.7-2.3 5.7-1.9 5-1.4 5.7-1.3 13.5-2.7 12.1-2.7 7.1-1.1 9.2-0.7 10-0.5 18.4-0.3 16.4-0.1" stroke="#ffdc00"/>
<path d="M134.5 987l5-1.5 5-1.8 4.5-1.8 4-1.9 9.5-5.3 17.7-11.9 7.8-4.7 7.1-4 7.2-3.7 8.5-3.9 7.1-2.9 6.4-2.2 5-1.4 5.7-1.3 13.5-2.7 12.1-2.7 7.1-1.2 9.2-0.7 10-0.5 18.4-0.3 16.4-0.1" stroke="#fee300"/>
<path d="M134.5 987.1l5-1.5 5.5-2 4.5-1.8 4-1.8 9.5-5.3 17.9-12 7.9-4.7 7.1-4 7.1-3.6 9.2-4.2 7.1-2.8 5.7-1.9 5-1.4 5.7-1.3 12.8-2.6 12.8-2.9 6.4-1 9.2-0.7 10-0.5 18.4-0.3 16.4-0.1" stroke="#fdea00"/>
<path d="M134.5 987.1l5-1.5 5.5-1.8 5-2 4-1.9 9-4.9 17.9-12 8.6-5 7.1-4 6.4-3.3 9.2-4.1 7.1-2.9 5.7-2 5-1.3 5.7-1.3 12.8-2.7 12.8-2.9 6.4-1 9.2-0.7 10-0.5 18.4-0.3 16.4-0.2" stroke="#fcf100"/>
<path d="M134.5 987.1l5-1.4 6-2 5-2 4-1.9 9-4.9 17.4-11.5 8.6-5.1 7.1-4 6.4-3.2 9.9-4.5 6.4-2.6 5.7-2 5-1.3 5.7-1.4 12.8-2.6 12.8-2.9 6.4-1.1 9.2-0.7 10-0.5 18.4-0.4 16.4-0.1" stroke="#fbf800"/>
<path d="M134.5 987.1l5.5-1.5 6-2 4.5-1.8 4.5-2 8.5-4.6 17.4-11.5 9.3-5.5 7.1-3.9 6.4-3.2 9.9-4.5 6.4-2.6 5.7-1.9 7.8-2 15-3.2 11.3-2.6 7.9-1.4 9.2-0.7 10-0.5 18.4-0.4 16.4-0.1" stroke="#faff00"/>
<path d="M135 987l5.5-1.6 6-1.9 4.5-1.7 4.5-2.1 8.5-4.6 16.9-11.1 9.3-5.4 7.1-4 6.4-3.2 9.9-4.5 6.4-2.6 5.7-1.9 7.8-2 15-3.2 11.3-2.7 7.9-1.3 9.2-0.8 10-0.5 18.4-0.4 16.4-0.1" stroke="#f6ff00"/>
<path d="M135 987l5.5-1.5 6-1.9 5-1.9 4.5-2.1 8-4.3 16.9-10.9 10-5.9 7.1-3.9 5.7-2.9 9.9-4.5 6.4-2.6 5.7-1.9 7.8-2.1 15-3.1 11.3-2.7 4.3-0.9 4.3-0.6 9.2-0.7 10-0.5 18.5-0.4 15.6-0.1" stroke="#f2ff00"/>
<path d="M135 987l5.5-1.5 6-1.8 5-1.9 4.5-2 5-2.5 3.5-2 17.1-11.1 10-5.8 6.4-3.5 5.7-2.9 9.9-4.5 6.4-2.6 5.7-1.9 7.8-2.1 15-3.2 11.3-2.7 4.3-0.8 4.3-0.7 9.2-0.7 10-0.5 18.5-0.4 15.6-0.1" stroke="#eeff00"/>
<path d="M135 987l6-1.6 6-1.8 4.5-1.6 5-2.2 8-4.3 17.1-10.9 10-5.8 7.1-3.9 6.4-3.2 10-4.5 5.6-2.3 5.7-1.8 7.9-2.1 14.2-3 11.3-2.7 4.3-0.9 4.3-0.6 9.9-0.8 9.3-0.5 18.5-0.4 15.6-0.1" stroke="#eaff00"/>
<path d="M135 987l6.5-1.6 6-1.9 4.5-1.6 5-2.2 4.5-2.3 3.5-1.9 16.6-10.6 10-5.8 7.1-3.9 6.4-3.2 10-4.5 5.6-2.2 5.7-1.9 7.9-2.1 14.2-3.1 11.3-2.7 4.3-0.9 4.3-0.6 9.9-0.8 9.3-0.4 18.5-0.5 15.6-0.1" stroke="#e6ff00"/>
<path d="M135 987l6.5-1.6 6-1.8 4.5-1.6 5-2.1 4.5-2.2 3.5-2 16.6-10.5 10.7-6.2 7.1-3.9 7.8-3.8 8.6-3.8 5.7-2.2 5.6-1.9 7.2-1.8 14.2-3.1 11.3-2.7 4.3-0.9 4.3-0.7 9.9-0.8 9.3-0.4 18.5-0.4 15.6-0.2" stroke="#e2ff00"/>
<path d="M135 987l6-1.4 6.5-1.9 5-1.7 5-2.2 4.5-2.2 3.5-1.9 16.1-10.2 10.7-6.1 7.1-3.9 7.8-3.8 8.6-3.9 5.7-2.2 5.6-1.9 7.2-1.8 14.9-3.3 10.6-2.6 4.3-0.9 4.3-0.6 9.9-0.8 9.3-0.5 18.5-0.4 15.6-0.2" stroke="#deff00"/>
<path d="M135 987l6.5-1.5 6.5-1.8 5-1.8 5-2.1 4-2 4-2.2 15.6-9.7 11.4-6.6 7.1-3.9 7.8-3.8 7.9-3.5 5.7-2.2 5.6-1.9 7.2-1.8 14.9-3.4 10.6-2.5 4.3-0.9 4.3-0.7 9.9-0.8 9.3-0.5 18.5-0.4 15.6-0.2" stroke="#daff00"/>
<path d="M135 987l6.5-1.4 6.5-1.8 5.5-1.9 5-2.1 4-2 3.5-1.9 15.6-9.7 11.4-6.6 7.1-3.8 8.6-4.2 7.8-3.4 5.7-2.3 5.7-1.8 7.1-1.8 14.2-3.2 10.6-2.6 4.3-0.9 4.3-0.6 9.9-0.9 9.3-0.5 18.5-0.4 15.6-0.2" stroke="#d6ff00"/>
<path d="M135 987l7-1.5 6.5-1.8 5-1.7 5-2.1 4-1.9 4.2-2.3 14.9-9.2 12.1-7 7.1-3.8 8.6-4.1 7.1-3.1 5.7-2.3 5.7-1.8 7.1-1.8 14.2-3.2 10.6-2.6 4.3-0.9 4.3-0.7 9.9-0.8 9.3-0.5 18.5-0.5 15.6-0.2" stroke="#d2ff00"/>
<path d="M135 987l7-1.5 6.5-1.7 5.5-1.8 5-2.1 4-1.9 3.7-2 14.9-9.2 12.1-6.9 7.1-3.9 9.3-4.4 7.1-3.1 5.7-2.2 5.7-1.8 6.4-1.7 14.2-3.2 10.6-2.6 4.3-0.9 4.3-0.6 9.9-0.9 9.3-0.5 18.5-0.5 15.6-0.1" stroke="#cfff02"/>
<path d="M135 987l7.5-1.5 6.5-1.7 6-2 4.5-1.9 4-1.9 3.9-2.2 14.2-8.7 12.8-7.3 7.1-3.8 8.6-4.1 7.1-3.1 5.7-2.2 5.7-1.8 7.1-1.8 13.5-3.1 10.6-2.6 4.3-0.9 4.3-0.7 9.9-0.9 9.3-0.5 18.5-0.4 15.6-0.2" stroke="#ccff04"/>
<path d="M135.5 987l7.5-1.6 6.5-1.7 6-2 4.5-1.8 3.5-1.7 3.9-2.1 14.2-8.7 12.8-7.3 7.1-3.8 8.6-4.1 7.1-3.1 5.7-2.2 5.7-1.8 7.1-1.9 13.5-3 10.6-2.7 4.3-0.9 4.3-0.6 9.9-0.9 9.3-0.5 18.5-0.5 15.6-0.2" stroke="#c9ff06"/>
<path d="M135.5 987l7.5-1.5 7-1.8 6-2 4.5-1.9 6.9-3.5 14.2-8.6 12.8-7.3 7.1-3.8 9.3-4.4 7.1-3.1 5.7-2.1 5.7-1.8 6.4-1.7 24.1-5.7 4.3-0.9 4.3-0.7 9.9-0.9 9.3-0.5 18.5-0.5 15.6-0.2" stroke="#c7ff09"/>
<path d="M135.5 987l7.5-1.5 7-1.7 6-1.9 4.5-1.9 3.5-1.6 4.1-2.2 13.5-8.1 13.5-7.7 7.2-3.8 8.5-4.1 7.1-3.1 5.7-2.1 5.7-1.8 6.4-1.7 24.1-5.7 4.3-0.9 4.3-0.7 9.9-0.9 9.3-0.6 18.5-0.5 15.6-0.1" stroke="#c4ff0b"/>
<path d="M135.5 987l7.5-1.4 7-1.7 6-1.8 5-2.1 7.1-3.6 13.5-8 13.5-7.7 7.2-3.8 8.5-4.1 7.1-3.1 5.7-2.1 6.4-2 6.4-1.7 23.4-5.6 4.3-0.9 4.3-0.6 9.9-1 9.3-0.5 18.5-0.5 15.6-0.2" stroke="#c1ff0d"/>
<path d="M135.5 987l8-1.5 7-1.6 5.5-1.7 5-2 4-1.9 3.8-2 12.8-7.6 13.5-7.7 7.2-3.8 8.5-4 7.1-3.2 5.7-2.1 6.4-2 6.4-1.7 23.4-5.6 4.3-0.9 4.3-0.7 9.9-0.9 9.3-0.6 18.5-0.5 15.6-0.2" stroke="#beff0f"/>
<path d="M135.5 987l8-1.4 7-1.6 5.5-1.6 5-2 4-1.9 3.8-2 12.1-7.1 11.4-6.5 10.7-5.7 9.2-4.4 6.4-2.7 5.7-2.2 6.4-1.9 29.1-7.1 4.3-0.9 4.3-0.7 9.9-1 9.3-0.5 18.5-0.6 15.6-0.1" stroke="#bbff11"/>
<path d="M135.5 987l8-1.4 7-1.5 5.5-1.6 5.5-2.1 7.3-3.6 12.1-7.1 12.1-6.9 10-5.3 9.2-4.4 6.4-2.7 5.7-2.2 6.4-1.9 29.1-7.1 5-1.1 4.3-0.6 9.9-1 9.3-0.5 18.5-0.5 14.9-0.2" stroke="#b8ff13"/>
<path d="M135.5 987l8.5-1.4 7-1.5 5-1.4 5.5-2.1 4-1.9 4.1-2.1 24.1-13.9 9.3-4.9 9.2-4.4 7.1-3 5.7-2.1 6.4-1.9 29.2-7.1 4.2-0.9 4.3-0.6 9.9-1 9.3-0.6 18.5-0.5 14.9-0.2" stroke="#b5ff15"/>
<path d="M136 987l8.5-1.4 7-1.5 4.5-1.2 6-2.3 4-1.9 3.6-1.8 24.8-14.3 9.3-4.8 9.2-4.4 6.4-2.7 5.7-2.1 6.4-1.9 28.4-7 5-1 4.3-0.7 9.9-0.9 9.3-0.6 18.5-0.5 14.9-0.2" stroke="#b3ff18"/>
<path d="M136 987l8.5-1.4 7-1.4 4.5-1.2 6-2.2 4-1.9 3.6-1.8 24.8-14.2 9.3-4.8 9.2-4.4 6.4-2.7 5.7-2.1 7.1-2.1 27.7-6.8 5-1 4.3-0.7 10.7-1 8.5-0.6 18.5-0.5 14.9-0.2" stroke="#b0ff1a"/>
<path d="M136 987l8.5-1.3 7-1.4 4.5-1.1 6-2.3 4-1.7 3.6-1.9 25.5-14.4 8.6-4.5 8.5-4 7.1-3.1 5.7-2.1 7.1-2.1 27.7-6.8 5-1.1 4.3-0.6 10.7-1.1 8.5-0.5 18.5-0.5 14.9-0.2" stroke="#adff1c"/>
<path d="M136 987l8.5-1.2 7-1.4 4.5-1.1 6-2.2 4.7-2.1 3.6-1.8 25.6-14.4 8.5-4.5 8.5-3.9 7.1-3 5.7-2.1 7.1-2.1 27-6.6 5-1.1 4.3-0.6 10.7-1.1 8.5-0.6 18.5-0.5 14.9-0.2" stroke="#aaff1e"/>
<path d="M136 987l8.5-1.2 7.5-1.4 4-0.9 6.5-2.4 4.2-1.9 3.6-1.8 26.3-14.7 9.2-4.7 8.5-4 6.4-2.6 5.7-2 7.1-2.1 26.3-6.5 5-1 4.3-0.7 10.7-1 8.5-0.6 18.5-0.5 14.9-0.2" stroke="#a8ff24"/>
<path d="M136 987l9-1.2 7.5-1.4 4-0.9 6-2.2 4.2-1.8 3.6-1.8 26.3-14.7 9.9-5.1 7.8-3.5 6.4-2.7 5.7-2 7.1-2.1 26.3-6.5 5-1 4.3-0.7 10.7-1.1 8.5-0.5 18.5-0.6 14.9-0.2" stroke="#a6ff2b"/>
<path d="M136.5 987l9-1.2 7-1.3 3.5-0.7 6.5-2.3 4.2-1.8 3.6-1.8 27-15 5-2.6 5.6-2.7 7.2-3.2 6.4-2.7 5.6-1.9 7.2-2.1 25.5-6.3 5-1 4.3-0.7 10.7-1.1 8.5-0.6 18.5-0.5 14.9-0.2" stroke="#a4ff31"/>
<path d="M136.5 987l9.5-1.2 7.5-1.4 3.5-0.8 6-2.1 4.4-1.9 3.6-1.8 27-15 9.9-4.9 7.9-3.5 6.4-2.6 5.7-1.9 7.1-2.1 25.6-6.2 4.9-1 4.3-0.7 10-1 8.5-0.6 18.5-0.6 14.9-0.2" stroke="#a2ff37"/>
<path d="M136.5 987l9.5-1.2 7.5-1.2 3.5-0.9 6-2 4.4-1.9 3.6-1.8 27-14.9 10.7-5.2 7.1-3.2 6.4-2.6 6.4-2.1 7.1-2.1 24.9-6 4.9-1.1 4.3-0.6 10-1 8.5-0.6 18.5-0.6 14.9-0.2" stroke="#a0ff3d"/>
<path d="M136.5 987l9.5-1.1 8-1.3 3.5-0.9 5.5-1.9 4.4-1.8 3.6-1.8 27.7-15.2 10.7-5.2 7.1-3.1 6.4-2.5 5.7-1.9 7.1-2 24.9-6.2 4.9-1 5-0.7 10-1 7.8-0.6 18.5-0.5 14.9-0.2" stroke="#9dff44"/>
<path d="M137 987l10-1.2 8-1.3 3.5-0.9 5-1.8 3.9-1.6 3.6-1.7 27.7-15.2 10.7-5.2 7.1-3.1 6.4-2.5 6.4-2.1 7.1-2 24.9-6.1 5.7-1.1 4.9-0.6 9.3-1 7.8-0.5 17.8-0.6 14.9-0.2" stroke="#9bff4a"/>
<path d="M137 987l10.5-1.2 8-1.3 3.5-0.9 4.5-1.6 3.9-1.6 4.3-2.1 27-14.7 11.4-5.5 7.1-3.1 6.4-2.5 6.4-2 7.1-2 24.2-5.9 5.7-1.1 5.6-0.7 8.6-0.9 7.8-0.5 17.8-0.6 14.9-0.2" stroke="#99ff50"/>
<path d="M137 987l10.5-1.1 8.5-1.3 4-1.2 4-1.4 4.1-1.7 3.6-1.8 27.7-14.9 11.4-5.5 7.1-3.1 5.7-2.1 6.4-2.1 7.8-2.2 24.2-5.9 5.7-1 6.4-0.8 7.8-0.8 7.1-0.5 17.8-0.5 14.9-0.2" stroke="#97ff56"/>
<path d="M137 987l10.5-1.1 8.5-1.2 4-1.2 4-1.3 4.1-1.7 3.6-1.7 27.7-14.9 12.1-5.8 7.1-3 5.7-2.2 6.4-2 7.8-2.2 23.5-5.6 5.7-1.1 7.1-0.9 7.8-0.8 7.1-0.4 17.8-0.6 14.2-0.2" stroke="#95ff5d"/>
<path d="M137.5 987l10.5-1 8-1.2 4-1.1 4-1.4 4.1-1.6 3.6-1.7 13.5-7.1 14.9-8.1 12.1-5.7 7.1-3 5.7-2.1 6.4-2 7.8-2.1 23.5-5.7 5-0.9 7.8-1 7.8-0.7 6.4-0.4 17.8-0.6 14.2-0.2" stroke="#93ff63"/>
<path d="M137.5 987l10.5-1 8-1.1 4.5-1.2 4-1.4 3.6-1.4 4.3-2.1 13.5-7 14.2-7.7 12.1-5.7 7.1-3 5.7-2.1 7.1-2.2 7.8-2.1 22.8-5.5 5.7-1 7.8-0.9 7.1-0.8 6.4-0.4 17.8-0.5 14.2-0.2" stroke="#91ff69"/>
<path d="M138 987l10-0.9 8-1 4.5-1.3 4-1.3 3.6-1.4 4.3-2 13.5-7 14.2-7.7 12.1-5.7 7.1-3 5.7-2.1 7.1-2.2 7.8-2.1 22.8-5.5 5.7-1 8.5-1 7.1-0.7 5.7-0.4 17.8-0.5 14.2-0.2" stroke="#8fff6f"/>
<path d="M138 987l10-0.9 8-0.9 4.5-1.2 4.5-1.5 3.8-1.6 3.6-1.6 13.5-7 14.2-7.6 12.8-6 6.4-2.6 6.4-2.4 7.1-2.2 7.9-2.1 16.3-4 6.4-1.4 5-0.9 9.2-1.1 7.1-0.7 5.7-0.3 17.1-0.6 14.2-0.1" stroke="#8dff76"/>
<path d="M138 987l10-0.8 8-0.9 4.5-1.2 4.5-1.5 3.8-1.5 4.3-2 12.8-6.5 14.9-8 12.8-5.9 6.4-2.6 5.7-2.1 7.1-2.2 8.6-2.3 15.6-3.8 6.4-1.4 5-0.8 9.9-1.3 6.4-0.6 6.4-0.3 16.4-0.6 14.2-0.2" stroke="#8bff7c"/>
<path d="M138.5 987l9.5-0.7 8-0.9 5-1.3 4.5-1.5 3.3-1.3 4.3-2 12.8-6.4 14.9-8 12.8-5.9 6.4-2.6 5.7-2 7.8-2.4 8.6-2.3 14.9-3.7 6.4-1.4 5-0.8 9.9-1.3 6.4-0.6 6.4-0.4 16.4-0.5 14.2-0.2" stroke="#89ff82"/>
<path d="M139 987l9.5-0.7 7.5-0.8 5-1.3 5-1.6 3.6-1.4 3.5-1.6 12.8-6.5 14.9-7.9 12.8-5.9 6.4-2.6 6.4-2.2 7.9-2.4 8.5-2.3 14.2-3.4 6.4-1.4 5.7-1 9.9-1.2 7.2-0.7 7.1-0.3 15.6-0.5 12.8-0.2" stroke="#87ff88"/>
<path d="M139 987l9.5-0.7 7.5-0.7 5-1.2 5-1.6 3.6-1.4 4.2-2 12.1-6 14.9-7.9 13.5-6.1 6.4-2.6 6.4-2.2 7.9-2.4 8.5-2.3 13.5-3.2 7.1-1.6 5-0.8 10.7-1.3 7.1-0.7 7.8-0.3 14.2-0.4 12.8-0.2" stroke="#84ff8f"/>
<path d="M139.5 987l9-0.6 7.5-0.7 5.5-1.3 5.2-1.7 4.3-1.8 5-2.3 9.9-5 16.4-8.5 12-5.4 6.4-2.6 6.4-2.2 7.9-2.4 9.2-2.4 12.8-3.1 7.1-1.5 5-0.9 11.4-1.4 7.1-0.6 8.5-0.4 13.5-0.4 12.1-0.1" stroke="#82ff95"/>
<path d="M139.5 987l9-0.5 7.5-0.7 5-1.2 5.7-1.8 5.7-2.3 11.4-5.6 18.5-9.5 12.8-5.7 6.4-2.5 6.4-2.2 7.8-2.4 9.2-2.4 12.1-2.9 7.1-1.5 5-0.8 11.4-1.5 7.1-0.6 8.5-0.4 13.5-0.4 12.1-0.1" stroke="#80ff9c"/>
<path d="M140 987l16-1.1 5-1.1 5.7-1.8 5.7-2.3 11.4-5.5 18.5-9.5 12.8-5.7 7.1-2.8 6.4-2.1 7.8-2.3 9.2-2.4 12.1-2.9 7.1-1.5 5-0.8 11.4-1.4 7.1-0.6 9.2-0.4 12.8-0.4 11.4-0.1" stroke="#7effa4"/>
<path d="M140.5 987l15.5-1 5-1.1 5.7-1.8 3.6-1.3 4.2-1.9 11.4-5.5 15.6-8.1 13.6-6 7.1-2.7 6.4-2.2 7.8-2.3 9.2-2.4 12.1-2.9 7.1-1.5 5.7-0.9 10.7-1.3 7.1-0.6 9.2-0.4 12.8-0.4 11.4-0.1" stroke="#7cffac"/>
<path d="M141 987l15-0.9 5-1.1 5.7-1.7 3.6-1.3 4.2-1.9 11.4-5.5 15.6-8 14.3-6.2 7.1-2.8 6.4-2.1 7.8-2.3 9.2-2.4 11.4-2.7 7.1-1.4 7.8-1.2 9.3-1.2 6.4-0.5 10.6-0.5 12.1-0.3 10.7-0.1" stroke="#7affb4"/>
<path d="M141.5 987l14.5-0.8 5.5-1.2 5.9-1.8 5.7-2.3 10.7-5 19.2-9.7 12.8-5.5 7.1-2.7 6.4-2.2 8.5-2.4 8.5-2.2 11.4-2.7 7.1-1.5 7.8-1.2 9.3-1.2 6.4-0.5 10.6-0.4 12.1-0.4 10.7-0.1" stroke="#78ffbc"/>
<path d="M142 987l14-0.7 5.5-1.2 5.9-1.8 5.7-2.2 10.7-5 19.2-9.6 12.8-5.5 7.1-2.7 7.1-2.3 8.5-2.5 8.5-2.2 10.7-2.5 7.1-1.5 9.3-1.4 8.5-1 6.4-0.5 10.7-0.5 11.3-0.3 10.7-0.1" stroke="#76ffc4"/>
<path d="M143 987l13-0.6 5.5-1.2 5.9-1.7 3.6-1.3 5-2.2 9.9-4.7 16.4-8.2 13.5-5.8 7.1-2.7 7.1-2.3 8.5-2.5 8.5-2.2 10.7-2.5 7.1-1.4 9.3-1.4 8.5-1.1 6.4-0.5 10.7-0.5 11.3-0.3 10.7-0.1" stroke="#74ffcc"/>
<path d="M143.5 987l12.5-0.6 6-1.2 6.1-1.8 5.7-2.3 10.7-4.8 18.5-9.2 12.8-5.5 7.1-2.6 7.1-2.4 8.5-2.5 8.5-2.1 10.7-2.5 7.1-1.5 9.3-1.4 8.5-1.1 6.4-0.5 10.7-0.4 11.3-0.4 10.7-0.1" stroke="#72ffd4"/>
<path d="M144.5 987l11.5-0.5 6-1.2 6.1-1.8 3.6-1.3 5-2.2 9.2-4.2 16.4-8.1 13.5-5.7 7.1-2.7 7.1-2.3 8.5-2.5 8.5-2.2 10.7-2.5 7.1-1.4 9.3-1.5 8.5-1 6.4-0.6 10.7-0.4 11.3-0.4 10.7-0.1" stroke="#70ffdc"/>
<path d="M145.5 987l10.5-0.4 6-1.2 6.1-1.7 5.7-2.2 9.3-4.1 19.2-9.4 14.2-6 7.1-2.6 7.1-2.3 7.8-2.3 8.5-2.2 10.7-2.5 7.1-1.4 10.7-1.6 7.8-1 5.7-0.5 12.1-0.5 20.6-0.3" stroke="#6effe4"/>
<path d="M146.5 987l10-0.4 6-1.2 6.3-1.8 5-2 10.7-4.7 18.5-8.9 13.5-5.7 7.1-2.6 7.1-2.3 7.8-2.3 8.5-2.1 10.7-2.5 7.1-1.4 10.7-1.7 7.8-1 5.7-0.4 12.1-0.5 20.6-0.4" stroke="#6bffe8"/>
<path d="M148 987l8-0.3 1-0.1 6-1.3 5.8-1.6 5-1.9 10-4.3 18.5-8.9 14.2-6 7.1-2.6 7.1-2.2 7.8-2.3 8.5-2.2 10-2.3 7.8-1.6 10.7-1.6 7.8-1 5.7-0.5 12.1-0.5 20.6-0.4" stroke="#68feeb"/>
<path d="M149 987l7-0.2 1.5-0.3 6-1.2 6.1-1.7 4.9-1.9 10-4.3 18.5-8.9 13.5-5.5 7.1-2.6 7.1-2.3 8.5-2.5 7.8-2 10-2.3 7.8-1.5 10.7-1.7 7.8-1 5.7-0.5 12.1-0.5 20.6-0.4" stroke="#65fdee"/>
<path d="M151 987l5-0.2 2.5-0.4 6-1.3 5.1-1.4 4.9-1.9 9.3-3.9 18.5-8.8 14.2-5.8 7.1-2.6 7.1-2.3 8.5-2.4 7.8-2 10-2.3 7.8-1.6 10.7-1.6 7.8-1.1 5.7-0.4 12.1-0.6 20.6-0.4" stroke="#62fdf0"/>
<path d="M152.5 987l3.5-0.1 4-0.7 6-1.3 4.3-1.3 4.9-1.9 8.6-3.6 18.5-8.7 14.2-5.8 7.1-2.6 7.1-2.2 8.5-2.5 7.8-2 10-2.3 7.8-1.5 11.4-1.8 7.8-1 5.7-0.5 12.1-0.5 19.9-0.3" stroke="#5efcf3"/>
<path d="M154.5 987l2.5-0.2 5-0.9 4.7-1.1 4.3-1.3 13.5-5.5 17.8-8.3 14.2-5.8 7.1-2.5 7.1-2.3 7.8-2.2 7.8-2.1 10.7-2.4 7.8-1.6 11.4-1.8 7.1-0.9 5.7-0.5 12.1-0.5 10.6-0.3 10-0.1" stroke="#5bfcf6"/>
<path d="M156 987l4-0.6 4.5-1 3.6-0.9 3.6-1.2 13.5-5.4 17.8-8.2 13.5-5.4 7.1-2.6 7.1-2.2 7.8-2.3 7.8-2 10.7-2.5 7.8-1.5 11.4-1.8 7.8-1 5.7-0.5 12.1-0.5 19.9-0.4" stroke="#58fbf8"/>
<path d="M156.5 987l4-0.7 4.5-0.9 3.1-0.8 3.6-1.1 12.8-5.1 17.8-8.1 14.2-5.7 7.1-2.5 7.8-2.5 7.8-2.3 7.8-2 10-2.2 7.8-1.6 12.1-1.9 7.1-0.9 5.7-0.4 12.1-0.6 19.9-0.4" stroke="#55fbfb"/>
<path d="M156.5 987l4-0.6 4.5-0.9 3.1-0.8 3.6-1.1 12.8-5 17.8-8 14.9-5.9 7.1-2.5 7.8-2.5 7.8-2.2 7.1-1.8 10-2.2 7.8-1.6 12.1-1.9 7.1-0.9 5.7-0.5 12.1-0.5 19.9-0.4" stroke="#51fafe"/>
<path d="M157 987l4-0.7 5-1 6.4-1.9 12.1-4.6 17.8-8 14.9-5.8 7.1-2.5 7.8-2.4 7.8-2.2 7.1-1.8 10-2.3 7.8-1.5 12.1-1.9 7.1-1 5.7-0.5 12.1-0.5 19.9-0.4" stroke="#4ff0ff"/>
<path d="M157 987l4-0.6 5-1 6.4-1.8 12.1-4.6 17.8-7.9 14.9-5.8 7.1-2.4 7.8-2.5 7.8-2.2 7.9-2 9.2-2 7.8-1.6 12.8-2 7.1-0.9 5-0.4 13.5-0.6 18.5-0.4" stroke="#4ddfff"/>
<path d="M157.5 987l8.5-1.5 6.4-1.8 12.1-4.5 18.5-8.1 14.9-5.7 7.1-2.4 7.8-2.4 7.9-2.2 7.1-1.8 9.2-2.1 7.8-1.5 12.8-2 7.1-1 5-0.4 13.5-0.6 18.5-0.3" stroke="#4bcfff"/>
<path d="M157.5 987l4.5-0.7 4.7-0.9 6.4-1.9 12.1-4.4 17.8-7.7 14.9-5.7 7.1-2.4 8.5-2.6 7.9-2.2 7.1-1.7 9.2-2 7.8-1.5 12.1-2 7.1-0.9 5-0.4 13.5-0.6 18.5-0.4" stroke="#48beff"/>
<path d="M158 987l8.7-1.6 6.4-1.7 12.1-4.4 17.8-7.6 15.6-5.9 7.1-2.4 8.6-2.5 7.8-2.2 7.1-1.7 8.5-1.9 7.8-1.5 12.1-1.9 7.1-0.9 5-0.5 13.5-0.6 18.5-0.3" stroke="#46adff"/>
<path d="M158 987l8.7-1.5 6.4-1.7 12.1-4.3 17.8-7.5 16.3-6.1 7.1-2.3 9.3-2.8 7.1-1.9 7.1-1.7 8.5-1.9 7.8-1.4 12.1-1.9 7.1-1 4.3-0.3 14.2-0.7 17.8-0.3" stroke="#43a3ff"/>
<path d="M158 987l8.7-1.4 7.1-2 11.4-4 17.8-7.4 16.3-6 7.1-2.3 9.3-2.7 7.1-2 7.1-1.7 8.5-1.8 7.8-1.4 12.1-2 7.1-0.9 4.3-0.3 14.2-0.7 17.8-0.3" stroke="#409bff"/>
<path d="M158 987l8.7-1.4 7.1-1.9 11.4-3.9 17.8-7.3 17-6.2 7.1-2.3 9.3-2.7 7.1-1.9 7.1-1.6 15.6-3.2 12.1-1.9 7.1-0.9 4.3-0.4 14.2-0.7 17.8-0.3" stroke="#3d93ff"/>
<path d="M158 987l4.5-0.6 4.9-0.9 7.1-1.9 11.4-3.9 17.1-6.9 17.7-6.4 16.4-4.9 7.1-1.9 7.1-1.6 14.9-3 12.8-2.1 6.4-0.8 4.3-0.3 14.2-0.7 17.8-0.4" stroke="#398aff"/>
<path d="M158.5 987l8.9-1.4 7.1-1.9 11.4-3.8 17.1-6.8 18.5-6.6 16.3-4.9 7.1-1.8 7.1-1.6 15-3 12-1.9 7.2-0.9 18.4-1 17.1-0.3" stroke="#3682ff"/>
<path d="M158.5 987l8.9-1.4 3.6-0.8 4.2-1.2 10.7-3.5 17.1-6.7 19.2-6.8 16.3-4.8 13.5-3.3 15-2.9 12-2 7.2-0.9 18.4-1 17.1-0.3" stroke="#337aff"/>
<path d="M158.5 987l5-0.7 4.6-0.8 7.9-2 10.6-3.5 16.4-6.3 19.9-7 16.3-4.8 13.5-3.2 14.3-2.8 12-2 7.2-0.9 18.4-1 17.1-0.3" stroke="#3175ff"/>
<path d="M158.5 987l9.6-1.4 4.3-1 4.3-1.2 9.9-3.2 15.7-5.9 21.3-7.5 15.6-4.6 6.4-1.6 7.8-1.8 14.3-2.7 12.1-2 6.4-0.8 18.4-1 17.1-0.4" stroke="#3071fe"/>
<path d="M158.5 987l9.6-1.4 4.3-0.9 5-1.4 9.9-3.1 15-5.6 22-7.7 15.6-4.6 14.3-3.3 13.5-2.6 12.1-2 6.4-0.8 18.4-1.1 17.1-0.3" stroke="#2f6dfe"/>
<path d="M159 987l5-0.7 4.8-0.8 4.3-0.9 5.7-1.6 9.2-2.9 29.2-10.5 7.8-2.6 15.7-4.6 13.5-3.2 13.5-2.5 12.1-2 6.4-0.9 18.4-1 17.1-0.4" stroke="#2e69fd"/>
<path d="M159 987l6.5-0.8 4.8-0.9 4.9-1.2 7.9-2.2 6.4-2 12-4.4 6.4-2.1 10.7-4 6.4-2.2 15.7-4.5 14.2-3.3 13.5-2.6 11.4-1.9 6.4-0.8 18.4-1.1 17.1-0.3" stroke="#2d65fd"/>
<path d="M159 987l6.5-0.8 4.8-0.8 4.9-1.2 7.9-2.1 5.7-1.8 12.7-4.5 6.4-2.1 10.7-4 7.1-2.4 15.7-4.5 14.2-3.3 9.2-1.8 11.4-2 10.7-1.4 18.4-1.1 16.4-0.3" stroke="#2c61fc"/>
<path d="M159 987l6.5-0.8 4.8-0.8 5.7-1.3 7.8-2 5.7-1.8 12-4.2 6.4-2 11.4-4.3 7.8-2.7 15-4.2 14.2-3.3 8.5-1.7 12.1-2 10-1.4 18.4-1 16.4-0.4" stroke="#2b5dfc"/>
<path d="M159 987l6.5-0.7 4.8-0.8 5.7-1.2 8.5-2.3 23.4-7.5 11.4-4.4 8.6-2.9 14.2-4.1 14.2-3.3 8.5-1.6 12.1-2.1 10-1.4 18.4-1 16.4-0.4" stroke="#2a59fb"/>
<path d="M159.5 987l7.2-0.8 4.3-0.8 5.7-1.2 8.5-2.2 22.7-7.1 12.1-4.8 8.6-2.9 14.2-4 14.2-3.3 7.8-1.5 12.1-2.1 10-1.4 18.4-1 16.4-0.4" stroke="#2955fb"/>
<path d="M159.5 987l6.5-0.7 5-0.8 6.4-1.4 8.5-2.1 22-6.7 12.1-4.9 10-3.3 13.5-3.8 14.2-3.3 19.9-3.6 9.3-1.2 18.4-1.1 16.4-0.4" stroke="#2851fa"/>
<path d="M159.5 987l7.2-0.8 5-0.7 6.4-1.4 8.5-2.1 21.3-6.3 12.8-5.3 10-3.3 13.5-3.8 14.2-3.2 19.2-3.4 9.3-1.3 18.4-1.1 16.4-0.4" stroke="#284ffa"/>
<path d="M159.5 987l7.2-0.7 5-0.8 7.1-1.4 8.5-2.1 20.6-5.9 12.8-5.4 4.3-1.5 6.4-2 13.5-3.8 14.2-3.2 19.2-3.4 9.3-1.3 18.5-1 15.6-0.4" stroke="#274dfa"/>
<path d="M160 987l6.7-0.7 5.7-0.8 10.7-2.3 5.7-1.4 19.1-5.3 5.7-2.6 7.1-2.9 4.3-1.6 6.4-2 13.5-3.7 14.2-3.2 19.2-3.5 9.3-1.3 18.5-1 15.6-0.4" stroke="#274cf9"/>
<path d="M160 987l6.7-0.6 5.7-0.9 10.7-2.1 6.4-1.5 18.4-5 5.7-2.6 7.1-3 5-1.8 6.4-2.1 13.5-3.7 14.2-3.1 18.5-3.4 9.3-1.3 18.5-1 15.6-0.4" stroke="#264af9"/>
<path d="M160 987l9.6-0.9 10.6-2 8.6-1.8 19.1-5 5.7-2.7 6.4-2.8 4.3-1.6 4.3-1.4 7.8-2.4 7.8-2.1 7.8-1.8 8.6-1.9 18.4-3.3 8.6-1.2 18.5-1 15.6-0.4" stroke="#2649f9"/>
<path d="M160.5 987l9.8-1 12.1-2.1 7.1-1.6 18.4-4.6 5.7-2.8 6.4-2.8 4.3-1.6 4.3-1.4 7.8-2.4 7.8-2.1 8.5-2.1 8.6-1.8 17.7-3.2 8.6-1.1 18.5-1.1 15.6-0.4" stroke="#2547f9"/>
<path d="M160.5 987l9.8-0.9 12.1-2.1 7.1-1.5 18.4-4.4 5.7-2.8 6.4-2.9 4.3-1.7 4.3-1.4 7.8-2.4 8.5-2.3 8.5-2 8.6-1.8 17-3 8.6-1.2 18.5-1.1 15.6-0.4" stroke="#2546f8"/>
<path d="M161 987l10-1 12.1-2 6.4-1.3 18.4-4.2 5.7-2.9 6.4-2.9 4.3-1.7 4.3-1.4 7.8-2.4 7.8-2.1 8.5-2.1 9.3-1.9 17-3.1 8.6-1.2 18.5-1.1 15.6-0.4" stroke="#2444f8"/>
<path d="M161 987l10-0.9 12.1-1.9 6.4-1.3 18.4-4 5.7-2.9 6.4-3 4.3-1.7 4.3-1.5 7.8-2.3 8.5-2.3 8.5-2.1 9.3-1.9 17.1-3.1 7.8-1 18.5-1.2 15.6-0.4" stroke="#2443f8"/>
<path d="M161.5 987l9.5-0.8 12.1-1.9 6.4-1.1 18.4-3.9 5.7-3 6.4-3 4.3-1.7 4.3-1.5 7.8-2.4 8.5-2.3 9.3-2.1 9.2-2 16.4-2.9 7.8-1.1 18.5-1.2 15.6-0.4" stroke="#2341f8"/>
<path d="M161.5 987l9.5-0.8 12.1-1.7 6.4-1.1 18.4-3.7 5.7-3 6.4-3.1 4.3-1.7 4.3-1.5 7.8-2.4 8.5-2.3 10-2.3 9.2-1.9 16.4-3 7.8-1 17.8-1.1 15.6-0.4" stroke="#2340f7"/>
<path d="M162 987l9.7-0.8 11.4-1.6 6.4-1 18.4-3.6 5.7-3 6.4-3.1 4.3-1.8 4.3-1.4 7.8-2.4 8.5-2.3 10-2.3 9.2-2 16.4-2.9 7.8-1 17.8-1.2 15.6-0.4" stroke="#223ef7"/>
<path d="M162 987l9.7-0.8 11.4-1.4 6.4-1 18.4-3.4 5.7-3.1 6.4-3.1 4.3-1.8 4.3-1.4 8.5-2.6 8.5-2.3 10-2.3 9.2-1.9 15.7-2.8 7.8-1.1 17.8-1.1 15.6-0.4" stroke="#223df7"/>
<path d="M162.5 987l9.2-0.7 11.4-1.4 24.8-4.1 5.7-3.1 6.4-3.2 4.3-1.8 4.3-1.4 8.5-2.6 8.5-2.3 10-2.3 9.9-2 15-2.7 7.8-1.1 17.8-1.1 15.6-0.4" stroke="#213bf7"/>
<path d="M163 987l9.4-0.7 11.4-1.3 24.1-3.8 5.7-3.2 6.4-3.2 4.3-1.8 4.3-1.4 7.8-2.4 9.2-2.5 10.7-2.4 9.9-2 14.3-2.6 7.8-1.1 17.8-1.1 15.6-0.5" stroke="#213af6"/>
<path d="M163 987l9.4-0.6 11.4-1.3 24.1-3.5 5.7-3.2 6.4-3.2 4.3-1.9 4.3-1.4 7.8-2.4 9.2-2.4 10.7-2.5 9.9-2 14.3-2.6 7.8-1 17.8-1.2 15.6-0.4" stroke="#2038f6"/>
<path d="M163.5 987l8.9-0.6 11.4-1.1 24.1-3.4 5.7-3.2 6.4-3.2 4.3-1.8 4.3-1.5 8.5-2.6 9.2-2.4 10.7-2.4 10-2 13.5-2.4 7.8-1.1 17.8-1.1 15.6-0.5" stroke="#2037f6"/>
<path d="M164 987l8.4-0.5 11.4-1.1 24.1-3.1 5.7-3.2 6.4-3.3 4.3-1.8 4.3-1.5 8.5-2.5 9.2-2.4 10.7-2.4 10.7-2.1 13.5-2.5 7.1-0.9 17.8-1.2 15.6-0.5" stroke="#1f35f6"/>
<path d="M164.5 987l8.6-0.5 10.7-1 24.1-2.9 5.7-3.2 7.1-3.6 4.3-1.7 5.7-1.9 10-2.8 11.3-2.7 10.7-2.3 13.5-2.5 7.8-1.3 6.4-0.7 17.1-1.1 14.2-0.4" stroke="#1f34f5"/>
<path d="M165 987l8.1-0.5 11.4-0.9 23.4-2.6 5.7-3.3 7.1-3.5 4.3-1.8 5.7-1.8 10-2.8 11.3-2.7 10.7-2.3 14.2-2.6 7.8-1.3 7.1-0.7 16.4-1 13.5-0.4" stroke="#1e32f5"/>
<path d="M165.5 987l8.3-0.5 10.7-0.8 23.4-2.4 5.7-3.2 7.1-3.6 4.3-1.7 5.7-1.9 10.7-2.9 11.3-2.7 10.7-2.2 14.2-2.6 8.6-1.3 7.1-0.7 14.9-0.9 13.5-0.4" stroke="#1e31f5"/>
<path d="M166 987l7.8-0.4 10.7-0.7 23.4-2.3 5.7-3.2 7.1-3.5 4.3-1.8 5.7-1.8 10-2.7 12-2.8 10.7-2.2 14.9-2.8 7.9-1.1 8.5-0.8 14.2-0.9 12.8-0.3" stroke="#1d2ff4"/>
<path d="M166.7 987l18.5-1.1 22.7-2 5.7-3.1 7.1-3.6 4.3-1.7 5.7-1.8 10-2.7 12-2.8 10.7-2.2 14.9-2.7 7.9-1.2 8.5-0.7 14.2-0.9 12.8-0.4" stroke="#1d2ef4"/>
<path d="M167.4 987l17.8-1 22.7-1.8 5-2.7 5.7-2.9 3.6-1.6 3.5-1.3 5.7-1.8 7.8-2 17.8-4.1 21.3-3.9 9.3-1.4 18.5-1.3 15.6-0.6" stroke="#1c2df3"/>
<path d="M168.8 987l17.1-0.9 22-1.6 5-2.7 6.4-3.2 3.6-1.5 2.8-1 5.7-1.7 7.8-2.1 17.8-3.9 21.3-4 9.3-1.3 18.5-1.4 15.6-0.6" stroke="#1c2bf3"/>
<path d="M169.6 987l16.3-0.8 22-1.4 5-2.7 6.4-3.1 3.6-1.5 2.8-1 5.7-1.7 7.1-1.8 18.5-4.1 21.3-3.9 9.3-1.4 18.5-1.3 15.6-0.6" stroke="#1b2af2"/>
<path d="M170.3 987l15.6-0.7 22-1.2 5-2.7 6.4-3 3.6-1.5 2.8-1 5.7-1.6 7.1-1.8 18.5-4 21.3-3.9 9.3-1.3 18.5-1.4 15.6-0.6" stroke="#1b29f2"/>
<path d="M171.7 987l14.9-0.6 21.3-1.1 5-2.5 6.4-3 3.6-1.5 2.8-0.9 5.7-1.6 7.1-1.8 19.2-4 21.3-3.9 8.6-1.2 18.5-1.4 15.6-0.6" stroke="#1b28f2"/>
<path d="M173.1 987l34.8-1.4 5-2.5 6.4-2.9 6.4-2.4 5.7-1.5 7.1-1.7 19.9-4.1 20.6-3.7 8.6-1.2 18.5-1.4 15.6-0.6" stroke="#1a26f1"/>
<path d="M174.5 987l33.4-1.2 5-2.4 6.4-2.8 6.4-2.3 5.7-1.5 7.1-1.6 19.9-4.1 20.6-3.6 8.6-1.2 18.5-1.4 15.6-0.6" stroke="#1a25f1"/>
<path d="M176 987l31.9-1 5-2.3 6.4-2.7 6.4-2.2 12.8-3 20.6-4.1 20.7-3.5 7.8-1.1 18.5-1.5 15.6-0.6" stroke="#1924f0"/>
<path d="M178.1 987l29.8-0.8 11.4-4.7 6.4-2.1 12.8-3 22.1-4.2 19.9-3.4 7.8-1 18.5-1.4 14.9-0.6" stroke="#1922f0"/>
<path d="M180.9 987l27-0.6 12.1-4.7 6.4-2 12.8-2.7 22.8-4.2 18.5-3.1 7.8-1.1 18.5-1.4 14.9-0.6" stroke="#1821ef"/>
<path d="M185.2 987l22.7-0.4 12.1-4.5 6.4-1.8 12.8-2.6 24.2-4.4 17.8-2.8 7.1-1 18.5-1.4 14.9-0.6" stroke="#1820ef"/>
<path d="M189.5 987l18.4-0.3 13.6-4.5 7.8-1.9 9.9-1.9 18.5-3.2 25.6-4.1 6.4-0.8 12.8-1 10-0.6 9.2-0.3" stroke="#171eee"/>
<path d="M195.9 987l12-0.2 13.6-4.1 7.1-1.6 29.1-5 25.6-4.1 6.4-0.7 12.8-1.1 10-0.6 9.2-0.3" stroke="#171dee"/>
<path d="M205.8 987l2.1-0.1 14.3-3.8 7.1-1.5 53.3-8.5 6.4-0.7 13.5-1.2 10-0.6 9.2-0.3" stroke="#171cee"/>
<path d="M207.9 987l14.3-3.4 5.7-1.1 55.4-8.4 6.4-0.7 13.5-1.2 10-0.6 8.5-0.3" stroke="#161bed"/>
<path d="M208.7 987l18.4-3.6 57.6-8.4 5.7-0.6 14.2-1.1 17.1-0.9" stroke="#1619ed"/>
<path d="M209.4 987l17-2.8 25.6-3.4 34.2-4.8 19.1-1.6 16.4-0.8" stroke="#1518ec"/>
<path d="M210.1 987l17-2.2 24.9-2.9 35.6-4.8 19.2-1.6 14.9-0.8" stroke="#1517ec"/>
<path d="M212.9 987l5.7-0.5 31.3-3.2 39.1-5.1 18.5-1.5 14.2-0.7" stroke="#1415eb"/>
</g>
<path class="k" d="M123 987.2l3 0 2-0.7 1.5-0.7 1.5-0.9 1.5-1.1 1.5-1.4 1.5-1.6 1.5-1.9 2-2.9 7.5-12.2 12.5-19.2 4-5.5 4.4-5.2 2.2-2.1 2.1-1.9 2.1-1.7 2.2-1.5 4.2-2.5 5-2.1 4.3-1.4 4.9-1.3 6.4-1.3 5.7-0.9 10-1.2 25.6-2 14.9-0.8 24.9-0.7 14.9-0.3 24.9-0.1"/>
</g>
<rect class="f" x="80.8" y="581.9" width="240.4" height="405.3"/>
<text class="a" x="74.5" y="591.1" text-anchor="end">0.7</text>
<text class="a" x="74.2" y="996.8" text-anchor="end">0</text>
<text class="a" x="80.4" y="1017.2" text-anchor="middle">0</text>
<text class="a" x="321.5" y="1017.2" text-anchor="middle">1</text>
<text class="i" x="199.6" y="1049.8" text-anchor="middle">ξ</text>
<text class="e" transform="translate(25.3 787.7) rotate(-90)" text-anchor="middle">η</text>
<text class="a" x="97.4" y="632.2">t</text>
<rect x="110.2" y="621.6" width="7.4" height="2"/><rect x="110.2" y="626.6" width="7.4" height="2"/>
<text class="a" x="119.4" y="632.2">3.00</text>
<clipPath id="c5"><rect x="398.3" y="581.9" width="240.4" height="405.3"/></clipPath>
<g clip-path="url(#c5)">
<g class="l">
<path d="M398.3 841.9l9.5 0.1 8.5 0.5 8 0.8 7.6 1.2 7 1.6 6.5 2 6 2.4 5.5 2.7 5.5 3.4 5 3.7 5 4.4 4.5 4.7 4.5 5.6 4 5.6 4.1 6.5 4 7.5" stroke="#7f0000" stroke-width="1"/>
<path d="M398.3 862.8l9 0.1 8 0.4 7.5 0.8 7.1 1.1 6 1.3 6 1.7 5.5 2.1 5.5 2.6 5 2.9 4.5 3.2 4.5 3.8 4.5 4.5 4 4.7 4 5.5 3.5 5.5 3.5 6.2" stroke="#860000" stroke-width="1"/>
<path d="M398.3 876.6l8.5 0.1 7.5 0.4 7 0.7 6.5 1.1 6.1 1.3 5.5 1.7 5 2 5 2.4 4.5 2.8 4.5 3.2 4.5 4 4 4.2 4 4.9 3.5 4.9 3.5 5.7 3 5.6" stroke="#8c0000" stroke-width="1"/>
<path d="M398.3 887.7l8 0.1 7 0.4 7 0.7 6 0.9 5.6 1.2 5.5 1.6 5 1.9 5 2.4 4.5 2.7 4 2.9 4 3.4 4 4.1 3.5 4.2 3.5 4.8 3.5 5.5 3 5.4" stroke="#940000" stroke-width="1"/>
<path d="M398.3 895.7l8 0.1 7 0.3 6.5 0.6 6 0.8 5.6 1.1 5.5 1.5 5 1.7 4.5 2 4.5 2.4 4 2.6 4 3.1 3.5 3.2 3.5 3.7 3.5 4.3 3.5 4.9 3 4.9" stroke="#9a0000" stroke-width="1"/>
<path d="M398.3 903.4l7.5 0.1 7 0.3 6.5 0.5 6 0.7 5.6 1 5 1.2 5 1.6 4.5 1.7 4.5 2.2 4 2.4 4 2.8 3.5 2.9 3.5 3.3 3.5 4 3 3.8 3 4.4" stroke="#a10000" stroke-width="1"/>
<path d="M398.3 909.3l7.5 0.1 7 0.2 6 0.5 6 0.7 5.6 0.9 5 1.1 4.5 1.3 4.5 1.6 4 1.8 4 2.1 4 2.6 3.5 2.6 3.5 3.1 3.5 3.6 3 3.5 3 4" stroke="#a70000" stroke-width="1"/>
<path d="M398.3 914.8l14 0.3 6 0.4 6 0.6 5.6 0.9 5 1 4.5 1.2 4.5 1.5 4 1.6 4 2 4 2.4 3.5 2.4 3.5 2.9 3 2.9 3 3.3 3 3.7" stroke="#ae0000" stroke-width="1"/>
<path d="M398.3 919.8l14 0.3 6 0.4 5.5 0.5 5.1 0.7 5 0.9 4.5 1.1 4.5 1.4 4 1.5 4 1.8 3.5 1.9 3.5 2.2 3.5 2.6 3 2.6 3 3 3 3.4" stroke="#b50000" stroke-width="1"/>
<path d="M398.3 924.5l14 0.3 11.5 0.8 5.1 0.7 5 0.8 4.5 1 4 1.1 4 1.4 4 1.6 3.5 1.8 3.5 2 3.5 2.4 3 2.4 3 2.7 2.5 2.6" stroke="#bc0000" stroke-width="1"/>
<path d="M398.3 928.3l13.5 0.2 11 0.8 5 0.6 5.1 0.8 4.5 0.9 4 1 4 1.3 4 1.6 3.5 1.6 3.5 2 3.5 2.2 3 2.3 3 2.6 2.5 2.5" stroke="#c20000" stroke-width="1"/>
<path d="M398.3 932.1l13.5 0.2 11 0.8 9.6 1.2 4.5 0.9 4 1 4 1.2 3.5 1.3 3.5 1.6 3.5 1.8 3.5 2.2 3 2.1 3 2.5 2.5 2.4" stroke="#c90000" stroke-width="1"/>
<path d="M398.3 935.4l13 0.2 11 0.7 9.6 1.2 4.5 0.8 4 1 4 1.2 3.5 1.2 3.5 1.5 3 1.5 3.5 2 3 2.1 3 2.3 2.5 2.3" stroke="#d00000" stroke-width="1"/>
<path d="M398.3 938.4l13 0.2 11 0.7 9.6 1.1 8 1.7 4 1.1 3.5 1.2 3.5 1.4 3.5 1.7 3 1.7 3 2 3 2.3 2.5 2.1" stroke="#d70000" stroke-width="1"/>
<path d="M398.3 941.1l13 0.2 10.5 0.6 9.6 1.1 8 1.6 4 1 3.5 1.2 3.5 1.4 3 1.3 3 1.6 3 1.9 3 2.2 2.5 2" stroke="#de0000" stroke-width=".95"/>
<path d="M398.3 943.4l13 0.2 10.5 0.6 9.6 1.1 8 1.5 7 2 3.5 1.3 3 1.3 3 1.6 3 1.8 3 2.1 2.5 1.9" stroke="#e40000" stroke-width=".9"/>
<path d="M398.3 945.5l12.5 0.2 10.5 0.5 9.1 1 8 1.4 7 1.9 6.5 2.4 3 1.5 3 1.7 3 1.9 2.5 1.9" stroke="#eb0000" stroke-width=".9"/>
<path d="M398.3 947.4l12.5 0.2 10.5 0.5 9.1 0.9 8 1.4 7 1.9 6.5 2.4 5.5 2.8 3 1.9 2.5 1.8" stroke="#f10000" stroke-width=".9"/>
<path d="M398.3 949.1l12 0.1 10.5 0.5 9.1 0.9 8 1.4 7 1.7 6.5 2.4 5.5 2.7 3 1.8 2.5 1.7" stroke="#f60000" stroke-width=".85"/>
<path d="M398.3 950.6l12 0.1 10.5 0.5 9.1 0.9 7.5 1.2 7 1.7 6.5 2.2 5.5 2.6 3 1.8 2.5 1.7" stroke="#fc0000" stroke-width=".85"/>
<path d="M398.3 952.1l12.5 0.2 10 0.5 9.1 0.9 7.5 1.2 7 1.8 6 2.1 5.5 2.6 3 1.8 2.5 1.7" stroke="#ff0100" stroke-width=".85"/>
<path d="M398.3 953.6l12 0.2 10 0.5 9.1 0.9 7.5 1.3 7 1.8 6 2.2 5.5 2.8 5 3.3" stroke="#ff0200" stroke-width=".85"/>
<path d="M398.3 955l12 0.2 10 0.5 8.6 0.9 7.5 1.3 7 1.9 6 2.4 5.5 2.9 5 3.4" stroke="#ff0300"/>
<path d="M398.3 956.4l11.5 0.1 10 0.5 8.6 1 7.5 1.3 6.5 1.8 6 2.3 5.5 3 5 3.5" stroke="#ff0500"/>
<path d="M398.3 957.7l11.5 0.1 9.5 0.5 8.5 1 7.6 1.3 6.5 1.9 6 2.4 5.5 3 5 3.6" stroke="#ff0800"/>
<path d="M398.3 958.9l11.5 0.2 10 0.5 8.6 1 7 1.4 6.5 1.9 6 2.5 5 2.9 2.5 1.7 2.5 2" stroke="#ff0b00"/>
<path d="M398.3 960.1l11 0.1 9.5 0.6 8.5 0.9 7.1 1.4 6.5 1.8 6 2.5 5 2.8 2.5 1.7 2.5 2" stroke="#ff0f00"/>
<path d="M398.3 961.2l11 0.2 9.5 0.5 8.5 1 7.1 1.4 6.5 1.9 5.5 2.3 5 2.9 2.5 1.7 2.5 2.1" stroke="#ff1200"/>
<path d="M398.3 962.3l11 0.2 9.5 0.5 8 1 7.1 1.3 6.5 2 5.5 2.3 5 2.9 2.5 1.8 2.5 2" stroke="#ff1a00"/>
<path d="M398.3 963.4l11 0.1 9 0.5 8 1 7.1 1.3 6.5 2 5.5 2.3 5 2.9 2.5 1.8 2.5 2" stroke="#ff2b00"/>
<path d="M398.3 964.4l11 0.1 9 0.6 8 0.9 7.1 1.4 6.5 2 5.5 2.4 5 2.9 4.5 3.5" stroke="#ff3d00"/>
<path d="M398.3 965.3l10.5 0.2 9 0.5 7.5 0.8 7.1 1.3 6.5 1.9 5.5 2.4 5 2.8 4.5 3.4" stroke="#ff5000"/>
<path d="M398.3 966.2l10.5 0.2 9 0.5 7.5 0.9 7.1 1.3 6 1.8 5.5 2.3 5 2.8 4.5 3.4" stroke="#ff6300"/>
<path d="M398.3 967.1l10.5 0.2 8.5 0.4 7.5 0.9 7.1 1.3 6 1.7 5.5 2.3 5 2.8 4.5 3.4" stroke="#ff7200"/>
<path d="M398.3 968l10.5 0.1 8.5 0.5 7.5 0.8 7.1 1.4 6 1.7 5 2.1 5 2.8 4.5 3.3" stroke="#ff7f00"/>
<path d="M398.3 968.8l10.5 0.1 9 0.5 7.5 0.9 6.6 1.3 6 1.7 5 2.1 5 2.9 4.5 3.3" stroke="#ff8b00"/>
<path d="M398.3 969.6l10.5 0.1 8.5 0.5 7.5 0.8 6.6 1.2 6 1.8 5 2 5 2.8 4.5 3.3" stroke="#ff9900"/>
<path d="M398.3 970.3l10 0.1 8.5 0.5 7.5 0.8 6.6 1.2 6 1.7 5 1.9 5 2.8 4.5 3.2" stroke="#ffa700"/>
<path d="M398.3 971l10 0.1 8.5 0.5 7.5 0.8 6.6 1.2 6 1.7 5 2 4.5 2.4 4.5 3.2" stroke="#ffb600"/>
<path d="M398.3 971.7l10 0.1 8.5 0.5 7 0.7 6.6 1.2 6 1.6 5 1.9 4.5 2.4 4.5 3.1" stroke="#ffc700"/>
<path d="M398.3 972.3l10 0.2 8.5 0.4 7 0.7 6.6 1.2 6 1.6 5 2 4.5 2.3 4.5 3.2" stroke="#ffd900"/>
<path d="M398.3 973l10 0.1 8.5 0.4 7 0.8 6.6 1.1 5.5 1.5 5 1.9 4.5 2.3 4.5 3" stroke="#fdea00"/>
<path d="M398.3 973.6l10 0.1 8 0.4 7 0.7 6.6 1.1 5.5 1.4 5 1.8 4.5 2.2 4.5 3" stroke="#fafc00"/>
<path d="M398.3 974.1l10 0.2 8 0.4 7 0.6 6.6 1.1 5.5 1.4 5 1.8 4.5 2.3 4.5 2.9" stroke="#ebff00"/>
<path d="M398.3 974.7l10 0.1 8 0.4 7 0.7 6.1 1 5.5 1.3 5 1.7 4.5 2.2 4.5 2.8" stroke="#d5ff00"/>
<path d="M398.3 975.2l10 0.1 8 0.4 7 0.7 6.1 1 5.5 1.3 5 1.7 4.5 2.2 4 2.4" stroke="#c3ff0b"/>
<path d="M398.3 975.7l10 0.1 8 0.4 7 0.7 6.1 0.9 5.5 1.4 5 1.7 4.5 2.1 4 2.5" stroke="#b2ff18"/>
<path d="M398.3 976.2l9.5 0.1 8 0.4 7 0.6 6.1 0.9 5.5 1.3 5 1.6 4.5 2 4 2.4" stroke="#a3ff32"/>
<path d="M398.3 976.7l9.5 0.1 8 0.3 7 0.6 6.1 0.9 5.5 1.3 5 1.6 4.5 2 4 2.4" stroke="#99ff52"/>
<path d="M398.3 977.1l9.5 0.1 8 0.3 7 0.7 6.1 0.8 5.5 1.3 4.5 1.4 4.5 1.9 4 2.3" stroke="#90ff6d"/>
<path d="M398.3 977.6l9.5 0.1 8 0.3 7 0.6 6.1 0.9 5.5 1.2 4.5 1.4 4.5 1.9 4 2.2" stroke="#89ff82"/>
<path d="M398.3 978l9.5 0.1 7.5 0.3 7 0.6 6.1 0.8 5.5 1.1 4.5 1.4 4.5 1.8 4 2.1" stroke="#83ff92"/>
<path d="M398.3 978.5l9.5 0 7.5 0.3 7 0.6 6.1 0.8 5.5 1.1 4.5 1.3 4.5 1.8 4 2.1" stroke="#7fffa2"/>
<path d="M398.3 978.9l9.5 0.1 7.5 0.3 6.5 0.5 6 0.7 5.6 1.1 4.5 1.2 4.5 1.7 4 2" stroke="#7bffb2"/>
<path d="M398.3 979.4l9.5 0 8 0.3 6.5 0.5 6.1 0.8 5.5 1.1 4.5 1.2 4.5 1.7 3.5 1.8" stroke="#77ffc0"/>
<path d="M398.3 979.8l9.5 0.1 7.5 0.3 6.5 0.4 6 0.7 5.6 1 4.5 1.2 4 1.4 4 1.9" stroke="#74ffcd"/>
<path d="M398.3 980.3l9.5 0 7.5 0.3 6.5 0.4 6 0.7 5.6 1 5 1.3 4 1.4 3.5 1.7" stroke="#71ffda"/>
<path d="M398.3 980.7l9.5 0.1 7.5 0.2 6.5 0.5 6 0.6 5.6 0.9 4.5 1.1 4 1.4 3.5 1.6" stroke="#6effe6"/>
<path d="M398.3 981.2l17 0.3 6.5 0.4 6 0.6 5.6 0.9 5 1.2 3.5 1.2 3.5 1.6" stroke="#69feea"/>
<path d="M398.3 981.6l17 0.3 6.5 0.4 6 0.6 5.6 0.8 4.5 1 3.5 1.2 3.5 1.6" stroke="#63fdef"/>
<path d="M398.3 982.1l17 0.2 6.5 0.4 6 0.6 5.1 0.7 4.5 0.9 3.5 1.1 3.5 1.5" stroke="#5efcf4"/>
<path d="M398.3 982.5l17 0.3 6.5 0.3 6 0.5 5.1 0.7 4 0.8 3.5 1 3.5 1.5" stroke="#57fbf9"/>
<path d="M398.3 983l17 0.2 6.5 0.3 6 0.5 5.1 0.6 3.5 0.7 3.5 1 3.5 1.3" stroke="#50faff"/>
<path d="M398.3 983.4l16.5 0.2 12.5 0.7 5.1 0.6 3.5 0.6 3.5 0.9 3 1.1" stroke="#4cd7ff"/>
<path d="M398.3 983.9l17 0.2 12.5 0.6 7.6 1 3 0.7 3.5 1.2" stroke="#46adff"/>
<path d="M398.3 984.3l17.5 0.2 12.6 0.6 4 0.4 3 0.5 3 0.7 3 1" stroke="#3c90ff"/>
<path d="M398.3 984.8l17.5 0.1 12.6 0.6 4 0.3 2.5 0.4 2.5 0.5 3 0.9" stroke="#3071fe"/>
<path d="M398.3 985.2l17.5 0.1 12.6 0.5 5.5 0.5 2.5 0.5 3 0.8" stroke="#2a57fb"/>
<path d="M398.3 985.7l17.5 0.1 13.1 0.3 5 0.5 4.5 1" stroke="#2547f8"/>
<path d="M398.3 986.1l18.5 0.1 13.1 0.3 4 0.4 3.5 0.7" stroke="#2039f6"/>
<path d="M398.3 986.6l31.1 0.2 3.5 0.3 3.5 0.6" stroke="#1b2af2"/>
</g>
<g stroke-width=".9">
<path d="M441.5 987l2-1 2-1.4 1.5-1.4 2-2.2 3.5-4.9 3.5-6.3 2.5-5.3 3-7 16-39.9 4.2-10.1 5.1-11.1 5-9.6 2.2-3.6 2.9-4.2 5-6.4 2.9-3.3 3.7-3.7 3.6-3.3 2.9-2.3 4.3-2.9 5-2.9 5.1-2.4 5.8-2.4 5.8-2.1 5.7-1.7 6.5-1.6 6.5-1.3 7.3-1.2 7.2-0.9 8.7-0.8 9.3-0.7 23.2-1.1 23.8-0.4" stroke="#7f0000"/>
<path d="M441.5 987l2-0.9 2-1.4 1.5-1.3 2-2.1 3.5-4.8 3.5-6.1 3-6.2 3-6.8 15.5-37.6 4.2-9.8 5.1-10.9 5-9.4 2.2-3.5 2.9-4.2 5-6.4 2.9-3.2 3.7-3.7 3.6-3.3 2.9-2.3 4.3-2.9 5-2.9 5.1-2.5 5.8-2.4 5.8-2.1 5.7-1.8 6.5-1.6 6.5-1.4 7.3-1.2 7.9-1.1 9.4-0.9 10.1-0.8 21-1.1 23.8-0.4" stroke="#860000"/>
<path d="M441.5 987l2-0.9 2-1.3 1.5-1.3 2-2 3.5-4.6 3.5-5.9 3-6 3-6.6 16-37.5 4.4-10 5.1-10.5 5.1-9 2.1-3.4 2.9-4 5.1-6.2 6.5-6.7 3.6-3.2 2.9-2.3 4.3-2.8 5.1-2.9 5-2.4 5.8-2.4 5.8-2.1 6.5-2 6.5-1.6 6.5-1.4 7.9-1.3 8-1.1 9.4-1 10.8-0.9 19.5-1 22.4-0.3" stroke="#8c0000"/>
<path d="M441.5 987l2-0.9 2-1.2 1.5-1.2 2-2 3.5-4.3 3.5-5.8 3-5.7 3-6.4 16.5-37.6 3.9-8.6 5.1-10.2 5.1-8.9 2.1-3.4 2.9-4 5.8-6.9 6.5-6.6 2.9-2.5 2.9-2.2 4.3-2.9 5.1-2.8 5.7-2.8 5.8-2.4 5.8-2.1 6.5-2 6.5-1.6 6.5-1.4 8-1.4 8.6-1.2 9.4-1.1 10.8-0.9 18.1-1 22.4-0.3" stroke="#930000"/>
<path d="M441.5 987l2-0.8 2-1.2 1.5-1.2 2-1.9 3.5-4.2 4-6.4 2.5-4.7 3.5-7.3 16-35.3 4.7-9.9 5-9.9 5.1-8.5 5-7.1 5.8-6.7 6.5-6.4 2.9-2.5 2.9-2.2 4.3-2.8 5.1-2.8 5.8-2.7 5.7-2.4 5.8-2.1 6.5-1.9 6.5-1.7 7.3-1.6 7.9-1.4 8.7-1.3 8.6-1 11.6-1.1 17.3-0.9 21.7-0.3" stroke="#9a0000"/>
<path d="M441.5 987l2-0.8 2-1.1 1.5-1.2 2-1.8 2-2.1 1.5-1.9 4-6.2 3-5.6 3.5-7.1 16-34.4 4.2-8.6 5-9.7 5.1-8.4 5-7 5.8-6.7 6.5-6.4 2.9-2.5 2.9-2.1 4.3-2.8 5.8-3.2 5.8-2.7 5.8-2.4 5.7-2.1 6.5-2 6.5-1.7 7.3-1.6 7.9-1.4 8.7-1.3 8.7-1.1 11.5-1.1 16.6-1 21.7-0.3" stroke="#a10000"/>
<path d="M441.5 987.1l2-0.8 2-1.2 2-1.4 2-1.9 3-3.4 4-6.1 3-5.4 3.5-6.9 7.5-15.5 9-19.1 4.4-8.8 5-9.4 5.1-8.1 5.1-6.7 5.7-6.5 6.5-6.3 2.9-2.4 2.9-2.1 4.4-2.7 5.7-3.2 5.8-2.7 5.8-2.3 6.5-2.3 6.5-2 6.5-1.7 7.2-1.6 8-1.5 8.6-1.3 9.4-1.1 10.1-1.1 15.9-0.9 21.7-0.3" stroke="#a70000"/>
<path d="M441.5 987.1l2-0.8 2-1.1 2-1.4 2-1.8 3-3.4 4-5.9 3-5.3 4-7.7 7-14.2 9-18.7 4.4-8.7 5-9.2 5.1-8 5.1-6.7 5.7-6.5 6.5-6.2 2.9-2.4 2.9-2.1 4.4-2.8 5.7-3.1 5.8-2.7 6.5-2.7 6.5-2.3 6.5-2 6.5-1.7 7.2-1.6 8-1.5 9.4-1.5 10.1-1.3 8.7-0.9 15.9-0.9 20.9-0.2" stroke="#ae0000"/>
<path d="M441.5 987.1l2-0.8 2-1.1 2-1.4 2-1.7 3-3.2 4-5.9 3-5.1 4-7.7 7-13.8 9-18.5 4.4-8.5 5-9.1 5.1-7.9 5.1-6.6 5.7-6.5 6.5-6.2 2.9-2.4 2.9-2.1 4.4-2.7 5.7-3.2 5.8-2.7 6.5-2.8 6.5-2.3 6.5-2 6.5-1.8 8-1.8 7.9-1.5 8.7-1.4 10.1-1.3 8.7-1 15.9-0.9 20.9-0.2" stroke="#b50000"/>
<path d="M441.5 987.1l2-0.8 2-1 2-1.4 2-1.7 3-3.1 4-5.8 3.5-5.9 4-7.6 6.5-12.7 9-18.1 4.4-8.4 5-8.9 5.1-7.9 5.1-6.5 6.5-7.2 6.5-6 2.9-2.3 2.8-2.1 5.1-3.1 5.8-3.1 5.8-2.7 6.5-2.6 6.5-2.3 6.5-2 6.5-1.8 7.9-1.8 8-1.5 8.6-1.4 10.9-1.4 7.2-0.8 15.2-0.9 20.9-0.2" stroke="#bc0000"/>
<path d="M441.5 987.1l2-0.7 2-1.1 2-1.3 2-1.6 3-3.2 4-5.6 3.5-5.8 4-7.4 6.5-12.5 9-17.8 4.4-8.3 5.8-10 5-7.6 5.1-6.3 6.5-7 5.8-5.3 2.9-2.3 2.8-2.1 5.1-3.1 5.8-3.1 5.8-2.7 6.5-2.7 6.5-2.3 6.5-2.1 6.5-1.8 7.9-1.8 8-1.6 8.6-1.4 10.9-1.5 7.2-0.8 15.2-0.9 20.9-0.2" stroke="#c20000"/>
<path d="M441.5 987.1l2-0.7 2-1 2-1.3 2-1.6 3-3.1 4-5.5 3.5-5.8 4-7.2 6.5-12.3 9.5-18.5 4.6-8.5 5.1-8.5 5-7.5 5.1-6.3 6.5-6.9 6.5-6 5.8-4.2 5-3.1 5.8-3 5.8-2.7 6.5-2.7 6.5-2.3 7.2-2.3 7.2-1.9 7.3-1.7 7.9-1.6 7.9-1.3 10.2-1.4 7.2-0.8 15.2-1 20.9-0.2" stroke="#c90000"/>
<path d="M441.5 987.1l2-0.7 2-1 2-1.3 2-1.5 3-3 4-5.4 3.5-5.7 4.5-8 6.5-12.1 9-17.3 4.6-8.4 5.1-8.4 5-7.4 5.1-6.3 6.5-6.9 6.5-5.8 5.8-4.3 5-3.1 5.8-3.1 6.5-3 6.5-2.7 6.5-2.3 7.2-2.3 7.3-1.9 7.2-1.7 7.9-1.6 8-1.3 10.1-1.5 7.2-0.8 14.5-0.9 20.9-0.2" stroke="#d00000"/>
<path d="M441.5 987.1l2-0.7 2-0.9 2-1.3 2-1.5 3-2.9 4-5.4 3.5-5.5 4.5-8 6.5-11.8 9-17.1 4.6-8.2 5.1-8.4 5-7.3 2.9-3.7 2.9-3.3 6.5-6.7 5.8-5.2 5.8-4.2 5-3.1 5.8-3.1 6.5-3.1 6.5-2.7 6.5-2.4 7.2-2.3 7.3-2 7.2-1.7 7.9-1.6 8-1.4 10.1-1.5 7.2-0.8 14.5-0.9 20.9-0.2" stroke="#d70000"/>
<path d="M441.5 987.1l2-0.7 2-0.9 2-1.2 2-1.5 3-2.9 4-5.2 3.5-5.5 5-8.7 6-10.8 9-16.8 4.6-8.1 5.1-8.3 5-7.2 5.8-7 6.5-6.6 6.5-5.8 5.8-4.1 5-3.1 5.8-3 6.5-3.1 6.5-2.7 6.5-2.4 7.2-2.3 7.3-2 7.2-1.7 7.9-1.6 8-1.4 10.1-1.5 6.5-0.8 14.5-0.9 10.8-0.2 10.1 0.1" stroke="#dd0000"/>
<path d="M441.5 987.1l2-0.7 2-0.9 2-1.2 2-1.4 3-2.8 4-5.2 3.5-5.4 5-8.5 6-10.7 9-16.5 4.6-8.1 5.8-9.2 5-7 5.8-6.8 6.5-6.5 5.8-5 5.8-4.2 5-3 5.8-3.1 6.5-3.1 6.5-2.7 6.5-2.4 7.2-2.4 7.3-2 7.9-1.9 8-1.7 7.2-1.3 10.1-1.5 6.5-0.8 7.9-0.6 6.6-0.3 10.8-0.2 10.1 0.1" stroke="#e40000"/>
<path d="M441.5 987.1l2-0.6 2-0.9 2-1.2 2-1.5 3-2.7 4-5.1 4-6.1 5-8.5 5.5-9.6 9.5-17.2 4.1-7.1 5.8-9.1 5-6.9 5.8-6.7 7.3-7.2 5.7-4.9 5.8-4 5.1-3 5.7-3.1 6.5-3.1 6.5-2.7 7.3-2.6 6.5-2.1 7.2-2.1 7.9-1.9 14.5-2.9 10.1-1.5 6.5-0.8 7.9-0.6 6.6-0.4 10.8-0.1 10.1 0" stroke="#eb0000"/>
<path d="M442 987l2-0.7 2-1 2-1.2 2-1.5 2-1.7 1-1.1 4-5.2 4-6.1 5.5-9.2 13.5-23.9 4.6-7.9 5.8-9 5-6.9 5.8-6.6 7.3-7.1 5.7-4.9 5.8-4.1 5.8-3.4 5.8-3 6.5-3.1 6.5-2.7 7.2-2.6 6.5-2.1 7.9-2.3 7.3-1.7 14.4-2.9 10.1-1.6 6.5-0.8 13.8-0.8 10.8-0.2 10.1 0.1" stroke="#f20000"/>
<path d="M442 987l2.5-0.9 2-1 2-1.3 2-1.5 1.5-1.3 1.5-1.7 3.5-4.5 4-6 5.5-9.1 13.5-23.6 4.6-7.7 5.8-8.9 5-6.8 5.8-6.6 7.3-7.1 5.7-4.9 6.5-4.5 5.8-3.4 5.8-3 6.5-3.1 6.5-2.6 7.2-2.7 6.5-2.1 8-2.2 7.2-1.8 14.4-2.9 9.4-1.5 6.5-0.7 8-0.7 5.8-0.2 10.8-0.2 10.1 0.1" stroke="#f80000"/>
<path d="M442 987l2.5-0.9 2-1 2-1.2 2-1.5 1.5-1.3 1.5-1.6 3.5-4.5 4-5.9 5.5-9 14-24.1 4.1-6.8 5.8-8.8 5-6.7 5.8-6.6 7.3-7 5.7-4.9 6.5-4.5 5.8-3.4 5.8-3.1 6.5-3 6.5-2.8 7.2-2.6 6.5-2.2 8-2.2 7.2-1.8 14.4-3 9.4-1.5 6.5-0.8 8-0.6 5.8-0.3 10.8-0.1 10.1 0.1" stroke="#ff0000"/>
<path d="M442 987l2.5-0.9 2-0.9 2-1.2 2-1.5 1.5-1.3 1-1 4-5 4-5.8 6-9.7 13.5-23 4.1-6.7 5.8-8.7 5-6.7 2.9-3.4 3.6-3.8 7.3-6.9 5.8-4.8 6.5-4.4 5.7-3.4 5.8-3 6.5-3.1 6.5-2.7 7.2-2.7 6.5-2.1 8-2.3 7.2-1.8 13.7-2.8 9.4-1.5 6.5-0.8 8-0.7 5.8-0.2 10.8-0.2 10.1 0.2" stroke="#ff0100"/>
<path d="M442 987l2.5-0.9 2-0.9 2-1.2 2-1.4 1.5-1.2 1-1.1 4-4.9 4-5.8 5.5-8.7 5-8.2 9-15.3 4.8-7.8 5.8-8.5 5.1-6.4 5.7-6.3 7.3-6.9 5.8-4.8 6.5-4.4 5.7-3.4 5.8-3 6.5-3.1 6.5-2.7 7.2-2.8 6.5-2.1 8-2.3 7.2-1.8 13.7-2.9 9.4-1.6 6.5-0.8 8-0.6 5.8-0.3 10.8-0.1 10.1 0.1" stroke="#ff0200"/>
<path d="M442 987l2-0.6 2-0.9 2-1.1 2.5-1.7 1.5-1.2 1-1.1 4-4.8 4-5.7 6-9.4 13.5-22.5 4.8-7.7 5.8-8.3 5.1-6.4 6.5-7 7.2-6.8 5.8-4.6 6.5-4.4 5.8-3.3 6.5-3.4 6.5-3 6.5-2.7 7.2-2.7 6.5-2.1 7.9-2.3 7.3-1.8 13-2.7 9.3-1.6 5.8-0.7 8-0.6 5.8-0.3 10.8-0.1 10.1 0.1" stroke="#ff0300"/>
<path d="M442 987l2-0.6 2-0.9 2-1.1 2.5-1.6 1.5-1.2 1-1.1 4-4.7 4-5.7 6-9.2 13.5-22.2 4.8-7.6 5.8-8.3 5.1-6.3 6.5-7 7.2-6.7 5.8-4.7 7.2-4.7 5.8-3.4 6.5-3.3 6.5-3 6.5-2.7 7.2-2.7 6.5-2.1 8-2.3 7.2-1.8 7.9-1.8 7.2-1.3 7.3-1.2 5.7-0.7 8-0.6 5.8-0.3 10.8-0.1 9.4 0.2" stroke="#ff0400"/>
<path d="M442 987l2-0.6 2-0.8 2-1.1 2.5-1.7 1.5-1.1 1-1 4-4.7 4-5.6 6-9.2 13.5-21.9 4.8-7.5 5.8-8.2 5.1-6.3 6.5-6.9 7.2-6.7 5.8-4.6 7.2-4.8 5.8-3.4 6.5-3.3 6.5-3.1 6.5-2.7 7.2-2.7 7.2-2.4 8-2.3 7.2-1.8 7.9-1.7 8-1.5 6.5-1 5-0.6 8-0.7 5.8-0.2 10.8-0.1 9.4 0.1" stroke="#ff0500"/>
<path d="M442 987l2-0.6 2-0.8 2-1.1 2.5-1.6 1.5-1.1 1-1 4-4.7 4-5.5 6-9 13.5-21.7 4.8-7.4 5.8-8.1 5.8-7.1 6.5-6.7 7.2-6.6 5.8-4.5 7.2-4.7 6.5-3.7 6.5-3.4 6.5-3 6.5-2.6 6.5-2.5 7.3-2.3 7.9-2.3 7.2-1.8 8-1.8 8.6-1.6 5.8-0.9 5.1-0.6 7.2-0.5 5.8-0.3 10.8-0.1 9.4 0.2" stroke="#ff0600"/>
<path d="M442 987l2-0.6 2-0.8 2-1 2.5-1.6 1.5-1.1 1-1 4-4.6 4-5.4 6.5-9.7 13-20.7 4.8-7.3 5.8-8.1 5.8-6.9 7.2-7.4 7.2-6.5 5.8-4.4 7.2-4.7 6.5-3.7 6.5-3.3 6.5-3 6.5-2.6 7.3-2.7 7.2-2.3 7.2-2.1 7.2-1.8 8-1.7 8.7-1.6 5.7-1 5.1-0.5 6.5-0.5 5.8-0.3 10.8-0.1 9.4 0.2" stroke="#ff0700"/>
<path d="M442 987l2-0.6 2-0.8 2-1 2.5-1.5 1.5-1.1 1-1 4-4.5 4-5.4 6.5-9.6 13-20.4 4.8-7.3 5.8-7.9 5.8-6.9 7.2-7.3 7.2-6.5 5.8-4.4 7.2-4.7 6.5-3.7 6.5-3.3 6.5-3 6.5-2.7 7.3-2.7 7.2-2.4 7.2-2.1 7.2-1.8 8-1.8 8.7-1.6 5.7-0.9 5.1-0.6 6.5-0.5 5.8-0.3 10.8-0.1 9.4 0.2" stroke="#ff0800"/>
<path d="M442 987l2-0.6 2-0.7 2-1 2.5-1.6 1.5-1 1-1 4-4.5 4-5.3 6.5-9.4 13.5-21 4.3-6.4 5.8-7.9 5.8-6.8 7.2-7.3 7.2-6.4 6.5-5 7.3-4.6 6.5-3.7 6.5-3.3 6.5-3 7.2-2.9 6.5-2.5 7.9-2.5 7.3-2.1 7.2-1.8 7.2-1.6 9.4-1.8 5.1-0.8 5.7-0.5 6.5-0.5 5.1-0.2 10.8-0.1 8.7 0.2" stroke="#ff0900"/>
<path d="M442 987l2-0.5 2-0.8 2-1 2.5-1.5 1.5-1 1-1 4-4.4 4-5.2 6.5-9.4 13.5-20.7 5.1-7.3 5.7-7.7 5.8-6.7 7.2-7.1 7.3-6.4 6.5-4.8 7.2-4.6 6.5-3.6 6.5-3.3 6.5-3 7.2-3 6.5-2.4 8-2.6 6.5-1.9 7.9-2 7.2-1.5 9.4-1.8 5.1-0.8 5-0.5 6.5-0.5 5.1-0.2 10.8 0 8.7 0.2" stroke="#ff0a00"/>
</g>
<g stroke-width=".85">
<path d="M442 987l4-1.3 2-0.9 2.5-1.5 1.5-1 1-1 4-4.3 4-5.2 6.5-9.2 13.5-20.5 5.1-7.3 5.7-7.6 5.8-6.6 7.2-7.1 7.3-6.3 6.5-4.8 7.9-5.1 6.5-3.6 6.5-3.3 6.5-3 7.2-2.9 6.5-2.4 8-2.6 6.5-1.9 7.9-2 6.5-1.4 9.4-1.8 5.1-0.8 5.8-0.6 5.7-0.4 5.1-0.2 10.8-0.1 8.7 0.2" stroke="#ff0b00"/>
<path d="M442 987l2.5-0.7 2-0.8 2-0.9 2.5-1.6 1-0.7 1.5-1.4 3.5-3.8 4-5.1 6.5-9 13.5-20.3 5.1-7.2 5.7-7.5 5.8-6.6 8-7.7 7.2-6.2 6.5-4.8 7.9-4.9 6.5-3.7 6.5-3.3 6.5-2.9 6.5-2.7 6.5-2.4 8-2.7 6.5-1.9 7.9-2 6.5-1.4 9.4-1.9 5.1-0.7 5.8-0.6 5.7-0.5 5.1-0.2 10.8 0 8.7 0.2" stroke="#ff0c00"/>
<path d="M442 987l2.5-0.7 2-0.7 2-1 2.5-1.5 1-0.7 1.5-1.4 3.5-3.7 4-5 6.5-9 4.5-6.5 9-13.5 5.1-7.1 6.5-8.3 5.7-6.4 7.3-7 7.2-6.2 6.5-4.7 8.7-5.4 6.5-3.6 6.5-3.3 6.5-3 6.5-2.7 6.5-2.4 7.9-2.6 6.5-1.9 8-2.1 6.5-1.4 9.3-1.8 5.1-0.8 5.8-0.6 10.1-0.5 10.8-0.1 8.7 0.2" stroke="#ff0d00"/>
<path d="M442 987l2.5-0.6 2-0.8 2-0.9 2.5-1.5 1-0.7 1.5-1.3 3.5-3.7 4.5-5.6 6.5-8.9 13-19.1 5.1-7 6.5-8.3 5.7-6.3 7.3-6.9 7.2-6.2 6.5-4.8 8.7-5.4 6.5-3.7 6.5-3.3 6.5-2.9 6.5-2.8 6.5-2.4 7.9-2.7 6.5-1.9 8-2.1 6.5-1.4 9.3-1.9 5.1-0.7 5.8-0.6 10.1-0.6 10.8-0.1 8.7 0.2" stroke="#ff0e00"/>
<path d="M442 987l2.5-0.6 2-0.8 2-0.9 2.5-1.4 1-0.7 1.5-1.3 3.5-3.7 4.5-5.5 6.5-8.7 13-18.9 5.1-7 6.5-8.1 5.7-6.3 8-7.5 7.2-6.1 7.2-5.2 8-4.9 6.5-3.6 6.5-3.3 6.5-3 6.5-2.7 7.2-2.7 7.2-2.4 6.5-2 8-2 15.1-3.2 5.1-0.8 5.8-0.6 10.1-0.6 10.8 0 8.7 0.1" stroke="#ff0f00"/>
<path d="M442 987l2.5-0.6 2-0.7 2-0.9 2.5-1.4 1-0.6 1.5-1.4 3.5-3.6 4.5-5.4 6.5-8.7 13.7-19.6 5.1-6.8 6.5-7.9 5.8-6.2 7.9-7.4 6.5-5.5 7.2-5.1 8.7-5.4 6.5-3.6 6.5-3.3 6.5-3 6.5-2.7 7.2-2.7 7.3-2.4 7.2-2.1 7.2-1.9 15.2-3.2 4.3-0.7 6.5-0.6 9.4-0.6 10.8 0 8.7 0.1" stroke="#ff1000"/>
<path d="M442 987l2.5-0.6 2-0.7 2-0.9 2.5-1.3 1-0.6 1.5-1.4 3.5-3.5 4.5-5.3 6.5-8.6 13.7-19.3 5.1-6.8 6.5-7.8 5.8-6.1 7.9-7.4 7.2-6.1 7.3-5.1 8.6-5.3 6.5-3.6 5.8-2.9 7.2-3.4 6.5-2.7 7.3-2.7 7.2-2.4 7.2-2.1 7.2-1.9 14.5-3.1 4.3-0.6 6.5-0.7 9.4-0.6 10.8 0 8.7 0.1" stroke="#ff1100"/>
<path d="M442 987l2.5-0.6 2-0.6 4.5-2.2 1-0.6 1.5-1.3 3.5-3.5 4.5-5.3 6.5-8.3 4.5-6.1 9.2-13.1 5.8-7.5 5.8-6.9 6.5-6.8 7.9-7.3 7.3-5.9 7.9-5.5 8.7-5.3 6.5-3.6 5.7-2.9 7.3-3.3 6.5-2.6 7.2-2.7 6.5-2.2 7.2-2.1 7.2-1.9 14.5-3.1 4.3-0.6 6.5-0.7 9.4-0.5 10.1 0 8.7 0.1" stroke="#ff1200"/>
<path d="M442 987l2.5-0.5 2-0.7 2.5-1.1 2.5-1.3 2.5-2 3-3 4.5-5.2 6.5-8.2 4.5-6 9.2-12.9 5.8-7.4 5.8-6.9 6.5-6.7 8.7-7.9 6.5-5.3 7.9-5.6 9.4-5.7 6.5-3.5 5.8-2.9 7.2-3.3 6.5-2.7 7.2-2.7 6.5-2.2 7.2-2.1 7.3-1.9 13.7-2.9 4.3-0.7 6.5-0.6 9.4-0.6 10.1 0 8.7 0.1" stroke="#ff1300"/>
<path d="M442 987l2.5-0.5 2.5-0.9 2.5-1 2.5-1.4 2.5-2.1 3-3 4.5-5.2 6.5-8.1 13.9-18.9 5.8-7.3 6.5-7.5 6.5-6.5 8-7.1 6.5-5.2 7.9-5.5 9.4-5.7 6.5-3.6 5.8-2.9 6.5-3 6.5-2.7 7.2-2.7 6.5-2.2 7.2-2.2 7.3-1.9 13.7-3 4.3-0.6 6.5-0.7 9.4-0.6 10.1-0.1 8.7 0.2" stroke="#ff1400"/>
<path d="M442.5 987l4.5-1.3 2.5-1.1 2.5-1.3 2.5-2.1 3-2.9 4.5-5.1 7-8.6 13.4-18 5.8-7.2 6.5-7.4 7.2-7.1 8-7.1 6.5-5.2 8.7-5.9 9.4-5.6 5.7-3.1 5.8-2.9 6.5-3 6.5-2.8 7.2-2.7 6.5-2.2 7.3-2.1 7.2-2 13.7-3 3.6-0.5 7.2-0.8 5.1-0.3 5.8-0.2 8.7-0.1 7.9 0.2" stroke="#ff1900"/>
</g>
<g stroke-width=".8">
<path d="M442.5 987l4.5-1.3 2.5-1 2.5-1.2 2.5-2.1 3-2.9 4.5-4.9 7-8.5 13.4-17.7 6.5-8 6.5-7.2 7.3-7 7.9-7.1 6.5-5.1 8.7-5.9 9.4-5.6 5.8-3.1 5.7-2.9 6.5-3 6.5-2.7 7.3-2.8 6.5-2.2 7.2-2.2 7.2-1.9 13-2.8 3.6-0.6 7.2-0.8 5.1-0.4 5.8-0.1 8.7-0.1 7.9 0.1" stroke="#ff1e00"/>
<path d="M442.5 987l4.5-1.2 2.5-1 2.5-1.2 2.5-2 3-2.8 5-5.5 6.5-7.7 14.2-18.4 6.5-7.8 7.2-7.8 7.9-7.5 7.3-6.3 6.5-4.9 8.6-5.8 9.4-5.6 5.8-3.1 6.5-3.2 6.5-2.9 5.8-2.4 6.5-2.5 6.5-2.2 7.9-2.4 6.5-1.7 8-1.8 5-1.1 10.9-1.3 5-0.3 6.5-0.2 15.2 0.1" stroke="#ff2300"/>
<path d="M442.5 987l4.5-1.1 2.5-1 2.5-1.2 3-2.4 3-2.8 5-5.4 6.5-7.6 13.7-17.5 6.5-7.7 7.2-7.8 8.7-8.1 7.2-6.2 6.5-4.9 8.7-5.8 9.3-5.6 5.8-3.1 6.5-3.2 6.5-2.9 5.8-2.4 6.5-2.5 5.8-2 7.9-2.4 6.5-1.8 8-1.8 5-1.1 10.9-1.3 5-0.4 6.5-0.1 15.2 0" stroke="#ff2800"/>
<path d="M442.5 987l4.5-1.1 5-2 3-2.4 3-2.7 5-5.3 6.5-7.4 13.7-17.3 7.9-9.2 7.2-7.5 9.4-8.7 6.5-5.4 7.3-5.3 7.9-5.2 9.4-5.6 5.8-3.1 6.5-3.2 5.7-2.6 6.6-2.7 6.5-2.4 5.7-2 7.3-2.2 6.5-1.7 12.2-2.8 10.9-1.4 5-0.3 6.5-0.2 15.2 0" stroke="#ff2d00"/>
<path d="M442.5 987l4.5-1 5-2 3-2.3 3-2.7 5-5.1 6.5-7.3 13.7-17 7.9-9.1 7.2-7.5 10.2-9.3 6.5-5.4 7.2-5.2 7.9-5.3 9.4-5.5 5.8-3.1 7.2-3.5 6.5-2.9 6.5-2.7 6.5-2.4 7.2-2.3 6.5-2 7.3-1.8 5.7-1.4 4.4-0.8 10.8-1.3 5.1-0.3 7.2-0.1 13 0" stroke="#ff3200"/>
<path d="M442.5 987l4.5-1 5-1.8 4-3.1 5.5-5.2 7.5-8.2 4.5-5.3 9.7-11.9 7.2-8.3 5.8-6.1 5.7-5.6 9.4-8.3 8-6.2 10.1-6.9 5.8-3.5 5.8-3.3 6.5-3.5 6.5-3.1 5.7-2.6 7.3-2.9 6.5-2.4 7.2-2.3 6.5-1.9 7.2-1.9 8.7-1.8 11.5-1.4 4.4-0.3 7.9-0.2 12.3 0.1" stroke="#ff3700"/>
<path d="M442.5 987l4.5-0.9 5-1.7 4.5-3.5 5.5-5.2 7.5-8 4-4.6 10.4-12.7 7.2-8.1 5.8-6 6.5-6.2 9.4-8.2 7.9-6.1 10.1-6.8 10.9-6.4 6.5-3.4 6.5-3.2 5.8-2.6 7.2-2.9 6.5-2.4 7.2-2.3 5.8-1.7 7.9-2.1 8.7-1.8 11.6-1.3 12.2-0.5 11.6 0.1" stroke="#ff3c00"/>
<path d="M443 987l4.5-1 4.5-1.5 5-3.8 6-5.6 7-7.4 13.9-16.4 7.9-8.9 5.8-5.9 8-7.4 7.9-6.9 8.7-6.5 10.1-6.8 10.1-5.9 6.5-3.5 6.5-3.2 6.5-2.9 6.5-2.6 6.5-2.4 7.2-2.4 5.8-1.7 8-2 7.9-1.7 11.6-1.4 12.2-0.4 11.6 0" stroke="#ff4100"/>
<path d="M443 987l4.5-0.9 4.5-1.4 5-3.7 6-5.5 7-7.2 4-4.5 9.9-11.7 8.7-9.5 5.7-5.8 8.7-8.1 8-6.8 8.6-6.4 10.1-6.7 10.1-5.9 6.5-3.4 6.5-3.2 6.6-2.9 6.5-2.6 6.5-2.4 7.2-2.3 13-3.5 7.9-1.7 10.9-1.3 12.2-0.4 11.6 0" stroke="#ff4600"/>
<path d="M443 987l4.5-0.8 4.5-1.4 2.5-1.7 3-2.3 6-5.4 7-7.1 14.1-16.2 9.4-10.1 5.8-5.7 8.7-8 7.2-6 9.4-7 10.1-6.6 9.4-5.5 6.5-3.4 5.7-2.9 6.6-2.9 6.5-2.6 6.5-2.4 7.2-2.4 13-3.6 7.9-1.7 10.9-1.3 12.2-0.5 11.6 0" stroke="#ff4d00"/>
</g>
<g stroke-width=".75">
<path d="M443 987l4.5-0.8 4.5-1.2 3-2 3-2.3 6-5.3 6.5-6.5 4-4.3 10.1-11.6 10.1-10.8 6.5-6.3 8.7-7.9 7.2-6 9.4-6.9 10.1-6.6 9.4-5.4 6.5-3.4 5.8-2.8 6.5-2.9 6.5-2.7 6.5-2.3 6.5-2.2 13-3.6 7.2-1.5 6.5-0.9 5.1-0.5 12.3-0.4 10.8 0" stroke="#ff5400"/>
<path d="M443.5 987l4-0.7 4.5-1.1 3-2 3.5-2.6 6-5.3 6.5-6.3 13.6-15.2 10.8-11.4 7.3-6.9 7.9-7.3 8-6.4 9.4-6.9 10.1-6.5 9.4-5.4 5.7-3.1 5.8-2.8 6.5-2.9 6.5-2.6 6.5-2.4 6.5-2.1 13-3.6 6.5-1.4 6.5-0.9 5.1-0.5 12.3-0.5 10.8 0" stroke="#ff5b00"/>
<path d="M443.5 987l4-0.6 4.5-1.1 3.5-2.2 3.5-2.7 5.5-4.6 6-5.7 4-4.2 10.1-11.3 8.7-9.1 7.2-7.1 10.8-9.9 8-6.5 9.4-6.8 10.1-6.5 9.4-5.5 5.8-3 5.7-2.8 6.5-2.9 5.8-2.4 6.5-2.4 6.5-2.2 13-3.6 6.5-1.4 6.5-0.9 5.1-0.5 12.3-0.6 10.8 0" stroke="#ff6200"/>
<path d="M443.5 987l4-0.6 4.5-0.9 3.5-2.2 4-2.9 5.5-4.7 5.5-5 4.5-4.7 9.6-10.6 9.4-9.8 8.7-8.3 9.4-8.6 7.9-6.4 9.4-6.8 10.1-6.6 10.1-5.8 5.8-3 5.8-2.8 6.5-2.9 5.8-2.3 12.2-4.3 13-3.7 7.3-1.4 5.7-0.8 5.1-0.5 12.3-0.5 10.1-0.1" stroke="#ff6900"/>
<path d="M444 987l4-0.6 4-0.8 4-2.4 4.5-3.3 5.5-4.6 5-4.6 4-4 9.6-10.5 10.1-10.4 10.1-9.7 8-7.1 8.7-7 9.3-6.7 10.2-6.5 9.3-5.4 10.9-5.5 6.5-2.9 5.8-2.4 12.2-4.4 13-3.7 7.3-1.5 5.7-0.8 5.1-0.5 12.3-0.5 10.1 0" stroke="#ff7000"/>
<path d="M444 987l4-0.5 4-0.7 4.5-2.7 4.5-3.3 5.5-4.5 5-4.5 4-4 9.1-9.8 10.8-11 10.9-10.3 7.2-6.5 9.4-7.4 9.4-6.7 9.4-6.1 10.1-5.8 10.8-5.4 5.8-2.6 5.8-2.4 12.3-4.4 13-3.7 7.2-1.4 10.1-1.2 12.3-0.6 10.1 0" stroke="#ff7700"/>
<path d="M444.5 987l7.5-1.1 5-2.9 6-4.4 5-4.1 4-3.6 24.2-24.8 10.8-10.2 7.2-6.5 9.4-7.4 9.4-6.7 9.4-6.1 10.1-5.8 10.9-5.4 5.7-2.6 5.8-2.4 11.6-4.1 13-3.8 7.2-1.4 10.1-1.3 12.3-0.5 10.1-0.1" stroke="#ff7e00"/>
<path d="M445 987l7-0.9 5.5-3.2 6.5-4.7 4.5-3.6 4-3.6 24.4-24.7 10.8-10.3 7.3-6.3 9.3-7.5 9.4-6.7 9.4-6 10.1-5.9 10.9-5.4 10.8-4.7 11.6-4.2 13-3.8 7.2-1.5 10.1-1.2 12.3-0.6 10.1-0.1" stroke="#ff8500"/>
<path d="M445 987l7-0.8 6-3.4 7-5 4.5-3.6 3.5-3.1 24.6-24.7 11.6-10.9 6.5-5.6 9.4-7.5 10.1-7.2 9.4-6 10.1-5.7 10.8-5.4 10.9-4.7 10.8-3.9 13-3.8 3.6-0.8 4.3-0.7 8.7-1.1 12.3-0.6 10.1-0.1" stroke="#ff8c00"/>
<path d="M445.5 987l6.5-0.7 3-1.5 3.5-2.1 7.5-5.2 4-3.2 3.5-3.1 24.8-24.7 10.9-10.1 7.2-6.3 9.4-7.5 10.1-7.1 9.4-6.1 10.1-5.7 10.8-5.4 10.9-4.7 10.8-3.9 12.3-3.6 3.6-0.8 4.3-0.7 8.7-1.1 12.3-0.7 10.1-0.1" stroke="#ff9500"/>
<path d="M446.5 987l5.5-0.5 0.5-0.3 3.5-1.8 3.5-2.1 7.5-5.2 3.5-2.7 3.5-3.1 25.1-24.7 11.5-10.8 7.2-6.2 9.4-7.3 9.4-6.7 9.4-6 10.1-5.7 10.9-5.4 10.8-4.7 10.1-3.6 12.3-3.7 3.6-0.8 4.3-0.8 8.7-1.1 12.3-0.6 10.1-0.1" stroke="#ff9e00"/>
<path d="M447 987l5-0.4 1.5-0.7 3.5-1.9 3.5-2 7.5-5.2 3.5-2.8 3.5-3.1 24.1-23.5 11.5-10.8 7.2-6.2 9.4-7.4 9.4-6.7 9.4-6 10.1-5.9 10.9-5.4 10.8-4.7 10.1-3.7 12.3-3.7 3.6-0.8 4.3-0.8 8.7-1.1 12.3-0.7 10.1-0.1" stroke="#ffa700"/>
<path d="M448 987l4-0.3 3-1.4 6.5-3.7 4-2.6 3.5-2.6 3.5-2.8 4-3.6 21.1-20.4 10.9-10.2 5-4.6 5.8-4.8 9.4-7.3 9.4-6.7 9.4-6 9.3-5.4 10.9-5.4 10.8-4.7 10.1-3.7 7.3-2.3 5-1.4 8-1.5 8.6-1.1 12.3-0.7 9.4-0.1" stroke="#ffb000"/>
<path d="M449 987l3-0.2 4.5-2.1 7-4.1 6.5-4.5 3-2.4 4-3.6 20.6-19.8 11.6-10.9 5-4.5 5.8-4.8 8.7-6.8 10.1-7.1 9.4-6 9.4-5.4 10.8-5.4 10.8-4.7 9.4-3.4 7.3-2.4 5-1.4 8-1.5 8.6-1.2 12.3-0.6 9.4-0.2" stroke="#ffb800"/>
<path d="M450.5 987l1.5-0.1 3.5-1.6 3.5-1.8 6-3.5 5.5-3.9 3.5-2.8 4-3.6 31.9-30.2 5.1-4.5 5.7-4.8 8.7-6.7 10.1-7.2 9.4-5.9 8.7-5 10.8-5.5 10.8-4.7 9.4-3.5 7.3-2.3 5-1.5 8-1.6 8.6-1.1 12.3-0.7 9.4-0.1" stroke="#ffc100"/>
<path d="M452 987l4.5-2 5-2.7 5-3 4.5-3.2 3.5-2.8 4-3.6 32.1-30.1 10.1-8.7 8.7-6.7 10.1-7.2 9.4-6 8.7-5.1 10.8-5.5 10.8-4.7 9.4-3.5 7.3-2.4 5-1.5 8-1.6 8.6-1.1 12.3-0.7 9.4-0.2" stroke="#ffca00"/>
<path d="M452 987l5-2.1 5.5-2.9 4.5-2.7 4.5-3.2 5-4.1 9.6-8.7 25.2-23.7 10.2-8.6 8.6-6.7 10.1-7.2 9.4-6 8.7-5 10.8-5.5 10.1-4.4 9.4-3.6 7.3-2.4 5-1.4 8-1.7 8.6-1.1 12.3-0.7 9.4-0.2" stroke="#ffd300"/>
<path d="M452 987.1l5-2.1 5.5-2.8 5-3 4.5-3.1 5-4.1 9.8-8.8 25.3-23.6 10.8-9.1 8.7-6.6 9.4-6.6 9.3-6 8.7-5 10.9-5.5 10.1-4.4 8.6-3.3 7.3-2.4 5-1.5 8-1.6 8.6-1.2 12.3-0.8 9.4-0.1" stroke="#ffdc00"/>
<path d="M452.5 987l5-2.1 5.5-2.8 4.5-2.6 4.5-3.1 5-4 9.8-8.7 25.3-23.4 11.5-9.7 8.7-6.6 9.4-6.6 9.4-5.9 8.6-5 10.9-5.5 10.1-4.4 8.7-3.3 7.2-2.4 5-1.4 8-1.6 7.9-1.1 12.3-0.8 9.4-0.2" stroke="#fee300"/>
<path d="M452.5 987l5-2 5.5-2.7 5-2.9 4.5-3.1 5-4 10-8.8 25.3-23.2 11.5-9.6 9.4-7.1 8.7-6 9.4-6 8.7-4.9 10.8-5.5 10.1-4.4 8.7-3.2 7.2-2.5 4.3-1.2 8-1.6 7.9-1.1 12.3-0.8 9.4-0.2" stroke="#fdea00"/>
<path d="M452.5 987l5-1.9 5.5-2.7 5-2.8 4.5-3 5-4 10-8.6 26-23.7 11.6-9.6 9.4-7 8.6-6 9.4-5.9 8.7-4.9 10.1-5.2 10.1-4.4 8.7-3.3 7.2-2.4 4.3-1.2 8-1.7 7.9-1.1 12.3-0.7 9.4-0.3" stroke="#fcf100"/>
<path d="M452.5 987l5.5-2.1 5.5-2.6 5-2.8 4.5-3 5-4 9.5-8.1 26-23.5 12.3-10.1 9.4-7 8.6-6 9.4-5.8 8.7-4.9 10.1-5.2 10.1-4.4 10.9-3.9 8.6-2.8 8-1.6 7.9-1.1 12.3-0.8 9.4-0.2" stroke="#fbf800"/>
<path d="M452.5 987l5-1.8 5.5-2.5 5.5-3.1 4.5-2.9 5-3.9 8.8-7.4 26-23.3 7.2-6.1 6.5-5.1 9.4-7 8.7-5.9 9.4-5.9 8.6-4.9 9.4-4.7 10.1-4.4 10.9-4 8.6-2.8 8-1.6 7.9-1.2 12.3-0.8 9.4-0.2" stroke="#faff00"/>
<path d="M452.5 987l5-1.8 5.5-2.4 5.5-3 4.5-2.9 5-3.8 8.8-7.3 26-23.1 7.2-6.1 7.2-5.7 9.4-6.9 8.7-5.9 9.4-5.8 9.4-5.2 9.4-4.7 10.1-4.4 11.5-4.2 7.3-2.2 7.9-1.6 7.2-1 12.3-0.8 9.4-0.3" stroke="#f6ff00"/>
<path d="M452.5 987l5.5-1.9 5.5-2.4 5.5-3 4.5-2.9 5-3.9 9-7.3 26-23 7.2-6 7.3-5.6 9.3-6.9 8.7-5.8 9.4-5.8 9.4-5.3 8.7-4.3 10.1-4.4 11.5-4.2 7.3-2.2 7.9-1.6 7.2-1.1 12.3-0.8 9.4-0.2" stroke="#f2ff00"/>
<path d="M452.5 987.1l5-1.8 5.5-2.3 5.5-2.9 5-3.1 5-3.8 9-7.2 26-22.8 8-6.6 7.2-5.6 9.4-6.8 8.6-5.8 9.4-5.8 9.4-5.2 8.7-4.3 10.1-4.3 10.8-4 7.3-2.2 7.9-1.6 7.2-1.1 12.3-0.8 9.4-0.3" stroke="#eeff00"/>
<path d="M452.5 987.1l5.5-1.9 5.5-2.3 5.5-2.9 5-3.2 5-3.7 8.5-6.8 26-22.6 8-6.5 7.2-5.6 9.4-6.8 9.4-6.3 9.3-5.7 9.4-5.2 8.7-4.3 10.1-4.3 10.9-3.9 7.2-2.2 7.9-1.6 7.3-1 11.5-0.8 9.4-0.3" stroke="#eaff00"/>
<path d="M452.5 987.1l5.5-1.8 5.5-2.3 6-3.1 5-3.2 5-3.7 8.7-6.9 26-22.4 8-6.5 7.2-5.5 9.4-6.8 9.4-6.2 9.4-5.8 9.4-5.1 7.9-3.9 10.1-4.4 10.9-3.9 7.2-2.2 7.9-1.6 7.3-1 11.5-0.8 9.4-0.3" stroke="#e6ff00"/>
<path d="M452.5 987.1l5.5-1.8 5.5-2.2 6-3 5-3.2 5-3.6 8.7-6.8 26-22.3 8.7-7 7.2-5.5 9.4-6.7 9.4-6.2 9.4-5.7 9.4-5.1 7.9-3.9 9.4-4.1 10.9-3.9 7.2-2.2 7.9-1.6 7.3-1.1 11.5-0.8 9.4-0.3" stroke="#e2ff00"/>
<path d="M452.5 987.1l6-1.9 5.5-2.2 6-3.1 5-3.1 5.5-4 8.4-6.5 25.3-21.5 8.7-7 7.9-6 9.4-6.7 9.4-6.2 8.7-5.2 10.1-5.5 8-3.9 9.3-4 10.9-4 6.5-1.9 7.9-1.6 7.3-1.1 11.5-0.8 9.4-0.3" stroke="#deff00"/>
<path d="M452.5 987.1l5.5-1.7 5.5-2.1 6.5-3.2 5-3.1 5.5-3.9 8.4-6.4 26.1-22 8.6-6.9 8-6 10.1-7.1 9.4-6.1 8.6-5.2 9.4-5 8-3.9 8.6-3.7 10.9-3.9 6.5-2 8.6-1.8 6.6-0.9 11.5-0.9 9.4-0.2" stroke="#daff00"/>
<path d="M453 987l6-1.9 5-1.9 6-2.9 5.5-3.4 5.5-3.9 7.9-6 12.3-10.1 14.5-12.2 9.4-7.5 7.9-5.9 9.4-6.5 9.4-6.1 7.9-4.7 10.2-5.5 7.9-3.8 8.7-3.6 10.8-4 6.5-1.9 7.9-1.6 6.6-0.9 11.5-0.9 9.4-0.3" stroke="#d6ff00"/>
<path d="M453 987l6.5-2 5-1.9 6-2.9 5.5-3.4 6.4-4.6 7.3-5.4 11.5-9.4 14.5-12.2 9.4-7.4 7.9-5.9 9.4-6.5 9.4-6.1 7.9-4.7 10.2-5.5 7.9-3.8 8.7-3.7 10.8-4 6.5-1.9 7.9-1.6 6.6-0.9 11.5-0.9 9.4-0.3" stroke="#d2ff00"/>
<path d="M453 987l6.5-1.9 5-1.9 6.5-3.2 5.5-3.3 8.8-6.2 4.4-3.3 11.5-9.4 15.9-13.2 8.7-6.8 7.9-5.8 9.4-6.5 9.4-6.1 8.7-5.1 9.4-5 8.6-4.1 8-3.4 10.1-3.7 6.5-1.9 7.9-1.6 6.6-1 11.5-0.8 9.4-0.3" stroke="#cfff02"/>
<path d="M453 987l7-2 5-1.9 6-2.9 6-3.6 8.3-5.8 4.4-3.2 11.5-9.3 16.6-13.8 8.7-6.7 8-5.8 9.3-6.4 9.4-6 9.4-5.5 8.7-4.6 7.9-3.8 8-3.3 10.1-3.7 6.5-2 7.9-1.6 6.6-1 11.5-0.9 9.4-0.3" stroke="#ccff04"/>
<path d="M453 987l6.5-1.8 5-1.8 6.5-3 6-3.6 8.3-5.7 5.1-3.7 10.8-8.7 17.4-14.2 8.6-6.7 8-5.7 8.6-6 10.2-6.4 9.4-5.4 8.6-4.6 8-3.8 7.2-3 10.1-3.7 6.5-2 7.9-1.6 6.6-1 11.5-0.9 9.4-0.3" stroke="#c9ff06"/>
<path d="M453 987l7-1.8 5-1.9 6.5-3 6-3.6 7.8-5.3 5.1-3.7 10.8-8.5 18.1-14.7 8.7-6.7 7.9-5.7 8.7-5.9 10.1-6.4 9.4-5.4 7.9-4.2 8-3.7 7.2-3.1 10.1-3.7 6.5-1.9 7.9-1.7 6.6-1 11.5-0.9 9.4-0.3" stroke="#c7ff09"/>
<path d="M453 987l7.5-1.9 4.5-1.7 6.5-3 6.5-3.8 8.1-5.4 5-3.7 10.1-7.9 11.6-9.5 7.2-5.7 8-6 8.6-6.2 8.7-5.9 10.1-6.3 9.4-5.4 7.9-4.2 8-3.7 7.2-3 9.4-3.5 6.5-1.9 7.9-1.7 6.6-1 11.5-0.9 9.4-0.3" stroke="#c4ff0b"/>
<path d="M453 987l8-2 4.5-1.7 6.5-3 7-4.1 7.1-4.7 5-3.6 10.1-7.9 18.8-15.1 8-6 8.6-6.2 8.7-5.8 10.1-6.4 9.4-5.4 7.9-4.2 8-3.7 7.2-3 9.4-3.5 6.5-1.9 7.9-1.7 6.6-1 11.5-0.9 9.4-0.3" stroke="#c1ff0d"/>
<path d="M453 987l8.5-2.1 4.5-1.7 6.5-3 7-4.1 7.3-4.7 5-3.7 9.4-7.2 12.3-10 7.2-5.6 8-6 8.6-6.1 8.7-5.8 9.4-5.9 10.1-5.8 8-4.2 7.9-3.7 7.2-3 9.4-3.4 6.5-1.9 8-1.6 5.8-0.9 11.5-0.9 9.4-0.3" stroke="#beff0f"/>
<path d="M453 987l8.5-2 4.5-1.6 6.5-3 7.5-4.4 6.8-4.3 5-3.6 10.1-7.8 11.6-9.3 8-6.1 7.9-5.9 8.7-6.2 8.6-5.7 9.4-5.9 10.1-5.7 8-4.2 7.9-3.6 6.5-2.7 9.4-3.4 6.5-1.9 8-1.7 5.8-0.9 11.5-0.9 9.4-0.4" stroke="#bbff11"/>
<path d="M453 987l4.5-0.9 4.5-1.1 4-1.5 7-3.2 7.5-4.3 6.3-4 5.8-4.1 9.3-7.2 11.6-9.2 8-6.1 7.9-5.9 8.7-6.1 8.6-5.7 9.4-5.9 10.1-5.8 8-4.1 7.9-3.7 6.5-2.7 9.4-3.4 6.5-1.9 8-1.7 5.8-0.9 11.5-0.9 9.4-0.4" stroke="#b8ff13"/>
<path d="M453.5 987l8.5-2 5-1.8 7-3.3 7.7-4.4 5.8-3.7 5.8-4.1 8.6-6.6 11.6-9.1 8.7-6.7 7.2-5.3 8.7-6.1 8.6-5.7 9.4-5.8 10.1-5.8 8-4.2 7.2-3.3 7.2-3 9.4-3.5 6.5-1.9 8-1.7 5.8-0.8 11.5-1 9.4-0.4" stroke="#b5ff15"/>
<path d="M453.5 987l8.5-1.9 5.5-2 7-3.3 7.9-4.5 5.1-3.2 5.8-4.1 8.6-6.4 11.6-9.1 9.4-7.2 7.2-5.3 8.7-6 9.4-6.2 8.6-5.3 10.2-5.8 7.9-4.1 7.2-3.3 6.5-2.7 9.4-3.4 6.5-1.9 8-1.7 5.8-0.9 11.5-1 9.4-0.3" stroke="#b3ff18"/>
<path d="M453.5 987l8.5-1.8 6-2.2 7-3.3 8.9-5.1 5-3.2 5.1-3.5 7.9-5.9 11.6-9.1 9.4-7.1 7.2-5.2 8.7-6.1 9.4-6.1 8.6-5.3 10.2-5.8 7.9-4.1 7.2-3.4 6.5-2.7 9.4-3.4 6.5-1.9 8-1.7 5.8-0.9 11.5-1 9.4-0.3" stroke="#b0ff1a"/>
<path d="M453.5 987l8.5-1.7 6.5-2.4 3.5-1.5 4-2 9.3-5.4 4.4-2.8 5.7-4.1 7.3-5.3 11.5-9 9.4-7 7.2-5.2 8.7-6 9.4-6.1 8.7-5.3 10.1-5.8 7.9-4 7.3-3.3 6.5-2.7 8.6-3.2 6.5-1.9 8-1.7 5.8-0.9 11.5-1 9.4-0.3" stroke="#adff1c"/>
<path d="M453.5 987l8.5-1.6 6.5-2.4 3.5-1.5 4-1.9 9.3-5.3 4.4-2.8 5.7-4 7.3-5.3 20.9-15.9 7.2-5.2 8.7-6 9.4-6 9.4-5.8 10.1-5.7 8-4 7.2-3.3 6.5-2.6 8.6-3.2 6.5-1.8 8-1.7 5.8-0.8 11.5-1 8.7-0.3" stroke="#aaff1e"/>
<path d="M453.5 987l8.5-1.6 6.5-2.3 3.5-1.4 4-1.9 9.3-5.2 5.1-3.2 5.8-4.1 6.5-4.7 11.5-8.8 10.1-7.6 7.3-5.1 8.6-5.9 10.1-6.5 8.7-5.2 10.1-5.7 8-4 7.9-3.6 7.2-2.8 7.3-2.6 5.7-1.6 8-1.6 5.8-0.9 11.5-1 8.7-0.3" stroke="#a8ff24"/>
<path d="M453.5 987l8.5-1.5 6-2.1 4-1.6 4-1.9 9.3-5.1 5.1-3.1 6.5-4.5 5.8-4.2 21.6-16.3 8-5.6 8.7-5.8 10.1-6.5 8.6-5.2 10.2-5.7 7.9-3.9 7.9-3.5 8.7-3.3 6.5-2.3 5.8-1.4 6.5-1.4 5.8-0.9 11.5-0.9 8.7-0.4" stroke="#a6ff2b"/>
<path d="M454 987l8-1.4 7-2.4 7.5-3.4 9.6-5.1 5.7-3.7 8.7-6 23.8-17.8 8-5.6 8.7-5.8 10.1-6.4 8.6-5.2 10.2-5.7 7.9-4 7.9-3.5 8.7-3.3 6.5-2.2 5.8-1.5 6.5-1.4 5.8-0.8 11.5-1 8.7-0.3" stroke="#a4ff31"/>
<path d="M454 987l8-1.4 6.5-2.1 4-1.6 4-1.9 9.6-5.1 5.7-3.6 8.7-6 24.6-18.1 7.9-5.5 8.7-5.8 10.8-6.9 10.1-5.9 8.7-4.8 7.2-3.6 8-3.4 9.4-3.6 5.7-1.9 5.8-1.4 6.5-1.4 5.1-0.7 11.5-1 8.7-0.3" stroke="#a2ff37"/>
<path d="M454 987l8-1.3 6.5-2.1 4-1.6 4-1.8 9.6-5 5.7-3.6 8.7-5.9 24.6-18 7.9-5.5 8.7-5.8 10.8-6.8 10.1-6 8.7-4.8 7.2-3.5 8-3.5 9.4-3.5 5.7-1.9 5.8-1.5 6.5-1.3 5.1-0.8 11.5-1 8.7-0.3" stroke="#a0ff3d"/>
<path d="M454 987l8-1.2 7-2.3 4-1.6 4-1.8 9.8-5.1 5.8-3.6 7.9-5.3 25.3-18.4 16.6-11.2 11.6-7.2 10.1-5.9 7.9-4.4 7.2-3.5 8-3.4 9.4-3.5 5.8-1.9 5.7-1.4 6.5-1.3 5.1-0.7 10.8-0.9 8.7-0.3" stroke="#9dff44"/>
<path d="M454 987l8-1.1 7-2.3 8-3.3 9.8-5 5.8-3.6 7.9-5.3 25.3-18.2 8.7-6 8.6-5.6 11.6-7.2 10.8-6.3 7.2-3.9 7.3-3.5 7.9-3.3 9.4-3.5 5.8-1.8 5.8-1.4 5.7-1.1 5.1-0.7 10.8-1 8.7-0.3" stroke="#9bff4a"/>
<path d="M454.5 987l7.5-1.1 7-2.2 4-1.5 4.5-2 9.3-4.7 5.8-3.5 8.6-5.7 25.3-18.2 16.6-11 11.6-7.2 10.8-6.2 7.2-3.9 7.3-3.5 7.9-3.4 9.4-3.5 5.8-1.7 5.8-1.4 5.7-1.2 5.1-0.7 10.8-0.9 8.7-0.4" stroke="#99ff50"/>
<path d="M454.5 987l7.5-1 7.5-2.4 4-1.5 4.5-1.9 9.5-4.8 5.8-3.5 7.9-5.3 25.3-18 17.3-11.4 11.6-7.1 11.6-6.7 6.5-3.5 7.2-3.4 7.2-3 9.4-3.5 5.8-1.8 6.5-1.5 5.8-1.2 4.3-0.5 10.8-1 8.7-0.3" stroke="#97ff56"/>
<path d="M454.5 987l7.5-1 7-2.1 4.5-1.7 4.5-1.9 9.5-4.7 5.8-3.4 7.9-5.2 25.3-17.9 17.3-11.4 11.6-7.1 11.6-6.6 6.5-3.5 7.2-3.4 7.2-3.1 9.4-3.4 5.8-1.8 6.5-1.6 5.8-1.1 4.3-0.6 10.8-0.9 8.7-0.4" stroke="#95ff5d"/>
<path d="M454.5 987l7.5-0.9 7-2.1 4.5-1.6 4.5-1.9 9.5-4.6 5.8-3.4 7.9-5.2 26-18.2 17.4-11.3 11.5-7.1 11.6-6.6 6.5-3.4 7.2-3.4 7.2-3 9.4-3.4 5.8-1.7 6.5-1.6 5.1-0.9 5-0.7 10.9-0.9 7.9-0.3" stroke="#93ff63"/>
<path d="M455 987l7-0.8 7.5-2.3 8.5-3.2 5.2-2.4 4.3-2.2 5.8-3.4 7.9-5 26-18.2 18.1-11.6 10.8-6.6 11.6-6.6 6.5-3.4 7.2-3.4 7.2-3 9.4-3.4 5.8-1.8 6.5-1.5 5.1-1 5-0.6 10.9-1 7.9-0.3" stroke="#91ff69"/>
<path d="M455 987l7-0.8 7.5-2.2 4.5-1.6 4.5-1.8 5.4-2.4 4.3-2.2 5.8-3.4 7.9-5.1 25.3-17.5 18.1-11.6 10.8-6.6 12.3-7 5.8-3 7.2-3.4 7.2-2.9 9.4-3.5 5.8-1.7 6.5-1.5 5.1-1 5-0.7 10.9-0.9 7.9-0.3" stroke="#8fff6f"/>
<path d="M455 987l7-0.7 7.5-2.2 4.5-1.6 5-2 5.6-2.5 3.6-1.8 5.8-3.3 7.9-5 26.1-17.9 9.3-6.1 9.4-5.9 10.1-6 12.3-7 5.8-3 7.2-3.3 7.3-3 9.3-3.3 5.1-1.5 7.2-1.7 5.8-1.1 5.8-0.6 9.4-0.8 7.2-0.2" stroke="#8dff76"/>
<path d="M455.5 987l6.5-0.7 8-2.3 9-3.3 5.6-2.5 3.6-1.8 5.8-3.3 7.9-4.9 26.8-18.2 18.8-11.9 10.1-6 11.5-6.5 5.8-3 7.2-3.3 7.3-3 9.3-3.3 5.1-1.5 7.2-1.7 5.8-1.1 5.8-0.7 9.4-0.7 7.2-0.3" stroke="#8bff7c"/>
<path d="M455.5 987l6.5-0.6 8-2.3 9-3.2 5.6-2.5 3.6-1.7 5.8-3.3 7.9-4.9 26.8-18 10.1-6.5 9.4-5.8 9.4-5.5 12.3-7 5.7-2.9 7.3-3.3 6.5-2.6 9.3-3.4 5.1-1.5 7.2-1.7 5.8-1 5.8-0.7 9.4-0.8 7.2-0.2" stroke="#89ff82"/>
<path d="M456 987l6-0.6 8.5-2.3 4.5-1.6 5-1.9 5.3-2.3 3.6-1.8 5.1-2.8 7.9-4.9 26.8-17.9 10.1-6.4 10.1-6.2 9.4-5.5 11.6-6.5 5.7-2.9 7.3-3.3 6.5-2.6 9.3-3.4 5.1-1.5 7.2-1.7 5.8-1 6.5-0.8 8.7-0.7 7.2-0.2" stroke="#87ff88"/>
<path d="M456 987l6-0.5 8.5-2.4 5-1.6 4.5-1.7 5.3-2.3 3.6-1.8 5.8-3.2 8-4.8 26-17.3 10.1-6.4 10.1-6.1 8.7-5.1 12.3-6.9 5.7-3 7.3-3.2 6.5-2.7 9.3-3.3 5.1-1.5 7.9-1.8 5.8-1.1 6.5-0.7 8.7-0.7 6.5-0.2" stroke="#84ff8f"/>
<path d="M456.5 987l5.5-0.5 9.5-2.6 9.5-3.4 5.1-2.1 3.6-1.8 5-2.8 8-4.8 26.7-17.6 10.8-6.8 10.1-6.1 20.3-11.4 5.8-2.9 7.2-3.3 6.5-2.6 9.4-3.2 5-1.5 7.2-1.7 5.8-1 6.5-0.7 8.7-0.7 6.5-0.2" stroke="#82ff95"/>
<path d="M456.5 987l5.5-0.4 9.5-2.6 9.5-3.3 5.1-2.1 3.6-1.8 5-2.8 8-4.7 26.7-17.4 20.9-12.8 20.3-11.5 5.8-2.9 7.2-3.2 7.2-2.8 8.7-3.1 5-1.4 7.2-1.7 5.8-1 6.5-0.7 8.7-0.7 6.5-0.2" stroke="#80ff9c"/>
<path d="M457 987l5-0.4 10-2.6 5-1.7 4.7-1.7 4.4-1.8 3.6-1.8 5-2.7 8-4.6 26.7-17.3 10.8-6.7 10.9-6.5 20.2-11.4 5.8-2.8 6.5-2.9 7.2-2.9 8.7-3 5-1.4 7.2-1.7 5.8-1 6.5-0.7 8.7-0.7 6.5-0.2" stroke="#7effa4"/>
<path d="M457 987l5-0.3 9.5-2.5 9.5-3.2 5.1-2 3.6-1.7 5-2.7 8-4.6 27.4-17.6 10.9-6.7 11.5-6.8 18.8-10.5 5.8-2.9 7.2-3.1 7.2-2.8 8-2.8 5-1.4 8-1.8 5.8-1 7.2-0.8 7.2-0.5 6.5-0.2" stroke="#7cffac"/>
<path d="M457.5 987l4.5-0.3 5.5-1.3 5.5-1.6 9.4-3.2 4.4-1.8 3.6-1.7 5.8-3.1 7.2-4.1 26.7-17.1 22.4-13.3 18.8-10.6 5.8-2.8 7.2-3.2 7.2-2.7 8-2.8 5-1.4 8-1.8 5.8-1 7.2-0.8 7.2-0.6 6.5-0.2" stroke="#7affb4"/>
<path d="M458 987l4-0.2 6-1.5 5.5-1.5 9.7-3.3 3.6-1.5 3.6-1.7 5.8-3 7.2-4.1 26.7-16.9 23.1-13.7 18.8-10.5 5.8-2.7 6.5-2.9 7.2-2.8 8-2.7 5-1.4 8-1.8 5.8-1 7.2-0.8 7.2-0.6 6.5-0.2" stroke="#78ffbc"/>
<path d="M458.5 987l3.5-0.2 6.5-1.5 6-1.7 9.4-3.2 3.6-1.5 3.6-1.7 12.3-6.7 27.4-17.2 23.2-13.6 18-10 5.8-2.8 6.5-2.8 7.2-2.8 8-2.7 5-1.4 8-1.8 5.8-1 7.2-0.8 7.2-0.6 6.5-0.2" stroke="#76ffc4"/>
<path d="M459 987l3-0.2 6.5-1.5 6.5-1.8 9.6-3.2 6.5-2.9 12.3-6.6 27.4-17 23.9-13.9 17.3-9.6 6.5-3.1 6.5-2.8 8-3 7.2-2.4 4.3-1.2 8.7-2 5.1-0.8 7.9-0.9 7.2-0.5 5.8-0.2" stroke="#74ffcc"/>
<path d="M459.5 987l2.5-0.1 2-0.5 6-1.4 6-1.7 9.3-3.1 6.5-2.9 12.3-6.6 27.5-16.9 23.8-13.8 17.3-9.5 5.8-2.7 6.5-2.8 8-3 7.2-2.4 4.3-1.2 8.7-2 5.1-0.8 7.9-0.9 7.2-0.5 5.8-0.2" stroke="#72ffd4"/>
<path d="M460.5 987l1.5-0.1 5.5-1.2 10.5-2.9 8.1-2.7 6.5-3 11.5-6.1 28.2-17.1 23.8-13.7 16.6-9.1 5.8-2.7 6.5-2.8 8-3 7.2-2.4 4.3-1.2 8.7-2 5.1-0.8 7.9-0.9 7.2-0.5 5.8-0.2" stroke="#70ffdc"/>
<path d="M461 987l1-0.1 6.5-1.4 10-2.7 7.6-2.6 6.5-2.8 11.5-6.1 28.2-17 24.5-14 15.9-8.6 5.8-2.7 6.5-2.8 8-3 7.2-2.4 4.3-1.2 8.7-2 5.1-0.8 7.9-0.9 7.2-0.5 5.8-0.2" stroke="#6effe4"/>
<path d="M462 987l9-2 9-2.5 6.8-2.4 6.5-2.9 11.5-6 31.8-18.9 14.5-8.2 15.1-8.4 8.7-4.5 10.1-4.4 8-3 7.2-2.4 4.3-1.2 8.7-1.9 5.1-0.9 7.9-0.9 7.2-0.5 5.8-0.2" stroke="#6bffe8"/>
<path d="M462 987l9.5-2.1 9-2.5 7-2.4 6.5-2.9 10.8-5.6 31.8-18.7 30.4-16.9 7.9-4.1 10.1-4.4 8-3 7.2-2.3 4.3-1.2 8.7-2 5.1-0.9 7.9-0.9 7.2-0.5 5.8-0.2" stroke="#68feeb"/>
<path d="M462 987l9.5-2 9-2.4 7-2.4 6.5-2.9 10.8-5.5 31.8-18.5 31.1-17.2 7.9-4.1 10.1-4.3 8-2.9 6.5-2.1 4.3-1.2 8.7-2 5.1-0.9 7.9-0.8 7.2-0.6 5.8-0.2" stroke="#65fdee"/>
<path d="M462 987l10-2.1 9-2.4 6.5-2.2 6.5-2.8 7.2-3.5 4.4-2.4 31.7-18.3 31.1-17 8-4 9.3-4 8-2.9 6.5-2.1 4.3-1.2 8.7-2 5.1-0.9 7.9-0.8 7.2-0.6 5.8-0.2" stroke="#62fdf0"/>
<path d="M462.5 987l10.5-2.3 8.7-2.3 6.5-2.2 6.5-2.8 6.5-3.2 4.4-2.3 31.7-18.1 31.8-17.3 8-3.9 9.4-4 7.9-2.8 6.5-2.1 6.5-1.7 6.5-1.4 5.1-0.8 7.9-0.9 6.5-0.5 5.8-0.1" stroke="#5efcf3"/>
<path d="M462.5 987l10.5-2.2 8.7-2.2 6.5-2.2 7.2-3.1 5.8-2.8 5.1-2.6 31-17.6 31.8-17.2 8-3.9 9.4-4 7.9-2.8 6.5-2.1 6.5-1.6 6.5-1.5 5.1-0.8 7.9-0.8 6.5-0.5 5.8-0.2" stroke="#5bfcf6"/>
<path d="M462.5 987l10.5-2.1 8.7-2.2 6.5-2.1 7.2-3.1 5.8-2.7 5.1-2.6 31.8-17.8 31.8-17.1 7.9-3.9 8.7-3.6 7.9-2.8 6.5-2 6.5-1.7 6.5-1.4 5.1-0.9 7.9-0.8 6.5-0.5 5.8-0.2" stroke="#58fbf8"/>
<path d="M462.5 987l11-2.2 8.9-2.2 6.5-2.1 7.3-3.1 5.7-2.7 5.1-2.6 31.1-17.2 31.8-17 7.9-3.8 9.4-3.9 7.2-2.6 6.5-2 6.5-1.7 6.5-1.4 5.1-0.8 7.9-0.9 6.5-0.5 5.8-0.2" stroke="#55fbfb"/>
<path d="M463 987l11-2.2 9.2-2.3 6.5-2.2 7.2-3 5.8-2.7 5-2.6 30.4-16.6 32.5-17.3 7.9-3.8 8.7-3.5 7.2-2.5 6.5-2.1 6.5-1.6 6.5-1.5 5.1-0.8 7.9-0.9 6.5-0.5 5.8-0.2" stroke="#51fafe"/>
<path d="M463 987l11-2.1 9.2-2.3 6.5-2.1 7.9-3.3 5.1-2.4 5.8-2.9 29.6-16 32.5-17.2 7.9-3.7 8.7-3.6 7.2-2.5 6.5-2 6.5-1.7 6.5-1.4 5.1-0.9 7.9-0.8 6.5-0.5 5.8-0.2" stroke="#4ff0ff"/>
<path d="M463 987l12.5-2.4 9.1-2.2 6.5-2.3 8.7-3.7 10.1-4.9 27.4-14.7 33.3-17.5 8.6-4.1 8.7-3.4 7.2-2.5 5.8-1.8 7.2-1.8 6.5-1.4 4.4-0.7 8.6-1 6.5-0.5 5.1-0.1" stroke="#4ddfff"/>
<path d="M463 987l12.5-2.3 9.1-2.2 6.5-2.2 9.4-3.9 5.8-2.8 9.4-4.8 20.2-10.8 35.4-18.5 7.9-3.6 8.7-3.5 7.2-2.5 5.8-1.8 7.2-1.8 6.5-1.4 4.4-0.7 8.6-0.9 6.5-0.5 5.1-0.2" stroke="#4bcfff"/>
<path d="M463.5 987l12-2.2 9.1-2.2 6.5-2.1 9.4-3.9 5.8-2.7 10.1-5.1 54.9-28.7 8.7-3.9 8.6-3.4 7.3-2.5 5.7-1.7 7.3-1.8 5.7-1.3 4.4-0.7 8.6-0.9 6.5-0.5 5.1-0.1" stroke="#48beff"/>
<path d="M463.5 987l12-2.2 9.1-2.1 6.5-2.1 9.4-3.8 5.8-2.6 10.1-5.1 54.9-28.4 8.7-3.9 8.6-3.4 7.3-2.5 5.7-1.7 7.3-1.8 5.7-1.2 4.4-0.7 8.6-1 6.5-0.4 5.1-0.2" stroke="#46adff"/>
<path d="M463.5 987l12.5-2.2 9.3-2.2 6.5-2.1 9.4-3.7 5.8-2.7 10.1-5 54.9-28.1 8.7-3.9 7.9-3.1 7.3-2.4 5.7-1.7 7.3-1.8 5.7-1.3 4.4-0.7 8.6-0.9 6.5-0.5 5.1-0.2" stroke="#43a3ff"/>
<path d="M463.5 987l12.5-2.1 9.3-2.1 6.5-2.1 9.4-3.7 6.5-2.9 10.1-5 54.2-27.5 8.7-3.9 8.7-3.3 6.5-2.2 5.7-1.7 8-1.9 5.8-1.2 4.3-0.7 8.7-0.9 5.7-0.5 5.1-0.1" stroke="#409bff"/>
<path d="M463.5 987l12.5-2.1 9.3-2 6.5-2 9.4-3.7 6.5-2.8 10.1-4.9 54.2-27.3 8.7-3.8 8.7-3.4 6.5-2.1 5.7-1.7 8-2 5.8-1.2 4.3-0.7 8.7-0.9 5.7-0.4 5.1-0.2" stroke="#3d93ff"/>
<path d="M463.5 987l12.5-2 9.3-2 6.5-2 10.1-3.8 6.6-2.9 10.1-4.8 54.1-27 9.4-4.1 8-3 6.5-2.1 5.8-1.7 7.9-1.9 5.1-1 4.3-0.7 8.7-0.9 5.7-0.5 5.1-0.2" stroke="#398aff"/>
<path d="M463.5 987l12.5-1.9 9.3-2 7.3-2.2 9.3-3.5 6.6-2.8 10.8-5 53.4-26.5 9.4-4.1 8-3 6.5-2.1 5.8-1.7 7.9-1.9 5.1-1 4.3-0.7 8.7-0.9 5.7-0.5 5.1-0.2" stroke="#3682ff"/>
<path d="M464 987l12.5-2 8.8-1.8 7.3-2.1 10.1-3.7 6.5-2.8 10.1-4.6 53.4-26.4 9.4-4.1 8-2.9 6.5-2.1 5.8-1.7 7.9-1.9 5.1-1.1 4.3-0.6 8.7-1 5.7-0.4 5.1-0.2" stroke="#337aff"/>
<path d="M464 987l12.5-1.9 8.8-1.8 7.3-2 10.1-3.7 6.5-2.7 10.1-4.5 54.2-26.6 9.4-4 7.9-2.9 5.8-1.9 5.8-1.6 7.9-2 5.1-1 4.3-0.7 8.7-0.9 5.7-0.5 5.1-0.2" stroke="#3175ff"/>
<path d="M464 987l13-1.9 9.1-1.8 7.2-2.1 10.1-3.6 15.9-6.8 54.2-26.5 9.4-4 8.6-3.2 5.8-1.8 5.8-1.6 7.9-1.9 5.1-1 3.6-0.6 9.4-1 5-0.4 5.1-0.2" stroke="#3071fe"/>
<path d="M464 987l13-1.9 9.1-1.7 7.9-2.3 10.1-3.5 15.2-6.4 9.4-4.7 44.8-21.8 9.4-3.9 8.6-3.2 5.8-1.8 5.8-1.6 7.9-1.9 5.1-1 3.6-0.6 9.4-1 5-0.4 5.1-0.2" stroke="#2f6dfe"/>
<path d="M464 987l13-1.8 9.1-1.7 7.9-2.2 10.8-3.7 14.5-5.9 9.4-4.8 31-14.9 13.8-6.8 10.1-4.3 8.6-3.1 10.9-3.2 7.9-1.9 5.1-1 3.6-0.5 9.4-1.1 5-0.4 5.1-0.2" stroke="#2e69fd"/>
<path d="M464 987l13-1.7 9.1-1.7 8.6-2.3 10.9-3.7 13.7-5.5 9.4-4.9 31-14.8 13.8-6.8 10.1-4.2 8.6-3.1 10.9-3.2 7.9-1.9 5.1-1 3.6-0.6 9.4-1 5-0.4 5.1-0.2" stroke="#2d65fd"/>
<path d="M464 987l13.5-1.7 9.3-1.7 9.4-2.6 5.7-1.8 5.1-1.8 12.3-4.9 10.1-5.2 30.3-14.5 13.8-6.8 10.8-4.5 8.7-3.1 10.1-2.9 7.9-1.9 5.1-1 3.6-0.6 9.4-1 10.1-0.6" stroke="#2c61fc"/>
<path d="M464.5 987l13.5-1.7 9.5-1.7 5.1-1.3 7.2-2.2 9.4-3.2 10.1-3.9 4.3-2.5 5.8-2.9 31.1-14.8 13-6.4 10.8-4.5 8.7-3.1 10.1-2.9 7.9-1.9 5.1-1 3.6-0.6 9.4-1.1 10.1-0.6" stroke="#2b5dfc"/>
<path d="M464.5 987l14-1.7 9.7-1.8 5.8-1.4 7.2-2.2 10.9-3.7 7.2-2.8 4.3-2.5 5.8-3 44.1-21.1 10.8-4.6 8.7-3 10.1-2.9 7.9-1.9 5.1-1.1 3.6-0.5 9.4-1.1 10.1-0.6" stroke="#2a59fb"/>
<path d="M464.5 987l15-1.8 5.8-0.9 4.4-1 5.7-1.5 7.3-2.1 13.7-4.8 2.9-1 5-3 7.3-3.7 28.9-13.7 12.2-6 11.6-4.9 9.4-3.3 10.1-2.9 7.9-1.8 5.1-1 12.3-1.5 10.1-0.6" stroke="#2955fb"/>
<path d="M464.5 987l15-1.7 5.8-0.9 4.4-0.9 13-3.5 15.1-5.2 1.5-0.5 4.3-2.7 7.2-3.7 29.7-14.1 12.2-6 11.6-4.8 9.4-3.3 10.1-2.9 7.9-1.9 5.1-1 12.3-1.5 10.1-0.6" stroke="#2851fa"/>
<path d="M465 987l15.5-1.8 5.6-0.9 4.3-0.8 13-3.4 15.9-5.4 4.3-2.7 6.5-3.4 30.4-14.4 11.5-5.7 11.6-4.9 5-1.9 5.1-1.7 10.1-2.8 7.9-1.9 5.1-1 12.3-1.5 10.1-0.7" stroke="#284ffa"/>
<path d="M465 987l15.5-1.7 5.6-0.8 4.3-0.9 13-3.3 15.9-5.1 4.3-2.8 6.5-3.5 10.9-5.3 19.5-9.1 11.5-5.6 12.3-5.3 4.3-1.6 5.8-1.9 9.4-2.6 7.9-1.9 5.1-1 12.3-1.5 10.1-0.6" stroke="#274dfa"/>
<path d="M465 987l15.5-1.6 5.6-0.8 4.3-0.8 13-3.2 15.9-5 4.3-2.9 6.5-3.5 41.9-20 12.3-5.2 4.3-1.6 5.8-1.9 9.4-2.7 7.9-1.8 5.1-1 12.3-1.6 10.1-0.6" stroke="#274cf9"/>
<path d="M465 987l15.5-1.6 5.6-0.7 4.3-0.8 13-3 15.9-4.8 4.3-3 7.2-4 40.5-19.2 13-5.6 4.3-1.6 5.8-1.9 9.4-2.6 7.9-1.9 5.1-1 12.3-1.5 10.1-0.7" stroke="#264af9"/>
<path d="M465.5 987l15-1.5 9.9-1.5 13-2.9 15.2-4.3 0.7-0.3 3.6-2.6 3.6-2.2 10.8-5.5 23.2-10.8 13-6.2 7.9-3.4 6.5-2.5 5.8-1.9 6.5-2 7.9-1.9 6.5-1.5 4.4-0.7 8.6-1.1 6.5-0.5 5.1-0.3" stroke="#2649f9"/>
<path d="M465.5 987l15-1.4 9.9-1.4 13-2.8 15.9-4.4 2.9-2.3 2.9-1.8 4.3-2.4 6.5-3.3 24.6-11.4 12.2-6 8-3.4 6.5-2.5 6.5-2.2 6.5-1.9 7.9-2 6.5-1.4 4.4-0.8 8.6-1 6.5-0.6 5.1-0.3" stroke="#2547f9"/>
<path d="M465.5 987l15-1.3 9.9-1.4 13-2.7 15.9-4.2 2.9-2.3 2.9-1.9 4.3-2.4 6.5-3.3 24.6-11.4 12.2-5.9 8-3.5 6.5-2.5 6.5-2.2 6.5-1.9 7.9-2 6.5-1.4 4.4-0.7 8.6-1.1 6.5-0.6 5.1-0.2" stroke="#2546f8"/>
<path d="M466 987l15-1.3 10.1-1.4 13-2.6 15.2-3.8 2.9-2.4 2.9-1.9 4.3-2.5 6.5-3.3 24.6-11.4 12.2-5.9 8.7-3.7 5.8-2.3 6.5-2.1 6.5-1.9 14.4-3.4 4.4-0.8 8.6-1 6.5-0.6 5.1-0.3" stroke="#2444f8"/>
<path d="M466 987l15-1.2 10.1-1.3 13-2.5 15.2-3.7 2.9-2.5 2.9-1.9 4.3-2.5 6.5-3.3 24.6-11.4 12.2-5.8 8.7-3.8 5.8-2.2 6.5-2.2 6.5-1.9 14.4-3.4 4.4-0.7 8.6-1.1 5.8-0.5 5.8-0.4" stroke="#2443f8"/>
<path d="M466.5 987l15.2-1.2 9.4-1.2 13-2.3 15.2-3.6 2.9-2.5 2.9-2 4.3-2.5 6.5-3.3 36.8-17.2 8.7-3.7 5.8-2.3 6.5-2.1 6.5-1.9 14.4-3.4 4.4-0.7 8.6-1.1 5.8-0.6 5.8-0.3" stroke="#2341f8"/>
<path d="M466.5 987l15.2-1.1 9.4-1.1 13-2.3 15.2-3.3 2.9-2.6 2.9-2 4.3-2.6 6.5-3.3 36.8-17.1 8.7-3.7 5.8-2.3 6.5-2.2 6.5-1.8 14.4-3.4 4.4-0.7 8.6-1.1 5.8-0.6 5.8-0.3" stroke="#2340f7"/>
<path d="M467 987l14.7-1.1 9.4-1 13-2.1 15.2-3.2 2.9-2.7 2.9-2 4.3-2.6 6.5-3.3 36.8-17.1 8.7-3.7 5.8-2.2 6.5-2.2 6.5-1.8 14.4-3.4 4.4-0.7 8.6-1.1 5.8-0.6 5.8-0.3" stroke="#223ef7"/>
<path d="M467 987l14.7-1 9.4-1 13-2 15.2-3 2.9-2.7 2.9-2.1 4.3-2.5 6.5-3.4 7.2-3.4 17.4-7.8 12.2-5.8 8.7-3.7 5.8-2.2 5.8-1.9 6.5-1.9 7.9-2 7.2-1.6 4.4-0.7 8.6-1.1 5.8-0.6 5.8-0.3" stroke="#223df7"/>
<path d="M467.5 987l14.2-0.9 9.4-0.9 13-1.9 15.2-2.9 2.9-2.7 2.9-2.2 4.3-2.5 5.8-3 7.9-3.8 17.4-7.7 12.2-5.8 8.7-3.6 5.8-2.3 5.8-1.9 6.5-1.9 7.9-1.9 7.2-1.6 4.4-0.7 8.6-1.1 5.8-0.6 5.8-0.4" stroke="#213bf7"/>
<path d="M468 987l14.4-0.9 9.4-0.9 12.3-1.7 15.2-2.7 2.9-2.8 2.9-2.1 4.3-2.6 5.8-3 7.9-3.8 17.4-7.6 12.2-5.7 8.7-3.7 5.8-2.3 5.8-1.8 6.5-1.9 15.1-3.5 4.4-0.8 8.6-1.1 5.8-0.6 5.8-0.3" stroke="#213af6"/>
<path d="M468 987l14.4-0.8 9.4-0.9 12.3-1.6 15.2-2.5 2.9-2.8 2.9-2.2 4.3-2.6 5.8-3 7.9-3.7 17.4-7.6 12.2-5.7 13.8-5.6 5.7-2 7.3-2 15.1-3.5 5.1-0.9 7.9-1 5.8-0.6 5.8-0.3" stroke="#2038f6"/>
<path d="M468.5 987l13.9-0.8 9.4-0.7 12.3-1.5 15.2-2.4 2.9-2.9 2.9-2.1 4.3-2.6 5.8-3 7.9-3.8 17.4-7.5 12.2-5.6 13.8-5.6 5.7-1.9 6.5-1.9 8-2 7.9-1.7 5.1-0.8 7.9-1 5.8-0.6 5.8-0.4" stroke="#2037f6"/>
<path d="M469 987l13.4-0.7 9.4-0.7 12.3-1.4 15.2-2.2 2.9-2.9 2.9-2.2 4.3-2.6 5.8-3 8.6-4 16.7-7.2 12.2-5.5 13.8-5.6 5.7-1.9 6.5-1.9 8-1.9 7.9-1.7 5.1-0.9 7.9-1 5.8-0.6 5.8-0.4" stroke="#1f35f6"/>
<path d="M469.5 987l13.7-0.7 9.4-0.7 12.2-1.3 14.5-1.9 2.9-3 2.9-2.2 4.3-2.6 5.8-2.9 8.6-4 16.7-7.1 12.2-5.5 13.8-5.6 5.7-1.9 6.5-1.8 8-1.9 7.9-1.7 5.1-0.9 7.9-1 5.8-0.6 5.8-0.4" stroke="#1f34f5"/>
<path d="M470 987l13.2-0.6 9.4-0.6 12.2-1.3 14.5-1.8 2.9-2.9 2.9-2.2 4.3-2.6 5.8-2.9 8.6-4 16.7-7 12.2-5.4 13.8-5.6 5.7-1.9 6.5-1.8 15.9-3.6 5.1-0.8 7.9-1 5.8-0.6 5.8-0.4" stroke="#1e32f5"/>
<path d="M470.5 987l13.4-0.6 8.7-0.5 12.2-1.1 14.5-1.7 2.9-3 2.9-2.2 4.3-2.5 5.8-3 8.6-3.9 16.7-6.9 12.2-5.4 9.4-3.8 5.1-1.9 5.8-1.8 6.5-1.8 15.1-3.4 5.1-0.8 7.9-1.1 11.6-1" stroke="#1e31f5"/>
<path d="M471.5 987l13.1-0.5 8.7-0.6 11.5-0.9 14.5-1.6 2.9-2.9 2.9-2.2 4.3-2.6 5.8-2.9 8.6-3.8 16.7-6.8 12.2-5.4 14.5-5.7 5-1.6 6.5-1.7 15.9-3.6 5.1-0.8 7.9-1 11.6-1.1" stroke="#1d2ff4"/>
<path d="M472 987l12.6-0.5 8.7-0.5 11.5-0.8 14.5-1.4 2.9-3 2.9-2.2 4.3-2.5 5.8-2.8 8.6-3.9 16.7-6.7 12.2-5.2 14.5-5.7 5-1.5 6.5-1.8 15.9-3.5 5.1-0.9 7.9-1 11.6-1" stroke="#1d2ef4"/>
<path d="M473 987l12.3-0.4 8.7-0.5 10.8-0.7 14.5-1.3 2.9-2.9 2.9-2.2 4.3-2.5 5.8-2.8 10.1-4.4 15.2-6 13.7-5.7 13-5 5-1.6 6.5-1.7 15.9-3.5 5.1-0.8 7.9-1.1 11.6-1" stroke="#1c2df3"/>
<path d="M474 987l20-0.8 10.8-0.7 14.5-1.1 2.9-2.9 2.9-2.1 4.3-2.5 5.8-2.8 9.4-4 15.9-6.1 20.2-8.2 6.5-2.4 5-1.6 6.5-1.7 15.9-3.4 5.1-0.9 7.9-1 11.6-1.1" stroke="#1c2bf3"/>
<path d="M475.5 987l19.9-0.7 23.9-1.6 2.9-2.9 2.9-2.1 3.6-2 5.8-2.8 10.1-4.2 15.9-6.1 20.9-8.3 5.8-2.1 5-1.6 6.5-1.6 15.9-3.4 5.1-0.9 7.9-1 11.6-1.1" stroke="#1b2af2"/>
<path d="M477 987l19.2-0.7 23.1-1.3 2.9-2.8 2.9-2.1 3.6-2 5.8-2.7 9.3-3.9 15.9-5.9 13.8-5.4 13.7-5.1 5-1.6 6.5-1.6 15.9-3.4 5.1-0.8 7.9-1 11.6-1.1" stroke="#1b29f2"/>
<path d="M478.5 987l19.1-0.6 21.7-1.2 2.9-2.7 2.9-2 3.6-2 5.8-2.6 9.3-3.8 15.9-5.7 21.7-8.4 6.5-2.3 5.1-1.4 5.7-1.4 16.7-3.5 13-1.8 10.8-1" stroke="#1b28f2"/>
<path d="M480.5 987l19.3-0.6 19.5-0.9 2.9-2.7 2.9-1.9 3.6-1.9 5.8-2.6 9.3-3.7 16.7-5.8 21.6-8.2 5.8-2 5.1-1.4 5.7-1.4 16.7-3.4 13-1.8 10.8-1.1" stroke="#1a26f1"/>
<path d="M482.4 987l18.1-0.5 18.8-0.8 2.9-2.5 2.9-1.9 3.6-1.9 5.8-2.4 8.6-3.4 17.4-5.9 22.4-8.2 5-1.7 5.1-1.4 5.7-1.4 16.7-3.4 13-1.8 10.8-1" stroke="#1a25f1"/>
<path d="M485.3 987l34-1 2.9-2.5 2.9-1.8 3.6-1.8 5.8-2.4 8.6-3.2 18.1-6 26.7-9.5 5.1-1.3 5.7-1.4 16.7-3.3 13-1.8 10.8-1" stroke="#1924f0"/>
<path d="M488.2 987l31.1-0.8 2.9-2.4 2.1-1.3 3.7-1.8 5.7-2.3 8.7-3.1 18.8-6.1 22.4-7.8 5-1.6 10.1-2.5 16.7-3.2 13-1.8 10.8-1.1" stroke="#1922f0"/>
<path d="M491.1 987l28.2-0.6 2.9-2.3 2.1-1.2 3.7-1.7 5.7-2.2 10.1-3.5 18.1-5.5 22.4-7.7 4.3-1.3 10.1-2.4 16.7-3.2 13-1.8 10.8-1.1" stroke="#1821ef"/>
<path d="M494.7 987l24.6-0.5 2.9-2.1 2.1-1.1 3.7-1.6 5-1.9 10.1-3.3 19.5-5.7 26-8.5 9.4-2.2 17.4-3.2 12.2-1.8 11.6-1.2" stroke="#1820ef"/>
<path d="M499.8 987l19.5-0.3 2.9-1.9 2.1-1.1 3.7-1.5 4.3-1.5 10.8-3.4 19.5-5.5 22.4-7.1 4.4-1.3 9.3-2 17.4-3.2 12.3-1.7 10.8-1.1" stroke="#171eee"/>
<path d="M507 987l12.3-0.2 2.9-1.7 2.1-1 7.3-2.5 10.8-3.2 20.2-5.4 13-3.9 10.1-3.2 5.8-1.6 8.7-1.7 16.6-2.9 12.3-1.7 10.1-1.1" stroke="#171dee"/>
<path d="M516.4 987l2.9-0.1 4.3-2.1 5.8-2 12.3-3.4 21.7-5.4 12.2-3.5 10.1-3.2 4.4-1.1 8.6-1.8 18.1-3.1 12.3-1.6 10.1-1.1" stroke="#171cee"/>
<path d="M519.3 987l3.6-1.6 5.8-1.8 13-3.3 21.7-5.1 12.2-3.3 10.1-3 4.4-1.2 7.9-1.5 18.8-3.2 12.3-1.6 10.1-1.1" stroke="#161bed"/>
<path d="M519.3 987.1l3.6-1.3 4.3-1.2 14.5-3.3 21.7-4.7 12.2-3.2 10.1-2.9 5.1-1.3 7.2-1.3 18.8-3.1 11.6-1.5 10.8-1.2" stroke="#1619ed"/>
<path d="M520 987l2.9-0.9 4.3-0.9 36.2-7.3 12.2-2.9 10.9-3 5-1.2 26-4.2 11.6-1.5 10.1-1.2" stroke="#1518ec"/>
<path d="M520 987.1l41.9-7.4 13-2.9 12.3-3.3 5.8-1.1 25.3-3.9 20.9-2.6" stroke="#1517ec"/>
<path d="M521.5 987l13-1.6 26.7-4.1 13-2.6 13-3.3 6.5-1.2 25.3-3.8 20.2-2.5" stroke="#1415eb"/>
</g>
<path class="k" d="M438 987.2l3 0 2-0.9 2-1.4 2-1.8 2-2.3 2-2.8 2-3.2 3-5.7 3.5-7.8 4-9.9 13.5-34.8 3.5-8.7 4.8-11.2 4.4-8.9 2.1-3.9 2.9-4.7 2.9-4.2 2.9-3.7 3.6-4.2 3.6-3.8 3.6-3.4 3.7-2.9 3.6-2.5 5-2.9 5.1-2.5 5.8-2.5 5.7-2 5.8-1.7 6.5-1.6 6.5-1.3 6.5-1 7.2-0.9 8-0.7 8.7-0.6 25.2-1.1 24.6-0.5"/>
</g>
<rect class="f" x="398.3" y="581.9" width="240.4" height="405.3"/>
<text class="a" x="392.0" y="591.1" text-anchor="end">0.7</text>
<text class="a" x="391.7" y="996.8" text-anchor="end">0</text>
<text class="a" x="397.9" y="1017.2" text-anchor="middle">0</text>
<text class="a" x="639.0" y="1017.2" text-anchor="middle">1</text>
<text class="i" x="517.1" y="1049.8" text-anchor="middle">ξ</text>
<text class="e" transform="translate(342.8 787.7) rotate(-90)" text-anchor="middle">η</text>
<text class="a" x="414.9" y="632.2">t</text>
<rect x="427.7" y="621.6" width="7.4" height="2"/><rect x="427.7" y="626.6" width="7.4" height="2"/>
<text class="a" x="436.9" y="632.2">3.25</text>
<clipPath id="c6"><rect x="715.8" y="581.9" width="240.4" height="405.3"/></clipPath>
<g clip-path="url(#c6)">
<g class="l">
<path d="M715.8 759.1l10.5 0.3 5 0.5 4.5 0.6 4.5 0.8 4.5 1.1 4.1 1.1 4 1.4 4 1.7 3.5 1.7 3.5 1.9 3.5 2.3 3.5 2.5 3 2.5 3 2.8 3 3.2 3 3.4 2.5 3.3 3 4.2 2.5 4 5 9 4.5 9.5 4.5 11.3 4.6 13.1 4 13.6 4 15.6" stroke="#7f0000" stroke-width="1"/>
<path d="M715.8 807.6l9 0.2 8.5 0.8 8 1.5 7.1 1.9 3.5 1.2 3.5 1.5 6 3.1 5.5 3.6 3 2.4 2.5 2.3 5 5.2 2.5 3.1 2.5 3.4 4.5 7 4 7.4 4 8.7 4 10.2 3.5 10.3 3.5 11.8" stroke="#850000" stroke-width="1"/>
<path d="M715.8 834.4l8.5 0.2 8 0.8 7.5 1.3 6.6 1.8 6 2.3 6 3 5 3.4 5 4.2 4.5 4.6 4.5 5.7 4 6.2 4 7.2 3.5 7.5 3.5 8.7 3.5 10.2 3 9.9" stroke="#8d0000" stroke-width="1"/>
<path d="M715.8 852.8l8 0.2 7.5 0.7 7 1.1 6 1.6 6.1 2.1 5.5 2.7 5 3.1 4.5 3.6 4.5 4.4 4 4.8 4 5.8 3.5 6 3.5 7.1 3.5 8.2 3 8.3 3 9.4" stroke="#930000" stroke-width="1"/>
<path d="M715.8 866.6l8 0.2 7 0.6 6.5 1 6 1.5 5.6 1.8 5 2.3 5 2.9 4.5 3.3 4 3.7 4 4.5 4 5.4 3.5 5.7 3.5 6.7 3 6.7 3 7.7 3 8.9" stroke="#990000" stroke-width="1"/>
<path d="M715.8 877.4l7.5 0.2 7 0.5 6.5 1 6 1.3 5.6 1.8 5 2.2 4.5 2.5 4.5 3.2 4 3.5 4 4.3 3.5 4.5 3.5 5.4 3.5 6.4 3 6.4 3 7.4 2.5 7.1" stroke="#a00000" stroke-width="1"/>
<path d="M715.8 887.2l7.5 0.2 6.5 0.4 6 0.9 6 1.2 5.1 1.5 5 1.9 4.5 2.3 4.5 2.9 4 3.3 3.5 3.4 3.5 4.2 3.5 4.9 3.5 5.9 3 5.9 3 6.9 2.5 6.5" stroke="#a70000" stroke-width="1"/>
<path d="M715.8 895.4l7.5 0.2 6.5 0.4 6 0.8 5.5 1.1 5.1 1.4 5 1.9 4.5 2.2 4 2.4 4 3.1 3.5 3.2 3.5 4 3.5 4.6 3 4.8 3 5.5 3 6.5 2.5 6.2" stroke="#ae0000" stroke-width="1"/>
<path d="M715.8 902.1l7 0.1 6.5 0.5 6 0.7 5.5 1 5 1.3 4.6 1.6 4.5 2 4 2.3 4 2.9 3.5 3.1 3.5 3.7 3 3.7 3 4.4 3 5.2 3 6 2.5 5.7" stroke="#b50000" stroke-width="1"/>
<path d="M715.8 908.3l7 0.1 6 0.4 6 0.7 5.5 0.9 5 1.3 4.6 1.5 4.5 1.9 4 2.2 4 2.7 3.5 3 3.5 3.5 3 3.7 3 4.2 3 5 2.5 4.9 2.5 5.5" stroke="#bc0000" stroke-width="1"/>
<path d="M715.8 913.5l7 0.1 6 0.4 6 0.6 5.5 1 5 1.2 4.6 1.4 4 1.7 4 2.1 3.5 2.2 3.5 2.8 3.5 3.3 3 3.4 3 4 3 4.8 2.5 4.5 2.5 5.2" stroke="#c20000" stroke-width="1"/>
<path d="M715.8 918.1l7 0.1 6 0.4 5.5 0.5 5.5 0.9 5 1.1 4.6 1.4 4 1.6 4 2 3.5 2.1 3.5 2.7 3.5 3.2 3 3.2 3 3.9 2.5 3.8 2.5 4.2 2.5 4.9" stroke="#c90000" stroke-width="1"/>
<path d="M715.8 922.3l6.5 0.1 6 0.3 5.5 0.5 5.5 0.8 4.5 1 4.6 1.2 4 1.5 4 1.8 3.5 2 3.5 2.5 3.5 3 3 3 3 3.6 2.5 3.5 2.5 4.1 2.5 4.6" stroke="#d00000" stroke-width="1"/>
<path d="M715.8 925.9l6.5 0.1 6 0.3 5.5 0.5 5.5 0.8 4.5 0.9 4.6 1.2 4 1.4 4 1.8 3.5 2 3.5 2.4 3 2.5 3 2.9 3 3.5 2.5 3.4 2.5 3.8 2.5 4.5" stroke="#d70000" stroke-width="1"/>
<path d="M715.8 929.3l6.5 0.1 6 0.3 5.5 0.5 5 0.7 4.5 0.8 4.6 1.2 4 1.3 4 1.7 3.5 1.9 3.5 2.3 3 2.3 3 2.8 3 3.4 2.5 3.2 2.5 3.7 2.5 4.3" stroke="#dd0000" stroke-width="1"/>
<path d="M715.8 932.3l6.5 0.1 6 0.3 5.5 0.4 5 0.7 4.5 0.8 4.6 1.2 4 1.3 3.5 1.4 3.5 1.8 3.5 2.2 3 2.2 3 2.7 3 3.2 2.5 3.1 2.5 3.6 2.5 4.1" stroke="#e40000" stroke-width="1"/>
<path d="M715.8 934.9l6.5 0.1 6 0.3 5.5 0.4 5 0.7 4.5 0.8 4.6 1.1 4 1.3 3.5 1.4 3.5 1.7 3 1.8 3 2.2 3 2.5 3 3.1 2.5 2.9 2.5 3.5 2.5 3.9" stroke="#eb0000" stroke-width=".95"/>
<path d="M715.8 937.4l12 0.3 5.5 0.4 5 0.6 4.5 0.8 4.6 1.1 4 1.2 3.5 1.3 3.5 1.6 3 1.8 3 2 3 2.5 3 2.9 2.5 2.8 2.5 3.3 2.5 3.8" stroke="#f20000" stroke-width=".95"/>
<path d="M715.8 939.6l12 0.3 5.5 0.4 5 0.6 4.5 0.8 4.6 1 4 1.2 3.5 1.3 3.5 1.6 3 1.7 3 2 3 2.4 2.5 2.3 2.5 2.8 2.5 3.1 2.5 3.7" stroke="#f80000" stroke-width=".9"/>
<path d="M715.8 941.6l12 0.3 5.5 0.4 5 0.6 4.5 0.7 4.1 0.9 4 1.1 3.5 1.2 3.5 1.6 3 1.6 3 1.9 3 2.3 2.5 2.3 2.5 2.6 2.5 3 2.5 3.5" stroke="#fe0000" stroke-width=".9"/>
<path d="M715.8 943.5l12 0.3 10 0.9 4.5 0.7 4.1 0.8 4 1 3.5 1.2 3.5 1.5 3 1.5 3 1.8 3 2.2 2.5 2.2 2.5 2.5 2.5 2.9 2.5 3.3" stroke="#ff0100" stroke-width=".9"/>
<path d="M715.8 945.3l12 0.3 10 0.9 4.5 0.7 4.1 0.8 4 1.1 3.5 1.2 3.5 1.5 3 1.5 3 1.9 2.5 1.8 2.5 2.2 2.5 2.4 2.5 2.9 2.5 3.3" stroke="#ff0200" stroke-width=".85"/>
<path d="M715.8 947.1l12 0.3 10 0.9 4.5 0.7 4.1 0.9 3.5 0.9 3.5 1.2 3.5 1.5 3 1.6 3 1.8 2.5 1.9 2.5 2.1 2.5 2.6 2.5 2.9 2.5 3.4" stroke="#ff0300" stroke-width=".85"/>
<path d="M715.8 948.8l11.5 0.3 10 0.8 4.5 0.7 4 0.9 3.6 0.9 3.5 1.2 3.5 1.5 3 1.6 3 1.9 2.5 1.8 2.5 2.2 2.5 2.5 2.5 3 2 2.7" stroke="#ff0400" stroke-width=".85"/>
<path d="M715.8 950.4l11.5 0.3 9.5 0.8 4.5 0.7 4 0.8 3.6 1 3.5 1.2 3.5 1.4 3 1.6 3 1.9 2.5 1.9 2.5 2.1 2.5 2.6 2.5 3 2 2.7" stroke="#ff0500" stroke-width=".85"/>
<path d="M715.8 951.9l11.5 0.3 9.5 0.9 4 0.6 4 0.8 3.6 0.9 3.5 1.2 3.5 1.5 3 1.5 3 1.9 2.5 1.9 2.5 2.2 2.5 2.5 2.5 3 2 2.7" stroke="#ff0700" stroke-width=".85"/>
<path d="M715.8 953.4l11.5 0.3 9.5 0.9 4 0.6 4 0.8 3.6 1 3.5 1.2 3 1.2 3 1.6 3 1.8 2.5 1.9 2.5 2.2 2.5 2.5 2.5 3 2 2.7" stroke="#ff0900" stroke-width=".85"/>
<path d="M715.8 954.8l11 0.3 9.5 0.8 4 0.6 4 0.9 3.6 0.9 3.5 1.2 3 1.2 3 1.5 3 1.9 2.5 1.8 2.5 2.2 2.5 2.5 2.5 3 2 2.7" stroke="#ff0c00"/>
<path d="M715.8 956.2l11 0.3 9.5 0.8 4 0.6 4 0.8 3.6 1 3.5 1.2 3 1.2 3 1.6 3 1.9 2.5 1.9 2.5 2.2 2 2 2.5 2.9 2 2.8" stroke="#ff1000"/>
<path d="M715.8 957.5l11 0.3 9.5 0.8 4 0.6 4 0.9 3.6 0.9 3 1 3 1.3 3 1.5 3 1.9 2.5 1.8 2.5 2.2 2 2 2.5 2.9 2 2.7" stroke="#ff1300"/>
<path d="M715.8 958.7l11 0.3 9 0.8 4 0.6 4 0.8 3.6 0.9 3 1 3 1.2 3 1.5 3 1.9 2.5 1.8 2.5 2.1 2 2 2.5 2.9 2 2.7" stroke="#ff1d00"/>
<path d="M715.8 959.9l11 0.3 9 0.8 4 0.6 4 0.8 3.6 0.9 3 1 3 1.3 3 1.5 2.5 1.5 2.5 1.8 2.5 2.1 2 2 2.5 2.8 2 2.6" stroke="#ff2e00"/>
<path d="M715.8 961.1l10.5 0.2 9 0.8 4 0.5 4 0.8 3.6 0.9 3 1 3 1.2 3 1.5 2.5 1.5 2.5 1.7 2.5 2.1 2 1.9 2.5 2.8 2 2.6" stroke="#ff4000"/>
<path d="M715.8 962.2l10.5 0.2 9 0.8 7.5 1.2 3.6 0.9 3 0.9 3 1.2 3 1.4 2.5 1.5 2.5 1.7 2.5 2 2 1.9 2.5 2.7 2 2.6" stroke="#ff5400"/>
<path d="M715.8 963.2l10.5 0.3 9 0.7 7.5 1.3 3.6 0.8 3 1 3 1.2 3 1.4 2.5 1.4 2.5 1.8 2.5 2 2 1.9 2 2.2 2 2.5" stroke="#ff6700"/>
<path d="M715.8 964.2l10 0.2 9 0.8 7.5 1.1 3.5 0.9 3.1 0.9 3 1.1 3 1.4 2.5 1.5 2.5 1.6 2.5 2 2 1.9 2 2.1 2 2.4" stroke="#ff7600"/>
<path d="M715.8 965.2l10.5 0.2 8.5 0.7 7 1.1 6.6 1.7 3 1.1 3 1.3 2.5 1.4 2.5 1.6 2.5 2 2 1.8 2 2 2 2.4" stroke="#ff8400"/>
<path d="M715.8 966.1l10.5 0.3 8.5 0.6 7.5 1.2 3.5 0.8 3.1 1 3 1.1 2.5 1.1 2.5 1.4 2.5 1.6 2.5 2 2 1.8 2 2.1 2 2.4" stroke="#ff9200"/>
<path d="M715.8 967l10.5 0.2 8.5 0.7 7 1.1 6.6 1.7 3 1 2.5 1.2 2.5 1.3 2.5 1.5 2.5 1.9 2 1.8 2 2 2 2.3" stroke="#ffa200"/>
<path d="M715.8 967.9l10 0.2 8.5 0.6 7 1 6.6 1.6 5.5 2.1 2.5 1.3 2.5 1.5 2.5 1.8 2 1.7 2 2 2 2.2" stroke="#ffb200"/>
<path d="M715.8 968.7l10 0.2 8.5 0.6 7.5 1.1 6.1 1.5 5.5 2.1 4.5 2.5 2.5 1.7 2 1.6 4 4.1" stroke="#ffc400"/>
<path d="M715.8 969.5l10 0.1 8.5 0.7 7.5 1.1 6.1 1.4 5.5 2.1 4.5 2.5 2.5 1.7 2 1.6 2 1.9 2 2.2" stroke="#ffd800"/>
<path d="M715.8 970.2l10 0.2 8.5 0.6 7 1 6.1 1.4 5.5 2 4.5 2.3 2.5 1.7 2 1.6 4 3.9" stroke="#fdea00"/>
<path d="M715.8 970.9l10 0.2 8.5 0.6 7 1 6.1 1.4 5.5 1.9 4.5 2.4 2.5 1.6 2 1.6 4 3.9" stroke="#fafd00"/>
<path d="M715.8 971.6l9.5 0.2 8.5 0.5 7 0.9 6.1 1.4 5.5 1.8 4.5 2.3 2.5 1.6 2 1.4 4 3.8" stroke="#eaff00"/>
<path d="M715.8 972.3l9.5 0.1 8.5 0.6 7 0.9 6.1 1.3 5.5 1.8 4.5 2.2 4 2.7 4 3.6" stroke="#d6ff00"/>
<path d="M715.8 972.9l9.5 0.1 8.5 0.6 7 0.9 6.1 1.2 5.5 1.9 4.5 2.2 4 2.6 4 3.5" stroke="#c4ff0a"/>
<path d="M715.8 973.5l9.5 0.1 8 0.5 7 0.8 6.1 1.3 5.5 1.7 4.5 2.1 4 2.5 4 3.4" stroke="#b3ff17"/>
<path d="M715.8 974.1l9.5 0.1 8 0.5 7 0.8 6.1 1.2 5.5 1.7 4.5 2 4 2.5 4 3.4" stroke="#a5ff2c"/>
<path d="M715.8 974.6l9.5 0.2 8 0.4 7 0.8 6.1 1.2 5.5 1.7 4.5 2 4 2.4 4 3.3" stroke="#9bff4c"/>
<path d="M715.8 975.1l9.5 0.2 8 0.4 6.5 0.7 6 1.1 5.6 1.6 4.5 1.9 4 2.4 4 3.1" stroke="#92ff66"/>
<path d="M715.8 975.6l9.5 0.2 8 0.4 7 0.8 6.1 1.1 5 1.5 4.5 1.8 4 2.3 4 3.1" stroke="#8bff7b"/>
<path d="M715.8 976.1l9.5 0.2 8 0.4 6.5 0.7 6 1 5.1 1.4 4.5 1.8 4 2.1 4 2.9" stroke="#86ff8b"/>
<path d="M715.8 976.6l9.5 0.1 8 0.4 6.5 0.7 6 1 5.6 1.5 4.5 1.8 4 2.2 3.5 2.6" stroke="#82ff98"/>
<path d="M715.8 977l9.5 0.2 8 0.4 6.5 0.6 6 1 5.6 1.5 4.5 1.8 4 2.1 3.5 2.6" stroke="#7effa6"/>
<path d="M715.8 977.5l9.5 0.1 8 0.4 6.5 0.6 6 1 5.1 1.3 4.5 1.7 4 2 3.5 2.5" stroke="#7bffb3"/>
<path d="M715.8 977.9l9.5 0.2 8 0.3 6.5 0.7 6 0.9 5.6 1.4 4.5 1.7 3.5 1.8 3.5 2.5" stroke="#78ffbf"/>
<path d="M715.8 978.4l9.5 0.1 8 0.4 6.5 0.6 6 0.9 5.1 1.2 4.5 1.6 3.5 1.7 3.5 2.4" stroke="#75ffcb"/>
<path d="M715.8 978.8l9.5 0.2 8 0.3 6.5 0.6 6 0.9 5.1 1.1 4.5 1.6 3.5 1.7 3.5 2.4" stroke="#72ffd6"/>
<path d="M715.8 979.3l9 0.1 8 0.3 6.5 0.5 6 0.9 5.1 1.1 4.5 1.4 3.5 1.6 3.5 2.3" stroke="#6fffe0"/>
<path d="M715.8 979.7l9 0.1 8 0.3 6.5 0.6 6 0.8 5.1 1 4.5 1.4 3 1.4 3.5 2.2" stroke="#6cffe8"/>
<path d="M715.8 980.2l9 0.1 8 0.3 6.5 0.5 6 0.7 5.1 1 4 1.2 3 1.3 3.5 2.1" stroke="#68feeb"/>
<path d="M715.8 980.6l9 0.1 8 0.3 6.5 0.5 5.5 0.6 5.1 0.9 4 1.1 3.5 1.5 3 1.8" stroke="#63fdef"/>
<path d="M715.8 981.1l9 0.1 8 0.2 6.5 0.5 6 0.7 5.1 0.9 3.5 0.9 3.5 1.5 3 1.8" stroke="#5ffcf3"/>
<path d="M715.8 981.5l17 0.4 6.5 0.4 6 0.6 4.6 0.8 3.5 0.8 3.5 1.4 3 1.7" stroke="#5afcf7"/>
<path d="M715.8 982l17 0.3 6.5 0.4 6 0.6 5.1 0.8 3 0.7 3 1.2 3 1.6" stroke="#54fbfc"/>
<path d="M715.8 982.4l17 0.3 6.5 0.4 6 0.6 5.1 0.7 2.5 0.6 3 1.1 3 1.5" stroke="#4ff5ff"/>
<path d="M715.8 982.9l17 0.3 6.5 0.3 6 0.5 4.6 0.6 2.5 0.6 3 1 3 1.4" stroke="#4cdcff"/>
<path d="M715.8 983.3l17 0.3 6.5 0.3 6 0.5 4.6 0.5 2.5 0.6 3 1 2.5 1.2" stroke="#49c0ff"/>
<path d="M715.8 983.8l17.5 0.2 12.5 0.7 3.6 0.4 2.5 0.5 3 1 2.5 1.1" stroke="#44a4ff"/>
<path d="M715.8 984.2l17 0.2 12.5 0.6 3.6 0.4 2.5 0.4 2.5 0.7 2.5 1" stroke="#3b8eff"/>
<path d="M715.8 984.7l17.5 0.2 12.5 0.5 3.1 0.3 2.5 0.4 2.5 0.7 2 0.8" stroke="#3072fe"/>
<path d="M715.8 985.1l18.5 0.2 12.6 0.5 2.5 0.2 2 0.4 4 1.3" stroke="#2a5afb"/>
<path d="M715.8 985.6l18.5 0.1 12.6 0.4 4 0.5 3.5 1" stroke="#2548f9"/>
<path d="M715.8 986l18.5 0.1 13.1 0.3 3 0.4 3 0.7" stroke="#213af6"/>
<path d="M715.8 986.5l31.6 0.2 2.5 0.3 3 0.7" stroke="#1c2cf3"/>
<path d="M715.8 986.9l31.1 0.1 2 0.2 2.5 0.4" stroke="#171dee"/>
</g>
<g stroke-width=".9">
<path d="M758.5 987.2l2-1.2 1.5-1.3 2-2 1.5-1.9 2-3 1.5-2.7 3-6.4 4-10.6 12.5-36 12.2-33.2 6.5-16.7 2.9-6.8 2.8-6.3 2.9-5.7 2.9-5.2 5.8-9.3 3.6-5.2 3.6-4.8 2.9-3.5 3.6-4 5.8-5.9 5.1-4.6 5-4.2 5.8-4.2 5.8-3.6 5.8-3.2 6.5-3.2 5.7-2.3 7.3-2.4 10.1-3 5.8-1.4 6.5-1.3 8.6-1.3 10.1-1.1 11.6-1.1 13-0.9" stroke="#7f0000"/>
<path d="M758.5 987.2l2-1.2 1.5-1.2 2-1.9 1.5-1.9 2-2.8 1.5-2.6 3-6.1 3.5-8.9 12.5-34.8 14.8-39.5 5.8-14.4 5.1-11 2.9-5.7 2.8-5.1 2.9-4.7 3.7-5.4 3.6-5.1 2.9-3.8 3.6-4.2 3.6-3.9 5.8-5.7 5-4.5 5.1-4 5-3.6 5.8-3.6 5.8-3.1 6.5-3.1 5.8-2.3 7.2-2.4 9.4-2.7 5.8-1.4 6.5-1.3 8.6-1.3 10.1-1.1 11.6-1.1 13-0.9" stroke="#860000"/>
<path d="M759 987l2-1.3 1.5-1.2 2-2 1.5-1.8 3-4.5 3-5.9 4-9.8 11.5-31.1 16.8-43.7 5-12.3 5.1-10.8 2.9-5.5 2.9-5 6.5-10.1 3.6-4.9 2.9-3.7 3.6-4.2 3.6-3.8 5.1-5 5-4.5 5.1-4 5.7-4.1 5.8-3.5 5.8-3.1 5.8-2.7 5.8-2.3 7.2-2.3 9.4-2.8 5.8-1.4 6.5-1.2 8.6-1.3 10.1-1.2 11.6-1 13-1" stroke="#8c0000"/>
<path d="M759 987l2-1.2 1.5-1.2 2-1.9 1.5-1.7 3-4.3 3-5.6 4-9.5 11-28.7 18.7-47.8 5.1-11.9 4.3-9 2.9-5.4 2.9-4.9 3.6-5.6 3.6-5.2 5.8-7.5 3.6-4.1 3.6-3.8 5.1-4.9 5-4.5 5.1-3.9 5-3.5 5.8-3.6 5.8-3 5.8-2.8 5.8-2.2 7.2-2.4 9.4-2.7 5.8-1.4 6.5-1.3 8.6-1.3 10.1-1.1 11.6-1.1 13-0.9" stroke="#930000"/>
<path d="M759 987l2-1.1 1.5-1.1 2-1.9 1.5-1.6 2-2.6 1.5-2.3 3-5.6 4.5-10.6 29.4-74 5.1-11.7 4.3-8.8 2.9-5.2 2.9-4.8 3.6-5.6 3.6-5.1 5.8-7.4 3.6-4 3.6-3.7 5.1-4.8 5.1-4.4 5-3.9 5.1-3.4 5-3.1 6.5-3.5 5.8-2.6 5.8-2.3 7.9-2.5 8-2.3 5.8-1.4 6.5-1.3 8.6-1.2 10.1-1.2 11.6-1.1 13-0.9" stroke="#9a0000"/>
<path d="M759 987l2-1.1 1.5-1 2-1.8 1.5-1.6 2-2.5 1.5-2.2 3-5.3 5-11.5 18.5-45.1 11.9-29.5 4.3-9.7 4.4-8.6 2.8-5.1 2.9-4.7 3.7-5.5 3.6-5 5.7-7.2 7.3-7.6 5-4.8 4.4-3.7 5-3.9 5.8-3.9 5.8-3.4 6.5-3.4 5-2.3 5.8-2.1 8-2.6 7.9-2.2 5.8-1.4 6.5-1.2 8.6-1.3 10.2-1.2 11.5-1 12.3-0.9" stroke="#a10000"/>
<path d="M759 987l2-1 1.5-1.1 2-1.6 1.5-1.5 2-2.5 1.5-2.1 3-5.1 4.5-10 17.5-41.5 14.1-34.5 4.3-9.4 4.4-8.4 5.8-9.6 3.6-5.3 3.6-5 5.8-7.1 3.6-3.8 4.3-4.4 5.1-4.6 4.3-3.6 5.1-3.7 5.7-3.8 5.1-3 6.5-3.3 5.1-2.2 5.7-2.1 8.7-2.7 7.2-2.1 5.8-1.3 6.5-1.2 8.7-1.3 10.1-1.2 10.8-1 12.3-0.8" stroke="#a70000"/>
<path d="M759 987l2-1 2-1.3 2-1.8 1.5-1.5 2-2.5 1.5-2.1 2-3.3 1-1.9 4.5-9.9 17-39.5 14.1-34 4.3-9.3 4.4-8.3 5.8-9.6 3.6-5.3 3.6-5 5.8-7 3.6-3.9 4.3-4.3 5.1-4.7 4.3-3.5 5.1-3.8 5.7-3.8 5.1-2.9 6.5-3.3 5.1-2.2 5.7-2.2 8.7-2.7 7.2-2.1 5.8-1.4 6.5-1.2 8.7-1.3 10.8-1.3 10.8-1 11.6-0.8" stroke="#ae0000"/>
<path d="M759 987l2-1 2-1.3 2-1.6 1.5-1.5 2-2.4 1.5-2.1 2-3.2 1-1.9 4.5-9.6 17-38.8 14.1-33.5 5.1-10.7 4.3-8 5.8-9.4 3.6-5.2 3.6-4.9 5.8-6.8 7.9-8.1 5.1-4.6 4.3-3.5 5.8-4.1 5.1-3.3 5-2.9 6.5-3.2 5.1-2.2 5.8-2.2 8.6-2.7 7.2-2.1 5.8-1.3 6.5-1.3 8.7-1.3 10.8-1.3 10.1-0.9 11.6-0.8" stroke="#b50000"/>
<path d="M759 987l2-0.9 2-1.3 2-1.6 1.5-1.5 2-2.3 1.5-2 2-3.1 1-1.9 4.5-9.4 17-38 14.8-34.6 4.4-9 4.3-8 5.8-9.3 3.6-5.2 3.6-4.8 2.9-3.6 3.6-4 8-8 5-4.5 4.3-3.4 5.1-3.7 5.1-3.2 5.7-3.3 6.5-3.2 5.1-2.2 5.8-2.1 9.4-2.9 6.5-1.9 5.7-1.3 6.5-1.3 8.7-1.3 10.1-1.2 10.9-1 10.8-0.8" stroke="#bc0000"/>
<path d="M759 987l2-0.9 2-1.2 2-1.6 1.5-1.4 2-2.3 1.5-1.9 2-3 1-1.9 4.5-9.2 17-37.4 14.8-34 5.1-10.3 4.3-7.8 2.9-4.6 3.6-5.4 6.5-8.8 2.9-3.5 3.6-3.9 8-7.9 4.3-3.8 5.1-4 5-3.6 5.1-3.2 5.8-3.2 6.5-3.2 5-2.1 5.8-2.1 8.7-2.8 6.5-1.8 5.7-1.4 7.3-1.4 8.6-1.3 10.2-1.3 10.1-1 10.8-0.7" stroke="#c20000"/>
<path d="M759 987l2-0.9 2-1.2 3.5-2.9 2-2.2 1.5-1.9 2-2.9 1-1.8 5-10.1 16.5-35.6 14.8-33.6 5.1-10.1 4.3-7.7 2.9-4.7 3.6-5.3 6.5-8.7 2.9-3.5 3.6-3.9 8-7.9 4.3-3.8 5.1-4 5-3.5 5.1-3.2 5.8-3.3 6.5-3.2 5-2.1 5.8-2.1 8.7-2.8 6.5-1.9 5.7-1.4 7.3-1.4 8.6-1.4 10.2-1.3 10.1-1 10.8-0.8" stroke="#c90000"/>
<path d="M759 987l2-0.8 2-1.2 3.5-2.8 2-2.2 1.5-1.8 2-2.8 1-1.8 5-9.9 16.5-35 11.9-26.8 3.7-7.8 4.3-8.5 5-8.8 6.6-9.7 6.5-8.6 6.5-7.2 7.9-7.7 4.3-3.8 5.1-3.9 5.8-4 5-3.1 5.8-3.1 5.8-2.8 5-2.1 6.5-2.3 8.7-2.8 6.5-1.9 5.8-1.4 7.2-1.4 8.7-1.3 9.4-1.2 10.1-1 10.1-0.8" stroke="#d00000"/>
<path d="M759 987l2-0.8 2-1.2 3.5-2.7 3.5-3.9 2-2.7 1-1.8 5-9.7 16.5-34.4 11.9-26.3 3.7-7.7 4.3-8.4 5-8.7 6.6-9.7 6.5-8.5 6.5-7.2 7.9-7.7 4.3-3.7 5.1-4 5.8-3.9 5-3.1 6.5-3.5 5.8-2.8 5.1-2.1 6.5-2.3 8.6-2.8 5.8-1.7 6.5-1.5 7.2-1.4 8.7-1.4 8.7-1.1 10.1-1.1 10.1-0.7" stroke="#d70000"/>
<path d="M759 987l2-0.8 2-1.1 3.5-2.7 3.5-3.7 2-2.7 1-1.7 5-9.6 16.5-33.8 15.6-33.5 5-9.6 4.3-7.3 6.6-9.6 6.5-8.4 6.5-7.2 4.3-4.3 4.3-4 4.4-3.7 5-3.8 5.8-4 5-3 6.5-3.5 5.8-2.7 5.1-2.1 7.2-2.5 8-2.6 5.7-1.7 6.5-1.5 7.3-1.4 8.6-1.4 8.7-1.2 9.4-0.9 10.1-0.8" stroke="#dd0000"/>
<path d="M759 987l2-0.8 2-1 3.5-2.7 3.5-3.6 2-2.6 1-1.7 5.5-10.4 16-32.2 15.6-33 5-9.5 5.1-8.3 6.5-9.4 6.5-8.2 6.5-7 7.9-7.6 5.1-4.3 5-3.8 5.8-3.8 5.1-3 5.7-3.1 5.8-2.7 5.8-2.4 7.2-2.5 8-2.6 5.8-1.7 6.5-1.5 7.2-1.5 8.6-1.4 8-1 9.4-1 10.1-0.7" stroke="#e40000"/>
<path d="M759 987l2-0.7 2-1.1 3.5-2.5 3.5-3.6 2-2.5 1-1.7 5.5-10.2 16-31.7 15.6-32.4 5-9.4 5.1-8.3 6.5-9.2 6.5-8.2 7.2-7.7 7.9-7.5 5.1-4.2 5.1-3.7 5.7-3.8 5.8-3.3 5.8-3 5.8-2.7 5.8-2.3 7.9-2.7 7.2-2.4 5.8-1.6 6.5-1.5 7.2-1.5 8.7-1.4 7.2-0.9 9.4-1 9.4-0.7" stroke="#eb0000"/>
<path d="M759 987.1l2-0.8 2-1 3.5-2.5 3.5-3.5 2-2.5 1-1.6 5.5-10 15.5-30.2 16.1-32.9 5-9.3 5.1-8.2 6.5-9.1 6.5-8.1 7.2-7.7 7.9-7.5 5.1-4.2 5.1-3.7 5.7-3.8 5.8-3.3 5.8-3 5.8-2.7 5.8-2.3 8.6-3 6.5-2.2 5.8-1.6 7.2-1.7 7.2-1.5 8-1.3 7.2-1 9.4-1 9.4-0.6" stroke="#f20000"/>
<path d="M759 987.1l2-0.8 2-1 3.5-2.4 3.5-3.4 2-2.4 1-1.6 5.5-9.8 15.5-29.8 12.4-25.3 4.4-8.4 5-9 5.1-8 6.5-8.9 6.5-7.9 7.2-7.6 8-7.3 5-4.1 5.8-4.1 5.8-3.7 5.8-3.3 5.7-3 5.8-2.5 5.8-2.3 9.4-3.3 6.5-2.1 5.8-1.5 7.2-1.7 7.2-1.4 8-1.3 6.5-0.8 8.6-0.9 8.7-0.7" stroke="#f80000"/>
<path d="M759 987.1l2-0.8 2-1 3.5-2.3 3.5-3.3 2-2.4 1-1.5 5.5-9.7 15.5-29.3 12.4-24.9 4.4-8.3 5-8.8 5.1-7.9 6.5-8.9 6.5-7.8 7.2-7.5 8-7.4 5-4.1 5.8-4.1 5.8-3.7 5.8-3.2 5.7-3 5.8-2.6 5.8-2.3 9.4-3.3 6.5-2.1 5.8-1.6 7.2-1.7 7.2-1.5 8-1.3 6.5-0.9 8.6-0.9 8.7-0.6" stroke="#ff0000"/>
<path d="M759 987.1l2-0.7 2-1 3.5-2.3 3.5-3.2 2-2.3 1-1.6 6-10.4 15-27.9 12.4-24.5 4.4-8.2 5-8.7 5.1-7.8 6.5-8.8 6.5-7.8 7.9-8.1 8-7.3 5-4 5.8-4 5.8-3.7 6.5-3.6 5.8-2.9 5-2.2 6.5-2.5 9.4-3.4 6.5-2.1 5.8-1.5 7.2-1.7 8-1.6 7.2-1.2 6.5-0.8 8-0.8 7.9-0.6" stroke="#ff0100"/>
<path d="M759 987.1l3.5-1.4 3.5-2.1 3-2.6 3-3.2 2.5-3.9 3.5-6.1 14.5-26.5 17.6-33.6 4.3-7.6 3.6-5.7 6.5-9.2 4.3-5.6 3.7-4.3 3.6-4 4.3-4.4 5.1-4.8 4.3-3.8 5-4 5.8-4 5.8-3.7 6.5-3.6 5.8-2.9 5-2.3 6.5-2.5 10.2-3.7 6.5-2 6.5-1.8 7.2-1.7 7.2-1.4 7.2-1.2 6.5-0.8 7.3-0.7 7.9-0.6" stroke="#ff0200"/>
<path d="M759 987.1l3.5-1.4 3.5-2.1 3-2.4 3-3.2 2.5-3.8 3.5-6 14-25.2 18.1-34 4.3-7.4 3.6-5.7 6.5-9.1 4.3-5.6 3.7-4.2 3.6-4 5-5.1 4.4-4.1 4.3-3.8 5-3.9 5.8-4.1 5.8-3.6 6.5-3.7 5.8-2.9 5-2.3 6.5-2.5 10.2-3.7 6.5-2.1 6.5-1.8 7.2-1.8 7.2-1.4 7.2-1.2 6.5-0.9 7.3-0.7 7.9-0.6" stroke="#ff0300"/>
<path d="M759 987.1l3.5-1.3 3.5-2.1 3-2.4 3-3 4.5-7.1 7-12.3 12.5-22.4 9.7-18.3 4.4-7.9 4.3-7.3 3.6-5.7 3.6-5.1 3.6-4.8 4.4-5.4 3.6-4.2 3.6-3.8 5-5.1 4.4-4 4.3-3.8 5.1-3.9 5.7-3.9 5.8-3.6 6.5-3.6 5.8-2.9 5.1-2.3 7.2-2.8 9.4-3.5 6.5-2.1 6.5-1.8 7.2-1.7 7.9-1.6 6.6-1.1 6.5-0.9 7.2-0.7 7.2-0.5" stroke="#ff0400"/>
<path d="M759 987.1l3.5-1.3 3.5-2 3-2.3 3-3 4-6.2 7-12 12.5-22.1 10.2-18.9 4.4-7.8 4.3-7.2 3.6-5.5 3.6-5.1 3.6-4.8 4.4-5.3 3.6-4.2 3.6-3.8 5-5 4.4-4.1 4.3-3.7 5.8-4.4 5.8-3.9 5.7-3.6 6.5-3.6 5.8-2.8 5.1-2.3 16.6-6.3 5.8-1.9 7.2-2 6.5-1.6 7.9-1.6 6.6-1.1 6.5-0.9 7.2-0.7 7.2-0.5" stroke="#ff0500"/>
<path d="M759 987.1l3.5-1.3 3.5-1.9 3-2.3 3-2.9 4-6.1 6.5-11 13-22.6 10.2-18.6 4.4-7.6 4.3-7.1 3.6-5.5 3.6-5.1 3.6-4.7 4.4-5.3 3.6-4.1 4.3-4.5 5.1-5 4.3-4 4.3-3.6 5.8-4.4 5.8-3.9 5.8-3.5 6.5-3.5 5.8-2.9 5-2.2 16.6-6.3 5.8-1.9 7.2-2.1 6.5-1.6 8-1.6 5.8-1 7.2-1 6.5-0.6 7.2-0.5" stroke="#ff0600"/>
<path d="M759 987.1l3.5-1.2 3.5-1.9 3-2.3 3-2.8 4-6 6.5-10.8 13-22.3 13.8-24.6 4.4-7.1 4.3-6.5 3.6-5.1 3.6-4.6 4.4-5.3 3.6-4.1 4.3-4.5 5.1-4.9 4.3-4 4.3-3.7 5.8-4.3 5.8-3.9 5.8-3.5 6.5-3.5 5.8-2.9 5-2.2 8.7-3.5 8.6-3.2 5.8-1.9 8-2.3 5.7-1.4 8-1.6 5.8-1 7.2-1 13-1.1" stroke="#ff0700"/>
<path d="M759.5 987l3.5-1.3 3-1.7 3-2.1 3-2.8 4-5.9 6.5-10.7 13-22 13.8-24.2 5.1-8.1 4.3-6.3 7.3-9.5 4.3-5.1 3.6-4 4.3-4.5 5.1-4.8 4.3-4 3.6-3 5.8-4.3 5.8-3.9 5.8-3.5 6.5-3.6 5.8-2.9 5-2.2 17.3-6.8 5.8-1.9 8-2.3 5.7-1.5 8-1.7 5.8-1 7.2-0.9 6.5-0.7 6.5-0.5" stroke="#ff0800"/>
<path d="M759.5 987l3.5-1.3 3-1.6 3-2.1 3-2.7 4-5.8 6-9.7 13.5-22.6 13.8-23.8 5.1-7.9 4.3-6.3 7.3-9.4 4.3-5.1 3.6-3.9 9.4-9.3 4.3-4 3.6-3 5.8-4.3 5.8-3.9 6.5-3.9 6.5-3.6 5.1-2.5 5.7-2.6 17.4-6.8 6.5-2.2 7.2-2 5.8-1.5 7.9-1.7 5.1-0.9 7.2-1 6.5-0.6 6.5-0.5" stroke="#ff0900"/>
<path d="M759.5 987l3.5-1.3 3-1.5 3-2.1 3-2.6 4-5.7 6-9.6 13.5-22.2 13.8-23.5 5.1-7.8 4.3-6.2 7.3-9.3 7.9-9 4.3-4.4 5.8-5.5 4.3-3.9 3.7-3 5-3.7 5.8-3.9 6.5-4 6.5-3.6 5.1-2.5 5.7-2.6 17.4-6.9 6.5-2.2 7.2-2.1 5.8-1.5 7.9-1.7 5.1-0.9 7.2-1 6.5-0.7 6.5-0.5" stroke="#ff0a00"/>
</g>
<g stroke-width=".85">
<path d="M759.5 987l3.5-1.2 3-1.5 3-2.1 3-2.5 4-5.7 6-9.4 13.5-21.9 13.8-23.1 5.1-7.7 4.3-6.2 7.3-9.1 7.9-9 4.3-4.4 5.8-5.5 4.3-3.9 3.7-3 5.7-4.2 5.8-3.9 6.5-3.9 6.5-3.5 5.1-2.5 5.8-2.6 17.3-7 6.5-2.2 7.2-2.1 6.5-1.6 7.2-1.6 5.1-0.9 7.2-1 5.8-0.6 6.5-0.5" stroke="#ff0b00"/>
<path d="M759.5 987l3.5-1.2 3-1.5 3-1.9 3-2.5 4-5.6 6-9.2 13.5-21.7 13.8-22.7 5.1-7.7 4.3-6 3.6-4.7 4.4-5.3 7.9-8.8 10.1-9.8 4.4-3.8 3.6-2.9 5-3.7 5.8-3.9 6.5-3.9 6.5-3.6 5.1-2.5 5.8-2.6 10.8-4.5 7.2-2.8 6.5-2.2 6.5-2 6.5-1.6 7.2-1.7 5.1-0.9 7.2-1 5.8-0.6 6.5-0.5" stroke="#ff0c00"/>
<path d="M759.5 987l3.5-1.2 3-1.4 3-1.9 3-2.5 4-5.4 6-9.1 13.5-21.4 13.1-21.3 5.1-7.6 5-7 3.6-4.7 4.4-5.2 7.9-8.8 10.1-9.7 4.4-3.9 3.6-2.9 5-3.7 5.8-3.8 6.5-4 6.5-3.6 5.8-2.9 5.8-2.6 10.8-4.5 6.5-2.5 6.5-2.3 6.5-2 6.5-1.7 7.2-1.6 5.1-1 7.2-1 5.8-0.6 6.5-0.5" stroke="#ff0d00"/>
<path d="M759.5 987l3.5-1.1 3-1.4 3-1.9 3-2.4 4-5.3 6-9 13.5-21.1 13.1-21 5.8-8.5 5-6.9 7.3-8.8 7.9-8.8 10.1-9.7 4.4-3.9 3.6-2.9 5-3.7 5.8-3.8 6.5-4 6.5-3.6 5.8-2.9 5.8-2.7 10.8-4.5 6.5-2.6 6.5-2.3 6.5-2 6.5-1.7 7.2-1.7 5.1-1 7.2-1 5.8-0.7 6.5-0.5" stroke="#ff0e00"/>
<path d="M759.5 987l3.5-1.1 3-1.3 3-1.9 3-2.3 4-5.3 6-8.8 13.5-20.8 13.1-20.7 5.8-8.4 5-6.8 8-9.6 7.9-8.6 10.2-9.7 4.3-3.8 3.6-2.9 5.8-4.1 5.8-3.8 5.7-3.5 6.5-3.6 5.8-2.9 5.8-2.6 10.8-4.6 6.5-2.6 6.5-2.3 6.5-2 7.3-1.9 6.5-1.6 5-0.9 7.2-1 11.6-1.1" stroke="#ff0f00"/>
<path d="M759.5 987l3.5-1.1 3-1.3 3-1.7 3-2.3 4-5.2 6-8.7 13.5-20.6 13.1-20.3 5.8-8.3 5-6.8 8-9.6 7.9-8.5 10.2-9.7 4.3-3.8 3.6-2.8 5.8-4.2 5.8-3.8 5.7-3.5 6.5-3.6 5.8-2.9 5.8-2.7 10.8-4.7 6.5-2.6 6.5-2.3 6.5-2.1 7.3-1.9 6.5-1.6 5-0.9 7.2-1.1 5.8-0.6 5.8-0.5" stroke="#ff1000"/>
<path d="M759.5 987l3.5-1 3-1.3 3-1.7 3-2.2 4-5.1 6-8.6 27.3-41.4 5.8-8.2 5.1-6.6 7.9-9.4 8-8.5 10.1-9.6 4.3-3.7 3.6-2.8 5.8-4.1 5.8-3.8 5.8-3.5 6.5-3.6 5-2.6 6.5-3 10.9-4.7 6.5-2.6 6.5-2.3 6.5-2.1 7.2-1.9 5.8-1.4 4.3-0.9 7.9-1.2 5.8-0.6 5.8-0.5" stroke="#ff1100"/>
<path d="M759.5 987l3.5-1 3-1.2 3-1.7 3-2.1 3.5-4.4 5-6.9 15-22.2 12.4-18.8 6.5-9.1 5.8-7.6 7.9-9.4 8-8.4 10.1-9.6 4.3-3.8 3.6-2.8 5.8-4.1 5.8-3.8 5.8-3.5 6.5-3.6 5-2.6 6.5-3.1 10.9-4.7 6.5-2.7 6.5-2.3 6.5-2.1 7.2-2 5.8-1.4 4.3-0.9 7.9-1.2 5.8-0.7 5.8-0.5" stroke="#ff1200"/>
<path d="M759.5 987l3.5-0.9 3-1.2 3-1.7 3-2 4-4.9 5-6.9 14.5-21.2 12.4-18.5 6.5-9.1 5.8-7.6 7.9-9.3 8-8.4 10.8-10.3 3.6-3.1 4.3-3.3 5.8-4.1 5.8-3.8 5.8-3.5 6.5-3.6 5.8-2.9 6.5-3.1 10.1-4.4 6.5-2.7 12.3-4.2 7.2-2 5.8-1.5 4.3-0.9 7.9-1.2 5.8-0.7 5.8-0.5" stroke="#ff1300"/>
<path d="M759.5 987l3.5-0.9 3.5-1.4 3.5-1.9 2-1.4 0.5-0.6 3.5-4.3 5-6.7 14.5-20.9 12.4-18.3 7.2-10 5.8-7.4 7.9-9.2 8-8.3 10.1-9.6 3.6-3.1 4.3-3.4 5.8-4.1 5.8-3.8 5.8-3.5 6.5-3.7 5.8-2.9 6.5-3.1 10.1-4.5 6.5-2.7 12.3-4.3 7.2-2 5.8-1.5 4.3-0.9 7.9-1.3 5.8-0.7 5.8-0.5" stroke="#ff1400"/>
<path d="M759.5 987l3.5-0.9 3.5-1.3 3.5-1.9 2-1.3 0.5-0.5 4-4.9 5-6.7 14-19.9 12.4-18.1 7.2-9.9 5.8-7.4 8.7-10 7.9-8.2 10.1-9.5 3.6-3.1 4.4-3.4 5.7-4 5.8-3.8 5.8-3.5 6.5-3.6 5.8-3 6.5-3.1 9.4-4.2 6.5-2.7 12.3-4.3 7.2-2.1 5.8-1.5 4.3-0.9 7.9-1.3 5.8-0.8 5.8-0.5" stroke="#ff1900"/>
</g>
<g stroke-width=".8">
<path d="M759.5 987l3.5-0.8 3.5-1.3 3.5-1.8 2-1.3 0.5-0.5 4-4.8 5.5-7.2 13.5-19 13.1-18.9 7.2-9.8 5.8-7.3 8.7-9.8 8.7-8.9 9.3-8.8 3.7-3 4.3-3.3 5.8-4.1 5.7-3.7 5.8-3.5 5.8-3.3 5.8-2.9 6.5-3.1 10.1-4.6 6.5-2.7 6.5-2.5 5.8-1.9 7.2-2.1 5.8-1.5 4.3-0.9 8-1.3 10.8-1.1" stroke="#ff1e00"/>
<path d="M759.5 987l3.5-0.8 3.5-1.2 4-2 1.5-1 0.5-0.5 4.5-5.3 5.5-7.2 13-17.9 13.1-18.8 7.2-9.7 5.8-7.3 8.7-9.8 8.7-8.9 9.3-8.8 3.7-3.1 4.3-3.3 5.8-4.1 5.7-3.8 5.8-3.5 5.8-3.2 5.8-3 6.5-3.2 10.1-4.6 6.5-2.7 6.5-2.5 5.8-2 7.2-2.1 5.8-1.5 4.3-0.9 8-1.3 10.8-1.2" stroke="#ff2300"/>
<path d="M760 987l4-1 3.5-1.3 4.5-2.4 1-1.1 4.5-5.3 5.5-7.1 12.5-17 13.8-19.6 7.3-9.6 5.7-7.2 9.4-10.5 8.7-8.8 8.7-8.1 3.6-3 4.3-3.3 5.8-4 5.8-3.8 5.7-3.5 5.8-3.2 5.8-3 8-3.8 8.6-4 6.5-2.8 11.6-4.1 7.2-2.2 5.8-1.5 4.3-1 8-1.3 5-0.7 5.8-0.5" stroke="#ff2800"/>
<path d="M760 987l4.5-1.1 4-1.6 3.5-1.8 1.5-1.6 4.5-5.2 6-7.7 11.5-15.5 14.6-20.4 6.5-8.6 5.7-7.1 9.4-10.6 9.4-9.5 8.7-8 7.2-5.7 5.8-4.1 5.8-3.7 5.7-3.6 5.8-3.3 5.8-3 8-3.8 8.6-4.1 6.5-2.7 11.6-4.3 7.2-2.2 5.8-1.5 4.3-0.9 8-1.4 5-0.7 5.8-0.6" stroke="#ff2d00"/>
<path d="M760 987l4.5-1.1 4-1.4 3.5-1.8 1.5-1.5 5-5.8 6-7.6 11-14.6 10.9-15.3 5.8-7.8 5.8-7.5 5.1-6.2 9.4-10.5 10.1-10.1 7.9-7.3 7.2-5.6 5.8-4 5.8-3.8 5.8-3.5 5.8-3.3 5.7-3 8-3.9 8.6-4 5.8-2.5 11.6-4.3 7.2-2.2 5.8-1.6 4.3-1 8-1.3 5-0.7 5.8-0.6" stroke="#ff3200"/>
<path d="M760 987l4.5-1 4-1.4 3.5-1.6 1.5-1.5 5-5.7 6.5-8.1 11-14.5 10.4-14.5 6.5-8.7 5.8-7.4 5.1-6.1 9.4-10.4 10.1-10.1 7.2-6.6 8-6.2 10.8-7.4 5.8-3.5 5.8-3.3 6.5-3.4 9.3-4.6 7.3-3.4 5.7-2.4 11.6-4.3 7.2-2.2 5.1-1.4 4.3-1 8-1.4 5-0.7 5.8-0.6" stroke="#ff3700"/>
<path d="M760 987l5-1.1 4.5-1.5 2.5-1.2 2-2 5.5-6.2 6-7.4 10.5-13.7 10.4-14.3 8-10.6 5-6.4 5.1-6.1 9.4-10.3 10.1-10.1 7.2-6.5 7.3-5.6 10.8-7.4 5.8-3.6 5.8-3.3 6.5-3.4 9.3-4.7 7.3-3.4 5.7-2.5 11.6-4.3 7.2-2.2 5.1-1.4 4.3-1 8-1.5 5-0.7 5.8-0.6" stroke="#ff3c00"/>
<path d="M760 987l5-1 5-1.7 2-0.9 2.5-2.4 5.5-6.2 6.5-8 9.5-12.2 11.2-15.2 7.9-10.5 5.1-6.4 5-5.9 9.4-10.3 10.1-10.1 6.5-5.8 8-6.2 10.8-7.4 5.8-3.5 5.8-3.3 7.2-3.8 10.1-5 6.5-3.1 5.1-2.1 6.5-2.6 5-1.7 7.2-2.3 5.1-1.4 4.3-0.9 7.3-1.4 5-0.7 5.8-0.6" stroke="#ff4100"/>
<path d="M760.5 987l5.5-1.2 3-0.9 2.5-1 0.5-0.2 3-3 5.5-6.1 7-8.5 9-11.5 10.7-14.4 8.6-11.4 5.1-6.3 5.1-5.9 8.6-9.5 10.1-10.1 6.5-5.9 8-6.2 10.8-7.4 5.8-3.6 5.8-3.3 7.2-3.8 10.1-5 6.5-3.1 5.1-2.2 6.5-2.6 5-1.8 7.2-2.3 5.1-1.4 4.3-0.9 7.3-1.4 5-0.7 5.8-0.7" stroke="#ff4600"/>
<path d="M760.5 987l6-1.2 5.5-1.9 3.5-3.4 5.5-6 7-8.5 8.5-10.7 10.7-14.3 9.4-12.3 5-6.2 5.8-6.7 8.7-9.4 10.1-10 6.5-5.7 7.2-5.6 10.8-7.4 5.8-3.5 5.8-3.4 7.2-3.8 10.1-5.1 5.8-2.7 5.8-2.5 10.8-4.1 7.2-2.3 5.1-1.5 4.3-0.9 7.3-1.4 5-0.8 5.8-0.6" stroke="#ff4d00"/>
</g>
<g stroke-width=".75">
<path d="M760.5 987l6-1.1 5.5-1.8 3.5-3.3 6-6.5 7.5-9 8-10 20.3-26.7 5-6.2 5.8-6.6 8-8.6 10.8-10.7 6.5-5.7 7.2-5.5 10.9-7.4 5.7-3.6 5.8-3.3 7.2-3.8 10.2-5.1 5.7-2.7 5.8-2.5 10.1-3.9 7.2-2.3 5.1-1.5 4.3-1 7.3-1.3 5.7-0.9 5.1-0.6" stroke="#ff5400"/>
<path d="M760.5 987l6-1 5.5-1.6 4-3.8 6.5-7 7.5-8.9 7.5-9.4 20.5-26.8 4.3-5.3 6.5-7.5 8-8.5 10.1-10 6.5-5.7 7.9-6.1 10.9-7.3 5.8-3.6 5.7-3.3 17.4-8.9 5.8-2.8 5.7-2.5 10.1-3.8 7.3-2.3 5-1.5 11.6-2.3 10.1-1.4" stroke="#ff5b00"/>
<path d="M761 987l5.5-0.9 5.5-1.5 5-4.7 7-7.5 8-9.6 6-7.5 20.7-26.9 4.4-5.3 6.5-7.4 7.9-8.5 10.1-10 6.5-5.6 7.2-5.5 10.9-7.4 5.8-3.6 5.7-3.3 17.4-9 5.8-2.8 5.7-2.5 10.1-3.9 7.3-2.4 5-1.4 11.6-2.4 10.1-1.3" stroke="#ff6200"/>
<path d="M761 987l5.5-0.8 5.5-1.4 5.5-5 7.5-8.1 9.5-11.3 24.2-31.2 5.1-6.1 6.5-7.4 9.4-10 8.6-8.5 6.5-5.5 7.3-5.5 10.8-7.4 10.8-6.5 7.3-3.9 10.8-5.5 5.8-2.8 5.8-2.5 9.3-3.6 7.3-2.4 5-1.4 11.6-2.5 10.1-1.3" stroke="#ff6900"/>
<path d="M761.5 987l5.5-0.8 5-1.1 6-5.5 7-7.4 9.5-11.2 24.9-31.9 5.1-6.1 6.5-7.4 9.4-9.9 7.9-7.8 6.5-5.6 8-6 10.8-7.3 10.9-6.5 17.3-9.1 5.8-2.8 5.8-2.5 9.3-3.7 7.3-2.4 5-1.5 11.6-2.4 5-0.8 5.1-0.6" stroke="#ff7000"/>
<path d="M761.5 987l5.5-0.7 5-1 3.5-3 3.5-3.4 7-7.4 9-10.5 25.2-32.1 5-6 6.5-7.3 9.4-9.9 8-7.8 6.5-5.5 7.9-6 10.8-7.3 10.9-6.5 17.3-9.1 5.1-2.5 6.5-2.8 9.4-3.7 6.5-2.1 5-1.5 11.6-2.5 5-0.8 5.1-0.6" stroke="#ff7700"/>
<path d="M762 987l5-0.6 5-0.9 3.5-3 4-3.7 7-7.4 9-10.4 24.7-31.4 5.8-6.8 6.5-7.3 9.3-9.9 7.3-7 6.5-5.6 7.9-6 10.8-7.3 10.9-6.6 17.3-9.2 5.1-2.4 6.5-2.9 9.4-3.7 6.5-2.2 5-1.5 11.6-2.5 5-0.8 5.1-0.6" stroke="#ff7e00"/>
<path d="M762 987l5-0.5 5-0.8 4-3.3 4-3.8 6.5-6.7 9-10.3 25.4-32.1 5.8-6.8 6.5-7.3 9.4-9.8 7.2-7 6.5-5.5 7.9-6 10.9-7.3 10.8-6.5 17.3-9.3 5.1-2.4 6.5-2.9 8.7-3.4 6.5-2.2 5-1.5 11.6-2.6 5-0.8 5.1-0.6" stroke="#ff8500"/>
<path d="M762.5 987l5-0.5 4.5-0.6 4-3.3 4.5-4.1 6.5-6.7 9-10.2 24.9-31.4 6.5-7.6 6.5-7.3 9.4-9.8 6.5-6.3 6.5-5.5 8.7-6.5 10.1-6.9 10.8-6.5 17.3-9.3 5.1-2.5 6.5-2.9 8.7-3.4 6.5-2.3 5-1.5 11.6-2.6 5-0.8 5.1-0.6" stroke="#ff8c00"/>
<path d="M763 987l9-1 4.5-3.6 4.5-4 6.5-6.7 8.5-9.6 5.4-6.6 20.2-25.5 6.5-7.6 6.5-7.2 9.4-9.7 6.5-6.3 6.5-5.4 8.7-6.5 10.8-7.3 10.9-6.5 16.6-8.9 5-2.5 6.5-2.9 10.1-3.9 5.8-2 4.4-1.2 11.5-2.6 9.4-1.3" stroke="#ff9500"/>
<path d="M764 987l8-0.8 5-3.9 5.5-5 6-6.2 8-9 5.6-6.8 19.5-24.6 6.5-7.6 6.5-7.2 9.4-9.8 6.5-6.2 6.5-5.5 8.7-6.5 10.8-7.4 10.9-6.5 16.6-9 5-2.4 6.5-3 10.1-3.9 5.8-2 4.4-1.3 11.5-2.5 9.4-1.4" stroke="#ff9e00"/>
<path d="M764.5 987l7.5-0.6 5.5-4.3 6-5.5 6-6.2 7.5-8.4 5.8-7 18.8-23.6 7.2-8.4 6.5-7.2 8.7-9 6.5-6.3 7.2-6.1 8.7-6.5 10.1-6.8 10.9-6.6 16.6-9 5-2.5 6.5-2.9 5.1-2.1 5-1.9 5.8-2 4.4-1.3 11.5-2.6 9.4-1.4" stroke="#ffa700"/>
<path d="M765.5 987l6.5-0.5 6-4.6 6-5.4 6-6.2 7.5-8.3 11.8-14.5 13-16.3 7.3-8.3 6.5-7.2 8.6-9 6.5-6.2 6.5-5.4 8.7-6.6 10.1-6.9 10.9-6.5 16.6-9.1 5-2.5 6.5-3 5.1-2.1 5-1.9 5.8-2 4.4-1.3 11.5-2.7 9.4-1.4" stroke="#ffb000"/>
<path d="M766.5 987l5.5-0.3 6.5-4.9 6.5-5.9 6-6.2 7-7.8 11.3-13.8 13-16.2 7.3-8.4 6.5-7.1 8.6-9 6.5-6.3 6.5-5.4 8.7-6.6 10.1-6.9 10.9-6.6 16.6-9.1 5-2.6 6.5-3 5.1-2.1 5-1.9 5.8-2 4.4-1.4 11.5-2.6 9.4-1.5" stroke="#ffb800"/>
<path d="M768 987l4-0.2 3.5-2.5 3.5-2.7 3.5-3 3.5-3.4 6-6.1 6-6.6 11.3-13.7 13-16.2 7.3-8.4 7.2-7.9 8.7-9 5.7-5.5 6.5-5.5 8.7-6.5 10.1-7 10.9-6.7 16.6-9.2 5-2.5 6.5-3 5.1-2.2 5-1.9 5.8-2 4.4-1.4 11.5-2.6 9.4-1.5" stroke="#ffc100"/>
<path d="M770 987l2-0.1 4.5-3.1 6-4.9 5.5-5.3 7-7.3 4.2-4.8 10.9-13 12.2-15.3 7.3-8.3 7.2-7.9 8.7-9 5.7-5.6 6.5-5.4 8-6.1 10.8-7.5 10.9-6.7 16.6-9.3 5-2.5 6.5-3 5.1-2.2 5-2 5.8-2 4.4-1.4 11.5-2.7 9.4-1.5" stroke="#ffca00"/>
<path d="M772 987l5.5-3.8 5.5-4.5 5-4.7 7-7.3 7.8-8.9 8-9.6 10.1-12.6 5.1-5.9 8.6-9.7 9.4-9.9 5.1-5 4.3-3.9 5.1-4.2 6.5-4.9 10.8-7.6 10.8-6.8 17.4-9.7 5-2.6 6.5-3.1 5.1-2.1 5-2 5.8-2.1 4.4-1.3 11.5-2.8 9.4-1.5" stroke="#ffd300"/>
<path d="M772 987.1l4.5-3 4.5-3.5 4.5-3.9 5-4.9 5-5.2 4.4-4.9 10.2-12 12.2-15.1 7.3-8.3 7.2-8 8.7-9 5.7-5.5 6.5-5.5 8-6.1 10.8-7.6 10.9-6.8 16.6-9.3 5-2.6 6.5-3.1 5.1-2.2 5-1.9 5.8-2.1 4.4-1.4 11.5-2.8 9.4-1.5" stroke="#ffdc00"/>
<path d="M772 987.1l4.5-2.9 4.5-3.3 4.5-3.9 5.5-5.4 5-5.1 3.9-4.4 10.2-11.9 13.7-16.7 7.9-9 8-8.5 7.2-7.4 5.1-4.8 6.5-5.4 7.9-6.1 10.8-7.6 10.9-6.7 16.6-9.3 11.5-5.7 10.2-4.1 9.4-3.2 11.5-2.8 9.4-1.6" stroke="#fee300"/>
<path d="M772 987.2l5-3.2 4.5-3.4 4.5-3.8 5.5-5.3 4.5-4.6 4.7-5.1 9.4-11 14.4-17.4 8.7-9.8 7.9-8.4 6.5-6.6 5.1-4.7 6.5-5.4 7.9-6.1 10.9-7.5 10.8-6.7 15.9-9 11.5-5.6 10.2-4.2 9.4-3.3 11.5-2.8 9.4-1.5" stroke="#fdea00"/>
<path d="M772 987.2l5-3.1 4.5-3.3 5-4.2 5.5-5.3 5-5.1 5.8-6.5 8-9.2 10.8-13.1 6.5-7.5 6.5-7.2 7.2-7.6 6.5-6.5 5.1-4.6 6.5-5.4 7.9-6 10.9-7.5 10.8-6.7 15.9-9 11.6-5.6 10.1-4.2 8.7-3 11.5-2.8 5.1-0.9 4.3-0.7" stroke="#fcf100"/>
<path d="M772 987.2l5-3 5-3.6 4.5-3.8 6-5.7 5-5 6.1-6.7 7.2-8.3 10.8-13.1 7.2-8.2 6.5-7.1 8-8.3 5.8-5.8 5-4.5 6.5-5.3 8-6 10.8-7.5 10.8-6.7 15.2-8.6 11.6-5.6 10.1-4.2 8.7-3 11.5-2.9 5.1-1 4.3-0.6" stroke="#fbf800"/>
<path d="M772 987.2l5-2.9 5-3.5 5-4.3 6-5.6 5-5 6.3-6.9 6.5-7.4 10.8-12.9 8-9 6.5-7.1 7.9-8.2 5.8-5.7 5-4.5 6.5-5.3 8-5.9 10.8-7.5 10.9-6.6 14.4-8.2 11.6-5.7 10.1-4.2 8.7-3.1 11.5-2.9 5.1-0.9 4.3-0.7" stroke="#faff00"/>
<path d="M772 987.2l5-2.8 5-3.5 5.5-4.6 6.5-6 5.2-5.3 6.5-7.1 5.8-6.6 10.1-12 8-8.9 6.5-7 7.9-8.3 5.8-5.7 5-4.5 6.5-5.2 8.7-6.5 10.9-7.4 10.8-6.7 14.4-8.2 11.6-5.7 10.8-4.4 8-2.7 10.8-2.7 5.1-1 4.3-0.7" stroke="#f6ff00"/>
<path d="M772.5 987l5-2.9 5-3.4 5.5-4.6 6.5-6 5.4-5.5 8.7-9.5 13-15.2 8-8.8 6.5-7 8.6-9 5.8-5.6 5.1-4.4 7.2-5.8 7.9-5.9 10.2-6.9 11.5-7.1 13.7-7.8 11.6-5.8 10.8-4.4 8-2.8 10.8-2.7 5.1-1 4.3-0.6" stroke="#f2ff00"/>
<path d="M772.5 987l5-2.8 5-3.4 5.5-4.5 7-6.3 5.7-5.7 8.6-9.5 12.3-14.2 8.7-9.6 15.2-15.9 5-4.8 5.8-5.1 7.2-5.7 8-5.9 10.8-7.4 12.3-7.4 12.3-7 11.5-5.7 10.1-4.1 8-2.8 10.8-2.7 5.1-1 4.3-0.7" stroke="#eeff00"/>
<path d="M772.5 987l5-2.7 5-3.3 5.5-4.4 7-6.3 5.7-5.6 8.6-9.3 13-15 8.7-9.5 15.2-15.7 5-4.8 5.8-5 7.2-5.7 8-5.9 10.8-7.3 13.7-8.3 10.9-6.1 10.8-5.3 10.1-4.2 8-2.8 10.8-2.7 5.1-1.1 4.3-0.6" stroke="#eaff00"/>
<path d="M772.5 987l5-2.6 4.5-2.9 5.5-4.3 7.5-6.6 4.9-4.8 5.8-6.1 5.1-5.4 10.8-12.4 7.2-8 7.3-7.7 10.1-10.3 5-4.8 6.5-5.5 7.3-5.7 7.9-5.9 10.8-7.3 13.8-8.3 10.1-5.7 10.8-5.3 10.1-4.2 8-2.8 10.8-2.8 5.1-1 4.3-0.7" stroke="#e6ff00"/>
<path d="M772.5 987l5-2.5 4.5-2.8 6-4.7 7.5-6.6 5.2-5 6.5-6.7 5-5.5 10.1-11.5 7.3-7.9 7.2-7.6 10.1-10.2 5.1-4.8 6.5-5.5 7.9-6.2 7.2-5.3 10.9-7.3 14.4-8.6 9.4-5.3 10.8-5.3 10.1-4.2 7.3-2.5 10.8-2.8 5.1-1 4.3-0.7" stroke="#e2ff00"/>
<path d="M772.5 987l5-2.5 4.5-2.7 6-4.6 7.5-6.4 5.9-5.7 7.2-7.5 13.7-15.2 7.3-7.9 7.2-7.5 10.8-11 5.1-4.6 6.5-5.5 7.9-6.2 7.2-5.3 10.9-7.2 14.4-8.7 8.7-4.8 10.8-5.3 10.1-4.2 7.3-2.5 10.8-2.8 5.1-1.1 4.3-0.7" stroke="#deff00"/>
<path d="M772.5 987l5-2.4 4.5-2.6 6-4.5 8-6.9 5.4-5.1 7.9-8.1 13-14.4 8-8.5 10.1-10.5 7.2-7.2 5.8-5.3 6.5-5.4 7.9-6.2 8-5.7 10.8-7.2 14.5-8.6 8.6-4.8 10.2-4.9 9.3-3.9 7.3-2.5 10.8-2.8 5.1-1.1 4.3-0.6" stroke="#daff00"/>
<path d="M772.5 987l5-2.3 4.5-2.6 6-4.4 8-6.8 5.4-5 7.9-8 13-14.3 8-8.4 11.5-11.9 6.5-6.4 5.8-5.2 6.5-5.4 8-6.1 7.9-5.8 10.1-6.7 14.5-8.7 8.6-4.7 10.2-5 9.3-3.8 7.3-2.6 10.8-2.8 5.1-1 4.3-0.7" stroke="#d6ff00"/>
<path d="M772.5 987l5-2.2 4.5-2.5 6.5-4.8 8-6.7 5.6-5.2 7.2-7.2 13-14.1 8.7-9.2 10.8-11 6.5-6.4 5.8-5.2 6.5-5.4 8.7-6.7 7.9-5.8 10.2-6.6 14.4-8.7 7.9-4.3 10.2-5 9.3-3.9 7.3-2.5 10.8-2.8 5.1-1.1 4.3-0.7" stroke="#d2ff00"/>
<path d="M772.5 987l4.5-1.9 5-2.7 6.5-4.7 8-6.6 5.6-5.1 7.2-7.1 13-14 9.4-9.8 11.6-11.7 5.8-5.6 5.7-5.2 7.3-5.9 7.9-6.1 8-5.7 10.1-6.7 14.4-8.6 8.7-4.7 9.4-4.5 9.4-3.9 7.2-2.5 10.8-2.7 8.7-1.6" stroke="#cfff02"/>
<path d="M772.5 987l4.5-1.8 5-2.6 6.5-4.7 8.5-6.9 5.8-5.3 7.3-7 21.6-22.9 11.6-11.7 5.8-5.6 5.7-5.1 7.3-5.9 8.6-6.7 8-5.7 10.1-6.6 13.7-8.2 8.7-4.7 9.4-4.5 9.4-3.9 7.2-2.5 10.8-2.8 8.7-1.6" stroke="#ccff04"/>
<path d="M772.5 987l4.5-1.8 5-2.5 7-4.9 8.5-6.9 5.3-4.8 7.3-6.9 22.4-23.4 11.5-11.6 5.8-5.5 6.5-5.7 7.2-5.9 8.7-6.6 7.2-5.1 10.1-6.6 13.7-8.2 8.7-4.7 8.7-4.2 9.4-3.8 7.2-2.5 10.8-2.8 8.7-1.6" stroke="#c9ff06"/>
<path d="M772.5 987l4.5-1.7 5-2.5 7-4.8 8.5-6.8 5.3-4.7 7.3-6.8 22.4-23.2 11.5-11.5 5.8-5.6 6.5-5.6 7.2-5.9 8.7-6.6 7.9-5.7 10.1-6.5 13.8-8.2 8.6-4.6 8.7-4.2 9.4-3.8 6.5-2.2 10.8-2.8 8.7-1.6" stroke="#c7ff09"/>
<path d="M772.5 987l4.5-1.6 5-2.4 7-4.8 9-7.1 5.6-4.8 7.2-6.8 22.4-23 11.5-11.5 5.8-5.4 6.5-5.7 8-6.4 8.6-6.5 7.3-5.1 10.1-6.6 13-7.7 8.6-4.6 8.7-4.2 9.4-3.8 6.5-2.2 10.8-2.8 8.7-1.6" stroke="#c4ff0b"/>
<path d="M772.5 987l4.5-1.6 5-2.3 7.5-5.1 9-7 5.8-5 6.5-6 22.4-22.8 11.5-11.4 5.8-5.4 7.2-6.3 8-6.3 8.6-6.6 7.3-5.1 9.4-6 13-7.8 8.6-4.6 8.7-4.2 9.4-3.8 6.5-2.2 10.8-2.8 8.7-1.6" stroke="#c1ff0d"/>
<path d="M772.5 987.1l4.5-1.6 5-2.2 8-5.4 9.2-7.1 5.8-5 5.8-5.3 23.1-23.3 11.6-11.3 5.7-5.4 7.3-6.2 7.9-6.3 8.7-6.6 7.2-5 9.4-6 12.3-7.4 8.6-4.6 8.7-4.1 9.4-3.9 6.5-2.2 10.8-2.8 8.7-1.6" stroke="#beff0f"/>
<path d="M772.5 987.1l4.5-1.6 5-2.1 8-5.3 9.2-7 5.8-4.9 6.5-5.9 23.1-23.1 10.9-10.5 5.7-5.4 7.3-6.2 8.6-6.9 8.7-6.5 7.2-5.1 9.4-5.9 12.3-7.3 9.4-5 7.9-3.7 8.7-3.6 6.5-2.2 10.8-2.8 8.7-1.5" stroke="#bbff11"/>
<path d="M772.5 987.1l4.5-1.5 5-2.1 4-2.5 4.5-3.1 5-3.6 4.4-3.5 5.8-4.8 5.8-5.2 23.8-23.6 10.9-10.4 5.8-5.3 7.9-6.8 8.7-6.8 7.9-6 8-5.5 9.4-5.9 11.5-6.8 8.7-4.6 7.9-3.7 8.7-3.5 6.5-2.2 10.8-2.8 8.7-1.6" stroke="#b8ff13"/>
<path d="M772.5 987.1l4.5-1.4 5-2 4.5-2.8 4.5-3.1 5-3.6 4.7-3.6 5.7-4.8 5.1-4.6 23.8-23.3 10.9-10.4 5.8-5.2 7.9-6.8 9.4-7.4 7.9-5.9 8-5.5 9.4-5.9 10.8-6.4 8.7-4.5 7.9-3.8 8.7-3.5 6.5-2.2 10.8-2.8 8.7-1.6" stroke="#b5ff15"/>
<path d="M772.5 987.1l4.5-1.4 5-1.9 4.5-2.8 4.5-3 5-3.5 4.7-3.6 6.5-5.3 5-4.5 31.1-30 9.4-8.7 8.6-7.2 9.4-7.4 8-5.9 7.2-4.9 10.1-6.3 10.1-5.9 8.7-4.5 7.9-3.7 8.7-3.5 5.8-1.9 10.8-2.8 8.7-1.6" stroke="#b3ff18"/>
<path d="M773 987l4.5-1.4 4.5-1.7 4.5-2.7 5-3.3 5-3.5 4.9-3.7 5.8-4.7 5-4.4 32.5-31.1 9.4-8.5 8.7-7.2 9.4-7.4 7.2-5.2 7.2-4.9 10.1-6.3 9.4-5.5 8.7-4.5 7.9-3.7 8.7-3.5 5.8-1.9 10.8-2.8 8.7-1.5" stroke="#b0ff1a"/>
<path d="M773 987l4.5-1.3 4.5-1.7 4.5-2.6 5.5-3.6 5-3.5 5.1-3.8 5.8-4.7 4.3-3.7 33.3-31.5 9.3-8.4 8.7-7.2 9.4-7.3 7.2-5.3 7.3-4.8 10.1-6.3 8.6-5 8.7-4.5 7.9-3.7 8.7-3.5 5.8-1.9 10.8-2.8 8.7-1.6" stroke="#adff1c"/>
<path d="M773 987l5.5-1.6 4-1.5 5-3 5.5-3.5 5-3.5 4.8-3.6 5.8-4.6 4.3-3.8 33.3-31.2 9.4-8.3 8.6-7.2 9.4-7.3 6.5-4.7 8-5.3 10.8-6.7 8-4.6 8.6-4.4 8-3.6 7.9-3.2 6.5-2.2 10.1-2.5 8.7-1.6" stroke="#aaff1e"/>
<path d="M773 987l5.5-1.5 4-1.5 5.5-3.2 6-3.9 4.5-3.1 5.1-3.7 5.7-4.6 3.6-3.1 34-31.6 10.1-8.9 8.7-7 9.4-7.3 6.5-4.6 7.9-5.3 10.1-6.2 8-4.5 8.6-4.4 8-3.6 7.9-3.1 5.8-1.9 10.1-2.5 8.7-1.6" stroke="#a8ff24"/>
<path d="M773 987l5.5-1.4 4-1.5 5.5-3.2 6.5-4.1 4.7-3.2 5.1-3.7 5-3.9 4.4-3.8 33.9-31.3 10.1-8.8 8-6.4 10.1-7.8 6.5-4.7 7.9-5.2 10.2-6.2 7.9-4.4 8.7-4.4 7.9-3.5 7.2-2.8 5.8-1.9 10.1-2.5 8.7-1.6" stroke="#a6ff2b"/>
<path d="M773 987l5.5-1.4 4-1.4 5.5-3.1 7-4.3 4.9-3.4 5.1-3.6 4.3-3.4 4.4-3.7 34.6-31.6 10.9-9.4 8.6-7 8.7-6.6 6.5-4.6 8-5.2 10.1-6.1 7.2-4.1 9.4-4.7 7.9-3.4 7.3-2.8 5.7-1.8 10.2-2.5 7.9-1.4" stroke="#a4ff31"/>
<path d="M773 987l5.5-1.3 4-1.3 5.5-3.1 7-4.3 5.7-3.8 5-3.6 4.4-3.3 4.3-3.7 33.9-30.8 12.3-10.5 9.4-7.5 7.2-5.5 6.5-4.5 8-5.2 10.1-6.1 7.2-4 9.4-4.6 8-3.4 7.2-2.8 5.8-1.7 9.4-2.3 7.9-1.4" stroke="#a2ff37"/>
<path d="M773 987l5.5-1.2 4-1.3 6-3.3 7-4.3 5.2-3.3 5.7-4.1 4.4-3.4 4.3-3.6 34-30.5 12.2-10.4 9.4-7.5 7.3-5.5 7.2-5 7.2-4.7 9.4-5.6 7.2-4 9.4-4.6 8.7-3.7 7.2-2.7 5.8-1.7 8.7-2.1 7.9-1.3" stroke="#a0ff3d"/>
<path d="M773 987l6.5-1.4 2.5-0.8 1-0.5 6-3.3 7-4.1 5.4-3.5 5.8-4.1 3.6-2.7 4.3-3.6 34.7-30.9 13-10.9 9.4-7.5 6.5-4.8 7.2-5 8-5.1 9.3-5.6 7.3-3.9 8.6-4.2 8.7-3.6 6.5-2.4 6.5-1.9 8.7-2 7.2-1.2" stroke="#9dff44"/>
<path d="M773.5 987l7.5-1.8 1-0.3 1.5-0.7 6-3.3 7.5-4.4 5.8-3.8 5.1-3.5 3.6-2.8 4.3-3.6 14.5-12.5 20.2-18 13.7-11.5 8.7-6.8 6.5-4.9 7.2-4.9 8-5 9.4-5.6 7.9-4.2 8-3.8 8.6-3.6 6.5-2.3 6.5-1.8 8-1.9 7.2-1.2" stroke="#9bff4a"/>
<path d="M773.5 987l6.5-1.4 2-0.5 1-0.5 6-3.2 7.5-4.4 5.6-3.5 5.8-3.9 4.3-3.3 4.4-3.6 13.7-11.8 20.2-17.8 14.5-12.1 8.6-6.8 6.5-4.8 7.3-4.9 7.9-5 8.7-5.1 7.9-4.2 8-3.8 8.6-3.6 6.5-2.3 6.5-1.8 8-1.8 7.2-1.2" stroke="#99ff50"/>
<path d="M773.5 987l6.5-1.3 2-0.5 1-0.5 6.5-3.4 7.5-4.3 5.8-3.6 5.8-3.9 3.6-2.7 5.1-4.2 13.7-11.7 20.2-17.6 15.2-12.6 7.9-6.3 6.6-4.7 7.9-5.4 7.9-4.9 8.7-5 8-4.2 7.2-3.3 8.6-3.5 6.6-2.3 6.5-1.7 7.9-1.8 6.5-1.1" stroke="#97ff56"/>
<path d="M773.5 987l5.5-1 3-0.7 0.5-0.3 6.5-3.3 8-4.5 5.8-3.5 5.8-3.8 4.3-3.2 5.1-4.2 13-10.9 23.1-20 8-6.6 7.9-6.4 7.2-5.5 5.8-4.2 7.2-4.7 7.3-4.5 8.6-4.9 8-4.1 7.2-3.3 8.7-3.5 5.8-2 7.2-1.9 7.2-1.6 6.5-1" stroke="#95ff5d"/>
<path d="M773.5 987l5.5-1 3-0.6 0.5-0.3 7-3.5 8-4.4 6.1-3.6 5.7-3.8 5.8-4.4 9.4-7.7 31.8-27.1 15.2-12.3 6.5-5 5.7-4.1 7.3-4.7 7.9-4.8 8-4.5 7.9-4.1 6.5-2.9 8.7-3.5 5.8-1.9 7.2-1.9 7.2-1.6 6.5-1.1" stroke="#93ff63"/>
<path d="M773.5 987l8.5-1.5 7-3.5 8.5-4.6 6.1-3.5 5.7-3.7 5.8-4.3 10.1-8.2 33.3-28.1 14.4-11.7 5.8-4.3 6.5-4.6 6.5-4.2 7.9-4.8 8-4.4 7.9-4 6.5-2.9 8.7-3.4 5.8-1.9 7.2-1.9 7.2-1.5 5.8-0.9" stroke="#91ff69"/>
<path d="M774 987l5.5-0.9 2.5-0.5 0.5-0.3 7.5-3.7 8.5-4.5 5.8-3.3 5.8-3.7 5.7-4.3 12.3-9.9 31.8-26.8 13.7-10.9 5.8-4.4 6.5-4.5 6.5-4.1 7.2-4.4 8-4.4 7.9-4 6.5-2.9 8.7-3.4 5.8-1.9 7.2-1.8 7.2-1.5 5.8-0.9" stroke="#8fff6f"/>
<path d="M774 987l8-1.4 7.5-3.5 9-4.7 6.5-3.7 5.1-3.2 6.5-4.8 12.2-9.8 31.8-26.6 13.7-10.9 5.8-4.3 6.5-4.4 6.5-4.2 7.3-4.3 7.2-4 7.9-4 6.5-2.8 8.7-3.4 5.8-1.9 7.2-1.9 7.2-1.5 5.8-0.8" stroke="#8dff76"/>
<path d="M774 987l8-1.3 7.5-3.5 9-4.6 6.5-3.6 5.1-3.1 6.5-4.7 13-10.2 32.5-27.1 13-10.3 5.8-4.2 6.5-4.4 6.5-4.1 7.2-4.3 7.2-4 7.9-3.9 6.5-2.8 8.7-3.3 5.8-1.9 7.2-1.8 6.5-1.3 5.8-0.9" stroke="#8bff7c"/>
<path d="M774 987l8-1.2 8-3.7 9.2-4.6 6.5-3.6 5.1-3.1 6.5-4.7 13-10.1 9.4-7.6 23.1-19.3 13-10.2 5.8-4.2 6.5-4.4 6.5-4.1 7.2-4.3 7.2-3.9 8-3.8 5.7-2.5 8.7-3.3 5.8-1.8 7.2-1.8 6.5-1.3 5.8-0.9" stroke="#89ff82"/>
<path d="M774.5 987l7.5-1.1 8-3.6 9.2-4.6 6.5-3.5 5.1-3 6.5-4.6 13.7-10.6 9.4-7.5 23.1-19.2 13-10.2 5.1-3.7 6.5-4.3 6.5-4.1 7.2-4.3 7.2-3.8 8-3.9 5.7-2.4 8.7-3.3 5.8-1.8 7.2-1.8 6.5-1.3 5.8-0.9" stroke="#87ff88"/>
<path d="M774.5 987l7.5-1 8.5-3.8 9.4-4.6 6.5-3.4 5.1-3.1 7.2-5.1 13.8-10.5 8.6-6.9 23.1-19.1 13-10.1 5.8-4.2 5.8-3.8 6.5-4 7.2-4.3 6.5-3.4 8-3.8 5.7-2.5 8.7-3.3 5.8-1.8 7.2-1.7 6.5-1.4 5.8-0.8" stroke="#84ff8f"/>
<path d="M774.5 987l7.5-0.9 8.5-3.8 10.2-4.8 5.7-3 5.1-3 7.9-5.6 13.8-10.3 8.6-6.9 22.4-18.4 13-10.2 5.8-4.1 5.8-3.8 6.5-4 7.2-4.2 6.5-3.5 8-3.8 5.7-2.5 8.7-3.2 5.8-1.8 7.2-1.8 6.5-1.3 5.8-0.8" stroke="#82ff95"/>
<path d="M775 987l7-0.9 9-3.9 10.4-4.8 5.8-3 5-3 11.6-8.1 10.8-8.2 8.7-6.9 21.7-17.7 13-10.1 5.7-4.1 6.5-4.2 13-7.7 6.5-3.4 8-3.8 5.8-2.4 8.6-3.2 5.1-1.5 7.9-1.9 5.8-1.2 5.8-0.8" stroke="#80ff9c"/>
<path d="M775 987l7-0.8 9-3.8 10.4-4.7 5.8-3 5-2.9 12.3-8.5 11.6-8.7 8.6-6.8 20.3-16.5 13.7-10.6 5.8-4.1 5.7-3.7 6.5-4 6.5-3.7 6.5-3.4 8-3.7 5.8-2.4 8.6-3.2 5.1-1.6 7.9-1.9 5.8-1.1 5.8-0.8" stroke="#7effa4"/>
<path d="M775.5 987l6.5-0.7 9.5-4 10.6-4.7 5.8-2.9 5-3 12.3-8.4 12.3-9.2 14.5-11.4 13.7-11.2 13-10.1 5.8-4 6.5-4.2 6.5-3.9 6.5-3.7 7.2-3.7 7.2-3.3 6.5-2.6 7.2-2.7 5.1-1.5 7.9-1.9 5.8-1.1 5.8-0.8" stroke="#7cffac"/>
<path d="M775.5 987l6.5-0.6 9.5-3.9 10.6-4.7 5.8-2.8 5-2.9 12.3-8.3 13-9.6 13.8-10.8 18.7-15.1 8.7-6.6 5.8-4 5.8-3.7 6.5-3.9 6.5-3.7 6.5-3.3 7.2-3.4 5.8-2.3 8.6-3.2 5.1-1.5 7.9-1.9 5.8-1.1 5.8-0.8" stroke="#7affb4"/>
<path d="M776 987l6-0.6 2.5-1 9-3.6 10.1-4.4 5.7-2.8 4.4-2.6 13-8.7 11.5-8.4 13.8-10.7 19.5-15.7 7.9-6 5.8-4 5.8-3.7 6.5-3.9 6.5-3.7 6.5-3.3 7.2-3.3 5.8-2.4 8.6-3.1 5.1-1.5 7.9-1.9 5.8-1.1 5.8-0.8" stroke="#78ffbc"/>
<path d="M776 987l6-0.5 3.5-1.4 18.8-7.7 5-2.5 5.1-2.9 13-8.7 11.6-8.3 13.7-10.7 19.5-15.6 7.2-5.4 5.8-4 6.5-4.2 6.5-3.8 6.5-3.6 6.5-3.3 7.2-3.3 6.5-2.6 7.2-2.6 5.1-1.4 7.9-1.9 5.8-1.1 5.8-0.7" stroke="#76ffc4"/>
<path d="M776.5 987l5.5-0.4 6-2.3 17-7 5.1-2.5 5-2.9 12.3-8 12.3-8.8 13-10 20.2-16.1 7.2-5.4 5.8-4 5.8-3.7 6.5-3.8 6.5-3.6 6.5-3.3 7.2-3.2 6.5-2.6 7.2-2.6 5.1-1.5 7.9-1.8 5.8-1.1 5.8-0.7" stroke="#74ffcc"/>
<path d="M777 987l5-0.4 7.5-2.8 11.2-4.4 5-2.1 4.4-2.1 5-2.9 12.3-7.9 12.3-8.7 13-9.9 20.2-16.1 7.2-5.4 5.8-3.9 5.8-3.7 6.5-3.8 6.5-3.6 6.5-3.2 7.2-3.3 6.5-2.5 7.2-2.6 5.1-1.5 7.9-1.8 5.8-1.1 5.8-0.7" stroke="#72ffd4"/>
<path d="M777.5 987l4.5-0.3 16.5-6.2 9.4-4 3.6-1.8 4.3-2.5 12.3-7.8 12.3-8.6 12.3-9.3 20.9-16.6 7.3-5.3 5.7-3.9 5.8-3.6 7.2-4.2 5.8-3.1 6.5-3.2 7.2-3.2 7.3-2.8 6.5-2.3 4.3-1.2 7.9-1.8 5.8-1 5.8-0.8" stroke="#70ffdc"/>
<path d="M778 987l4-0.3 18.7-6.9 8.6-3.6 7.3-4 12.2-7.7 12.3-8.6 11.6-8.7 20.9-16.5 7.3-5.3 5.7-3.9 5.8-3.6 6.5-3.8 6.5-3.5 6.5-3.2 7.2-3.2 7.3-2.7 6.5-2.3 4.3-1.2 7.9-1.8 5.8-1 5.8-0.8" stroke="#6effe4"/>
<path d="M778.5 987l3.5-0.2 20.8-7.6 7.3-3.1 7.9-4.4 11.6-7.2 12.2-8.5 11.6-8.6 20.9-16.5 6.6-4.7 5.7-3.9 5.8-3.6 6.5-3.8 6.5-3.5 6.5-3.2 7.2-3.1 7.3-2.8 6.5-2.2 4.3-1.2 7.9-1.8 5.8-1 5.8-0.8" stroke="#6bffe8"/>
<path d="M779 987l3-0.2 21.6-7.6 7.2-3.1 7.9-4.4 11.6-7.1 12.3-8.4 10.8-8.1 20.9-16.4 7.3-5.2 5.8-3.9 5.7-3.5 6.5-3.8 5.8-3.1 6.5-3.1 7.2-3.2 7.3-2.7 6.5-2.2 4.3-1.2 7.9-1.8 5.8-1 5.8-0.7" stroke="#68feeb"/>
<path d="M780 987l2-0.1 23.7-8.3 6.5-2.9 8.7-4.9 10.8-6.7 12.3-8.4 9.4-6.9 20.9-16.3 7.3-5.2 5.8-3.9 5.7-3.5 6.5-3.8 5.8-3 7.2-3.5 6.5-2.8 7.3-2.7 6.5-2.2 4.3-1.2 7.9-1.8 5.8-1 5.8-0.7" stroke="#65fdee"/>
<path d="M781 987l1-0.1 19.4-6.5 5.8-2.2 3.6-1.5 3.6-1.8 9.4-5.3 10.1-6.4 11.6-7.9 8.6-6.3 20.2-15.7 7.3-5.3 5.8-3.8 5.7-3.5 6.5-3.7 5.8-3.1 7.2-3.4 6.5-2.8 7.3-2.7 6.5-2.2 4.3-1.2 7.9-1.8 5.8-1 5.8-0.7" stroke="#62fdf0"/>
<path d="M782 987l19.4-6.4 6.5-2.4 6.5-3 10.1-5.6 10.8-6.8 10.9-7.3 7.9-5.8 21-16.2 6.5-4.7 5.8-3.8 5.7-3.5 6.5-3.7 5.8-3.1 7.2-3.4 6.5-2.8 7.3-2.7 6.5-2.1 4.3-1.2 7.9-1.8 5.8-1 5.8-0.7" stroke="#5efcf3"/>
<path d="M782 987l20.1-6.5 6.5-2.3 6.5-3.1 10.1-5.5 11.6-7.1 10.1-6.9 7.9-5.8 20.3-15.6 7.2-5.1 5.8-3.7 5.8-3.5 6.5-3.7 5.7-3 6.5-3.1 6.5-2.7 7.3-2.7 6.5-2.2 4.3-1.1 7.9-1.8 5.8-1 5.8-0.7" stroke="#5bfcf6"/>
<path d="M782 987l20.1-6.3 6.5-2.3 6.5-2.9 10.1-5.5 11.6-7 10.8-7.3 7.2-5.2 20.3-15.5 7.2-5.1 5.8-3.7 5.8-3.5 6.5-3.7 5.7-3 6.5-3 6.5-2.8 7.3-2.6 6.5-2.2 4.3-1.2 7.9-1.7 5.8-1 5.8-0.7" stroke="#58fbf8"/>
<path d="M782 987.1l20.8-6.4 5.8-2 7.2-3.3 10.9-5.8 11.5-7 10.1-6.8 6.5-4.6 21-16 7.2-5 5.8-3.7 5.8-3.4 6.5-3.6 5.8-3 6.5-3 6.5-2.7 7.2-2.6 5.8-1.9 4.3-1.2 7.9-1.7 5.8-0.9 5.8-0.7" stroke="#55fbfb"/>
<path d="M782 987.1l20.8-6.2 5.8-2 7.2-3.2 10.9-5.7 11.5-6.8 10.1-6.7 7.3-5.2 20.2-15.3 7.2-5 5.8-3.7 5.8-3.4 6.5-3.6 5.8-3 6.5-2.9 6.5-2.7 7.2-2.6 5.8-1.9 4.3-1.2 7.9-1.7 5.8-0.9 5.8-0.7" stroke="#51fafe"/>
<path d="M782.5 987l20.3-6 6.5-2.1 7.3-3.2 10.8-5.6 11.6-6.9 10.1-6.6 6.5-4.6 20.2-15.2 7.9-5.5 10.9-6.6 6.5-3.6 5.8-2.9 6.5-3 6.5-2.7 7.2-2.6 5.8-1.8 4.3-1.2 7.9-1.7 5.8-0.9 5.8-0.7" stroke="#4ff0ff"/>
<path d="M782.5 987l20.3-5.8 6.5-2.1 7.3-3.1 10.8-5.5 11.6-6.7 10.1-6.6 6.5-4.6 20.9-15.6 8-5.4 10.8-6.5 6.5-3.6 5.8-2.8 6.5-2.9 5.8-2.4 7.9-2.8 5.8-1.9 4.3-1.1 8-1.6 5.7-0.9 5.1-0.6" stroke="#4ddfff"/>
<path d="M782.5 987l20.3-5.6 6.5-2.1 8-3.3 10.8-5.5 11.6-6.7 10.1-6.5 6.5-4.6 20.2-15 8-5.3 10.8-6.5 6.5-3.5 5.8-2.9 6.5-2.9 5.8-2.3 7.9-2.9 5.8-1.8 4.3-1.1 8-1.6 5.7-0.9 5.1-0.6" stroke="#4bcfff"/>
<path d="M782.5 987l21.1-5.6 5.7-1.9 8-3.3 10.8-5.3 11.6-6.6 10.8-6.9 5.8-4 20.2-14.9 8.7-5.8 5.8-3.5 5.7-3.3 5.8-3.1 5.8-2.8 6.5-2.8 5.8-2.3 7.2-2.6 5.8-1.8 4.3-1.1 8-1.6 5.7-0.9 5.1-0.6" stroke="#48beff"/>
<path d="M782.5 987.1l21.1-5.6 5.7-1.7 8-3.3 11.5-5.6 10.9-6 10.8-6.9 5.8-4 20.2-14.8 8.7-5.7 5.8-3.5 5.7-3.3 5.8-3.1 5.8-2.7 6.5-2.9 5.8-2.3 7.2-2.5 5.8-1.8 4.3-1.1 8-1.6 5.7-0.9 5.1-0.6" stroke="#46adff"/>
<path d="M782.5 987.1l21.1-5.4 5.7-1.7 8-3.2 11.5-5.5 10.9-6 10.8-6.7 5.8-3.9 20.9-15.2 8.7-5.7 5.8-3.5 5.8-3.2 5.7-3 5.8-2.7 5.8-2.5 5.8-2.3 7.2-2.5 5.8-1.8 4.3-1.1 8-1.6 5.7-0.9 5.1-0.6" stroke="#43a3ff"/>
<path d="M782.5 987.1l21.1-5.3 5.7-1.6 4.4-1.6 4.3-1.8 6.5-3 5.1-2.5 10.8-5.9 10.8-6.7 5.8-3.9 20.2-14.6 8.7-5.6 5.8-3.5 5.8-3.2 5.7-3 5.8-2.7 5.8-2.5 5.8-2.3 7.2-2.5 5.8-1.8 4.3-1 8-1.6 5.7-0.9 5.1-0.6" stroke="#409bff"/>
<path d="M783 987l20.6-5 5.7-1.7 4.4-1.5 4.3-1.8 6.5-2.8 5.1-2.5 10.8-5.8 10.8-6.6 5.8-3.9 20.2-14.4 9.4-6.1 5.8-3.4 5.8-3.2 5.8-2.9 5-2.4 5.8-2.4 5.8-2.3 7.2-2.5 5.8-1.8 4.3-1.1 8-1.5 5.7-0.9 5.1-0.6" stroke="#3d93ff"/>
<path d="M783 987l20.6-4.9 6.5-1.8 4.3-1.5 5-2.1 5.8-2.5 5.1-2.5 10.8-5.7 10.9-6.6 5.7-3.9 19.5-13.8 9.4-6 5.8-3.4 5.8-3.2 5.8-2.9 5.7-2.7 5.8-2.4 5.8-2.2 7.9-2.7 5.1-1.5 5.1-1.2 7.2-1.4 5-0.8 5.1-0.5" stroke="#398aff"/>
<path d="M783 987l20.6-4.7 6.5-1.8 4.3-1.5 5-2 5.8-2.5 5.1-2.4 10.8-5.7 10.9-6.5 5.7-3.8 20.3-14.2 9.4-5.9 5.7-3.4 5.8-3.1 5.8-2.9 5.8-2.6 10.8-4.3 7.9-2.7 5.1-1.5 5.1-1.2 7.2-1.4 5-0.7 5.1-0.6" stroke="#3682ff"/>
<path d="M783 987l20.6-4.6 6.5-1.7 4.3-1.5 5-1.9 6.6-2.8 4.3-2 10.8-5.7 10.9-6.3 5.7-3.9 20.3-14 10.1-6.4 5.8-3.3 5.7-3 5.8-2.9 5.8-2.6 10.8-4.2 7.2-2.4 5.1-1.5 5.1-1.2 7.2-1.4 5-0.8 5.1-0.5" stroke="#337aff"/>
<path d="M783 987l20.6-4.5 6.5-1.6 4.3-1.5 5.8-2.2 5.8-2.3 4.3-2.1 10.8-5.5 10.9-6.3 5.7-3.8 20.3-14 10.8-6.7 5.1-2.9 6.5-3.4 5.7-2.8 5.8-2.6 10.1-3.9 7.2-2.4 5.1-1.5 5.1-1.2 7.2-1.4 5-0.7 5.1-0.6" stroke="#3175ff"/>
<path d="M783 987l20.6-4.3 6.5-1.6 4.3-1.4 5-1.9 6.6-2.6 3.6-1.7 11.5-5.8 10.9-6.3 5.7-3.7 20.3-13.9 10.8-6.7 5.1-2.9 6.5-3.4 5.7-2.8 5.8-2.5 10.1-4 7.2-2.4 5.1-1.4 5.1-1.2 7.2-1.4 5-0.8 5.1-0.5" stroke="#3071fe"/>
<path d="M783 987l20.6-4.2 6.5-1.5 4.3-1.4 5-1.8 6.6-2.5 2.8-1.4 12.3-6.1 10.9-6.2 5.7-3.7 21-14.3 10.8-6.6 5.1-2.9 6.5-3.3 5.8-2.8 5.7-2.5 10.1-3.9 7.3-2.4 5-1.4 11.6-2.3 5-0.8 5.1-0.6" stroke="#2f6dfe"/>
<path d="M783 987l20.6-4 5.7-1.4 8-2.5 9.4-3.5 13.7-6.8 11.6-6.5 6.5-4.2 20.2-13.7 11.5-7 11.6-6.1 5.8-2.7 5.8-2.5 9.3-3.6 7.3-2.3 5-1.5 11.6-2.3 5-0.8 5.1-0.6" stroke="#2e69fd"/>
<path d="M783 987l19.8-3.7 5.8-1.3 7.2-2.1 10.2-3.6 13.7-6.7 10.1-5.6 7.2-4.4 20.2-13.7 6.5-4.1 10.2-5.9 11.5-5.8 7.2-3.1 6.5-2.6 7.3-2.5 6.5-2 4.3-1.1 7.9-1.6 5.8-0.9 5.8-0.7" stroke="#2d65fd"/>
<path d="M783 987l19.8-3.6 5.8-1.2 7.2-2.1 10.2-3.5 13.7-6.7 10.1-5.5 7.2-4.4 20.2-13.6 7.3-4.5 10.1-5.8 10.8-5.4 7.2-3.2 6.5-2.6 7.3-2.5 6.5-2 4.3-1.1 7.9-1.6 5.8-0.9 5.8-0.6" stroke="#2c61fc"/>
<path d="M783.5 987l20.1-3.6 5.7-1.2 7.3-2.1 9.4-3.1 14.4-7.1 9.4-5.1 7.2-4.4 20.2-13.5 7.3-4.6 10.1-5.7 10.8-5.4 7.2-3.2 6.5-2.6 7.3-2.5 6.5-2 4.3-1.1 7.9-1.6 5.8-0.9 5.8-0.6" stroke="#2b5dfc"/>
<path d="M783.5 987l20.1-3.5 5.7-1.1 7.3-2 9.4-3.1 15.1-7.4 9.4-5.2 6.5-3.9 20.2-13.5 7.3-4.5 10.1-5.8 10.8-5.4 7.2-3.1 6.5-2.6 7.3-2.5 6.5-2 4.3-1.1 7.9-1.6 5.8-0.9 5.8-0.6" stroke="#2a59fb"/>
<path d="M783.5 987l20.1-3.3 5.7-1.2 7.3-1.9 9.4-2.9 15.1-7.5 9.4-5.1 6.5-3.9 20.2-13.5 7.3-4.5 10.1-5.7 10.8-5.4 7.2-3.1 6.5-2.6 7.3-2.5 6.5-2 4.3-1.1 7.9-1.6 5.8-0.9 5.8-0.6" stroke="#2955fb"/>
<path d="M783.5 987l20.1-3.2 5.7-1.1 7.3-1.8 9.4-2.9 15.8-7.9 9.4-5.1 5.8-3.5 20.2-13.3 7.3-4.5 10.1-5.8 10.8-5.3 7.2-3.2 6.5-2.6 7.3-2.5 6.5-2 4.3-1.1 7.9-1.5 5.8-0.9 5.8-0.7" stroke="#2851fa"/>
<path d="M783.5 987l20.1-3.1 5.7-1 7.3-1.8 9.4-2.7 16.6-8.3 8.6-4.7 5.8-3.5 20.2-13.3 8-4.9 9.4-5.3 10.8-5.4 7.2-3.2 6.5-2.5 7.3-2.5 6.5-2 4.3-1.1 7.9-1.6 5.8-0.9 5.8-0.6" stroke="#284ffa"/>
<path d="M783.5 987l20.1-2.9 5.7-1 7.3-1.7 9.4-2.7 17.3-8.7 7.9-4.3 6.5-3.9 19.5-12.8 8-4.9 9.4-5.3 10.8-5.4 7.2-3.1 6.5-2.6 7.3-2.5 6.5-2 4.3-1.1 7.9-1.6 5.8-0.9 5.8-0.6" stroke="#274dfa"/>
<path d="M783.5 987l20.1-2.8 5.7-1 7.3-1.6 9.4-2.6 4.3-2.3 13.7-6.8 8-4.3 6.5-4 19.5-12.7 7.2-4.4 9.4-5.3 10.8-5.4 7.2-3.1 6.5-2.6 7.3-2.5 6.5-2 4.3-1.1 7.9-1.5 5.8-0.9 5.8-0.7" stroke="#274cf9"/>
<path d="M784 987l19.6-2.7 5.7-0.9 7.3-1.6 9.4-2.4 4.3-2.4 14.4-7.2 7.3-3.9 6.5-3.9 19.5-12.7 7.2-4.4 9.4-5.3 10.8-5.4 7.2-3.1 6.5-2.6 7.3-2.4 6.5-2 4.3-1.1 7.9-1.6 5.8-0.9 5.8-0.7" stroke="#264af9"/>
<path d="M784 987l19.6-2.5 5.7-0.9 7.3-1.5 9.4-2.4 4.3-2.4 13.7-6.8 8-4.3 6.5-3.9 20.2-13.1 7.2-4.4 8.7-4.8 10.8-5.3 7.2-3.2 6.5-2.5 7.3-2.5 6.5-2 4.3-1.1 7.9-1.6 5.8-0.9 5.8-0.7" stroke="#2649f9"/>
<path d="M784 987l19.6-2.4 5.7-0.9 7.3-1.4 9.4-2.3 4.3-2.4 13.7-6.8 8-4.3 6.5-3.9 20.2-13 7.2-4.4 8.7-4.8 10.8-5.3 7.2-3.2 6.5-2.5 7.3-2.5 6.5-2 4.3-1.1 7.9-1.6 5.8-0.9 5.8-0.6" stroke="#2547f9"/>
<path d="M784 987l25.3-3.1 7.3-1.4 9.4-2.1 4.3-2.5 13.7-6.8 8-4.3 6.5-3.9 20.2-12.9 7.2-4.4 8.7-4.8 10.8-5.3 7.2-3.1 6.5-2.6 7.3-2.5 6.5-2 4.3-1.1 7.9-1.5 5.8-1 5.8-0.6" stroke="#2546f8"/>
<path d="M784 987l25.3-2.9 7.3-1.3 9.4-2.1 5-2.9 13.7-6.8 8-4.3 6.5-3.9 19.5-12.5 7.2-4.3 8.7-4.8 10.8-5.3 7.2-3.1 6.5-2.6 7.3-2.5 6.5-2 4.3-1 7.9-1.6 5.8-0.9 5.8-0.7" stroke="#2444f8"/>
<path d="M784.5 987l24.8-2.8 7.3-1.2 9.4-2 5-3 13.7-6.8 8-4.2 6.5-3.9 19.5-12.4 7.2-4.3 8.7-4.8 10.8-5.3 7.2-3.1 6.5-2.5 7.3-2.5 6.5-2 4.3-1.1 7.9-1.6 5.8-0.9 5.8-0.6" stroke="#2443f8"/>
<path d="M784.5 987l24.8-2.6 7.3-1.2 9.4-1.9 5-3 14.5-7.1 7.2-3.9 6.5-3.9 19.5-12.3 7.9-4.7 8.7-4.7 10.1-4.9 7.2-3.1 6.5-2.6 7.3-2.5 6.5-2 4.3-1 7.9-1.6 5.8-0.9 5.8-0.7" stroke="#2341f8"/>
<path d="M784.5 987l24.8-2.5 7.3-1.1 9.4-1.8 2.8-1.8 2.9-1.6 13.8-6.8 7.2-3.8 6.5-3.8 19.5-12.3 7.9-4.7 8.7-4.7 10.1-4.9 7.2-3 6.5-2.6 7.3-2.5 6.5-2 4.3-1.1 7.9-1.5 5.8-1 5.8-0.6" stroke="#2340f7"/>
<path d="M785 987l24.3-2.3 7.3-1.1 9.4-1.7 2.8-1.9 2.9-1.5 14.5-7.1 7.9-4.3 24.6-15.1 10.8-6.4 7.2-3.8 8.7-4.1 7.2-3.1 6.5-2.5 7.3-2.5 6.5-2 4.3-1.1 7.9-1.5 5.8-1 5.8-0.6" stroke="#223ef7"/>
<path d="M785 987l24.3-2.2 7.3-1 9.4-1.6 2.8-1.9 2.9-1.6 14.5-7.1 7.9-4.2 24.6-15 10.8-6.3 7.2-3.8 8.7-4.1 7.2-3.1 6.5-2.5 7.3-2.5 6.5-2 4.3-1.1 7.9-1.5 5.8-0.9 5.8-0.7" stroke="#223df7"/>
<path d="M785.5 987l23.8-2 7.3-1 9.4-1.5 2.8-1.9 2.9-1.6 15.2-7.4 7.2-3.8 24.6-15 10.8-6.2 7.2-3.8 8.7-4.1 8-3.3 6.5-2.5 7.2-2.5 5.8-1.7 4.3-1.1 7.9-1.6 5.8-0.9 5.8-0.6" stroke="#213bf7"/>
<path d="M785.5 987l23.8-1.9 7.3-0.9 9.4-1.4 2.8-1.9 2.9-1.7 15.2-7.3 7.2-3.8 24.6-14.8 10.8-6.2 7.2-3.8 8.7-4 8-3.4 6.5-2.5 7.2-2.4 5.8-1.7 4.3-1.1 7.9-1.6 5.8-0.9 5.8-0.7" stroke="#213af6"/>
<path d="M786 987l23.3-1.8 7.3-0.8 9.4-1.3 2.8-2 2.9-1.6 15.9-7.7 7.2-3.8 23.9-14.2 10.8-6.2 7.2-3.7 8.7-4 8-3.4 6.5-2.5 7.2-2.4 5.8-1.7 4.3-1.1 7.9-1.6 5.8-0.9 5.8-0.6" stroke="#2038f6"/>
<path d="M786 987l23.3-1.6 16.7-2 2.8-2 3.7-2 15.1-7.3 7.2-3.7 23.9-14.1 10.8-6.1 7.2-3.7 8.7-4 8-3.4 6.5-2.5 7.2-2.4 5.8-1.7 4.3-1.1 7.9-1.5 5.8-0.9 5.8-0.7" stroke="#2037f6"/>
<path d="M786.5 987l22.8-1.5 16.7-1.8 2.8-2.1 3.7-2 15.1-7.2 7.2-3.6 23.9-14 10.8-6 7.2-3.7 8.7-4 8-3.3 6.5-2.5 7.2-2.4 5.8-1.7 4.3-1.1 7.9-1.5 5.8-1 5.8-0.6" stroke="#1f35f6"/>
<path d="M786.5 987l22.8-1.4 16.7-1.7 2.8-2 3.7-2 15.1-7.1 7.2-3.7 24.6-14.2 10.8-5.9 7.3-3.6 8.6-3.9 13.8-5.5 7.2-2.4 5.8-1.7 4.3-1.1 7.9-1.5 5.8-0.9 5.8-0.7" stroke="#1f34f5"/>
<path d="M787 987l22.3-1.2 16.7-1.6 2.8-2.1 3.7-2 15.1-7 7.2-3.6 24.6-14 10.8-5.9 7.3-3.5 8.6-3.9 13.8-5.4 7.2-2.4 5.8-1.7 4.3-1.1 7.9-1.5 5.8-0.9 5.8-0.7" stroke="#1e32f5"/>
<path d="M787.5 987l21.8-1.1 16.7-1.5 2.8-2 3.7-2 15.8-7.3 7.3-3.5 23.8-13.4 10.8-5.9 7.3-3.5 8.6-3.9 13.8-5.3 7.2-2.4 5.8-1.7 4.3-1.1 7.9-1.5 5.8-0.9 5.8-0.7" stroke="#1e31f5"/>
<path d="M788 987l21.3-1 16.7-1.3 2.8-2.1 3.7-1.9 15.8-7.2 7.3-3.5 23.8-13.2 10.8-5.8 7.3-3.5 8.6-3.8 13.8-5.3 7.2-2.4 5.8-1.6 4.3-1.1 7.9-1.5 5.8-0.9 5.8-0.7" stroke="#1d2ff4"/>
<path d="M788.5 987l21.6-0.9 15.9-1.2 2.8-2 3.7-2 16.6-7.3 6.5-3.2 23.8-12.9 11.6-6.1 7.2-3.4 7.9-3.4 13.8-5.3 7.2-2.3 5.8-1.7 4.3-1.1 7.9-1.5 5.8-0.9 5.8-0.6" stroke="#1d2ef4"/>
<path d="M789.5 987l20.6-0.8 15.9-1.1 2.8-2 3.7-1.9 16.6-7.2 6.5-3.1 23.8-12.7 11.6-5.9 7.2-3.4 8.7-3.7 13.7-5.2 12.3-3.7 4.3-1.1 7.9-1.5 5.8-0.9 5.8-0.6" stroke="#1c2df3"/>
<path d="M790 987l20.1-0.7 15.9-1 2.8-1.9 3.7-1.9 16.6-7.1 6.5-3 23.8-12.4 12.3-6.2 7.2-3.3 8-3.3 13.7-5.2 7.2-2.3 5.8-1.6 4.3-1 8-1.5 5.7-0.8 5.1-0.6" stroke="#1c2bf3"/>
<path d="M791 987l19.1-0.6 15.9-0.9 2.8-1.9 3.7-1.9 16.6-6.8 7.2-3.3 35.4-17.9 7.2-3.3 8.7-3.5 13-4.8 7.2-2.3 5.8-1.6 4.3-1 8-1.4 5.7-0.9 5.1-0.6" stroke="#1b2af2"/>
<path d="M792 987l18.1-0.5 15.9-0.8 2.8-1.9 3.7-1.8 17.3-7 6.5-2.9 36.1-17.8 8-3.4 7.9-3.2 13-4.7 12.3-3.6 4.3-1 8-1.5 5.7-0.8 5.1-0.6" stroke="#1b29f2"/>
<path d="M793.5 987l17.3-0.5 15.2-0.6 2.8-1.9 3.7-1.7 17.3-6.8 6.5-2.8 36.1-17.4 8-3.3 8.6-3.4 12.3-4.4 12.3-3.6 4.3-0.9 8-1.5 5.7-0.8 5.1-0.6" stroke="#1b28f2"/>
<path d="M795.5 987l15.3-0.4 15.2-0.5 2.8-1.8 3.7-1.7 17.3-6.6 6.5-2.7 36.8-17.2 8.7-3.6 10.1-3.8 10.1-3.5 12.3-3.4 5.1-1.1 7.2-1.3 10.1-1.2" stroke="#1a26f1"/>
<path d="M797.5 987l28.5-0.8 2.8-1.7 3.7-1.6 17.3-6.3 7.2-2.9 36.9-16.7 9.3-3.8 10.9-4 9.4-3.1 11.5-3.1 11.6-2.2 10.1-1.2" stroke="#1a25f1"/>
<path d="M799.9 987l26.1-0.6 2.8-1.7 3.7-1.5 17.3-6.1 7.2-2.8 37.6-16.4 9.4-3.6 11.5-4.2 10.1-3.2 10.2-2.6 11.5-2.1 9.4-1.1" stroke="#1924f0"/>
<path d="M803.6 987l22.4-0.5 2.8-1.6 3.7-1.4 17.3-5.8 7.2-2.7 11.6-4.7 20.9-9 6.5-2.7 8.7-3.2 12.3-4.3 10.1-3.1 8.7-2.1 11.5-2.1 9.4-1.1" stroke="#1922f0"/>
<path d="M807.9 987l18.1-0.4 2.8-1.4 3.7-1.4 16.6-5.2 7.2-2.5 13-5.1 25.3-10.4 10.1-3.7 13.7-4.7 10.1-2.9 8-2 10.8-1.8 9.4-1.2" stroke="#1821ef"/>
<path d="M812.2 987l13.8-0.2 2.8-1.4 3.7-1.3 16.6-4.9 7.2-2.4 13.7-5.1 25.3-10 10.1-3.5 13.7-4.6 10.1-2.8 7.3-1.7 10.8-1.9 9.4-1.1" stroke="#1820ef"/>
<path d="M818 987l8-0.1 2.8-1.3 3.7-1.2 20.9-5.8 15.9-5.5 27.4-10.4 18.1-6 7.9-2.4 8.7-2.3 5.8-1.2 10.8-1.8 8.7-1" stroke="#171eee"/>
<path d="M825.2 987l0.8-0.1 2.8-1.1 3.7-1.1 17.3-4.4 7.9-2.3 13.8-4.5 25.2-9.2 18.1-5.8 7.2-2.1 8.7-2.3 6.5-1.4 10.8-1.8 8.7-1" stroke="#171dee"/>
<path d="M826 987l2.8-1 2.9-0.8 18.1-4.1 9.4-2.6 13.7-4.3 25.3-8.6 24.5-7.5 8.7-2.2 5.8-1.2 10.8-1.7 8.7-1" stroke="#171cee"/>
<path d="M826 987.1l5.7-1.6 20.3-4.2 8.6-2.2 14.5-4.2 24.5-8 18.8-5.6 7.2-1.9 7.3-1.7 5.7-1.1 9.4-1.5 8.7-0.9" stroke="#161bed"/>
<path d="M826 987.1l5.7-1.3 20.3-3.6 10.8-2.6 13.7-3.7 18.8-5.8 22.4-6.4 11.5-3 6.6-1.4 6.5-1.1 7.9-1.1 6.5-0.6" stroke="#1619ed"/>
<path d="M826.7 987l25.3-3.9 14.4-3.1 14.5-3.7 14.4-4.3 23.8-6.5 12.3-3 5.8-1.1 7.2-1.1 12.3-1.5" stroke="#1518ec"/>
<path d="M827.4 987l21.7-2.6 5.7-0.8 7.3-1.4 9.4-1.9 9.4-2.3 38.2-10.2 10.1-2.4 6.6-1.3 6.5-1 7.9-1.1 6.5-0.7" stroke="#1517ec"/>
<path d="M829.6 987l11.5-0.9 10.1-1 7.3-1 9.3-1.6 14.5-3 38.3-9.6 10.1-2.3 5.8-1.1 7.2-1.1 13-1.4" stroke="#1415eb"/>
</g>
<path class="k" d="M755.5 987.2l3 0 2-1.3 1.5-1.3 2-2.1 2-2.7 2-3.3 1.5-2.9 2.5-5.7 2.5-6.7 13-38.6 11.7-32.8 5.8-15.4 5.1-12.2 2.8-6.2 2.9-5.8 2.9-5.2 3.6-5.9 3.7-5.5 4.3-6 3.6-4.5 4.3-4.9 5.8-5.8 5.1-4.7 5-4.1 5.8-4.2 5.8-3.7 5.8-3.2 6.5-3.1 5.7-2.4 7.3-2.4 10.1-3 5.8-1.4 6.5-1.3 8.6-1.3 10.1-1.1 11.6-1.1 13-0.9"/>
</g>
<rect class="f" x="715.8" y="581.9" width="240.4" height="405.3"/>
<text class="a" x="709.5" y="591.1" text-anchor="end">0.7</text>
<text class="a" x="709.2" y="996.8" text-anchor="end">0</text>
<text class="a" x="715.4" y="1017.2" text-anchor="middle">0</text>
<text class="a" x="956.5" y="1017.2" text-anchor="middle">1</text>
<text class="i" x="834.6" y="1049.8" text-anchor="middle">ξ</text>
<text class="e" transform="translate(660.3 787.7) rotate(-90)" text-anchor="middle">η</text>
<text class="a" x="732.4" y="632.2">t</text>
<rect x="745.2" y="621.6" width="7.4" height="2"/><rect x="745.2" y="626.6" width="7.4" height="2"/>
<text class="a" x="754.4" y="632.2">3.50</text>
<clipPath id="c7"><rect x="1033.3" y="581.9" width="240.4" height="405.3"/></clipPath>
<g clip-path="url(#c7)">
<g class="l">
<path d="M1033.3 782.2l3.5 0.1 4 0.4 4 0.7 3.5 0.9 4 1.2 3.5 1.3 3.5 1.5 3.5 1.9 3.6 2.1 3 2.1 3.5 2.7 3 2.7 3 3 2.5 2.8 3 3.6 2.5 3.4 5 7.7 4.5 8.3 4.5 9.6 4.5 11.3 4 11.6 4 13.3 4 15.4 3.5 15.2" stroke="#860000" stroke-width="1"/>
<path d="M1033.3 824.7l7 0.4 7.5 1.1 7 1.7 7 2.5 6.1 2.8 6 3.6 5.5 4.2 5 4.6 5 5.6 4.5 6 4.5 7.1 4 7.3 4 8.5 4 9.9 3.5 9.8 3.5 11.1" stroke="#8c0000" stroke-width="1"/>
<path d="M1033.3 849.2l7 0.3 7 0.8 7 1.4 6.5 1.8 6.1 2.3 5.5 2.6 5.5 3.3 5 3.7 4.5 4 4.5 4.7 4 4.9 4 5.8 4 6.7 3.5 6.7 3.5 7.7 3.5 8.7" stroke="#940000" stroke-width="1"/>
<path d="M1033.3 866.2l6.5 0.2 7 0.7 6.5 1.1 6.5 1.5 6.1 2 5.5 2.3 5 2.5 5 3.2 4.5 3.4 4 3.7 4 4.2 4 5 4 5.7 3.5 5.9 3.5 6.7 3 6.4" stroke="#9a0000" stroke-width="1"/>
<path d="M1033.3 878.7l6.5 0.2 7 0.6 6.5 1 6 1.3 5.6 1.6 5.5 2 5 2.3 4.5 2.6 4.5 3 4 3.2 4 3.8 4 4.4 3.5 4.5 3.5 5.2 3.5 6 3 5.8" stroke="#a00000" stroke-width="1"/>
<path d="M1033.3 888.7l6.5 0.2 6.5 0.5 6.5 0.9 6 1.1 5.6 1.4 5 1.6 5 2 4.5 2.2 4.5 2.7 4 2.8 4 3.3 3.5 3.4 3.5 3.9 3.5 4.5 3.5 5.2 3 5.1" stroke="#a70000" stroke-width="1"/>
<path d="M1033.3 898l6.5 0.2 6.5 0.4 6 0.8 6 1 5.6 1.2 5 1.5 5 1.8 4.5 2 4 2.2 4 2.5 4 3 3.5 3.1 3.5 3.6 3.5 4.1 3 4 3 4.6" stroke="#ae0000" stroke-width="1"/>
<path d="M1033.3 905.2l6 0.1 6.5 0.5 6 0.6 6 0.9 5.6 1.2 5 1.3 4.5 1.5 4.5 1.8 4 2 4 2.3 4 2.8 3.5 2.8 3.5 3.3 3 3.3 3 3.6 3 4.2" stroke="#b50000" stroke-width="1"/>
<path d="M1033.3 911.4l6 0.1 6.5 0.4 6 0.6 5.5 0.8 5 1 5.1 1.2 4.5 1.3 4.5 1.7 4 1.8 4 2.2 3.5 2.2 3.5 2.5 3.5 3 3 3 3 3.3 3 3.8" stroke="#bb0000" stroke-width="1"/>
<path d="M1033.3 916.9l6 0.1 6 0.3 6 0.6 5.5 0.7 5 0.9 5.1 1.1 4.5 1.3 4.5 1.5 4 1.7 4 2 3.5 2 3.5 2.4 3.5 2.8 3 2.8 3 3.1 2.5 3" stroke="#c20000" stroke-width="1"/>
<path d="M1033.3 921.7l6 0.1 6 0.3 6 0.5 5.5 0.7 5 0.8 5.1 1.1 4.5 1.2 4 1.3 4 1.5 3.5 1.7 3.5 1.8 3.5 2.3 3.5 2.5 3 2.6 3 2.9 2.5 2.7" stroke="#c90000" stroke-width="1"/>
<path d="M1033.3 926.1l12 0.4 11 1.1 9.6 1.7 4.5 1.1 4 1.2 4 1.4 3.5 1.5 3.5 1.8 3.5 2.1 3.5 2.4 3 2.4 3 2.8 2.5 2.6" stroke="#d00000" stroke-width="1"/>
<path d="M1033.3 929.8l11.5 0.4 11 1 9.6 1.5 4.5 1.1 4 1.1 4 1.4 3.5 1.5 3.5 1.7 3 1.7 3.5 2.3 3 2.2 3 2.6 2.5 2.5" stroke="#d70000" stroke-width="1"/>
<path d="M1033.3 933.1l11.5 0.3 11 1 9.6 1.6 4.5 1 4 1.1 4 1.3 3.5 1.5 3.5 1.6 3 1.7 3 1.9 3 2.2 3 2.5 2.5 2.4" stroke="#dd0000" stroke-width="1"/>
<path d="M1033.3 936.2l11.5 0.3 10.5 0.9 9.6 1.5 8 1.9 4 1.2 3.5 1.3 3.5 1.6 3 1.5 3 1.8 3 2.1 3 2.3 2.5 2.3" stroke="#e40000" stroke-width="1"/>
<path d="M1033.3 939l11.5 0.3 10.5 0.9 9.6 1.4 8 1.8 7 2.3 3.5 1.5 3 1.5 3 1.7 3 2 3 2.3 2.5 2.1" stroke="#eb0000" stroke-width="1"/>
<path d="M1033.3 941.4l11 0.3 10.5 0.8 9.6 1.3 8 1.8 7 2.2 3.5 1.4 3 1.4 3 1.7 3 1.9 3 2.1 2.5 2.1" stroke="#f10000" stroke-width=".95"/>
<path d="M1033.3 943.7l11 0.3 10.5 0.8 9.1 1.2 8 1.6 7 2.1 6.5 2.7 3 1.6 3 1.8 3 2.1 2.5 2" stroke="#f80000" stroke-width=".9"/>
<path d="M1033.3 945.8l10.5 0.2 10.5 0.8 9.1 1.1 8 1.6 7 2 6.5 2.6 5.5 2.9 3 2 2.5 1.9" stroke="#ff0000" stroke-width=".9"/>
<path d="M1033.3 947.6l10.5 0.3 10.5 0.7 9.1 1.1 8 1.5 7 2 6.5 2.5 5.5 2.9 3 2 2.5 1.8" stroke="#ff0100" stroke-width=".85"/>
<path d="M1033.3 949.3l11 0.2 10 0.7 9.1 1.1 8 1.5 7 1.9 6 2.3 5.5 2.8 3 1.8 2.5 1.8" stroke="#ff0200" stroke-width=".85"/>
<path d="M1033.3 950.9l10.5 0.2 10 0.7 9 1.1 7.6 1.4 7 1.9 6 2.2 5.5 2.8 3 1.8 2.5 1.8" stroke="#ff0300" stroke-width=".85"/>
<path d="M1033.3 952.4l10.5 0.3 10 0.7 9 1.1 7.6 1.5 7 2 6 2.4 5.5 2.9 5 3.5" stroke="#ff0400" stroke-width=".85"/>
<path d="M1033.3 953.9l10.5 0.2 10 0.8 8.5 1.1 7.6 1.5 7 2 6 2.5 5.5 3 5 3.6" stroke="#ff0500" stroke-width=".85"/>
<path d="M1033.3 955.3l10 0.2 10 0.7 8.5 1.1 7.6 1.6 6.5 1.9 6 2.5 5.5 3 5 3.6" stroke="#ff0600"/>
<path d="M1033.3 956.6l10 0.3 9.5 0.7 8.5 1.1 7.6 1.5 6.5 2 6 2.5 5.5 3 5 3.7" stroke="#ff0800"/>
<path d="M1033.3 957.9l10 0.3 9.5 0.7 8.5 1.1 7.6 1.6 6.5 2 6 2.6 5 2.9 5 3.7" stroke="#ff0a00"/>
<path d="M1033.3 959.1l10 0.3 9.5 0.7 8 1.1 7.6 1.6 6.5 2 6 2.6 5 2.9 5 3.8" stroke="#ff0d00"/>
<path d="M1033.3 960.3l10 0.3 9.5 0.7 8 1.1 7.6 1.6 6.5 2.1 5.5 2.4 5 2.9 2.5 1.8 2.5 2" stroke="#ff1000"/>
<path d="M1033.3 961.4l9.5 0.3 9.5 0.7 8 1.1 7.6 1.6 6.5 2 5.5 2.5 5 2.9 2.5 1.7 2.5 2.1" stroke="#ff1300"/>
<path d="M1033.3 962.5l9.5 0.3 9.5 0.7 8 1.1 7.1 1.5 6.5 2 5.5 2.4 5 2.9 2.5 1.8 2.5 2" stroke="#ff2000"/>
<path d="M1033.3 963.6l9.5 0.2 9.5 0.7 8 1.1 7.1 1.6 6.5 2 5.5 2.5 5 2.9 4.5 3.5" stroke="#ff3100"/>
<path d="M1033.3 964.5l9.5 0.3 9 0.7 8 1.1 7.1 1.4 6.5 2.1 5.5 2.4 5 2.9 4.5 3.4" stroke="#ff4300"/>
<path d="M1033.3 965.5l9.5 0.2 9 0.7 7.5 1 7.1 1.5 6.5 2 5.5 2.3 5 2.9 4.5 3.4" stroke="#ff5800"/>
<path d="M1033.3 966.4l9.5 0.3 9 0.6 7.5 1 7.1 1.5 6 1.8 5.5 2.4 5 2.8 4.5 3.3" stroke="#ff6a00"/>
<path d="M1033.3 967.3l9 0.2 9 0.7 7.5 0.9 7.1 1.4 6 1.8 5.5 2.3 5 2.8 4.5 3.3" stroke="#ff7900"/>
<path d="M1033.3 968.1l9 0.2 9 0.7 7.5 1 7.1 1.4 6 1.8 5.5 2.3 5 2.8 4.5 3.3" stroke="#ff8700"/>
<path d="M1033.3 968.9l9 0.2 9 0.7 7.5 0.9 7.1 1.5 6 1.8 5 2 5 2.7 4.5 3.3" stroke="#ff9600"/>
<path d="M1033.3 969.7l9 0.2 9 0.6 7.5 1 6.6 1.3 6 1.7 5 2 5 2.7 4.5 3.1" stroke="#ffa600"/>
<path d="M1033.3 970.4l9 0.2 9 0.7 7.5 0.9 6.6 1.3 6 1.7 5 2 5 2.7 4.5 3.1" stroke="#ffb700"/>
<path d="M1033.3 971.1l9 0.2 8.5 0.6 7.5 0.9 6.6 1.3 6 1.6 5 2 5 2.5 4.5 3.1" stroke="#ffc900"/>
<path d="M1033.3 971.8l9 0.2 8.5 0.6 7.5 0.9 6.6 1.2 6 1.7 5 1.9 4.5 2.3 4.5 2.9" stroke="#ffdc00"/>
<path d="M1033.3 972.5l9 0.2 8.5 0.5 7.5 0.9 6.6 1.2 6 1.7 5 1.9 4.5 2.2 4.5 3" stroke="#fded00"/>
<path d="M1033.3 973.1l8.5 0.1 8.5 0.6 7.5 0.8 6.6 1.2 6 1.6 5 1.8 4.5 2.2 4.5 2.8" stroke="#f9ff00"/>
<path d="M1033.3 973.7l8.5 0.1 8.5 0.6 7.5 0.8 6.6 1.1 6 1.6 5 1.8 4.5 2.2 4.5 2.8" stroke="#eaff00"/>
<path d="M1033.3 974.2l8.5 0.2 8.5 0.5 7.5 0.8 6.6 1.2 5.5 1.4 5 1.7 4.5 2.1 4.5 2.7" stroke="#d8ff00"/>
<path d="M1033.3 974.8l9 0.2 8.5 0.5 7 0.8 6.6 1.1 5.5 1.3 5 1.8 4.5 2 4.5 2.7" stroke="#c8ff07"/>
<path d="M1033.3 975.3l8.5 0.2 8.5 0.5 7 0.7 6.6 1 5.5 1.4 5 1.6 4.5 2 4.5 2.6" stroke="#baff12"/>
<path d="M1033.3 975.8l8.5 0.2 8.5 0.4 7 0.8 6.6 1 5.5 1.3 5 1.6 4.5 1.9 4.5 2.6" stroke="#acff1c"/>
<path d="M1033.3 976.3l8.5 0.1 8 0.5 7 0.6 6.6 1 5.5 1.3 5 1.5 4.5 1.9 4.5 2.4" stroke="#a2ff36"/>
<path d="M1033.3 976.7l8.5 0.2 8 0.4 7 0.7 6.6 0.9 5.5 1.2 5 1.6 4.5 1.8 4.5 2.4" stroke="#99ff50"/>
<path d="M1033.3 977.2l8.5 0.1 8 0.5 7 0.6 6.6 0.9 5.5 1.2 5 1.5 4.5 1.8 4 2.1" stroke="#92ff67"/>
<path d="M1033.3 977.6l8.5 0.2 8 0.4 7 0.6 6.6 0.9 5.5 1.2 5 1.4 4.5 1.8 4 2.1" stroke="#8bff7a"/>
<path d="M1033.3 978.1l8.5 0.1 8 0.4 7 0.6 6.6 0.9 5.5 1.2 5 1.4 4.5 1.7 4 2.1" stroke="#86ff8a"/>
<path d="M1033.3 978.5l8.5 0.2 8 0.4 7 0.5 6.6 0.9 5.5 1.1 5 1.4 4 1.5 4 2" stroke="#81ff98"/>
<path d="M1033.3 979l8.5 0.1 8 0.4 7 0.6 6.6 0.8 5.5 1.1 5 1.3 4 1.5 4 2" stroke="#7effa8"/>
<path d="M1033.3 979.4l8.5 0.2 8.5 0.3 7 0.6 6.6 0.9 5.5 1 5 1.4 4 1.5 3.5 1.8" stroke="#7affb7"/>
<path d="M1033.3 979.9l8.5 0.1 8 0.3 7 0.6 6.6 0.8 5.5 1 5 1.2 4 1.5 3.5 1.7" stroke="#76ffc4"/>
<path d="M1033.3 980.3l8.5 0.2 8.5 0.3 7 0.5 6.6 0.8 5.5 1 4.5 1.1 4 1.5 3.5 1.7" stroke="#73ffd1"/>
<path d="M1033.3 980.8l8.5 0.1 8.5 0.3 7 0.5 6.6 0.8 5 0.8 4.5 1.1 4 1.4 3.5 1.6" stroke="#70ffde"/>
<path d="M1033.3 981.2l9 0.2 8 0.3 7 0.4 6.6 0.8 5.5 0.8 4 1 3.5 1.2 3.5 1.6" stroke="#6cffe7"/>
<path d="M1033.3 981.7l9 0.1 8 0.3 7 0.4 6.6 0.7 5.5 0.9 3.5 0.7 3.5 1.2 3.5 1.5" stroke="#67feec"/>
<path d="M1033.3 982.1l17 0.4 7 0.4 6.6 0.7 5.5 0.8 3 0.6 3.5 1.1 3.5 1.5" stroke="#62fdf0"/>
<path d="M1033.3 982.6l17 0.3 7 0.4 6.6 0.6 5 0.7 3 0.6 3.5 1 3.5 1.4" stroke="#5cfcf5"/>
<path d="M1033.3 983l17 0.4 13.1 0.8 5 0.6 3 0.6 3.5 0.9 3 1.2" stroke="#55fbfb"/>
<path d="M1033.3 983.5l17 0.3 13.6 0.8 4 0.4 3 0.5 3.5 1 3 1.1" stroke="#4ff2ff"/>
<path d="M1033.3 983.9l17.5 0.3 13.6 0.8 3.5 0.3 3 0.5 3 0.8 3 1.1" stroke="#4bd1ff"/>
<path d="M1033.3 984.4l17.5 0.2 13.6 0.7 3 0.3 3 0.4 3 0.8 2.5 0.8" stroke="#46a9ff"/>
<path d="M1033.3 984.8l17.5 0.2 13.6 0.6 5.5 0.6 5 1.3" stroke="#3b8eff"/>
<path d="M1033.3 985.3l18 0.2 14.1 0.5 4.5 0.5 4.5 1.2" stroke="#2f6cfe"/>
<path d="M1033.3 985.7l18 0.2 13.6 0.4 4 0.4 4.5 1" stroke="#274efa"/>
<path d="M1033.3 986.2l17.5 0.1 13.6 0.2 4 0.4 3.5 0.7" stroke="#223ef7"/>
<path d="M1033.3 986.6l31.1 0.2 3 0.3 3.5 0.5" stroke="#1c2bf3"/>
</g>
<g stroke-width=".9">
<path d="M1077.5 987.2l2-1.4 1.5-1.4 1.5-1.7 1.5-2.1 3-5.2 3-6.5 5-13.2 13.5-39 5-13.8 8.3-21.4 9.3-24.7 3.6-8.8 3.6-8.1 5.7-11.6 2.8-5.2 3.6-6.1 6.5-9.7 3.5-4.8 3.6-4.4 4.3-4.7 4.3-4.1 5-4.2 5-3.7 4.3-2.9 4.3-2.5 5-2.5 5-1.9 4.3-1.4 4.3-1.2 13.6-3.1 12.9-3.2 5-1.1 7.9-1.2 9.3-1.1 6.4-0.5 9.3-0.5" stroke="#7f0000"/>
<path d="M1077.5 987.2l2-1.3 1.5-1.4 1.5-1.6 1.5-2 1.5-2.3 2-3.6 2.5-5.5 5-12.8 13-36.4 5-13.6 8.8-22.2 10-26.3 3.6-8.7 3.6-8 5.7-11.4 2.9-5.1 3.5-6 6.5-9.6 3.5-4.7 3.6-4.3 4.3-4.6 4.3-4 5-4.2 5-3.7 4.3-2.8 4.3-2.4 4.3-2.1 5-2 4.3-1.4 4.3-1.1 13.6-3.1 12.9-3.2 5-1.1 7.9-1.2 9.3-1.1 6.4-0.5 9.3-0.5" stroke="#860000"/>
<path d="M1077.5 987.2l2-1.3 1.5-1.2 3-3.6 1.5-2.2 2-3.4 2.5-5.3 5-12.6 18-48.4 8.8-21.8 10.7-27.8 3.6-8.6 3.6-7.8 5.7-11.3 2.9-5 3.5-5.9 3.6-5.4 3.6-5 3.6-4.6 2.8-3.3 3.6-3.8 4.3-4.1 5-4.1 5-3.7 4.3-2.9 4.3-2.4 4.3-2 5-2 4.3-1.4 4.3-1.1 12.9-2.9 12.9-3.3 5.7-1.2 7.9-1.2 9.3-1.1 6.4-0.5 9.3-0.5" stroke="#8c0000"/>
<path d="M1077.5 987.2l2-1.2 1.5-1.2 3-3.4 1.5-2.1 2-3.2 2.5-5.2 5-12.3 16-41.9 11.5-28.2 9.3-24.1 4.3-10.3 4.3-9.4 5.7-11 2.9-5 3.6-5.8 6.4-9.3 3.6-4.6 2.8-3.3 3.6-3.8 4.3-4.1 5-4.1 5-3.7 4.3-2.9 4.3-2.4 4.3-2 5-2 4.3-1.4 4.3-1.1 12.9-2.9 12.9-3.3 5.7-1.2 7.9-1.2 9.3-1.1 6.4-0.5 9.3-0.5" stroke="#930000"/>
<path d="M1078 987l2-1.3 1.5-1.3 3-3.4 3.5-5.3 2-4.2 5-12 16.5-42 11-26.3 10.7-27.4 3.6-8.4 4.3-9.2 5.7-10.9 2.9-4.9 3.6-5.7 6.4-9.1 3.6-4.5 2.9-3.3 4.2-4.4 4.3-3.9 5.1-4 5-3.6 4.3-2.7 3.5-1.9 4.3-2 5-1.9 7.9-2.3 12.9-2.9 12.9-3.2 5.7-1.2 7.9-1.2 9.3-1.1 6.4-0.6 9.3-0.5" stroke="#9a0000"/>
<path d="M1078 987l1.5-0.9 1.5-1.1 1.5-1.4 2-2.3 3.5-5.1 2-4.2 4.5-10.5 17-42 11-25.8 11.5-28.9 3.5-8.3 4.3-9 5.8-10.6 5.7-9.4 6.4-9.1 3.6-4.5 2.9-3.3 4.2-4.4 4.3-3.9 5.1-4 5-3.6 4.3-2.7 3.5-1.9 4.3-2 5-1.9 7.9-2.3 12.9-2.9 12.9-3.2 5.7-1.2 7.9-1.2 9.3-1.1 6.4-0.6 9.3-0.5" stroke="#a10000"/>
<path d="M1078 987l1.5-0.9 1.5-1 1.5-1.4 2-2.2 3.5-4.9 2-4.1 4.5-10.4 17-40.9 10.3-23.6 12.9-32.1 3.6-8 4.2-8.8 5.8-10.5 5.7-9.1 6.4-9 3.6-4.4 2.9-3.2 3.5-3.6 4.3-3.9 5.1-4 5-3.6 4.3-2.7 3.5-1.9 4.3-2 5-1.9 7.9-2.3 13.6-3.1 12.9-3.2 5-1.1 7.9-1.2 9.3-1.1 6.4-0.5 9.3-0.5" stroke="#a70000"/>
<path d="M1078 987l1.5-0.8 1.5-1.1 3-2.8 2-2.5 2-2.8 1.5-3.1 4.5-10.1 17.5-41.2 10.3-23.2 12.9-31.7 3.6-8 4.2-8.7 5.8-10.4 5.7-9.1 6.4-8.9 3.6-4.4 2.9-3.2 4.3-4.2 4.3-3.8 5-4 5-3.5 3.6-2.2 4.2-2.3 4.3-2 5-1.8 7.9-2.3 13.6-3.1 12.2-3.1 5-1 7.9-1.2 9.3-1.1 6.4-0.5 9.3-0.6" stroke="#ae0000"/>
<path d="M1078 987l1.5-0.8 1.5-1 1.5-1.3 2-2 3.5-4.6 1.5-3.1 4-8.8 17.5-40.5 10.8-24 12.9-31.2 3.6-7.9 4.2-8.6 5.8-10.3 5.7-9.1 6.4-8.8 3.6-4.4 2.9-3.1 4.3-4.3 4.3-3.8 5-3.9 5-3.5 3.6-2.3 4.2-2.3 4.3-1.9 5-1.9 4.3-1.3 4.3-1.2 12.9-2.9 11.5-2.9 5.7-1.2 7.9-1.2 9.3-1.1 6.4-0.6 9.3-0.5" stroke="#b50000"/>
<path d="M1078 987l3-1.8 3-2.7 3.5-4.3 1.5-2.6 4-8.6 18.5-42.1 10.3-22.5 13.6-32.4 3.6-7.6 4.3-8.5 5.7-10 5.7-8.8 6.4-8.6 3.6-4.3 2.9-3.1 4.3-4.1 4.3-3.7 5-3.9 5-3.4 3.6-2.2 4.3-2.2 4.3-1.9 5-1.9 8.5-2.4 12.2-2.9 11.5-2.8 5.7-1.2 7.9-1.2 9.3-1.1 6.4-0.6 9.3-0.5" stroke="#bc0000"/>
<path d="M1078 987l3-1.7 3-2.6 3.5-4.2 1.5-2.7 4-8.5 18-40.3 10.8-23.1 13.6-32 3.6-7.5 4.3-8.4 5.7-9.9 5.7-8.7 6.4-8.6 3.6-4.2 2.9-3.1 4.3-4.1 4.3-3.7 5-3.8 5-3.5 3.6-2.1 4.3-2.3 4.3-1.9 5-1.9 4.3-1.3 5-1.3 22.9-5.6 5.7-1.2 7.9-1.2 9.3-1.1 6.4-0.5 9.3-0.6" stroke="#c20000"/>
<path d="M1078 987l3-1.7 3-2.5 3.5-4.1 1.5-2.6 3.5-7.3 18.5-40.7 10.8-22.8 13.6-31.5 3.6-7.5 4.3-8.2 5.7-9.8 5.7-8.7 6.4-8.5 3.6-4.1 2.9-3.1 4.3-4.1 4.3-3.6 5-3.9 5-3.4 4.3-2.6 4.3-2.2 4.3-1.8 5-1.9 9.3-2.7 21.4-5.2 5.8-1.2 7.1-1.1 10-1.2 7.2-0.7 9.3-0.5" stroke="#c90000"/>
<path d="M1078 987l3-1.6 2.5-2 3-3.2 1.5-1.9 0.5-1 4-8.2 18.5-40.1 10.8-22.4 13.6-31 3.6-7.4 4.3-8.1 5.7-9.7 6.4-9.5 6.5-8.3 5.7-6.3 4.3-4.1 4.3-3.6 5-3.8 5-3.5 4.3-2.6 4.3-2.1 4.3-1.9 5-1.9 5-1.6 5-1.3 20.7-5.1 5.8-1.1 7.1-1.2 10-1.2 7.2-0.6 9.3-0.6" stroke="#d00000"/>
<path d="M1078 987l3-1.6 2.5-1.9 3-3.1 1.5-1.9 0.5-0.9 3.5-7.1 19-40.5 10.8-22.1 13.6-30.5 4.3-8.7 4.3-7.9 5.7-9.4 6.4-9.3 6.5-8.1 5.7-6.1 4.3-3.9 4.3-3.6 5-3.7 5-3.4 4.3-2.5 4.3-2.2 4.3-1.8 5-1.8 5-1.6 5.7-1.5 18.6-4.6 6.5-1.3 7.1-1.1 10-1.2 7.2-0.7 9.3-0.5" stroke="#d70000"/>
<path d="M1078 987l2.5-1.2 2.5-1.8 2.5-2.3 2.5-2.9 3.5-7 19.5-40.9 10.8-21.8 13.6-30 4.3-8.5 4.3-7.8 5.7-9.3 6.4-9.2 6.5-8 5.7-6.1 4.3-3.9 4.3-3.5 5-3.8 5-3.3 4.3-2.5 4.3-2.2 5-2.1 5-1.8 5-1.6 6.5-1.7 17.1-4.2 6.5-1.3 7.1-1.1 10-1.2 7.2-0.6 9.3-0.6" stroke="#dd0000"/>
<path d="M1078 987l2.5-1.2 2.5-1.7 2.5-2.3 2.5-2.8 3.5-6.9 19.5-40.4 10.8-21.4 13.6-29.5 4.3-8.4 4.3-7.7 5.7-9.2 6.4-9 6.5-7.9 5.7-6 4.3-4 5-4 5-3.7 5-3.3 4.3-2.4 4.3-2.1 5-2.1 5-1.8 5.7-1.8 6.5-1.7 15.7-3.8 6.5-1.3 7.1-1.1 10-1.2 7.2-0.6 9.3-0.6" stroke="#e40000"/>
<path d="M1078 987l2.5-1.1 2.5-1.7 2.5-2.3 2.5-2.7 3-5.9 19.5-39.7 11.3-22.1 13.6-29.1 4.3-8.3 4.3-7.5 5.7-9.1 6.4-8.9 6.5-7.8 5.7-6 4.3-3.8 5-4.1 5-3.6 5-3.3 4.3-2.4 4.3-2.1 5-2.2 5.7-2 5.8-1.8 6.4-1.8 14.3-3.4 6.5-1.4 7.1-1 10.7-1.3 7.2-0.7 9.3-0.5" stroke="#eb0000"/>
<path d="M1078 987l2.5-1.1 2.5-1.7 2.5-2.1 2.5-2.7 22.5-45.1 11.3-21.7 13.6-28.6 4.3-8.1 4.3-7.5 5.7-8.9 6.4-8.8 6.5-7.7 5.7-5.9 4.3-3.9 5-4 5-3.6 5-3.3 4.3-2.4 5-2.4 5-2.1 5.8-2.1 5.7-1.8 6.4-1.7 13.6-3.3 6.5-1.3 7.1-1.1 10.7-1.3 7.2-0.6 9.3-0.6" stroke="#f20000"/>
<path d="M1078 987l2.5-1.1 2.5-1.6 2.5-2.1 2.5-2.6 22.5-44.5 11.3-21.5 12.2-25.2 6.4-12.1 6.4-10.6 3.6-5.3 3.6-4.9 3.6-4.5 3.5-4.2 3.6-3.9 3.6-3.6 4.3-3.8 5-4 5.7-4.1 5-3.2 4.3-2.4 5-2.4 5.8-2.3 5.7-2 5.7-1.8 5.7-1.6 12.9-3 6.5-1.3 7.1-1.1 10.7-1.3 7.2-0.6 9.3-0.6" stroke="#f80000"/>
<path d="M1078 987l2.5-1 2.5-1.6 2.5-2.1 2.5-2.6 22-42.9 12.5-23.5 12.9-26.2 4.3-7.9 4.3-7.2 5.7-8.6 6.4-8.6 6.5-7.5 6.4-6.4 4.3-3.8 5-3.8 5.7-4.1 5.1-3.1 5-2.7 5-2.3 5.7-2.3 5.7-2 5-1.6 5.8-1.5 12.1-2.9 6.5-1.3 7.1-1 10.7-1.3 7.2-0.6 9.3-0.6" stroke="#ff0000"/>
<path d="M1078 987l2.5-1 2.5-1.6 2.5-2 2.5-2.5 22-42.4 12.5-23.2 12.2-24.4 4.3-7.8 5-8.3 5.7-8.5 6.4-8.5 6.5-7.4 6.4-6.4 4.3-3.6 5-3.9 5.7-4 5.1-3.1 5-2.7 5-2.4 6.4-2.6 5.7-2 5.8-1.8 5-1.3 11.4-2.7 6.5-1.2 7.1-1.1 10.7-1.2 7.2-0.6 9.3-0.6" stroke="#ff0100"/>
<path d="M1078 987l2.5-1 2.5-1.5 2.5-2 2.5-2.4 10-19.3 12-22.7 12.5-22.8 12.2-24 4.3-7.7 4.3-7 6.4-9.5 6.4-8.3 6.5-7.3 6.4-6.3 5-4.2 5-3.8 5.8-4 5-3 5-2.7 5-2.3 6.4-2.6 5.7-2 5.1-1.6 5-1.3 10.7-2.5 7.2-1.4 7.1-1 10.7-1.3 16.5-1.2" stroke="#ff0200"/>
<path d="M1078 987.1l2.5-1.1 2.5-1.4 2.5-2 2.5-2.4 9.5-18.1 12-22.4 13-23.4 12.2-23.6 4.3-7.5 4.3-7 6.4-9.3 6.4-8.2 6.5-7.2 6.4-6.2 5-4.2 5-3.8 5.8-3.9 5-3 5-2.7 5-2.3 7.1-2.9 6.5-2.3 5-1.6 5-1.3 10-2.3 6.5-1.2 7.1-1 10.7-1.2 16.5-1.2" stroke="#ff0300"/>
<path d="M1078 987.1l2.5-1 2.5-1.5 2.5-1.9 2.5-2.3 9.5-18 12-22.1 13-23.1 11.5-21.8 5.7-9.9 3.6-5.6 3.5-5.3 3.6-4.9 3.6-4.5 3.6-4.2 4.3-4.8 3.5-3.6 3.6-3.3 5-4.1 5.8-4.3 5.7-3.8 5-3 5-2.6 5-2.3 7.2-2.9 6.4-2.3 5-1.6 5.7-1.4 8.6-2 6.5-1.2 7.1-1 10.7-1.2 16.5-1.2" stroke="#ff0400"/>
<path d="M1078 987.1l2.5-1 2.5-1.4 2.5-1.9 2.5-2.2 9.5-17.9 12-21.8 13-22.8 11.5-21.5 5.7-9.6 3.6-5.6 3.5-5.1 7.2-9.3 3.6-4.2 4.3-4.6 3.5-3.6 3.6-3.2 5-4.1 5.8-4.3 5.7-3.8 5-3 5-2.6 5-2.3 7.9-3.3 6.4-2.3 5-1.5 5.7-1.5 7.9-1.7 6.5-1.2 17.8-2.2 16.5-1.2" stroke="#ff0500"/>
<path d="M1078 987.1l2.5-1 2.5-1.4 2.5-1.8 2.5-2.2 9.5-17.7 12-21.5 13-22.5 11.5-21.1 5.7-9.5 3.6-5.4 3.5-5.1 7.2-9.1 3.6-4.1 4.3-4.6 3.5-3.5 3.6-3.2 5-4.1 5.8-4.2 5.7-3.8 5-3 5-2.7 5.7-2.6 7.9-3.3 6.4-2.3 5-1.5 5.8-1.4 7.1-1.6 6.5-1.2 17.8-2.2 16.5-1.2" stroke="#ff0600"/>
<path d="M1078 987.1l2.5-1 2.5-1.3 2.5-1.8 2.5-2.1 9-16.7 12.5-22.1 13-22.3 11.5-20.6 5-8.3 3.5-5.4 3.6-5 7.2-9.1 3.6-4.1 4.2-4.6 4.3-4.2 3.6-3.2 5-4 5.8-4.2 5.7-3.8 5-3 5-2.7 5.7-2.6 8.6-3.6 6.4-2.4 5.1-1.5 5.7-1.4 7.1-1.5 5.8-1 17.8-2.2 16.5-1.3" stroke="#ff0700"/>
<path d="M1078 987.1l2.5-0.9 2.5-1.4 2.5-1.7 2.5-2.1 9-16.5 12.5-21.9 13-21.9 10.7-19.1 5.8-9.3 7.1-10.2 7.2-9 3.6-4 4.2-4.6 4.3-4.1 3.6-3.2 5-4 5.8-4.2 5.7-3.8 5-2.9 5-2.7 5.7-2.7 8.6-3.7 6.4-2.4 5.1-1.5 5.7-1.4 7.1-1.5 5.8-1 17.8-2.2 16.5-1.2" stroke="#ff0800"/>
<path d="M1078 987.1l2.5-0.9 2.5-1.3 2.5-1.7 2.5-2.1 10.5-19 13.5-23.2 10.5-17.4 10-17.5 5-8.2 5-7.4 6.5-8.5 6.4-7.6 7.2-7.4 7.1-6.4 5-3.9 5.8-4.1 5.7-3.8 5-2.9 5.7-3 5.7-2.6 7.9-3.4 6.5-2.4 4.3-1.3 6.4-1.6 6.4-1.3 5.8-1 17.8-2.2 16.5-1.3" stroke="#ff0900"/>
<path d="M1078 987.1l2.5-0.9 2.5-1.3 2.5-1.6 2.5-2 9-16.3 14.5-24.7 11-18 11.5-19.6 4.3-6.7 4.2-6.2 6.5-8.3 6.4-7.5 7.2-7.3 7.1-6.4 5-3.9 5.8-4.1 5.7-3.7 5-3 6.4-3.3 7.2-3.3 7.1-3.1 5.8-2.1 4.3-1.3 5.7-1.3 6.4-1.3 5.8-1 17.8-2.2 16.5-1.3" stroke="#ff0a00"/>
</g>
<g stroke-width=".85">
<path d="M1078 987.1l2.5-0.9 2.5-1.2 2.5-1.6 2.5-2 9-16.1 13-21.9 12.5-20.3 10.7-18.1 5.1-7.7 7.1-9.9 3.6-4.4 4.3-5 4.3-4.6 4.3-4.3 3.5-3.4 4.3-3.6 5-3.9 5.8-4.1 5.7-3.7 5-2.9 6.4-3.4 7.9-3.7 6.4-2.8 5.8-2.1 4.3-1.3 5.7-1.4 6.4-1.3 5.8-1 17.8-2.2 16.5-1.3" stroke="#ff0b00"/>
<path d="M1078 987.1l2.5-0.8 2.5-1.2 2.5-1.6 2.5-1.9 9-16.1 13-21.6 12.5-20 10-16.7 5.8-8.7 7.1-9.7 3.6-4.4 4.3-4.9 4.3-4.5 4.3-4.3 3.5-3.3 4.3-3.6 5-3.9 5.8-4 5.7-3.7 5.7-3.4 6.5-3.3 9.3-4.4 5.7-2.4 5-1.9 3.6-1.1 6.4-1.5 5.7-1.1 5.8-1 17.8-2.2 16.5-1.4" stroke="#ff0c00"/>
<path d="M1078 987.1l2.5-0.8 2.5-1.2 2.5-1.5 2.5-1.9 9-15.9 13-21.4 12.5-19.7 10-16.4 5.8-8.6 7.1-9.5 3.6-4.3 4.3-4.9 4.3-4.5 4.3-4.2 3.5-3.2 4.3-3.6 5-3.9 5.8-4 5.7-3.7 5.7-3.4 6.5-3.4 9.3-4.4 5.7-2.5 5-1.9 3.6-1 6.4-1.6 5.7-1.1 5.8-1 17.8-2.2 16.5-1.4" stroke="#ff0d00"/>
<path d="M1078.5 987l2-0.7 2.5-1.1 2.5-1.5 2.5-1.9 9-15.8 14.5-23.4 11-17.1 10.7-17.3 3.6-5.3 4.3-5.9 6.5-8.1 7.1-7.9 7.9-7.8 7.1-6.1 5-3.9 5.8-4 5.7-3.7 5.7-3.4 6.5-3.4 10-4.7 5.7-2.6 4.3-1.6 3.6-1.1 5.7-1.4 5.7-1.2 5.7-0.9 18.6-2.4 16.5-1.4" stroke="#ff0e00"/>
<path d="M1078.5 987l2-0.7 2.5-1.1 2.5-1.4 2.5-1.8 9-15.7 14.5-23.2 11-16.8 10.7-17 4.3-6.3 4.3-5.7 6.5-7.8 7.1-7.8 7.9-7.6 7.1-6 5.8-4.3 5.7-4 5.7-3.6 5-2.9 6.5-3.4 10.7-5.1 5-2.2 4.3-1.7 3.6-1 5.7-1.4 5.7-1.1 5.8-1 17.8-2.2 16.5-1.5" stroke="#ff0f00"/>
<path d="M1078.5 987l2-0.7 2.5-1 2.5-1.4 2.5-1.8 9-15.5 14.5-22.9 11-16.7 10.7-16.7 3.6-5.2 4.3-5.7 7.2-8.6 7.1-7.7 7.9-7.5 7.1-6 5.1-3.8 5.7-4 5.7-3.7 5.7-3.3 6.5-3.4 10.7-5.3 5-2.2 4.3-1.6 3.6-1.1 5.7-1.4 5.7-1.1 5.8-1 18.6-2.3 15.7-1.5" stroke="#ff1000"/>
<path d="M1078.5 987l2-0.6 2.5-1.1 2.5-1.4 2.5-1.6 9-15.5 14.5-22.5 11-16.5 10.7-16.5 3.6-5.1 4.3-5.6 7.2-8.6 7.1-7.6 7.9-7.4 7.1-6 5.1-3.7 5.7-4 5.7-3.7 5.7-3.4 6.5-3.4 10.7-5.3 5-2.3 4.3-1.7 3.6-1 5.7-1.4 10.7-2 18.6-2.5 16.5-1.5" stroke="#ff1100"/>
<path d="M1078.5 987l2-0.6 2.5-1 2.5-1.4 2.5-1.6 8.5-14.5 15-23.1 11-16.2 10.7-16.3 4.3-5.9 4.3-5.5 7.2-8.4 7.1-7.5 7.9-7.3 7.2-5.9 5-3.7 5.7-3.9 5.7-3.7 5-2.9 6.5-3.5 10.7-5.4 5-2.3 4.3-1.7 3.6-1.1 5.7-1.4 10.7-2 18.6-2.5 16.5-1.6" stroke="#ff1200"/>
<path d="M1078.5 987l2-0.6 2.5-1 2.5-1.3 2.5-1.5 6.5-11.2 4.5-7.1 13-19.6 10.5-15.3 8.6-13 6.4-9 7.9-9.7 7.9-8.5 4.3-4.3 5-4.6 4.3-3.7 4.3-3.5 5-3.7 5.7-3.9 5.7-3.7 5-3 6.5-3.5 11.4-5.8 4.3-2 4.3-1.7 3.6-1.1 5.7-1.4 10.7-2 18.6-2.6 16.5-1.6" stroke="#ff1300"/>
<path d="M1078.5 987l2-0.6 2.5-0.9 2.5-1.3 2.5-1.5 6.5-11 4.5-7.1 13-19.3 10.5-15.1 8.6-12.8 6.4-8.9 7.9-9.6 4.3-4.8 4.3-4.5 5-4.8 4.3-3.9 8.6-7.1 5-3.6 5.7-4 5.7-3.6 5-3 5.8-3.1 12.1-6.2 4.3-2 4.3-1.7 3.6-1.1 5-1.2 10.7-2.1 18.6-2.6 16.5-1.6" stroke="#ff1400"/>
<path d="M1078.5 987l2-0.5 2.5-1 2.5-1.2 2.5-1.4 6.5-11 4.5-6.9 13-19.1 10.5-15 8.6-12.6 6.4-8.8 7.9-9.5 4.3-4.8 4.3-4.4 5-4.8 4.3-3.9 4.3-3.7 5-3.9 5-3.7 5.7-3.9 5.8-3.6 5-3 17.1-9 4.3-2 4.3-1.7 3.6-1.1 5-1.2 10.7-2.2 18.6-2.6 16.5-1.8" stroke="#ff1900"/>
</g>
<g stroke-width=".8">
<path d="M1078.5 987l2-0.5 2.5-0.9 2.5-1.1 2.5-1.5 6-10 4.5-7 13.5-19.5 10.5-14.8 8.6-12.4 6.4-8.8 7.9-9.4 8.6-9.2 5-4.8 4.3-3.9 4.3-3.6 5-3.9 10.7-7.6 5.8-3.7 5-3 17.1-9.1 4.3-2 4.3-1.8 3.6-1.1 5-1.2 10.7-2.2 18.6-2.7 16.5-1.8" stroke="#ff1e00"/>
<path d="M1078.5 987l2-0.5 2.5-0.8 2.5-1.1 2.5-1.4 6-10 4.5-6.8 33.3-47.2 5.7-7.7 4.3-5.2 4.3-4.9 8.6-9 9.3-8.7 4.3-3.5 5-3.9 10.7-7.6 10.1-6.2 17.1-9.3 4.3-2 4.3-1.8 3.6-1.1 5-1.3 10.7-2.1 19.4-2.9 15.7-1.8" stroke="#ff2300"/>
<path d="M1078.5 987l4.5-1.3 2.5-1 2.5-1.3 6-10 4-6 15-21.1 10.2-14 8.6-12.2 6.5-8.5 8.5-10 8.6-8.8 9.3-8.6 4.3-3.5 5-3.9 10.8-7.5 10-6.2 17.1-9.3 4.3-2.1 3.6-1.4 3.6-1.1 5-1.3 10.7-2.2 19.4-3 15.7-1.8" stroke="#ff2800"/>
<path d="M1078.5 987l4.5-1.2 2.5-1 2.5-1.3 6-9.9 4-5.9 15-20.8 9.5-12.9 9.3-13 6.5-8.4 8.5-9.9 4.3-4.6 5-5 9.3-8.4 9.3-7.4 10.1-7 10-6.2 17.1-9.4 4.3-2.1 3.6-1.5 3.6-1.1 5-1.3 10.7-2.3 19.4-3 15.7-1.9" stroke="#ff2d00"/>
<path d="M1078.5 987l4.5-1.1 5-2.2 6-9.8 4-5.9 24.5-33.2 10-13.9 6.5-8.2 8.6-9.8 4.2-4.5 5.1-4.9 9.3-8.3 9.3-7.3 10-7.1 10-6.2 17.2-9.4 4.3-2.1 3.5-1.4 8.6-2.5 10-2 19.4-3.1 15.7-2" stroke="#ff3200"/>
<path d="M1079 987l4.5-1.2 4.5-1.9 5.5-9 4-5.9 25-33.5 10-13.7 6.5-8.2 8.6-9.7 4.2-4.5 5.1-4.9 9.3-8.3 5-4.1 5-3.8 10-7 10-6.2 16.5-9.1 4.3-2.1 3.5-1.5 8.6-2.4 10-2.1 19.4-3.2 15.7-2" stroke="#ff3700"/>
<path d="M1079 987l4.5-1.1 4.5-1.8 5.5-9 4-5.8 25-33 10-13.6 6.5-8.1 4.3-5 5-5.5 9.3-9.2 9.3-8.3 10-7.8 10-7 9.3-5.8 16.5-9.2 4.3-2.2 3.5-1.4 8.6-2.5 10-2.2 19.4-3.2 15.7-2" stroke="#ff3c00"/>
<path d="M1079 987l4.5-1.1 4.5-1.6 5.5-9 4-5.7 25-32.6 10.7-14.4 6.5-8 9.3-10.3 9.3-9.1 9.3-8.2 10-7.8 10-7 9.3-5.7 15.8-9 4.3-2.1 3.5-1.5 8.6-2.5 10-2.2 19.4-3.3 15.7-2.1" stroke="#ff4100"/>
<path d="M1079 987l4.5-1 4.5-1.5 5-8.2 4-5.8 24.8-31.9 11.4-15.2 6.5-7.9 9.3-10.2 9.3-9.2 9.3-8.2 5-4 5.7-4.3 9.3-6.5 9.3-5.8 15.8-9 4.3-2.2 3.5-1.5 8.6-2.6 10-2.2 19.4-3.3 15.7-2.2" stroke="#ff4600"/>
<path d="M1079 987l4.5-0.9 4.5-1.5 5-8.1 4-5.7 8-10 16.8-21.4 12.2-16 6.4-7.8 9.3-10.1 9.3-9.1 9.3-8.1 10.7-8.3 9.3-6.5 9.3-5.8 15.1-8.7 4.3-2.2 3.5-1.5 3.6-1.2 5-1.4 10-2.3 19.4-3.4 15.7-2.2" stroke="#ff4d00"/>
</g>
<g stroke-width=".75">
<path d="M1079.5 987l4-0.8 4.5-1.4 5-8.1 4-5.6 8-9.9 16.8-21.2 12.2-15.8 6.4-7.7 9.3-10.1 10-9.7 9.3-8.1 10.8-8.3 8.5-6 9.3-5.8 15.1-8.8 4.3-2.3 3.5-1.5 3.6-1.2 5-1.4 10-2.3 19.4-3.4 15.7-2.3" stroke="#ff5400"/>
<path d="M1079.5 987l4-0.8 4.5-1.2 5-8.1 4-5.6 8.5-10.2 15.6-19.5 13.6-17.5 6.4-7.6 9.3-10 10-9.6 9.3-8 10.8-8.3 9.3-6.4 9.3-5.8 14.3-8.5 4.3-2.1 3.6-1.5 8.5-2.6 9.3-2.1 19.4-3.5 15.7-2.3" stroke="#ff5b00"/>
<path d="M1079.5 987l4-0.7 4.5-1.1 5-8.1 4-5.5 8.5-10.1 15.6-19.2 13.6-17.4 7.1-8.3 9.3-9.9 10-9.6 9.3-7.9 10.8-8.2 8.6-6 9.3-5.9 14.3-8.5 4.3-2.2 3.6-1.5 8.5-2.6 9.3-2.1 19.4-3.6 15.7-2.4" stroke="#ff6200"/>
<path d="M1080 987l4-0.7 4-0.9 4.5-7.3 4-5.6 9-10.6 14.9-18.1 15-19 6.4-7.4 10-10.5 10.1-9.5 9.3-8 10.7-8.2 11.4-7.8 16.5-10.1 6.4-3.6 5.1-2.2 8.5-2.6 9.3-2.2 19.4-3.6 15.7-2.4" stroke="#ff6900"/>
<path d="M1080 987l4-0.6 4-0.9 4.5-7.2 4-5.6 9.5-10.9 16.5-19.9 12.2-15.4 7.8-9 10.1-10.5 10-9.4 9.3-7.9 10.7-8.2 11.5-7.8 15.7-9.7 6.4-3.7 5.1-2.2 7.8-2.5 10-2.4 19.4-3.7 15.7-2.4" stroke="#ff7000"/>
<path d="M1080 987l4-0.5 4-0.8 4.5-7.3 4-5.4 11-12.6 15-17.9 12.9-16.1 7.9-8.9 9.3-9.7 10.7-10 10-8.4 10.7-8.1 10.8-7.3 15.7-9.8 5.7-3.3 5.1-2.2 7.8-2.5 10-2.4 19.4-3.8 15.7-2.5" stroke="#ff7700"/>
<path d="M1080.5 987l7.5-1.2 4.5-7.2 4-5.4 8.5-9.4 5-5.9 12.5-14.7 12.9-16 7.9-8.9 9.3-9.6 10.7-10.1 10-8.5 10.7-8.1 10.8-7.3 15.7-9.9 5.7-3.3 5.1-2.3 7.8-2.5 10-2.4 19.4-3.8 15.7-2.6" stroke="#ff7e00"/>
<path d="M1081 987l7-1 4.5-7.2 4-5.3 9-9.9 8-9.2 9.7-11.5 12.2-15 8.6-9.6 9.3-9.5 10.7-10 10-8.4 10.8-8.2 10-6.8 16.4-10.4 5.8-3.3 4.3-1.9 7.8-2.5 10-2.5 19.4-3.9 15.7-2.6" stroke="#ff8500"/>
<path d="M1081 987l7-0.8 4-6.5 4-5.4 3-3.4 6.5-6.9 9-10.3 8.7-10.1 12.2-14.9 9.3-10.4 9.3-9.4 10.7-10 10-8.3 11.5-8.6 9.3-6.4 16.4-10.4 5.8-3.2 4.3-1.9 7.8-2.5 10.1-2.4 19.3-3.9 15-2.6" stroke="#ff8c00"/>
<path d="M1081.5 987l6.5-0.7 4-6.4 4-5.4 3-3.3 6.5-6.8 9-10.1 8.7-10.1 12.9-15.6 9.3-10.3 10-10 10-9.2 10.1-8.3 10.7-8.1 9.3-6.4 16.4-10.5 5.8-3.3 4.3-1.8 7.8-2.6 10.1-2.4 19.3-4 15-2.5" stroke="#ff9500"/>
<path d="M1082 987l6-0.6 4-6.3 4-5.4 3-3.3 6.5-6.6 9-10 8.7-10 12.9-15.5 10-10.9 10-10 10.1-9.2 10-8.3 10.7-8 9.3-6.4 15.7-10.1 5.8-3.3 4.3-1.9 7.8-2.5 10.1-2.5 19.3-4 15-2.6" stroke="#ff9e00"/>
<path d="M1083 987l5-0.4 4-6.4 4-5.2 3-3.3 6.5-6.5 6-6.6 11-12.4 15-17.8 7.2-7.8 7.1-7.3 8.6-8.2 8.6-7.6 9.3-7.5 9.3-6.9 8.6-5.9 15.7-10.2 5.8-3.3 4.3-1.9 7.8-2.6 10.1-2.5 19.3-4.1 15-2.6" stroke="#ffa700"/>
<path d="M1083.5 987l4.5-0.3 4-6.3 4-5.2 3-3.2 6.5-6.5 7-7.5 10-11.2 15-17.7 7.2-7.7 7.1-7.3 8.6-8.2 8.6-7.6 9.3-7.6 10-7.4 8.6-5.9 15.8-10.2 5-2.9 4.3-1.9 7.8-2.6 10.1-2.6 19.3-4.1 15-2.7" stroke="#ffb000"/>
<path d="M1084.5 987l3.5-0.2 4-6.3 4-5.1 3-3.2 6.5-6.3 8.5-9.1 9.2-10.2 14.3-16.8 7.2-7.7 6.4-6.6 9.3-8.9 8.6-7.6 9.3-7.5 10-7.5 8.6-6 15.8-10.2 5-2.9 4.3-2 7.8-2.6 9.3-2.4 19.4-4.2 15.7-2.8" stroke="#ffb800"/>
<path d="M1086 987l2-0.1 4-6.2 4-5.1 3-3.1 6.5-6.2 9-9.5 8.7-9.6 14.3-16.7 6.5-6.9 6.4-6.6 9.3-9 9.3-8.2 9.3-7.6 10-7.5 8.6-6 15.8-10.3 5-2.9 4.3-2 7.8-2.6 9.3-2.4 19.4-4.3 15.7-2.9" stroke="#ffc100"/>
<path d="M1088 987l4-6.2 4-5 3-3.1 6.5-6.1 10-10.4 7.7-8.5 13.6-15.7 11.5-12.2 10-9.7 9.3-8.4 10-8.2 10-7.6 8.6-6 15.7-10.4 5.8-3.4 4.3-2 7.8-2.6 9.3-2.5 19.4-4.3 15.7-2.9" stroke="#ffca00"/>
<path d="M1088 987l4-6 4-5 3-3 6.5-6 10.5-10.9 7.9-8.6 12.9-14.9 12.2-12.8 10-9.6 9.3-8.3 10-8.2 10-7.6 8.6-6 15.8-10.5 5-2.9 4.3-2 7.8-2.7 9.3-2.4 19.4-4.4 15.7-2.9" stroke="#ffd300"/>
<path d="M1088 987.1l4-6 4-4.9 3-3 6.5-5.9 10.5-10.7 7.9-8.6 13.6-15.5 12.2-12.7 10-9.5 9.3-8.3 10-8.2 10.8-8 7.1-5 15.8-10.5 5-3 4.3-2 7.8-2.7 9.3-2.4 20.1-4.6 15-2.8" stroke="#ffdc00"/>
<path d="M1088 987.1l4-5.8 4-4.9 3-2.9 6.5-5.9 10.5-10.6 7.9-8.4 13.6-15.4 12.9-13.4 10-9.5 9.3-8.2 10.1-8.1 10.7-8 6.4-4.5 15.8-10.6 5-2.9 4.3-2 7.8-2.7 9.3-2.5 20.1-4.6 15-2.9" stroke="#fee300"/>
<path d="M1088 987.2l4-5.8 4-4.8 3-2.9 6.5-5.8 11-11 7.4-7.8 13.6-15.3 7.2-7.5 6.4-6.4 10-9.5 9.3-8.1 10.1-8.1 10.7-8 6.4-4.5 15.8-10.5 4.3-2.6 4.3-2 7.8-2.7 9.3-2.5 20.1-4.6 15-3" stroke="#fdea00"/>
<path d="M1088 987.2l4-5.7 3.5-4.2 3-2.9 7-6.2 11-10.8 7.4-7.8 13.6-15.2 7.2-7.4 7.1-7.1 10.1-9.4 9.3-8.1 10-8 10.7-8 21.5-14.5 5-3 4.3-1.9 7.9-2.7 9.3-2.5 19.3-4.4 15-3" stroke="#fcf100"/>
<path d="M1088 987.2l4-5.6 3.5-4.1 3-2.9 7.5-6.6 11-10.7 6.9-7.2 13.6-15 7.9-8.2 7.2-7 10-9.3 9.3-8 10-8 10.7-7.9 20.8-14.1 5-2.9 4.3-2 7.9-2.7 9.3-2.5 19.3-4.5 15-3" stroke="#fbf800"/>
<path d="M1088 987.2l4-5.5 3.5-4 3-2.9 7.5-6.5 11-10.6 6.9-7.1 13.6-14.9 7.9-8.1 7.2-7 10-9.2 9.3-8 10.7-8.6 10.7-7.9 20.8-14.1 4.3-2.4 4.3-2 7.9-2.7 9.3-2.5 19.3-4.6 15-3" stroke="#faff00"/>
<path d="M1088 987.2l4-5.4 3.5-4 3-2.8 7.5-6.4 11-10.5 6.9-7 15.1-16.3 7.8-7.9 7.2-7 10-9.1 9.3-7.9 10-7.9 11.5-8.3 19.3-13.1 5-2.9 4.3-1.9 7.9-2.6 9.3-2.5 18.6-4.4 15-3.1" stroke="#f6ff00"/>
<path d="M1088 987.2l4.5-5.9 3-3.3 3-2.8 7.5-6.3 11.5-10.8 7.2-7.3 14.3-15.3 8.6-8.7 7.1-6.8 10-9.1 9.3-7.8 10-7.9 11.5-8.3 18.6-12.6 5-2.9 4.3-1.9 7.9-2.6 9.3-2.5 18.6-4.5 15-3" stroke="#f2ff00"/>
<path d="M1088 987.2l4.5-5.7 3-3.3 3-2.8 7.5-6.2 11.5-10.7 7.2-7.2 15-15.9 8.6-8.6 7.1-6.8 10-9 9.3-7.7 10.1-7.8 11.4-8.3 18.6-12.6 4.3-2.5 4.3-1.8 7.2-2.5 9.3-2.6 19.3-4.6 15-3.1" stroke="#eeff00"/>
<path d="M1088 987.2l4-5 3-3.3 3.5-3.2 7.5-6.2 12.2-11.3 6.5-6.4 10.7-11.4 5-5.2 8.6-8.4 7.1-6.7 10.1-9 9.3-7.7 10-7.7 11.4-8.3 17.9-12.1 5-2.8 4.3-1.8 7.2-2.4 9.3-2.6 18.6-4.5 15-3.1" stroke="#eaff00"/>
<path d="M1088 987.2l4-4.9 3-3.3 3.5-3.1 7.5-6.1 12.2-11.2 6.5-6.3 10.7-11.4 5.7-5.7 8.6-8.4 7.2-6.7 10-8.8 9.3-7.7 10.7-8.3 10.7-7.7 17.2-11.6 5-2.8 4.3-1.8 7.2-2.4 9.3-2.6 18.6-4.5 15-3.1" stroke="#e6ff00"/>
<path d="M1088 987.2l4.5-5.4 2.5-2.6 3.5-3.1 7.5-6 12.2-11.1 5.7-5.5 12.2-12.7 8.6-8.6 7.9-7.5 9.3-8.4 10.7-9.1 11.4-9 10.8-7.8 15-10.4 5.7-3.7 4.3-2.4 4.3-1.8 5.7-2 8.6-2.4 15.8-3.9 10.7-2.5 9.3-1.9" stroke="#e2ff00"/>
<path d="M1088 987.2l4.5-5.2 2.5-2.6 3.5-3.1 7.5-6 12.2-10.8 6.5-6.2 11.4-11.9 9.3-9.2 7.9-7.5 9.3-8.3 10.7-9 10.7-8.5 10.8-7.8 15.7-10.9 5-3.2 4.3-2.4 4.3-1.8 5.7-2 8.6-2.4 15.8-4 10.7-2.4 9.3-1.9" stroke="#deff00"/>
<path d="M1088 987.2l4.5-5.1 3-3 3-2.6 9-7.2 7-6.1 5.9-5.3 5-4.9 11.4-11.8 8.6-8.4 8.6-8.1 9.3-8.2 10.7-9 10.8-8.4 10.7-7.8 15-10.4 5-3.2 4.3-2.4 4.3-1.8 5.7-2 8.6-2.4 15.8-4 10.7-2.4 9.3-1.9" stroke="#daff00"/>
<path d="M1088 987.2l4.5-5 2.5-2.4 3.5-3.1 6-4.6 3.5-2.9 12.4-10.9 5.7-5.5 10.7-11 9.3-9 8.6-8 9.3-8.3 10.7-8.9 10.8-8.3 10-7.3 15.7-10.8 5-3.2 4.3-2.3 4.3-1.7 5.8-2 8.5-2.4 15.8-4 10-2.3 9.3-1.9" stroke="#d6ff00"/>
<path d="M1088 987.2l4.5-4.9 2.5-2.4 3.5-2.9 6-4.6 3.5-2.9 12.4-10.8 5.7-5.4 10.7-10.9 10-9.7 8.6-7.9 9.3-8.2 10-8.2 10.8-8.4 10-7.3 15.7-10.8 5-3.2 4.3-2.3 4.3-1.7 5.8-2 8.5-2.4 15.8-4 10-2.3 9.3-1.9" stroke="#d2ff00"/>
<path d="M1088 987.2l4.5-4.7 2.5-2.4 3.5-2.9 6-4.6 4.5-3.6 12.1-10.5 5-4.8 10.7-10.7 10.8-10.3 8.5-7.9 9.3-8.1 10.8-8.8 10.7-8.2 9.3-6.8 15.7-10.8 4.3-2.7 4.3-2.3 5-2 5.8-1.9 7.8-2.2 15.8-4 10-2.3 9.3-1.9" stroke="#cfff02"/>
<path d="M1088 987.2l4.5-4.6 2.5-2.3 3.5-2.9 6-4.5 4.5-3.6 6.5-5.5 5.6-4.9 5-4.7 10.7-10.7 10.8-10.2 9.3-8.5 9.3-8 10.7-8.7 10.7-8.2 9.3-6.8 15-10.3 4.3-2.7 4.3-2.3 5-2 5.8-1.9 7.8-2.2 15.8-4 10-2.3 9.3-1.9" stroke="#ccff04"/>
<path d="M1088 987.2l4.5-4.5 2.5-2.2 3.5-2.9 6-4.4 4.5-3.6 6.5-5.4 5.6-4.8 5-4.7 11.4-11.3 10.8-10.2 9.3-8.3 9.3-8 10.7-8.7 11.5-8.7 8.5-6.1 15.1-10.3 4.3-2.7 3.5-1.8 5-2.1 5.8-1.9 7.8-2.2 15.8-4 10-2.3 9.3-1.9" stroke="#c9ff06"/>
<path d="M1088 987.2l6.5-6.2 4-3.2 6.5-4.8 4.5-3.5 11.6-9.7 4.3-4 11.4-11.2 12.2-11.4 9.3-8.3 9.3-7.9 10.7-8.7 11.5-8.6 7.8-5.6 15.1-10.3 4.3-2.7 3.5-1.8 5-2 5.8-2 7.8-2.2 15.8-4 10-2.3 9.3-1.9" stroke="#c7ff09"/>
<path d="M1088 987.2l6.5-6 4-3.2 6.5-4.7 4.5-3.5 11.6-9.6 4.3-3.9 11.4-11.1 12.9-12 9.3-8.3 9.3-7.8 10.7-8.6 11.5-8.6 7.1-5.1 15.1-10.3 4.3-2.7 3.5-1.8 5-2 5.8-1.9 7.8-2.3 15.8-3.9 10-2.4 9.3-1.9" stroke="#c4ff0b"/>
<path d="M1088 987.2l6.5-5.8 15.5-11.7 11.1-9.1 5-4.5 10.7-10.4 12.9-11.9 9.3-8.2 9.3-7.9 10.7-8.5 11.5-8.6 7.1-5.1 15.1-10.3 4.3-2.6 3.5-1.9 5-2 5.8-1.9 7.8-2.3 15.8-3.9 10-2.3 9.3-2" stroke="#c1ff0d"/>
<path d="M1088 987.2l6-5.3 4.5-3.5 6.5-4.6 5-3.8 11.1-9 5-4.5 10.7-10.2 13.6-12.6 10-8.7 9.3-7.8 10.8-8.4 11.4-8.6 6.5-4.5 15-10.2 4.3-2.6 3.6-1.8 5-1.9 5.7-1.9 7.9-2.2 15.7-4 10-2.3 8.6-1.7" stroke="#beff0f"/>
<path d="M1088 987.2l6-5.1 16.5-12.2 10.6-8.5 5-4.4 10.7-10.2 14.3-13.1 10-8.7 9.3-7.7 10.1-7.8 11.4-8.6 6.5-4.5 15-10.2 4.3-2.6 3.6-1.8 5-1.9 5.7-1.9 7.9-2.2 15.7-4 10-2.3 8.6-1.7" stroke="#bbff11"/>
<path d="M1088 987.2l6-4.9 16.5-12.1 10.6-8.4 5-4.3 10.7-10.1 14.3-13.1 10-8.6 10.1-8.3 10-7.8 11.4-8.5 6.5-4.5 14.3-9.7 4.3-2.6 3.6-1.8 5-1.9 5.7-1.9 7.9-2.2 15.7-3.9 10-2.3 8.6-1.8" stroke="#b8ff13"/>
<path d="M1088 987.2l5.5-4.4 17.5-12.7 10.1-7.9 5-4.3 10.7-10 15-13.6 10.8-9.2 10-8.1 9.3-7.2 11.4-8.5 20.1-13.7 4.3-2.6 3.6-1.7 5-2 5.7-1.9 7.9-2.2 15.7-3.9 10-2.3 8.6-1.7" stroke="#b5ff15"/>
<path d="M1088 987.2l5.5-4.3 19.5-14 8.8-6.8 5-4.4 10-9.3 15-13.5 10.8-9.1 10.7-8.7 9.3-7.2 11.5-8.4 19.3-13.2 4.3-2.5 3.6-1.8 5-2 5.7-1.8 7.9-2.2 15.7-4 10-2.2 8.6-1.8" stroke="#b3ff18"/>
<path d="M1088 987.2l5.5-4.1 2.5-1.7 3-2.3 6-4.1 7.5-5.4 9.3-7.1 5-4.4 10-9.2 15.8-14 11.4-9.7 10.7-8.6 8.6-6.5 11.5-8.4 19.3-13.1 4.3-2.5 3.6-1.7 5-1.9 5.7-1.8 7.9-2.2 15-3.7 10-2.3 8.6-1.7" stroke="#b0ff1a"/>
<path d="M1088 987.2l24-16.9 9.8-7.4 5-4.3 15.7-14.3 10.8-9.5 11.4-9.5 10.8-8.6 8.5-6.5 11.5-8.4 18.6-12.5 4.3-2.5 3.6-1.7 5-1.8 5.7-1.9 7.9-2.1 15-3.8 10-2.2 8.6-1.8" stroke="#adff1c"/>
<path d="M1088 987.2l5.5-3.9 2.5-1.5 3-2.3 12.5-8.6 10.3-7.7 5-4.2 15.7-14.1 10.8-9.5 12.1-10.1 11.5-9 18.6-13.8 18.6-12.5 4.3-2.5 3.6-1.6 5-1.9 5.7-1.8 7.9-2.2 15-3.7 10-2.3 8.6-1.7" stroke="#aaff1e"/>
<path d="M1088 987.2l5.5-3.7 2.5-1.5 3-2.2 14-9.6 6.6-4.9 7.2-5.8 25.8-22.9 9.3-7.7 8.5-6.9 10.8-8.3 12.9-9.5 5.7-4 14.3-9.5 4.3-2.4 3.6-1.7 5.7-2.1 5.7-1.8 7.9-2.1 15-3.8 9.3-2 8.6-1.7" stroke="#a8ff24"/>
<path d="M1088 987.2l5.5-3.6 2.5-1.4 3-2.2 15-10.2 6.4-4.7 7.1-5.8 25.1-22.1 9.3-7.7 8.5-6.9 10.8-8.2 12.9-9.5 5.7-4 14.3-9.5 4.3-2.4 3.6-1.7 5.7-2.1 5.7-1.8 7.9-2.1 15-3.7 9.3-2.1 8.6-1.7" stroke="#a6ff2b"/>
<path d="M1088 987.2l5.5-3.4 2.5-1.4 3-2.2 15-10.1 6.4-4.6 7.1-5.8 25.8-22.5 17.9-14.5 10.7-8.2 12.9-9.4 14.3-9.7 5-3.2 4.3-2.5 3.6-1.6 5.7-2.1 5.7-1.8 7.9-2.2 15-3.6 9.3-2.1 8.6-1.7" stroke="#a4ff31"/>
<path d="M1088.5 987l5-3.1 2.5-1.4 3.5-2.5 15.5-10.3 6.1-4.4 6.4-5.2 25.8-22.3 9.3-7.6 9.3-7.4 10.7-8.2 12.9-9.3 14.3-9.7 5-3.1 3.6-2 3.6-1.7 5.7-2.1 6.4-2 7.9-2.1 14.3-3.5 9.3-2 8.6-1.7" stroke="#a2ff37"/>
<path d="M1088.5 987l5-3 2.5-1.3 3.5-2.5 15.5-10.2 6.1-4.3 6.4-5.1 25.8-22.2 9.3-7.6 9.3-7.4 10.7-8.1 12.9-9.4 13.6-9.1 5.7-3.6 3.6-2 3.6-1.7 5.7-2.1 6.4-2 7.9-2 14.3-3.5 9.3-2.1 8.6-1.6" stroke="#a0ff3d"/>
<path d="M1088.5 987l5-2.9 2.5-1.2 3.5-2.5 16-10.4 5.6-3.9 7.1-5.7 25.1-21.5 10-8.1 9.3-7.3 10-7.5 12.9-9.4 13.6-9.1 5.7-3.6 3.6-2 3.6-1.6 5.7-2.1 6.4-2 7.9-2.1 14.3-3.5 9.3-2 8.6-1.6" stroke="#9dff44"/>
<path d="M1088.5 987l7.5-3.9 3.5-2.5 15-9.6 6.6-4.6 7.1-5.6 25.8-21.9 9.3-7.5 10-7.8 10-7.5 12.9-9.3 13.6-9 5-3.2 3.6-1.9 3.6-1.7 5.7-2.1 6.4-2 7.9-2 14.3-3.5 9.3-2 8.6-1.6" stroke="#9bff4a"/>
<path d="M1088.5 987l7.5-3.7 4-2.8 16-10.2 5.8-4 7.1-5.7 25.1-21.1 19.3-15.2 10-7.5 12.9-9.3 12.9-8.6 5.7-3.5 3.6-2 3.6-1.6 5.7-2.1 6.4-2 7.9-2.1 14.3-3.4 9.3-2 8.6-1.6" stroke="#99ff50"/>
<path d="M1088.5 987l7.5-3.6 4-2.7 16.5-10.4 5.3-3.6 7.1-5.6 25.1-21 10-8 10-7.7 9.3-7 12.9-9.2 12.9-8.6 5.7-3.5 3.6-2 3.6-1.6 5.7-2.1 6.4-1.9 7.9-2.1 14.3-3.4 9.3-2 8.6-1.6" stroke="#97ff56"/>
<path d="M1088.5 987l7.5-3.4 4-2.7 15.5-9.7 6.3-4.2 7.1-5.5 25.8-21.4 19.3-15.1 9.3-6.9 12.9-9.2 12.9-8.5 5.7-3.6 3.6-1.9 3.6-1.7 5.7-2 6.4-2 8.6-2.2 13.6-3.3 9.3-1.9 8.6-1.6" stroke="#95ff5d"/>
<path d="M1088.5 987l7.5-3.2 4-2.7 16-9.9 5.8-3.8 7.1-5.5 25.8-21.3 20-15.5 9.3-6.8 12.9-9.3 12.2-7.9 5.7-3.6 3.6-1.9 3.6-1.6 5.7-2.1 6.4-1.9 8.6-2.3 13.6-3.2 9.3-1.9 8.6-1.6" stroke="#93ff63"/>
<path d="M1088.5 987l7.5-3.1 4-2.7 16.5-10 6-4 7.2-5.5 25.7-21.1 20.1-15.4 21.4-15.5 12.2-7.9 5.7-3.5 3.6-1.9 3.6-1.7 5.7-2 6.4-2 8.6-2.2 13.6-3.2 9.3-1.9 8.6-1.6" stroke="#91ff69"/>
<path d="M1088.5 987l7.5-2.9 4-2.7 16.5-9.9 6-3.9 7.2-5.4 25.7-21 20.8-15.9 21.4-15.4 12.2-7.9 5.7-3.4 3.6-1.9 3.6-1.5 5.7-2 6.4-1.9 7.9-2 13.6-3.2 9.3-1.9 8.6-1.6" stroke="#8fff6f"/>
<path d="M1088.5 987.1l7.5-2.8 4.5-3 16-9.5 6-3.9 7.2-5.3 26.4-21.4 20.8-15.8 20.7-14.8 12.2-7.8 5.7-3.5 4.3-2.1 3.6-1.5 5.7-1.9 6.5-1.9 8.5-2.2 12.9-3 9.3-1.9 7.9-1.4" stroke="#8dff76"/>
<path d="M1088.5 987.1l7.5-2.7 4.5-2.9 16.5-9.7 5.5-3.5 7.9-5.9 26.5-21.2 20.7-15.6 20-14.3 12.2-7.8 5.7-3.4 4.3-2.2 3.6-1.4 5.7-2 6.5-1.8 8.5-2.2 12.9-3 9.3-1.9 7.9-1.4" stroke="#8bff7c"/>
<path d="M1088.5 987.1l7.5-2.5 5-3.3 16-9.2 5.5-3.5 7.9-5.8 26.5-21 20.7-15.6 20-14.2 12.2-7.8 5.7-3.4 4.3-2.1 3.6-1.5 5.7-1.9 6.5-1.9 7.8-1.9 12.9-3 9.3-1.9 8.6-1.5" stroke="#89ff82"/>
<path d="M1088.5 987.1l7.5-2.4 5.5-3.5 15.5-8.8 5.5-3.4 7.9-5.8 27.2-21.4 20.7-15.5 20.1-14.1 11.4-7.3 5.7-3.3 4.3-2.2 3.6-1.4 5.7-1.9 6.5-1.9 7.8-2 12.9-2.9 9.3-1.9 8.6-1.5" stroke="#87ff88"/>
<path d="M1089 987l7-2.1 5.5-3.5 16-9 5.7-3.6 7.9-5.7 26.5-20.8 21.4-15.8 19.4-13.6 11.4-7.3 5.7-3.3 4.3-2.1 3.6-1.4 5.7-2 6.5-1.8 8.5-2.1 12.2-2.8 9.3-1.9 8.6-1.5" stroke="#84ff8f"/>
<path d="M1089 987l7-2 5.5-3.4 16-8.9 5.7-3.5 7.9-5.7 27.2-21.1 21.5-15.8 18.6-13 11.4-7.2 5.7-3.3 4.3-2.2 3.6-1.4 5.7-1.9 6.5-1.8 8.5-2.2 12.2-2.7 9.3-1.9 8.6-1.5" stroke="#82ff95"/>
<path d="M1089 987l7-1.8 6-3.7 15.5-8.5 5.7-3.5 8.6-6.1 26.5-20.5 21.5-15.7 18.6-12.9 11.4-7.2 5.7-3.3 4.3-2.1 3.6-1.4 5.7-1.9 6.5-1.9 8.5-2.1 12.2-2.7 9.3-1.8 8.6-1.5" stroke="#80ff9c"/>
<path d="M1089 987l7-1.7 6.5-4 15-8 5.7-3.4 8.6-6.1 27.2-20.8 21.5-15.6 17.9-12.5 11.4-7.1 5.7-3.2 4.3-2.1 3.6-1.4 5.7-1.9 7.2-2.1 8.6-2 12.1-2.7 9.3-1.8 7.9-1.4" stroke="#7effa4"/>
<path d="M1089 987l7-1.6 6.5-3.9 15.7-8.3 5.7-3.5 8.6-6.1 26.5-20.1 22.2-16 17.9-12.3 10.7-6.6 5.7-3.3 4.3-2.1 3.6-1.4 5.7-1.9 7.2-2 8.6-2 12.1-2.7 9.3-1.8 7.9-1.3" stroke="#7cffac"/>
<path d="M1089 987l7-1.4 6.5-3.9 15.7-8.3 5.7-3.3 9.3-6.6 26.5-19.9 22.2-15.9 17.2-11.8 10.7-6.6 5.7-3.2 4.3-2.1 3.6-1.4 6.4-2.1 6.5-1.8 8.6-2 12.1-2.7 9.3-1.8 7.9-1.3" stroke="#7affb4"/>
<path d="M1089.5 987l6.5-1.3 7-4.1 15.2-7.9 5.7-3.3 9.3-6.5 27.2-20.3 22.2-15.8 16.5-11.2 10.7-6.6 5.7-3.2 4.3-2 3.6-1.4 6.4-2.1 6.5-1.8 8.6-2 12.1-2.7 8.6-1.6 8.6-1.4" stroke="#78ffbc"/>
<path d="M1089.5 987l6.5-1.2 7.5-4.4 14.7-7.4 5.7-3.3 9.3-6.4 19.4-14.4 11.4-8.3 28.6-20 7.9-5.2 9.3-5.6 5.7-3.2 4.3-2 3.6-1.4 6.4-2.1 6.5-1.8 8.6-2 12.1-2.6 8.6-1.7 8.6-1.4" stroke="#76ffc4"/>
<path d="M1089.5 987l6.5-1.1 3.5-2.1 4.5-2.5 14.2-7 5.7-3.3 5.8-3.7 8.6-6.2 14.3-10.7 11.4-8.2 29.3-20.4 7.9-5.1 9.3-5.6 5-2.7 4.3-2.1 3.6-1.3 6.4-2.1 6.5-1.8 8.6-2 11.4-2.5 9.3-1.8 8.6-1.3" stroke="#74ffcc"/>
<path d="M1089.5 987l6.5-0.9 7.5-4.3 14.7-7.2 6.5-3.7 5-3.3 8.6-6 14.3-10.7 11.4-8.1 30.1-20.8 5.7-3.8 7.1-4.3 5-2.9 4.3-2.2 4.3-2 4.3-1.5 5.8-1.8 6.4-1.7 8.6-2.1 11.4-2.4 8.6-1.6 8.6-1.4" stroke="#72ffd4"/>
<path d="M1090 987l6-0.8 8-4.5 14.2-6.9 6.5-3.6 5-3.2 8.6-6 14.3-10.5 12.1-8.7 29.4-20.1 5.7-3.8 7.1-4.2 5-2.9 4.3-2.3 4.3-1.9 4.3-1.5 5.8-1.8 6.4-1.7 8.6-2 11.4-2.5 8.6-1.6 8.6-1.3" stroke="#70ffdc"/>
<path d="M1090 987l6-0.7 8-4.5 14.9-7.1 5.8-3.1 5-3.2 8.6-6 14.3-10.4 12.8-9.1 29.4-20 5-3.2 7.9-4.7 8.5-4.7 4.3-1.9 4.3-1.5 5.8-1.8 7.1-1.9 19.3-4.2 8.6-1.6 8.6-1.4" stroke="#6effe4"/>
<path d="M1090.5 987l5.5-0.6 8-4.4 14.9-7 6.5-3.5 5-3.3 8.6-5.9 13.6-9.8 12.1-8.5 30.1-20.4 5-3.2 7.1-4.2 5-2.9 4.3-2.2 4.3-1.9 4.3-1.5 6.5-2 6.4-1.7 19.3-4.2 8.6-1.6 8.6-1.3" stroke="#6bffe8"/>
<path d="M1090.5 987l5.5-0.5 8.5-4.6 14.4-6.6 6.5-3.5 5-3.2 7.9-5.3 21.4-15.3 35.1-23.7 5-3.2 7.1-4.2 5-2.8 4.3-2.2 4.3-1.9 4.3-1.5 6.5-2 6.4-1.7 19.3-4.2 8.6-1.5 8.6-1.4" stroke="#68feeb"/>
<path d="M1091 987l5-0.4 8.5-4.6 14.4-6.5 6.5-3.4 5-3.1 7.9-5.3 21.4-15.1 35.8-24.1 4.3-2.7 7.9-4.6 8.5-4.5 4.3-1.9 4.3-1.5 6.5-2 6.4-1.7 19.3-4.1 8.6-1.6 8.6-1.3" stroke="#65fdee"/>
<path d="M1091.5 987l4.5-0.4 8.5-4.4 14.4-6.4 3.6-1.8 3.6-2 12.2-7.9 20.7-14.5 36.5-24.4 5-3.1 7.2-4.1 8.5-4.6 4.3-1.8 4.3-1.5 6.5-2 6.4-1.6 19.3-4.2 8.6-1.5 8.6-1.4" stroke="#62fdf0"/>
<path d="M1092 987l4-0.3 8.5-4.4 14.4-6.3 3.6-1.7 3.6-2 5-3.1 7.9-5.2 20-13.8 37.2-24.7 4.3-2.7 7.9-4.5 7.8-4.1 4.3-1.8 4.3-1.5 6.5-2 6.4-1.6 19.3-4.1 8.6-1.6 8.6-1.3" stroke="#5efcf3"/>
<path d="M1092.5 987l3.5-0.2 8.5-4.4 14.4-6.1 3.6-1.7 3.6-2 5-3 7.9-5.1 19.3-13.3 37.9-25 4.3-2.6 7.2-4.1 8.5-4.5 4.3-1.8 4.3-1.5 6.5-1.9 6.4-1.7 8.6-1.9 10.7-2.2 8.6-1.5 8.6-1.3" stroke="#5bfcf6"/>
<path d="M1093.5 987l2.5-0.1 4.5-2.4 5.5-2.6 14.4-6 6.4-3.4 12.2-7.6 18.6-12.7 38.6-25.3 10.7-6.2 8.6-4.6 4.3-1.8 5-1.8 6.5-1.9 6.4-1.7 8.6-1.9 10.7-2.2 8.6-1.5 8.6-1.3" stroke="#58fbf8"/>
<path d="M1094.5 987l1.5-0.1 4.5-2.3 5.5-2.6 14.4-5.9 7.1-3.7 12.2-7.6 17.2-11.6 39.3-25.6 4.3-2.6 6.4-3.6 8.6-4.5 4.3-1.8 5-1.8 6.5-1.9 6.4-1.6 8.6-1.9 10.7-2.2 8.6-1.5 8.6-1.3" stroke="#55fbfb"/>
<path d="M1096 987l4.5-2.3 5.5-2.5 15.1-6.1 7.1-3.8 11.5-7 16.4-11.1 40.1-25.8 4.3-2.6 6.4-3.6 8.6-4.5 4.3-1.8 5-1.8 6.5-1.9 6.4-1.6 8.6-1.9 10.7-2.2 8.6-1.5 8.6-1.2" stroke="#51fafe"/>
<path d="M1096 987l5-2.5 5-2.2 15.1-6 3.6-1.7 4.2-2.4 10.8-6.5 16.4-10.9 40.8-26.2 10.8-6 7.8-4.1 4.3-1.8 5-1.7 6.5-1.9 6.4-1.7 8.6-1.9 10.7-2.1 8.6-1.5 8.6-1.3" stroke="#4ff0ff"/>
<path d="M1096 987.1l10-4.7 15.1-5.8 3.6-1.8 4.2-2.3 11.5-6.9 15-9.8 41.5-26.4 10.8-6.1 7.8-4 4.3-1.8 5-1.7 6.5-1.9 6.4-1.6 8.6-1.9 10.7-2.1 8.6-1.5 8.6-1.3" stroke="#4ddfff"/>
<path d="M1096 987.1l5-2.4 5.5-2.4 14.6-5.5 3.6-1.7 4.2-2.3 11.5-6.8 14.3-9.3 42.2-26.6 10.8-6 7.8-3.9 4.3-1.9 5-1.7 6.5-1.9 6.4-1.6 8.6-1.9 10.7-2.1 8.6-1.5 8.6-1.2" stroke="#4bcfff"/>
<path d="M1096 987.1l10.5-4.6 14.6-5.5 4.3-2 4.3-2.3 10.7-6.2 13.6-8.8 43.6-27.3 10.8-5.9 7.8-3.9 4.3-1.7 5-1.7 6.5-1.8 6.4-1.6 9.3-2 10-2 8.6-1.4 7.9-1.2" stroke="#48beff"/>
<path d="M1096 987.2l10.5-4.6 14.6-5.3 4.3-2 4.3-2.2 11.4-6.7 12.9-8.2 43.6-27 10.8-5.9 7.8-3.8 4.3-1.8 5-1.6 6.5-1.9 6.4-1.6 9.3-2 10-1.9 8.6-1.5 7.9-1.1" stroke="#46adff"/>
<path d="M1096.5 987l10-4.3 14.6-5.2 4.3-1.9 5-2.6 10.7-6.1 12.2-7.7 44.3-27.3 10.8-5.8 7.8-3.8 4.3-1.7 5-1.7 6.5-1.8 6.4-1.6 9.3-2 10-1.9 8.6-1.5 7.9-1.1" stroke="#43a3ff"/>
<path d="M1096.5 987l10-4.2 14.6-5.1 4.3-1.9 5-2.5 11.4-6.5 11.5-7.1 44.3-27 10.8-5.8 7.8-3.8 4.3-1.7 5-1.6 6.5-1.9 6.4-1.5 18.6-3.9 8.6-1.4 8.6-1.3" stroke="#409bff"/>
<path d="M1096.5 987l10-4.1 14.6-4.9 4.3-1.9 5.7-2.9 10.7-5.9 11.5-7.1 45.1-27.2 10.7-5.7 7.1-3.4 4.3-1.7 5-1.6 6.5-1.8 7.1-1.8 18.6-3.7 8.6-1.5 7.9-1.1" stroke="#3d93ff"/>
<path d="M1096.5 987l10-3.9 14.6-4.9 4.3-1.8 5.7-2.8 11.4-6.3 55.9-33.5 10.7-5.7 7.1-3.3 4.3-1.7 5-1.7 6.5-1.8 7.1-1.7 18.6-3.8 8.6-1.4 7.9-1.2" stroke="#398aff"/>
<path d="M1096.5 987l10-3.8 14.6-4.8 5-2.1 5.7-2.8 10.7-5.8 55.9-33.2 10.7-5.6 7.9-3.7 4.3-1.6 5.7-1.8 6.4-1.7 6.5-1.6 17.8-3.6 8.6-1.4 7.9-1.2" stroke="#3682ff"/>
<path d="M1096.5 987l10-3.7 14.6-4.7 5-2 6.4-3.1 10-5.3 10.1-6.1 32.9-19.2 12.9-7.7 10.7-5.6 7.9-3.6 4.3-1.7 5.7-1.7 6.4-1.8 6.5-1.5 17.8-3.6 8.6-1.5 7.9-1.1" stroke="#337aff"/>
<path d="M1096.5 987l10-3.6 11-3.3 4.3-1.5 5-2.1 6.4-3 9.3-4.9 10.1-6 32.9-19.1 12.9-7.7 10.7-5.5 7.9-3.6 4.3-1.6 5.7-1.8 6.4-1.8 6.5-1.5 17.8-3.6 8.6-1.5 7.9-1.1" stroke="#3175ff"/>
<path d="M1096.5 987l10-3.5 11-3.2 4.3-1.5 5.7-2.3 7.9-3.7 7.1-3.7 10.1-6.1 32.9-19 12.9-7.6 10.7-5.5 7.9-3.6 4.3-1.6 5.7-1.8 6.4-1.7 6.5-1.5 17.8-3.6 8.6-1.5 7.9-1.1" stroke="#3071fe"/>
<path d="M1096.5 987l10-3.4 11-3.1 5-1.7 6.4-2.6 9.4-4.4 4.2-2.3 10.1-6.1 32.9-18.8 12.9-7.6 10.7-5.5 7.9-3.5 4.3-1.6 5.7-1.8 6.4-1.8 6.5-1.5 17.8-3.6 8.6-1.5 7.9-1.1" stroke="#2f6dfe"/>
<path d="M1096.5 987l10-3.3 11-3 5-1.6 6.4-2.6 9.4-4.3 4.2-2.2 10.1-6.2 32.9-18.7 12.9-7.5 10.7-5.5 7.9-3.5 4.3-1.6 5.7-1.8 12.9-3.3 17.8-3.6 8.6-1.5 7.9-1.1" stroke="#2e69fd"/>
<path d="M1096.5 987l10-3.2 11-2.9 5-1.6 7.2-2.8 9.3-4.2 3.5-1.8 3.6-2.4 6.5-3.9 32.9-18.6 12.9-7.5 11.4-5.8 7.9-3.5 4.3-1.5 5.7-1.7 12.9-3.3 17.9-3.6 15.7-2.5" stroke="#2d65fd"/>
<path d="M1096.5 987l10-3 11-2.9 5-1.5 7.2-2.8 10-4.4 2.8-1.4 4.3-2.9 6.5-3.9 32.2-18.1 12.9-7.5 11.4-5.8 7.9-3.4 4.3-1.6 5.7-1.7 12.9-3.2 17.9-3.6 15.7-2.5" stroke="#2c61fc"/>
<path d="M1096.5 987.1l10-3 11-2.8 5-1.5 7.9-2.9 10-4.4 2.1-1 4.3-3 6.5-3.9 32.2-18 12.9-7.5 11.4-5.7 7.9-3.5 4.3-1.5 5.7-1.8 12.9-3.2 17.9-3.6 15.7-2.5" stroke="#2b5dfc"/>
<path d="M1096.5 987.1l10-2.9 11.7-2.9 5-1.5 7.9-2.9 10.7-4.6 0.7-0.3 5.1-3.6 5.7-3.4 32.2-18 12.1-7 11.5-5.8 8.6-3.8 4.3-1.5 5.7-1.8 12.9-3.2 17.9-3.6 15.7-2.6" stroke="#2a59fb"/>
<path d="M1096.5 987.1l10-2.8 11.7-2.8 5-1.4 8.6-3.1 10.7-4.5 3.6-2.7 6.5-4 33.6-18.8 11.4-6.6 11.5-5.7 8.6-3.8 4.3-1.5 5.7-1.8 12.9-3.2 17.9-3.7 15.7-2.5" stroke="#2955fb"/>
<path d="M1096.5 987.1l10-2.7 11.7-2.7 5-1.4 8.6-3 10.7-4.4 2.2-1.7 2.1-1.5 6.5-4 32.9-18.3 11.4-6.5 12.2-6.1 8.6-3.7 4.3-1.5 5.7-1.7 12.9-3.2 17.2-3.5 15.7-2.6" stroke="#2851fa"/>
<path d="M1097 987l9.5-2.5 11.7-2.6 5-1.3 8.6-2.9 10.7-4.3 2.2-1.8 2.1-1.5 6.5-4 32.9-18.2 11.4-6.6 12.2-6.1 8.6-3.6 4.3-1.5 6.4-1.9 12.9-3.2 17.2-3.5 15-2.4" stroke="#284ffa"/>
<path d="M1097 987l9.5-2.4 11.7-2.5 5-1.3 8.6-2.8 10.7-4.1 2.2-1.9 2.1-1.6 6.5-4 32.9-18.1 10.7-6.2 4.3-2.3 7.9-3.8 9.3-4 4.3-1.5 6.4-1.9 12.9-3.2 17.2-3.5 15-2.4" stroke="#274dfa"/>
<path d="M1097 987l9.5-2.3 11.7-2.4 5-1.2 8.6-2.7 10.7-4 2.2-2 3.6-2.6 4.3-2.6 7.1-4.1 25.8-14.1 14.3-8 10.7-5.2 7.9-3.3 4.3-1.5 6.4-2 12.9-3.2 17.2-3.5 15-2.4" stroke="#274cf9"/>
<path d="M1097 987l9.5-2.2 11.7-2.3 5-1.2 8.6-2.6 10.7-3.8 2.2-2.1 3.6-2.6 4.3-2.7 7.1-4.1 25.8-14 14.3-8 10.7-5.2 7.9-3.3 4.3-1.5 6.4-1.9 12.9-3.2 17.2-3.6 15-2.4" stroke="#264af9"/>
<path d="M1097 987l9.5-2.1 11.7-2.2 5-1.1 8.6-2.5 10.7-3.7 2.2-2.1 3.6-2.7 4.3-2.8 6.4-3.7 26.5-14.3 14.3-8 10.7-5.1 7.9-3.4 4.3-1.5 6.4-1.9 12.9-3.2 17.2-3.5 15-2.5" stroke="#2649f9"/>
<path d="M1097 987l9.5-2 11.7-2.1 5-1.1 8.6-2.4 10.7-3.5 2.2-2.2 3.6-2.8 4.3-2.7 6.4-3.7 26.5-14.3 14.3-8 11.4-5.4 7.9-3.3 4.3-1.4 6.4-1.9 12.9-3.2 16.5-3.4 15-2.5" stroke="#2547f9"/>
<path d="M1097 987l26.2-4.9 8.6-2.3 10.7-3.4 2.2-2.3 3.6-2.8 4.3-2.8 6.4-3.7 26.5-14.2 14.3-7.9 11.4-5.5 7.9-3.2 4.3-1.5 6.4-1.9 12.9-3.2 16.5-3.4 15-2.5" stroke="#2546f8"/>
<path d="M1097 987l26.2-4.7 8.6-2.2 10.7-3.2 2.2-2.4 3.6-2.9 4.3-2.8 6.4-3.7 27.2-14.5 13.6-7.5 11.4-5.5 7.9-3.2 4.3-1.4 6.4-1.9 12.9-3.3 16.5-3.4 15-2.5" stroke="#2444f8"/>
<path d="M1097 987l26.2-4.5 8.6-2 10.7-3.1 2.2-2.5 2.9-2.4 4.2-2.9 6.5-3.8 27.9-14.8 13.6-7.5 11.4-5.4 7.9-3.2 4.3-1.5 6.4-1.9 12.9-3.2 16.5-3.4 15-2.5" stroke="#2443f8"/>
<path d="M1097.5 987l25.7-4.2 8.6-2 10.7-2.9 2.2-2.6 2.9-2.5 4.2-2.9 6.5-3.7 27.9-14.8 13.6-7.4 11.4-5.4 7.9-3.2 10.7-3.4 12.9-3.2 16.5-3.5 15-2.5" stroke="#2341f8"/>
<path d="M1097.5 987l25.7-4 8.6-1.9 10.7-2.8 2.2-2.6 2.9-2.5 4.2-2.9 5.1-3 9.3-5 20-10.5 12.9-7 8.6-4.1 6.4-2.9 5-1.9 5-1.7 7.2-2.1 7.1-1.8 18.6-4.1 8.6-1.6 8.6-1.3" stroke="#2340f7"/>
<path d="M1097.5 987l25.7-3.8 8.6-1.7 10.7-2.7 2.2-2.7 2.9-2.5 4.2-3 5.1-3 10-5.4 19.3-10 12.9-7 8.6-4 6.4-2.9 5-1.9 5-1.7 7.2-2.1 7.1-1.8 18.6-4.1 8.6-1.6 8.6-1.4" stroke="#223ef7"/>
<path d="M1097.5 987l25.7-3.5 8.6-1.7 10.7-2.5 2.2-2.8 2.9-2.6 3.5-2.5 5-3 10.1-5.4 20-10.3 12.2-6.6 7.8-3.8 7.2-3.1 5-2 5-1.7 7.2-2.1 7.8-2.1 18.6-4.1 8.6-1.6 8.6-1.4" stroke="#223df7"/>
<path d="M1098 987l25.2-3.3 8.6-1.6 10.7-2.4 2.2-2.8 2.9-2.6 3.5-2.6 5-3 10.1-5.4 20-10.2 12.2-6.5 7.8-3.7 7.2-3.2 5-2 5-1.7 7.2-2.1 7.8-2 18.6-4.1 8.6-1.6 8.6-1.4" stroke="#213bf7"/>
<path d="M1098 987l25.2-3.1 8.6-1.5 10.7-2.2 2.2-2.9 2.9-2.7 3.5-2.5 5-3 10.1-5.4 20-10.1 12.2-6.5 7.8-3.7 7.2-3.1 5-2 5-1.7 7.2-2.1 7.8-2 18.6-4.1 8.6-1.7 8.6-1.4" stroke="#213af6"/>
<path d="M1098 987l25.2-2.9 8.6-1.4 10.7-2.1 2.2-2.9 2.9-2.7 3.5-2.6 5-2.9 8.6-4.6 21.5-10.8 12.2-6.4 7.1-3.4 7.2-3.1 5-2 5-1.7 7.1-2.1 7.9-2.1 9.3-2.2 10-2.1 8.6-1.7 8.6-1.4" stroke="#2038f6"/>
<path d="M1098 987l25.2-2.7 8.6-1.3 10.7-2 2.2-3 2.9-2.6 3.5-2.6 5-3 8.6-4.5 21.5-10.7 12.2-6.3 7.1-3.4 7.2-3.1 5-2 5-1.7 7.1-2.1 7.9-2.1 9.3-2.2 10-2.1 8.6-1.6 8.6-1.5" stroke="#2037f6"/>
<path d="M1098.5 987l24.7-2.5 8.6-1.2 10.7-1.8 2.2-3.1 2.9-2.7 3.5-2.5 5-3 8.6-4.5 21.5-10.5 12.2-6.3 14.3-6.4 5-2 5-1.7 7.1-2.1 7.9-2.1 9.3-2.2 10-2.1 8.6-1.7 8.6-1.4" stroke="#1f35f6"/>
<path d="M1098.5 987l24.7-2.3 8.6-1.1 10.7-1.7 2.2-3.1 2.9-2.7 3.5-2.6 5-2.9 8.6-4.5 21.5-10.4 12.2-6.2 13.5-6 5.1-2 5-1.7 7.8-2.4 7.9-2 19.3-4.4 8.6-1.6 8.6-1.5" stroke="#1f34f5"/>
<path d="M1099 987l24.2-2.1 8.6-1 10.7-1.6 2.2-3.1 2.9-2.7 3.5-2.6 5-2.9 9.3-4.8 20.8-9.9 12.2-6.1 13.5-6 5.1-1.9 5-1.8 7.8-2.3 7.9-2 19.3-4.4 8.6-1.7 8.6-1.4" stroke="#1e32f5"/>
<path d="M1099 987l24.2-1.9 8.6-1 10.7-1.4 2.2-3.1 2.9-2.8 3.5-2.5 5-2.9 9.3-4.7 20.8-9.7 12.2-6.1 13.5-5.9 5.1-1.9 5-1.7 7.8-2.4 7.9-2 19.3-4.4 8.6-1.7 8.6-1.4" stroke="#1e31f5"/>
<path d="M1099.5 987l24.4-1.8 18.6-2.1 2.2-3.2 2.9-2.7 3.5-2.5 5-2.8 9.3-4.7 20.8-9.6 12.2-6 12.8-5.5 5.8-2.2 5-1.7 7.1-2.1 7.9-2.1 19.3-4.4 9.3-1.8 8.6-1.5" stroke="#1d2ff4"/>
<path d="M1100 987l23.9-1.6 18.6-2 2.2-3.1 2.1-2.1 3.6-2.6 5.7-3.3 9.3-4.6 20.8-9.4 12.2-5.9 12.8-5.4 5.8-2.2 5-1.7 7.1-2.1 7.9-2 19.3-4.4 9.3-1.9 8.6-1.5" stroke="#1d2ef4"/>
<path d="M1100 987l23.9-1.4 18.6-1.8 2.2-3.1 2.1-2.1 3.6-2.6 5.7-3.2 9.3-4.5 20.8-9.3 12.9-6.1 12.1-5 5.8-2.1 5-1.7 7.8-2.3 7.9-2 19.3-4.4 17.2-3.2" stroke="#1c2df3"/>
<path d="M1100.5 987l23.4-1.3 18.6-1.6 2.2-3.1 2.1-2 3.6-2.6 5.7-3.1 9.3-4.5 20.8-9 12.9-6 12.1-4.9 5.8-2.1 5-1.7 7.8-2.2 7.9-2.1 19.3-4.4 17.2-3.2" stroke="#1c2bf3"/>
<path d="M1101 987l22.9-1.1 18.6-1.5 2.2-3 2.1-2 3.6-2.5 5-2.8 10-4.7 20.8-8.8 12.9-5.8 11.4-4.6 10.8-3.8 7.8-2.2 7.9-2.1 20-4.5 17.2-3.3" stroke="#1b2af2"/>
<path d="M1102 987l21.9-1 18.6-1.2 2.2-3 2.1-2 3.6-2.5 5-2.7 10-4.5 20.8-8.6 12.9-5.8 11.4-4.5 10.8-3.6 15.7-4.3 20-4.6 17.2-3.2" stroke="#1b29f2"/>
<path d="M1102.5 987l21.4-0.8 18.6-1.2 2.2-2.9 2.1-1.9 3.6-2.4 5-2.6 10-4.5 20.8-8.3 12.9-5.6 11.4-4.4 11.5-3.8 15.7-4.2 19.3-4.4 17.2-3.3" stroke="#1b28f2"/>
<path d="M1103.5 987l20.4-0.7 18.6-1 2.2-2.8 2.1-1.9 3.6-2.3 5-2.6 11.5-4.9 19.3-7.5 13.6-5.7 10-3.8 11.5-3.8 15.7-4.2 20-4.5 17.2-3.3" stroke="#1a26f1"/>
<path d="M1105 987l18.9-0.6 18.6-0.8 2.2-2.8 2.1-1.8 3.6-2.2 5-2.5 11.5-4.7 19.3-7.3 13.6-5.6 10-3.6 11.5-3.7 16.4-4.3 19.3-4.4 17.2-3.3" stroke="#1a25f1"/>
<path d="M1106.5 987l18.2-0.5 17.8-0.7 2.2-2.6 2.1-1.8 3.6-2.1 5-2.4 11.5-4.6 18.6-6.7 15-5.9 9.3-3.3 11.5-3.6 16.4-4.3 19.3-4.3 17.2-3.3" stroke="#1924f0"/>
<path d="M1108.5 987l16.2-0.4 17.8-0.5 2.2-2.6 2.1-1.6 3.6-2.1 5-2.3 10.8-4.1 18.6-6.5 15-5.7 10-3.4 11.5-3.5 16.4-4.2 20-4.5 16.5-3.2" stroke="#1922f0"/>
<path d="M1112 987l30.5-0.7 2.2-2.4 2.1-1.6 3.6-1.9 5-2.2 10-3.7 20.1-6.7 14.3-5.2 10-3.3 11.5-3.5 17.1-4.3 19.3-4.3 16.5-3.1" stroke="#1821ef"/>
<path d="M1116.5 987l26-0.5 2.2-2.3 2.1-1.5 3.6-1.8 4.3-1.8 10-3.5 20.8-6.6 14.3-5 10-3.2 12.2-3.5 17.1-4.2 19.4-4.3 15.7-3" stroke="#1820ef"/>
<path d="M1121.8 987l20.7-0.4 2.2-2 2.1-1.4 3.6-1.7 4.3-1.7 10-3.3 20.8-6.2 14.3-4.8 10-3.1 12.2-3.4 17.9-4.3 18.6-4.1 15.7-3" stroke="#171eee"/>
<path d="M1128.2 987l14.3-0.2 2.2-1.9 2.1-1.2 3.6-1.6 4.3-1.6 12.2-3.7 19.3-5.4 13.6-4.4 10.7-3.1 11.5-3.1 19.3-4.5 17.9-3.9 15-2.9" stroke="#171dee"/>
<path d="M1136.8 987l5.7-0.1 2.2-1.6 2.1-1.2 3.6-1.4 4.3-1.4 12.2-3.5 18.6-4.9 15-4.4 15.7-4.3 14.4-3.5 17.1-3.9 14.3-3 12.2-2.2" stroke="#171cee"/>
<path d="M1142.5 987l2.2-1.4 2.1-1 7.2-2.3 12.2-3.3 20-4.8 14.3-4 11.4-3 14.4-3.4 20-4.5 15-3.2 12.9-2.4" stroke="#161bed"/>
<path d="M1142.5 987.1l1.5-0.8 2.1-1 7.2-2.1 12.9-3.1 20-4.4 14.3-3.7 12.9-3.2 36.5-8.1 12.9-2.7 11.4-2.1" stroke="#1619ed"/>
<path d="M1142.5 987.2l2.2-0.9 2.1-0.7 7.2-1.8 32.2-6.5 24.3-5.7 35.8-7.8 15-3.1 12.9-2.5" stroke="#1518ec"/>
<path d="M1143.3 987l3.5-0.9 5.8-1.1 34.3-6.2 15.7-3.4 49.4-10.4 22.2-4.3" stroke="#1517ec"/>
<path d="M1144 987l43.6-6.6 35.8-6.9 35.1-7.3 15.7-3" stroke="#1415eb"/>
</g>
<path d="M1033.4 684.5l8 0.1 5.9 0.4 6 0.6 6 0.8 5.8 1.1 5.9 1.3 5.7 1.7 5.7 2 5.5 2.3 3.6 1.8 5.2 3 3.3 2.4 3.1 2.5 2.8 2.9 2.5 3.1 2.1 3.3 0.9 1.8 1.6 3.7 1.7 5.8 1.3 5.9 1.1 7.9 1 10 2.2 33.8 2.6 29.8 2.5 23.8 1.5 11.8 1.5 9.9" stroke="#7f0000" stroke-width="1"/>
<path class="k" d="M1074.5 987.2l3 0 2-1.4 1.5-1.5 1.5-1.8 2-3 1.5-2.6 2-4.1 3-7.1 3-8.1 14.5-43 5-14.3 16.2-42.9 5.7-14.3 2.9-6.4 3.5-7.4 3.6-6.8 3.6-6.2 3.6-5.8 3.5-5.3 4.3-5.8 3.6-4.4 4.3-4.6 4.3-4.1 5-4.2 5-3.8 4.3-2.9 4.3-2.5 5-2.4 5-2 4.3-1.4 4.3-1.2 14.3-3.3 12.2-3 5-1.1 7.9-1.2 9.3-1.1 6.4-0.5 9.3-0.6"/>
</g>
<rect class="f" x="1033.3" y="581.9" width="240.4" height="405.3"/>
<linearGradient id="cb" x1="0" y1="0" x2="0" y2="1">
<stop offset="0.000" stop-color="#780000"/>
<stop offset="0.100" stop-color="#ff0000"/>
<stop offset="0.200" stop-color="#ff1400"/>
<stop offset="0.250" stop-color="#ff4600"/>
<stop offset="0.300" stop-color="#ff8c00"/>
<stop offset="0.345" stop-color="#ffdc00"/>
<stop offset="0.370" stop-color="#faff00"/>
<stop offset="0.420" stop-color="#d2ff00"/>
<stop offset="0.490" stop-color="#aaff1e"/>
<stop offset="0.586" stop-color="#82ff96"/>
<stop offset="0.636" stop-color="#6effe6"/>
<stop offset="0.682" stop-color="#50faff"/>
<stop offset="0.706" stop-color="#46aaff"/>
<stop offset="0.736" stop-color="#3278ff"/>
<stop offset="0.786" stop-color="#2850fa"/>
<stop offset="0.885" stop-color="#1e32f5"/>
<stop offset="1.000" stop-color="#1414eb"/>
</linearGradient>
<rect x="1224.3" y="601.8" width="39.7" height="366.7" fill="url(#cb)" stroke="#000" stroke-width="1.2"/>
<path d="M1224.3 785.1h3M1264.0 785.1h-3" stroke="#000" stroke-width="1"/>
<text x="1219.2" y="610.0" text-anchor="end" style="font-size:24.3px">0.14</text>
<text x="1219.2" y="793.6" text-anchor="end" style="font-size:24.3px">0.07</text>
<text x="1219.2" y="976.5" text-anchor="end" style="font-size:24.3px">0</text>
<text class="a" x="1027.0" y="591.1" text-anchor="end">0.7</text>
<text class="a" x="1026.7" y="996.8" text-anchor="end">0</text>
<text class="a" x="1032.9" y="1017.2" text-anchor="middle">0</text>
<text class="a" x="1274.0" y="1017.2" text-anchor="middle">1</text>
<text class="i" x="1152.1" y="1049.8" text-anchor="middle">ξ</text>
<text class="e" transform="translate(977.8 787.7) rotate(-90)" text-anchor="middle">η</text>
<text class="a" x="1049.9" y="632.2">t</text>
<rect x="1062.7" y="621.6" width="7.4" height="2"/><rect x="1062.7" y="626.6" width="7.4" height="2"/>
<text class="a" x="1071.9" y="632.2">3.75</text>
</svg></body></html>
